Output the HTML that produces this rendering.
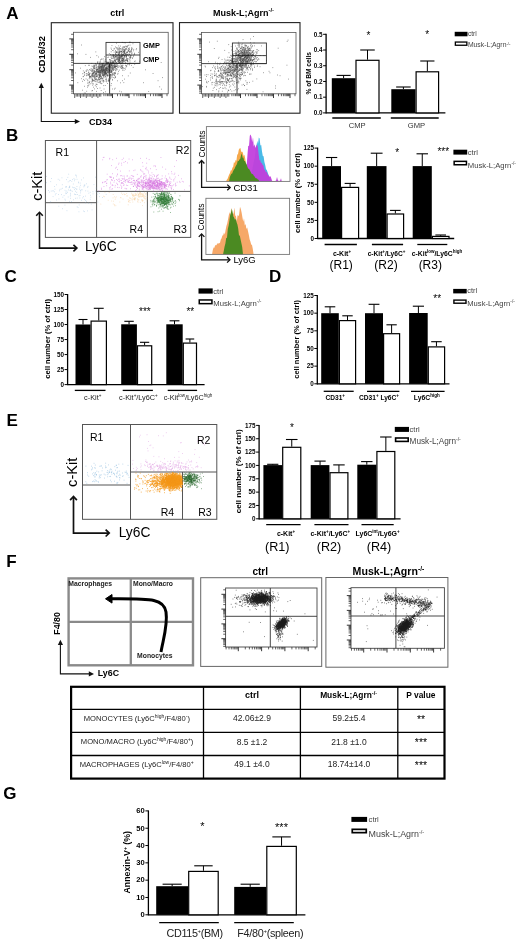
<!DOCTYPE html>
<html><head><meta charset="utf-8"><style>
html,body{margin:0;padding:0;background:#fff;}
svg{display:block;font-family:"Liberation Sans", sans-serif;filter:blur(0.4px);}
</style></head><body>
<svg width="520" height="941" viewBox="0 0 520 941">
<text x="6.2" y="19.1" font-size="17" font-weight="bold">A</text>
<text x="5.9" y="140.6" font-size="17" font-weight="bold">B</text>
<text x="4.4" y="281.9" font-size="17" font-weight="bold">C</text>
<text x="268.9" y="281.6" font-size="17" font-weight="bold">D</text>
<text x="6.6" y="425.6" font-size="17" font-weight="bold">E</text>
<text x="6.3" y="567.3" font-size="17" font-weight="bold">F</text>
<text x="3.2" y="799.3" font-size="17" font-weight="bold">G</text>
<text x="117.2" y="16.2" font-size="9" font-weight="bold" text-anchor="middle">ctrl</text>
<text x="243.5" y="16.2" font-size="9" font-weight="bold" text-anchor="middle">Musk-L;Agrn<tspan font-size="6" baseline-shift="3.6">-/-</tspan></text>
<rect x="51.3" y="22.7" width="121.7" height="90.5" fill="none" stroke="#222" stroke-width="1.1"/>
<rect x="73.5" y="32.3" width="94.69999999999999" height="61.5" fill="none" stroke="#555" stroke-width="0.8"/>
<line x1="71.1" y1="93.2" x2="73.5" y2="93.2" stroke="#222" stroke-width="0.7"/>
<line x1="71.1" y1="91.2" x2="73.5" y2="91.2" stroke="#222" stroke-width="0.7"/>
<line x1="71.1" y1="89.7" x2="73.5" y2="89.7" stroke="#222" stroke-width="0.7"/>
<line x1="71.1" y1="88.5" x2="73.5" y2="88.5" stroke="#222" stroke-width="0.7"/>
<line x1="71.1" y1="87.5" x2="73.5" y2="87.5" stroke="#222" stroke-width="0.7"/>
<line x1="71.1" y1="86.6" x2="73.5" y2="86.6" stroke="#222" stroke-width="0.7"/>
<line x1="71.1" y1="85.8" x2="73.5" y2="85.8" stroke="#222" stroke-width="0.7"/>
<line x1="69.3" y1="85.1" x2="73.5" y2="85.1" stroke="#222" stroke-width="0.9"/>
<line x1="71.1" y1="80.5" x2="73.5" y2="80.5" stroke="#222" stroke-width="0.7"/>
<line x1="71.1" y1="77.8" x2="73.5" y2="77.8" stroke="#222" stroke-width="0.7"/>
<line x1="71.1" y1="75.8" x2="73.5" y2="75.8" stroke="#222" stroke-width="0.7"/>
<line x1="71.1" y1="74.3" x2="73.5" y2="74.3" stroke="#222" stroke-width="0.7"/>
<line x1="71.1" y1="73.1" x2="73.5" y2="73.1" stroke="#222" stroke-width="0.7"/>
<line x1="71.1" y1="72.1" x2="73.5" y2="72.1" stroke="#222" stroke-width="0.7"/>
<line x1="71.1" y1="71.2" x2="73.5" y2="71.2" stroke="#222" stroke-width="0.7"/>
<line x1="71.1" y1="70.4" x2="73.5" y2="70.4" stroke="#222" stroke-width="0.7"/>
<line x1="69.3" y1="69.7" x2="73.5" y2="69.7" stroke="#222" stroke-width="0.9"/>
<line x1="71.1" y1="65.1" x2="73.5" y2="65.1" stroke="#222" stroke-width="0.7"/>
<line x1="71.1" y1="62.4" x2="73.5" y2="62.4" stroke="#222" stroke-width="0.7"/>
<line x1="71.1" y1="60.4" x2="73.5" y2="60.4" stroke="#222" stroke-width="0.7"/>
<line x1="71.1" y1="58.9" x2="73.5" y2="58.9" stroke="#222" stroke-width="0.7"/>
<line x1="71.1" y1="57.7" x2="73.5" y2="57.7" stroke="#222" stroke-width="0.7"/>
<line x1="71.1" y1="56.7" x2="73.5" y2="56.7" stroke="#222" stroke-width="0.7"/>
<line x1="71.1" y1="55.8" x2="73.5" y2="55.8" stroke="#222" stroke-width="0.7"/>
<line x1="71.1" y1="55.0" x2="73.5" y2="55.0" stroke="#222" stroke-width="0.7"/>
<line x1="69.3" y1="54.3" x2="73.5" y2="54.3" stroke="#222" stroke-width="0.9"/>
<line x1="71.1" y1="49.7" x2="73.5" y2="49.7" stroke="#222" stroke-width="0.7"/>
<line x1="71.1" y1="47.0" x2="73.5" y2="47.0" stroke="#222" stroke-width="0.7"/>
<line x1="71.1" y1="45.0" x2="73.5" y2="45.0" stroke="#222" stroke-width="0.7"/>
<line x1="71.1" y1="43.5" x2="73.5" y2="43.5" stroke="#222" stroke-width="0.7"/>
<line x1="71.1" y1="42.3" x2="73.5" y2="42.3" stroke="#222" stroke-width="0.7"/>
<line x1="71.1" y1="41.3" x2="73.5" y2="41.3" stroke="#222" stroke-width="0.7"/>
<line x1="71.1" y1="40.4" x2="73.5" y2="40.4" stroke="#222" stroke-width="0.7"/>
<line x1="71.1" y1="39.6" x2="73.5" y2="39.6" stroke="#222" stroke-width="0.7"/>
<line x1="69.3" y1="38.9" x2="73.5" y2="38.9" stroke="#222" stroke-width="0.9"/>
<line x1="71.1" y1="34.3" x2="73.5" y2="34.3" stroke="#222" stroke-width="0.7"/>
<line x1="74.7" y1="93.8" x2="74.7" y2="98.0" stroke="#222" stroke-width="0.7"/>
<line x1="76.2" y1="93.8" x2="76.2" y2="96.6" stroke="#222" stroke-width="0.7"/>
<line x1="77.6" y1="93.8" x2="77.6" y2="96.6" stroke="#222" stroke-width="0.7"/>
<line x1="79.1" y1="93.8" x2="79.1" y2="96.6" stroke="#222" stroke-width="0.7"/>
<line x1="80.5" y1="93.8" x2="80.5" y2="98.0" stroke="#222" stroke-width="0.7"/>
<line x1="82.0" y1="93.8" x2="82.0" y2="96.6" stroke="#222" stroke-width="0.7"/>
<line x1="83.4" y1="93.8" x2="83.4" y2="96.6" stroke="#222" stroke-width="0.7"/>
<line x1="84.9" y1="93.8" x2="84.9" y2="96.6" stroke="#222" stroke-width="0.7"/>
<line x1="86.3" y1="93.8" x2="86.3" y2="98.0" stroke="#222" stroke-width="0.7"/>
<line x1="87.8" y1="93.8" x2="87.8" y2="96.6" stroke="#222" stroke-width="0.7"/>
<line x1="89.2" y1="93.8" x2="89.2" y2="96.6" stroke="#222" stroke-width="0.7"/>
<line x1="90.7" y1="93.8" x2="90.7" y2="96.6" stroke="#222" stroke-width="0.7"/>
<line x1="92.1" y1="93.8" x2="92.1" y2="98.0" stroke="#222" stroke-width="0.7"/>
<line x1="93.6" y1="93.8" x2="93.6" y2="96.6" stroke="#222" stroke-width="0.7"/>
<line x1="95.0" y1="93.8" x2="95.0" y2="96.6" stroke="#222" stroke-width="0.7"/>
<line x1="96.5" y1="93.8" x2="96.5" y2="96.6" stroke="#222" stroke-width="0.7"/>
<line x1="97.9" y1="93.8" x2="97.9" y2="98.0" stroke="#222" stroke-width="0.7"/>
<line x1="99.4" y1="93.8" x2="99.4" y2="96.6" stroke="#222" stroke-width="0.7"/>
<line x1="100.8" y1="93.8" x2="100.8" y2="96.6" stroke="#222" stroke-width="0.7"/>
<line x1="103.9" y1="93.8" x2="103.9" y2="96.2" stroke="#222" stroke-width="0.7"/>
<line x1="105.9" y1="93.8" x2="105.9" y2="96.2" stroke="#222" stroke-width="0.7"/>
<line x1="107.5" y1="93.8" x2="107.5" y2="96.2" stroke="#222" stroke-width="0.7"/>
<line x1="108.8" y1="93.8" x2="108.8" y2="96.2" stroke="#222" stroke-width="0.7"/>
<line x1="109.9" y1="93.8" x2="109.9" y2="96.2" stroke="#222" stroke-width="0.7"/>
<line x1="110.9" y1="93.8" x2="110.9" y2="96.2" stroke="#222" stroke-width="0.7"/>
<line x1="111.7" y1="93.8" x2="111.7" y2="96.2" stroke="#222" stroke-width="0.7"/>
<line x1="112.5" y1="93.8" x2="112.5" y2="98.0" stroke="#222" stroke-width="0.9"/>
<line x1="117.5" y1="93.8" x2="117.5" y2="96.2" stroke="#222" stroke-width="0.7"/>
<line x1="120.4" y1="93.8" x2="120.4" y2="96.2" stroke="#222" stroke-width="0.7"/>
<line x1="122.4" y1="93.8" x2="122.4" y2="96.2" stroke="#222" stroke-width="0.7"/>
<line x1="124.0" y1="93.8" x2="124.0" y2="96.2" stroke="#222" stroke-width="0.7"/>
<line x1="125.3" y1="93.8" x2="125.3" y2="96.2" stroke="#222" stroke-width="0.7"/>
<line x1="126.4" y1="93.8" x2="126.4" y2="96.2" stroke="#222" stroke-width="0.7"/>
<line x1="127.4" y1="93.8" x2="127.4" y2="96.2" stroke="#222" stroke-width="0.7"/>
<line x1="128.2" y1="93.8" x2="128.2" y2="96.2" stroke="#222" stroke-width="0.7"/>
<line x1="129.0" y1="93.8" x2="129.0" y2="98.0" stroke="#222" stroke-width="0.9"/>
<line x1="134.0" y1="93.8" x2="134.0" y2="96.2" stroke="#222" stroke-width="0.7"/>
<line x1="136.9" y1="93.8" x2="136.9" y2="96.2" stroke="#222" stroke-width="0.7"/>
<line x1="138.9" y1="93.8" x2="138.9" y2="96.2" stroke="#222" stroke-width="0.7"/>
<line x1="140.5" y1="93.8" x2="140.5" y2="96.2" stroke="#222" stroke-width="0.7"/>
<line x1="141.8" y1="93.8" x2="141.8" y2="96.2" stroke="#222" stroke-width="0.7"/>
<line x1="142.9" y1="93.8" x2="142.9" y2="96.2" stroke="#222" stroke-width="0.7"/>
<line x1="143.9" y1="93.8" x2="143.9" y2="96.2" stroke="#222" stroke-width="0.7"/>
<line x1="144.7" y1="93.8" x2="144.7" y2="96.2" stroke="#222" stroke-width="0.7"/>
<line x1="145.5" y1="93.8" x2="145.5" y2="98.0" stroke="#222" stroke-width="0.9"/>
<line x1="150.5" y1="93.8" x2="150.5" y2="96.2" stroke="#222" stroke-width="0.7"/>
<line x1="153.4" y1="93.8" x2="153.4" y2="96.2" stroke="#222" stroke-width="0.7"/>
<line x1="155.4" y1="93.8" x2="155.4" y2="96.2" stroke="#222" stroke-width="0.7"/>
<line x1="157.0" y1="93.8" x2="157.0" y2="96.2" stroke="#222" stroke-width="0.7"/>
<line x1="158.3" y1="93.8" x2="158.3" y2="96.2" stroke="#222" stroke-width="0.7"/>
<line x1="159.4" y1="93.8" x2="159.4" y2="96.2" stroke="#222" stroke-width="0.7"/>
<line x1="160.4" y1="93.8" x2="160.4" y2="96.2" stroke="#222" stroke-width="0.7"/>
<line x1="161.2" y1="93.8" x2="161.2" y2="96.2" stroke="#222" stroke-width="0.7"/>
<line x1="162.0" y1="93.8" x2="162.0" y2="98.0" stroke="#222" stroke-width="0.9"/>
<line x1="167.0" y1="93.8" x2="167.0" y2="96.2" stroke="#222" stroke-width="0.7"/>
<rect x="179.5" y="22.6" width="120.5" height="90.6" fill="none" stroke="#222" stroke-width="1.1"/>
<rect x="201.5" y="32.5" width="94.5" height="61.3" fill="none" stroke="#555" stroke-width="0.8"/>
<line x1="199.1" y1="93.2" x2="201.5" y2="93.2" stroke="#222" stroke-width="0.7"/>
<line x1="199.1" y1="91.2" x2="201.5" y2="91.2" stroke="#222" stroke-width="0.7"/>
<line x1="199.1" y1="89.7" x2="201.5" y2="89.7" stroke="#222" stroke-width="0.7"/>
<line x1="199.1" y1="88.5" x2="201.5" y2="88.5" stroke="#222" stroke-width="0.7"/>
<line x1="199.1" y1="87.5" x2="201.5" y2="87.5" stroke="#222" stroke-width="0.7"/>
<line x1="199.1" y1="86.6" x2="201.5" y2="86.6" stroke="#222" stroke-width="0.7"/>
<line x1="199.1" y1="85.8" x2="201.5" y2="85.8" stroke="#222" stroke-width="0.7"/>
<line x1="197.3" y1="85.1" x2="201.5" y2="85.1" stroke="#222" stroke-width="0.9"/>
<line x1="199.1" y1="80.5" x2="201.5" y2="80.5" stroke="#222" stroke-width="0.7"/>
<line x1="199.1" y1="77.8" x2="201.5" y2="77.8" stroke="#222" stroke-width="0.7"/>
<line x1="199.1" y1="75.8" x2="201.5" y2="75.8" stroke="#222" stroke-width="0.7"/>
<line x1="199.1" y1="74.3" x2="201.5" y2="74.3" stroke="#222" stroke-width="0.7"/>
<line x1="199.1" y1="73.1" x2="201.5" y2="73.1" stroke="#222" stroke-width="0.7"/>
<line x1="199.1" y1="72.1" x2="201.5" y2="72.1" stroke="#222" stroke-width="0.7"/>
<line x1="199.1" y1="71.2" x2="201.5" y2="71.2" stroke="#222" stroke-width="0.7"/>
<line x1="199.1" y1="70.4" x2="201.5" y2="70.4" stroke="#222" stroke-width="0.7"/>
<line x1="197.3" y1="69.7" x2="201.5" y2="69.7" stroke="#222" stroke-width="0.9"/>
<line x1="199.1" y1="65.1" x2="201.5" y2="65.1" stroke="#222" stroke-width="0.7"/>
<line x1="199.1" y1="62.4" x2="201.5" y2="62.4" stroke="#222" stroke-width="0.7"/>
<line x1="199.1" y1="60.4" x2="201.5" y2="60.4" stroke="#222" stroke-width="0.7"/>
<line x1="199.1" y1="58.9" x2="201.5" y2="58.9" stroke="#222" stroke-width="0.7"/>
<line x1="199.1" y1="57.7" x2="201.5" y2="57.7" stroke="#222" stroke-width="0.7"/>
<line x1="199.1" y1="56.7" x2="201.5" y2="56.7" stroke="#222" stroke-width="0.7"/>
<line x1="199.1" y1="55.8" x2="201.5" y2="55.8" stroke="#222" stroke-width="0.7"/>
<line x1="199.1" y1="55.0" x2="201.5" y2="55.0" stroke="#222" stroke-width="0.7"/>
<line x1="197.3" y1="54.3" x2="201.5" y2="54.3" stroke="#222" stroke-width="0.9"/>
<line x1="199.1" y1="49.7" x2="201.5" y2="49.7" stroke="#222" stroke-width="0.7"/>
<line x1="199.1" y1="47.0" x2="201.5" y2="47.0" stroke="#222" stroke-width="0.7"/>
<line x1="199.1" y1="45.0" x2="201.5" y2="45.0" stroke="#222" stroke-width="0.7"/>
<line x1="199.1" y1="43.5" x2="201.5" y2="43.5" stroke="#222" stroke-width="0.7"/>
<line x1="199.1" y1="42.3" x2="201.5" y2="42.3" stroke="#222" stroke-width="0.7"/>
<line x1="199.1" y1="41.3" x2="201.5" y2="41.3" stroke="#222" stroke-width="0.7"/>
<line x1="199.1" y1="40.4" x2="201.5" y2="40.4" stroke="#222" stroke-width="0.7"/>
<line x1="199.1" y1="39.6" x2="201.5" y2="39.6" stroke="#222" stroke-width="0.7"/>
<line x1="197.3" y1="38.9" x2="201.5" y2="38.9" stroke="#222" stroke-width="0.9"/>
<line x1="199.1" y1="34.3" x2="201.5" y2="34.3" stroke="#222" stroke-width="0.7"/>
<line x1="202.7" y1="93.8" x2="202.7" y2="98.0" stroke="#222" stroke-width="0.7"/>
<line x1="204.1" y1="93.8" x2="204.1" y2="96.6" stroke="#222" stroke-width="0.7"/>
<line x1="205.6" y1="93.8" x2="205.6" y2="96.6" stroke="#222" stroke-width="0.7"/>
<line x1="207.0" y1="93.8" x2="207.0" y2="96.6" stroke="#222" stroke-width="0.7"/>
<line x1="208.5" y1="93.8" x2="208.5" y2="98.0" stroke="#222" stroke-width="0.7"/>
<line x1="209.9" y1="93.8" x2="209.9" y2="96.6" stroke="#222" stroke-width="0.7"/>
<line x1="211.4" y1="93.8" x2="211.4" y2="96.6" stroke="#222" stroke-width="0.7"/>
<line x1="212.8" y1="93.8" x2="212.8" y2="96.6" stroke="#222" stroke-width="0.7"/>
<line x1="214.3" y1="93.8" x2="214.3" y2="98.0" stroke="#222" stroke-width="0.7"/>
<line x1="215.7" y1="93.8" x2="215.7" y2="96.6" stroke="#222" stroke-width="0.7"/>
<line x1="217.2" y1="93.8" x2="217.2" y2="96.6" stroke="#222" stroke-width="0.7"/>
<line x1="218.6" y1="93.8" x2="218.6" y2="96.6" stroke="#222" stroke-width="0.7"/>
<line x1="220.1" y1="93.8" x2="220.1" y2="98.0" stroke="#222" stroke-width="0.7"/>
<line x1="221.5" y1="93.8" x2="221.5" y2="96.6" stroke="#222" stroke-width="0.7"/>
<line x1="223.0" y1="93.8" x2="223.0" y2="96.6" stroke="#222" stroke-width="0.7"/>
<line x1="224.4" y1="93.8" x2="224.4" y2="96.6" stroke="#222" stroke-width="0.7"/>
<line x1="225.9" y1="93.8" x2="225.9" y2="98.0" stroke="#222" stroke-width="0.7"/>
<line x1="227.3" y1="93.8" x2="227.3" y2="96.6" stroke="#222" stroke-width="0.7"/>
<line x1="228.8" y1="93.8" x2="228.8" y2="96.6" stroke="#222" stroke-width="0.7"/>
<line x1="231.9" y1="93.8" x2="231.9" y2="96.2" stroke="#222" stroke-width="0.7"/>
<line x1="233.9" y1="93.8" x2="233.9" y2="96.2" stroke="#222" stroke-width="0.7"/>
<line x1="235.5" y1="93.8" x2="235.5" y2="96.2" stroke="#222" stroke-width="0.7"/>
<line x1="236.8" y1="93.8" x2="236.8" y2="96.2" stroke="#222" stroke-width="0.7"/>
<line x1="237.9" y1="93.8" x2="237.9" y2="96.2" stroke="#222" stroke-width="0.7"/>
<line x1="238.9" y1="93.8" x2="238.9" y2="96.2" stroke="#222" stroke-width="0.7"/>
<line x1="239.7" y1="93.8" x2="239.7" y2="96.2" stroke="#222" stroke-width="0.7"/>
<line x1="240.5" y1="93.8" x2="240.5" y2="98.0" stroke="#222" stroke-width="0.9"/>
<line x1="245.5" y1="93.8" x2="245.5" y2="96.2" stroke="#222" stroke-width="0.7"/>
<line x1="248.4" y1="93.8" x2="248.4" y2="96.2" stroke="#222" stroke-width="0.7"/>
<line x1="250.4" y1="93.8" x2="250.4" y2="96.2" stroke="#222" stroke-width="0.7"/>
<line x1="252.0" y1="93.8" x2="252.0" y2="96.2" stroke="#222" stroke-width="0.7"/>
<line x1="253.3" y1="93.8" x2="253.3" y2="96.2" stroke="#222" stroke-width="0.7"/>
<line x1="254.4" y1="93.8" x2="254.4" y2="96.2" stroke="#222" stroke-width="0.7"/>
<line x1="255.4" y1="93.8" x2="255.4" y2="96.2" stroke="#222" stroke-width="0.7"/>
<line x1="256.2" y1="93.8" x2="256.2" y2="96.2" stroke="#222" stroke-width="0.7"/>
<line x1="257.0" y1="93.8" x2="257.0" y2="98.0" stroke="#222" stroke-width="0.9"/>
<line x1="262.0" y1="93.8" x2="262.0" y2="96.2" stroke="#222" stroke-width="0.7"/>
<line x1="264.9" y1="93.8" x2="264.9" y2="96.2" stroke="#222" stroke-width="0.7"/>
<line x1="266.9" y1="93.8" x2="266.9" y2="96.2" stroke="#222" stroke-width="0.7"/>
<line x1="268.5" y1="93.8" x2="268.5" y2="96.2" stroke="#222" stroke-width="0.7"/>
<line x1="269.8" y1="93.8" x2="269.8" y2="96.2" stroke="#222" stroke-width="0.7"/>
<line x1="270.9" y1="93.8" x2="270.9" y2="96.2" stroke="#222" stroke-width="0.7"/>
<line x1="271.9" y1="93.8" x2="271.9" y2="96.2" stroke="#222" stroke-width="0.7"/>
<line x1="272.7" y1="93.8" x2="272.7" y2="96.2" stroke="#222" stroke-width="0.7"/>
<line x1="273.5" y1="93.8" x2="273.5" y2="98.0" stroke="#222" stroke-width="0.9"/>
<line x1="278.5" y1="93.8" x2="278.5" y2="96.2" stroke="#222" stroke-width="0.7"/>
<line x1="281.4" y1="93.8" x2="281.4" y2="96.2" stroke="#222" stroke-width="0.7"/>
<line x1="283.4" y1="93.8" x2="283.4" y2="96.2" stroke="#222" stroke-width="0.7"/>
<line x1="285.0" y1="93.8" x2="285.0" y2="96.2" stroke="#222" stroke-width="0.7"/>
<line x1="286.3" y1="93.8" x2="286.3" y2="96.2" stroke="#222" stroke-width="0.7"/>
<line x1="287.4" y1="93.8" x2="287.4" y2="96.2" stroke="#222" stroke-width="0.7"/>
<line x1="288.4" y1="93.8" x2="288.4" y2="96.2" stroke="#222" stroke-width="0.7"/>
<line x1="289.2" y1="93.8" x2="289.2" y2="96.2" stroke="#222" stroke-width="0.7"/>
<line x1="290.0" y1="93.8" x2="290.0" y2="98.0" stroke="#222" stroke-width="0.9"/>
<line x1="295.0" y1="93.8" x2="295.0" y2="96.2" stroke="#222" stroke-width="0.7"/>
<path d="M73.4 63.4H140 M109.6 63.4V93.8" stroke="#333" stroke-width="0.9" fill="none"/>
<rect x="106" y="42.4" width="34" height="21" fill="none" stroke="#333" stroke-width="0.9"/>
<line x1="106" y1="55" x2="140" y2="55" stroke="#333" stroke-width="0.9"/>
<text x="143" y="48.2" font-size="7.4" font-weight="bold">GMP</text>
<text x="143" y="62.2" font-size="7.4" font-weight="bold">CMP</text>
<path d="M201.4 63.6H266.4 M237 63.6V93.8" stroke="#333" stroke-width="0.9" fill="none"/>
<rect x="232.4" y="43" width="34" height="20.6" fill="none" stroke="#333" stroke-width="0.9"/>
<line x1="232.4" y1="55.6" x2="266.4" y2="55.6" stroke="#333" stroke-width="0.9"/>
<path d="M104.6 71.1h0.7M100.0 68.0h0.7M98.4 68.4h0.7M107.3 74.6h0.7M98.9 70.0h0.7M108.6 69.1h0.7M102.9 66.1h0.7M105.2 72.7h0.7M92.6 74.4h0.7M86.5 73.9h0.7M89.2 77.4h0.7M94.7 76.7h0.7M104.8 68.6h0.7M83.3 79.4h0.7M103.9 70.6h0.7M91.1 75.1h0.7M94.7 71.5h0.7M110.6 62.3h0.7M105.6 73.4h0.7M99.2 72.2h0.7M105.0 69.7h0.7M94.6 75.8h0.7M111.3 58.3h0.7M110.9 66.6h0.7M103.2 80.2h0.7M107.4 62.2h0.7M105.8 71.8h0.7M104.0 73.3h0.7M104.9 72.7h0.7M113.8 61.1h0.7M104.6 67.4h0.7M102.5 65.1h0.7M99.1 71.9h0.7M113.4 70.1h0.7M92.0 73.1h0.7M104.9 59.8h0.7M100.2 71.7h0.7M115.2 66.9h0.7M100.7 70.1h0.7M105.2 76.7h0.7M100.0 70.8h0.7M106.5 68.0h0.7M100.1 66.8h0.7M103.0 68.4h0.7M114.5 67.1h0.7M105.2 72.5h0.7M103.6 75.4h0.7M105.2 72.1h0.7M94.7 77.1h0.7M86.6 70.2h0.7M99.7 68.1h0.7M110.0 77.4h0.7M96.2 71.5h0.7M106.6 70.9h0.7M102.2 70.0h0.7M110.6 68.7h0.7M95.8 74.4h0.7M102.1 66.0h0.7M104.2 65.7h0.7M112.0 66.3h0.7M103.5 67.4h0.7M98.9 63.3h0.7M95.9 76.4h0.7M89.2 82.7h0.7M92.0 80.6h0.7M99.0 76.6h0.7M101.8 63.8h0.7M116.8 69.6h0.7M102.9 69.3h0.7M100.7 67.2h0.7M111.4 63.1h0.7M101.9 67.3h0.7M96.4 68.2h0.7M113.5 63.8h0.7M111.6 65.7h0.7M97.9 71.9h0.7M99.7 72.5h0.7M100.4 70.6h0.7M91.6 73.3h0.7M115.5 60.1h0.7M96.5 76.0h0.7M111.9 58.4h0.7M101.0 68.6h0.7M91.8 80.6h0.7M104.0 70.4h0.7M99.1 75.0h0.7M99.5 71.9h0.7M92.8 70.6h0.7M113.3 62.1h0.7M106.2 68.6h0.7M99.5 70.1h0.7M108.3 66.1h0.7M102.9 70.8h0.7M114.6 67.2h0.7M105.8 66.2h0.7M95.2 79.7h0.7M111.2 65.1h0.7M109.9 70.4h0.7M112.4 69.6h0.7M103.6 77.6h0.7M96.1 78.7h0.7M109.7 71.0h0.7M121.8 66.9h0.7M91.5 69.0h0.7M108.2 62.6h0.7M105.7 73.1h0.7M86.8 69.7h0.7M106.1 69.0h0.7M102.2 71.2h0.7M94.1 68.4h0.7M100.7 67.2h0.7M92.3 79.2h0.7M104.4 71.8h0.7M94.9 72.1h0.7M94.4 71.3h0.7M103.9 66.3h0.7M107.5 69.6h0.7M116.9 55.8h0.7M110.7 65.7h0.7M100.8 64.8h0.7M102.0 74.8h0.7M103.5 70.7h0.7M104.2 75.5h0.7M99.2 62.1h0.7M94.5 66.0h0.7M77.5 82.7h0.7M114.5 64.2h0.7M92.9 71.9h0.7M113.1 65.5h0.7M104.3 69.6h0.7M106.0 72.8h0.7M108.8 68.3h0.7M96.9 76.6h0.7M101.0 77.1h0.7M93.8 75.2h0.7M101.2 65.2h0.7M120.5 67.6h0.7M102.0 74.9h0.7M101.5 58.8h0.7M105.8 68.7h0.7M102.4 65.7h0.7M101.5 70.6h0.7M114.0 65.9h0.7M107.2 75.6h0.7M98.9 71.1h0.7M93.1 83.9h0.7M113.4 69.0h0.7M109.4 67.4h0.7M105.2 68.1h0.7M102.5 71.1h0.7M117.0 65.2h0.7M102.3 68.2h0.7M102.4 78.7h0.7M108.1 68.0h0.7M99.0 67.5h0.7M105.3 73.5h0.7M100.5 70.9h0.7M102.5 71.4h0.7M91.1 76.3h0.7M99.2 77.1h0.7M99.2 75.6h0.7M115.2 62.0h0.7M99.7 73.4h0.7M101.9 66.4h0.7M111.8 75.3h0.7M101.6 70.4h0.7M96.5 75.9h0.7M92.0 71.6h0.7M112.1 60.9h0.7M115.6 70.7h0.7M107.2 70.8h0.7M118.8 60.5h0.7M96.5 67.7h0.7M107.4 75.2h0.7M109.5 62.3h0.7M96.3 72.0h0.7M105.8 67.9h0.7M106.3 70.1h0.7M101.6 71.2h0.7M105.4 68.8h0.7M111.9 74.5h0.7M108.7 67.5h0.7M91.7 79.0h0.7M85.9 73.6h0.7M112.1 68.7h0.7M99.2 64.5h0.7M99.7 69.2h0.7M113.7 75.3h0.7M104.1 66.2h0.7M94.8 75.1h0.7M100.2 66.6h0.7M102.5 65.3h0.7M114.9 68.9h0.7M111.5 63.4h0.7M107.7 67.2h0.7M100.3 70.5h0.7M90.8 70.6h0.7M109.8 65.7h0.7M107.8 72.7h0.7M88.8 74.9h0.7M106.2 70.6h0.7M103.2 75.4h0.7M103.1 64.6h0.7M98.4 77.1h0.7M103.6 61.0h0.7M115.8 66.1h0.7M113.7 62.6h0.7M99.3 67.2h0.7M123.4 57.9h0.7M115.0 60.5h0.7M101.8 63.2h0.7M103.1 75.3h0.7M96.5 79.5h0.7M104.4 64.7h0.7M99.1 70.6h0.7M102.5 68.3h0.7M96.9 72.6h0.7M93.3 69.9h0.7M105.5 73.4h0.7M92.1 76.9h0.7M96.9 69.4h0.7M109.6 64.3h0.7M114.0 60.4h0.7M106.5 67.4h0.7M99.4 75.5h0.7M104.1 72.9h0.7M101.4 66.3h0.7M103.3 70.6h0.7M109.6 62.4h0.7M100.1 63.9h0.7M106.8 63.1h0.7M89.8 77.9h0.7M109.4 59.5h0.7M94.0 72.2h0.7M96.0 76.5h0.7M96.2 71.0h0.7M107.0 64.6h0.7M105.3 64.5h0.7M90.7 68.8h0.7M117.8 60.5h0.7M105.8 68.8h0.7M105.4 69.5h0.7M116.7 57.6h0.7M89.7 73.3h0.7M95.2 78.7h0.7M108.4 62.8h0.7M92.4 75.0h0.7M108.9 53.5h0.7M105.8 63.7h0.7M109.8 61.4h0.7M98.6 65.8h0.7M99.3 79.4h0.7M109.6 64.8h0.7M93.2 67.0h0.7M100.9 71.7h0.7M103.1 70.0h0.7M95.1 74.8h0.7M106.4 74.9h0.7M118.3 61.1h0.7M97.9 73.2h0.7M97.7 70.0h0.7M101.4 66.5h0.7M108.5 66.9h0.7M105.6 68.2h0.7M96.3 69.8h0.7M101.0 69.1h0.7M105.8 68.9h0.7M93.5 76.4h0.7M92.2 73.8h0.7M97.3 63.8h0.7M105.0 70.1h0.7M101.9 69.2h0.7M99.0 68.1h0.7M100.7 69.2h0.7M102.2 65.2h0.7M106.1 69.5h0.7M102.0 69.0h0.7M104.8 61.5h0.7M108.1 68.8h0.7M107.0 70.1h0.7M98.4 72.0h0.7M109.9 68.7h0.7M102.4 63.6h0.7M110.6 71.8h0.7M112.4 66.3h0.7M93.8 80.4h0.7M97.5 61.5h0.7M103.8 62.9h0.7M92.6 73.5h0.7M113.1 62.9h0.7M109.8 75.1h0.7M116.2 62.5h0.7M99.5 66.5h0.7M99.5 74.7h0.7M107.3 68.6h0.7M110.1 62.7h0.7M105.1 72.9h0.7M110.8 71.3h0.7M106.4 67.1h0.7M104.7 64.7h0.7M92.4 79.5h0.7M104.2 71.4h0.7M90.0 76.3h0.7M97.5 69.6h0.7M85.7 78.9h0.7M111.8 67.3h0.7M99.3 72.7h0.7M104.1 56.6h0.7M104.2 72.5h0.7M112.9 73.1h0.7M113.5 66.0h0.7M108.0 71.5h0.7M99.7 72.3h0.7M115.2 73.0h0.7M102.7 70.5h0.7M108.4 74.0h0.7M106.8 75.5h0.7M96.1 73.7h0.7M104.1 73.8h0.7M109.0 59.8h0.7M97.6 75.3h0.7M95.7 67.4h0.7M113.1 67.1h0.7M106.8 66.1h0.7M111.5 64.5h0.7M110.6 61.8h0.7M97.8 74.6h0.7M99.9 75.6h0.7M104.1 65.5h0.7M103.8 68.4h0.7M109.8 63.6h0.7M103.1 76.4h0.7M125.6 67.2h0.7M105.0 70.5h0.7M115.7 62.6h0.7M96.6 74.8h0.7M105.8 65.0h0.7M88.2 72.2h0.7M107.6 64.2h0.7M103.3 71.4h0.7M108.1 66.0h0.7M106.0 64.5h0.7M99.0 67.9h0.7M112.8 64.8h0.7M97.5 72.0h0.7M103.7 73.5h0.7M89.4 73.4h0.7M106.4 80.9h0.7M111.2 65.3h0.7M113.9 74.3h0.7M101.4 69.7h0.7M114.5 66.3h0.7M108.2 65.1h0.7M122.6 67.6h0.7M109.8 69.9h0.7M89.5 81.4h0.7M103.4 72.5h0.7M108.6 65.7h0.7M91.6 78.9h0.7M97.5 72.1h0.7M98.6 71.5h0.7M88.6 84.8h0.7M108.3 72.9h0.7M119.5 61.2h0.7M88.1 74.9h0.7M93.5 73.6h0.7M100.4 62.4h0.7M103.5 63.0h0.7M106.1 68.3h0.7M101.4 71.1h0.7M98.5 70.2h0.7M90.8 77.5h0.7M122.5 68.9h0.7M115.8 66.6h0.7M101.8 78.3h0.7M103.4 70.0h0.7M101.9 71.6h0.7M100.4 71.7h0.7M94.8 73.5h0.7M121.6 59.5h0.7M103.3 73.0h0.7M107.2 62.8h0.7M104.3 74.3h0.7M106.4 69.2h0.7M114.7 60.5h0.7M103.6 67.7h0.7M111.5 56.2h0.7M97.7 71.1h0.7M110.4 69.2h0.7M111.6 58.0h0.7M109.2 65.6h0.7M99.9 75.0h0.7M92.5 66.6h0.7M98.0 66.2h0.7M99.7 74.3h0.7M109.8 74.4h0.7M99.2 65.3h0.7M96.2 70.1h0.7M95.4 77.1h0.7M94.8 65.7h0.7M109.2 66.5h0.7M107.0 68.8h0.7M109.0 67.3h0.7M114.5 66.0h0.7M107.9 69.7h0.7M92.3 76.0h0.7M102.4 71.9h0.7M96.8 82.1h0.7M102.3 65.1h0.7M90.1 76.7h0.7M101.8 67.8h0.7M103.4 67.3h0.7M106.8 64.9h0.7M105.8 73.7h0.7M121.9 54.8h0.7M98.6 69.0h0.7M107.7 62.3h0.7M100.2 72.1h0.7M94.4 70.9h0.7M95.9 64.5h0.7M91.9 75.0h0.7M104.8 68.7h0.7M89.2 76.3h0.7M111.4 68.4h0.7M101.5 67.1h0.7M107.7 65.1h0.7M93.2 72.3h0.7M115.8 64.3h0.7M112.0 63.0h0.7M110.0 63.6h0.7M108.0 79.8h0.7M108.9 64.7h0.7M104.0 71.6h0.7M112.4 62.8h0.7M89.8 76.8h0.7M104.3 70.3h0.7M114.9 65.2h0.7M108.0 62.3h0.7M115.2 73.7h0.7M110.6 67.4h0.7M109.0 75.8h0.7M96.5 73.8h0.7M109.1 70.6h0.7M101.2 73.1h0.7M102.1 71.7h0.7M100.6 66.4h0.7M105.7 73.3h0.7M96.0 73.5h0.7M106.9 63.1h0.7M103.2 65.3h0.7M117.7 73.3h0.7M119.3 60.1h0.7M110.0 67.1h0.7M108.0 75.2h0.7M95.9 79.8h0.7M106.6 75.3h0.7M104.0 66.7h0.7M107.7 71.4h0.7M105.3 71.6h0.7M95.5 64.6h0.7M112.5 68.5h0.7M105.3 69.6h0.7M111.1 63.7h0.7M98.1 72.5h0.7M110.4 59.6h0.7M111.9 62.3h0.7M98.1 79.5h0.7M100.5 65.7h0.7M103.2 75.0h0.7M112.4 63.1h0.7M108.7 70.8h0.7M99.7 74.2h0.7M102.6 68.2h0.7M100.3 72.5h0.7M103.0 67.8h0.7M103.0 76.0h0.7M107.5 72.3h0.7M114.6 66.7h0.7M120.0 56.8h0.7M109.6 65.2h0.7M122.0 67.8h0.7M86.7 75.3h0.7M110.8 69.9h0.7M109.6 66.4h0.7M108.9 70.3h0.7M105.6 74.1h0.7M87.7 82.5h0.7M98.0 78.1h0.7M100.4 67.8h0.7M105.0 65.0h0.7M93.6 68.4h0.7M104.8 71.9h0.7M111.7 64.9h0.7M112.2 65.3h0.7M104.5 72.5h0.7M111.5 64.0h0.7M101.8 70.5h0.7M102.8 66.4h0.7M111.2 63.9h0.7M105.9 64.9h0.7M107.6 69.8h0.7M105.0 79.2h0.7M110.6 74.8h0.7M110.1 63.3h0.7M101.9 73.3h0.7M104.6 69.9h0.7M98.0 64.7h0.7M97.6 62.9h0.7M105.4 65.7h0.7M98.0 72.4h0.7M103.1 63.6h0.7M88.1 74.0h0.7M86.1 75.7h0.7M114.2 59.0h0.7M106.2 62.1h0.7M105.7 67.5h0.7M104.7 72.3h0.7M118.1 62.8h0.7M102.9 65.9h0.7M108.0 66.5h0.7M110.4 66.1h0.7M113.4 55.0h0.7M103.5 74.5h0.7M99.6 68.7h0.7M99.0 66.2h0.7M110.1 78.3h0.7M110.6 60.8h0.7M96.3 72.5h0.7M110.1 62.5h0.7M100.5 76.3h0.7M110.0 64.7h0.7M92.0 69.4h0.7M93.9 65.0h0.7M108.5 64.3h0.7M111.7 74.6h0.7M110.7 60.5h0.7M113.2 70.3h0.7M96.2 69.9h0.7M99.8 64.7h0.7M110.4 54.6h0.7M94.8 74.0h0.7M102.6 71.6h0.7M105.7 68.0h0.7M108.4 57.1h0.7M102.5 67.4h0.7M105.5 70.2h0.7M95.5 71.8h0.7M110.9 67.7h0.7M103.0 80.5h0.7M118.9 54.3h0.7M111.6 77.8h0.7M110.6 67.3h0.7M101.2 69.0h0.7M101.2 69.0h0.7M109.0 65.2h0.7M98.0 67.6h0.7M101.7 67.0h0.7M104.8 74.6h0.7M107.9 70.2h0.7M106.9 68.6h0.7M102.4 69.5h0.7M107.6 62.6h0.7M114.5 64.1h0.7M97.1 71.6h0.7M99.1 73.6h0.7M100.8 77.4h0.7M93.1 65.3h0.7M94.1 66.0h0.7M105.9 74.0h0.7M106.2 62.2h0.7M101.8 79.9h0.7M106.5 68.6h0.7M117.4 74.2h0.7M114.4 64.7h0.7M108.1 70.6h0.7M97.0 68.9h0.7M102.4 66.3h0.7M103.7 70.6h0.7M120.5 56.4h0.7M102.7 70.0h0.7M109.6 71.8h0.7M98.5 69.2h0.7M89.3 74.0h0.7M108.3 67.8h0.7M95.3 73.2h0.7M105.3 71.7h0.7M98.8 71.8h0.7M87.4 74.0h0.7M112.0 54.8h0.7M101.8 72.3h0.7M99.4 68.7h0.7M103.5 70.3h0.7M99.4 63.5h0.7M101.1 67.6h0.7M100.2 73.3h0.7M110.9 70.4h0.7M102.1 75.6h0.7M115.5 68.9h0.7M114.5 63.2h0.7M104.4 73.8h0.7M93.8 76.9h0.7M99.1 71.0h0.7M88.6 74.6h0.7M105.7 73.3h0.7M111.5 65.3h0.7M100.8 67.8h0.7M106.6 67.3h0.7M112.4 73.6h0.7M100.6 64.7h0.7M94.2 68.6h0.7M97.4 80.1h0.7M102.6 63.5h0.7M111.7 71.6h0.7M99.8 69.2h0.7M102.0 72.6h0.7M111.5 71.4h0.7M115.9 68.9h0.7M116.0 66.3h0.7M91.8 76.4h0.7M105.6 67.2h0.7M110.3 64.6h0.7M99.8 79.4h0.7M109.7 67.8h0.7M113.5 69.7h0.7M101.5 59.5h0.7M97.8 71.4h0.7M96.7 75.2h0.7M112.3 62.9h0.7M99.4 82.5h0.7M97.9 67.5h0.7M106.7 70.5h0.7M100.2 76.0h0.7M98.3 68.8h0.7M107.0 72.0h0.7M99.8 74.1h0.7M109.2 80.7h0.7M101.4 78.2h0.7M103.3 69.8h0.7M111.5 70.0h0.7M114.6 65.5h0.7M98.2 70.7h0.7M109.2 69.8h0.7M115.8 65.2h0.7M115.4 70.7h0.7M102.2 63.9h0.7M91.8 70.1h0.7M114.6 59.8h0.7M114.8 66.6h0.7M119.5 65.9h0.7M102.8 69.7h0.7M105.0 70.3h0.7M99.8 72.3h0.7M113.0 56.6h0.7M104.1 65.5h0.7M107.2 72.2h0.7M105.2 73.1h0.7M93.9 81.2h0.7M100.6 75.0h0.7M100.0 59.8h0.7M98.6 74.2h0.7M116.7 64.1h0.7M103.0 63.7h0.7M118.9 70.1h0.7M103.8 69.1h0.7M93.2 80.5h0.7M126.6 60.4h0.7M115.0 66.3h0.7M99.1 79.3h0.7M93.9 74.8h0.7M108.0 72.0h0.7M108.1 69.5h0.7M95.4 68.7h0.7M103.0 67.1h0.7M91.1 71.3h0.7M96.3 65.5h0.7M90.1 70.1h0.7M106.3 70.7h0.7M116.5 55.5h0.7M100.6 76.4h0.7M101.6 69.8h0.7M128.2 48.7h0.7M113.1 55.2h0.7M124.4 55.9h0.7M113.2 57.2h0.7M126.0 56.2h0.7M121.2 60.6h0.7M118.9 47.4h0.7M122.0 58.6h0.7M113.0 50.2h0.7M123.1 59.8h0.7M121.9 42.4h0.7M129.5 42.6h0.7M129.8 57.2h0.7M126.6 53.1h0.7M119.0 62.4h0.7M111.2 49.3h0.7M136.1 48.6h0.7M126.8 46.2h0.7M133.1 56.7h0.7M128.5 50.4h0.7M116.4 59.6h0.7M107.5 57.5h0.7M119.3 52.0h0.7M121.0 56.2h0.7M134.1 53.9h0.7M125.5 60.6h0.7M117.7 57.5h0.7M122.0 48.2h0.7M116.7 52.1h0.7M127.5 61.6h0.7M119.5 59.5h0.7M114.7 54.9h0.7M121.3 65.7h0.7M133.4 49.4h0.7M121.2 61.1h0.7M123.1 60.1h0.7M124.1 56.0h0.7M122.8 51.7h0.7M115.0 51.1h0.7M115.7 52.3h0.7M118.4 53.0h0.7M123.8 57.3h0.7M113.5 58.0h0.7M120.3 62.1h0.7M131.8 53.1h0.7M125.0 62.6h0.7M120.2 66.9h0.7M110.7 48.1h0.7M138.0 52.4h0.7M118.2 60.3h0.7M121.4 57.1h0.7M113.6 58.7h0.7M124.7 55.2h0.7M127.3 52.1h0.7M129.7 45.1h0.7M117.2 48.0h0.7M120.8 65.3h0.7M119.7 61.3h0.7M118.5 52.4h0.7M118.9 55.3h0.7M122.3 60.5h0.7M123.0 51.6h0.7M119.0 60.2h0.7M124.8 60.1h0.7M135.8 49.7h0.7M121.3 55.5h0.7M115.6 55.7h0.7M116.6 58.1h0.7M122.5 60.2h0.7M119.7 56.7h0.7M121.9 66.4h0.7M129.7 60.8h0.7M130.0 58.7h0.7M123.2 59.5h0.7M129.6 41.9h0.7M132.2 58.1h0.7M126.1 57.3h0.7M125.3 49.0h0.7M121.0 51.3h0.7M117.1 56.1h0.7M121.8 57.1h0.7M119.5 49.0h0.7M134.2 53.2h0.7M124.0 52.0h0.7M123.3 58.4h0.7M118.5 48.2h0.7M134.4 64.3h0.7M117.2 66.4h0.7M123.2 54.2h0.7M124.2 46.6h0.7M127.3 60.9h0.7M119.8 55.1h0.7M121.1 53.9h0.7M125.8 47.0h0.7M121.8 48.1h0.7M124.6 53.2h0.7M110.8 65.4h0.7M116.0 58.2h0.7M125.1 46.2h0.7M122.0 65.3h0.7M127.4 61.4h0.7M120.6 51.5h0.7M125.6 60.9h0.7M126.1 52.6h0.7M121.9 55.4h0.7M125.6 65.4h0.7M118.4 51.7h0.7M122.2 60.5h0.7M124.3 53.1h0.7M119.2 58.5h0.7M110.6 57.2h0.7M123.9 51.3h0.7M127.5 59.2h0.7M124.9 53.7h0.7M133.3 50.8h0.7M122.8 60.1h0.7M121.1 51.3h0.7M121.8 55.1h0.7M112.9 62.5h0.7M119.4 55.4h0.7M113.7 60.6h0.7M122.2 56.5h0.7M119.1 62.5h0.7M116.0 59.6h0.7M125.5 48.6h0.7M123.2 61.9h0.7M119.4 56.3h0.7M126.3 59.2h0.7M109.8 60.9h0.7M114.2 55.6h0.7M115.6 55.9h0.7M120.5 51.6h0.7M123.8 57.1h0.7M119.3 59.1h0.7M130.1 51.3h0.7M119.0 58.1h0.7M118.9 60.3h0.7M123.1 49.8h0.7M124.6 60.9h0.7M120.5 58.5h0.7M115.0 56.6h0.7M126.5 65.9h0.7M118.6 55.5h0.7M119.1 57.4h0.7M125.3 54.4h0.7M131.3 49.5h0.7M129.0 51.9h0.7M120.1 48.6h0.7M121.3 56.2h0.7M114.3 48.9h0.7M124.5 51.5h0.7M119.4 56.6h0.7M122.3 58.3h0.7M113.8 57.1h0.7M123.7 55.5h0.7M118.6 55.2h0.7M118.3 58.7h0.7M123.7 47.9h0.7M131.0 53.7h0.7M122.5 60.5h0.7M110.5 54.8h0.7M115.3 59.1h0.7M119.0 55.3h0.7M115.8 47.8h0.7M119.7 49.0h0.7M117.9 56.8h0.7M112.9 55.0h0.7M117.7 59.5h0.7M126.2 56.0h0.7M115.4 56.6h0.7M119.5 60.9h0.7M117.2 67.8h0.7M117.5 54.8h0.7M126.6 58.6h0.7M126.7 58.7h0.7M126.4 60.0h0.7M126.9 51.2h0.7M128.6 51.5h0.7M119.5 52.3h0.7M123.2 59.9h0.7M118.5 63.0h0.7M124.3 55.8h0.7M112.4 63.4h0.7M122.4 50.9h0.7M115.0 46.9h0.7M122.8 51.2h0.7M120.0 46.1h0.7M124.2 52.7h0.7M122.5 49.7h0.7M126.3 66.4h0.7M116.3 56.3h0.7M117.7 53.2h0.7M132.3 58.1h0.7M113.7 52.1h0.7M130.4 55.9h0.7M129.0 57.3h0.7M117.8 58.4h0.7M111.8 55.7h0.7M124.1 50.1h0.7M131.8 48.2h0.7M121.8 61.2h0.7M131.1 51.4h0.7M118.0 61.7h0.7M126.3 49.3h0.7M121.9 62.5h0.7M119.2 51.5h0.7M118.1 54.6h0.7M123.6 55.4h0.7M129.0 54.5h0.7M116.7 63.0h0.7M127.2 54.5h0.7M124.6 50.3h0.7M120.9 62.8h0.7M110.8 51.8h0.7M124.1 49.7h0.7M116.4 51.9h0.7M112.8 56.4h0.7M121.6 58.6h0.7M114.6 66.9h0.7M113.7 56.3h0.7M124.6 53.3h0.7M121.2 68.2h0.7M119.1 60.0h0.7M127.2 60.5h0.7M123.2 61.3h0.7M122.3 62.7h0.7M117.7 57.4h0.7M131.0 50.5h0.7M129.4 63.9h0.7M121.0 51.7h0.7M121.4 49.1h0.7M130.5 56.4h0.7M117.6 55.7h0.7M122.8 55.4h0.7M119.6 61.5h0.7M112.1 61.6h0.7M119.5 56.4h0.7M119.5 50.4h0.7M123.9 53.3h0.7M115.0 53.3h0.7M118.1 61.5h0.7M118.1 59.6h0.7M129.7 56.0h0.7M127.7 49.4h0.7M120.6 63.6h0.7M126.8 59.0h0.7M125.7 60.4h0.7M127.8 55.6h0.7M125.3 55.7h0.7M123.7 56.0h0.7M124.6 50.6h0.7M129.0 49.5h0.7M125.9 52.2h0.7M127.2 64.3h0.7M116.8 52.4h0.7M118.0 57.4h0.7M131.7 49.1h0.7M122.8 49.0h0.7M125.6 57.2h0.7M127.4 47.1h0.7M125.5 55.0h0.7M117.6 59.5h0.7M113.7 48.4h0.7M126.2 55.9h0.7M116.0 52.6h0.7M129.1 51.7h0.7M130.6 57.6h0.7M122.3 60.8h0.7M120.8 56.6h0.7M121.6 56.3h0.7M127.1 52.5h0.7M120.5 55.5h0.7M120.7 51.5h0.7M119.7 57.6h0.7M119.3 57.6h0.7M125.6 65.5h0.7M129.0 53.0h0.7M128.5 64.2h0.7M123.1 54.5h0.7M124.2 56.1h0.7M127.9 50.9h0.7M128.1 45.3h0.7M121.8 49.9h0.7M128.6 48.4h0.7M124.6 59.6h0.7M123.9 47.5h0.7M116.2 52.1h0.7M122.3 55.1h0.7M118.4 54.7h0.7M118.1 54.6h0.7M128.9 59.7h0.7M113.5 62.4h0.7M121.8 59.3h0.7M117.5 58.8h0.7M119.8 62.2h0.7M121.9 55.1h0.7M122.8 53.8h0.7M117.3 63.7h0.7M122.7 54.4h0.7M129.9 57.0h0.7M115.0 57.0h0.7M132.9 55.7h0.7M115.2 54.3h0.7M117.8 56.4h0.7M115.4 61.7h0.7M112.9 56.1h0.7M123.8 50.2h0.7M123.6 58.6h0.7M124.4 51.9h0.7M119.6 52.8h0.7M131.4 52.2h0.7M117.4 59.9h0.7M126.5 55.2h0.7M133.9 54.6h0.7M119.5 57.6h0.7M117.4 61.4h0.7M131.0 65.4h0.7M116.0 48.0h0.7M119.5 58.8h0.7M114.0 57.3h0.7M121.5 58.5h0.7M118.6 53.3h0.7M123.7 51.2h0.7M115.6 52.7h0.7M120.7 61.2h0.7M115.0 61.5h0.7M123.9 52.1h0.7M119.6 51.0h0.7M130.9 55.4h0.7M117.6 48.7h0.7M120.6 63.3h0.7M130.1 51.0h0.7M125.4 49.4h0.7M121.2 56.7h0.7M119.1 48.9h0.7M130.0 57.5h0.7M113.0 55.1h0.7M121.5 52.4h0.7M114.5 67.4h0.7M121.2 53.7h0.7M131.3 49.0h0.7M119.1 59.0h0.7M115.3 56.9h0.7M121.9 52.6h0.7M125.2 63.7h0.7M128.1 55.9h0.7M125.7 55.9h0.7M128.1 50.8h0.7M126.9 45.9h0.7M116.7 51.8h0.7M122.2 59.1h0.7M126.1 48.4h0.7M120.9 54.7h0.7M115.2 54.2h0.7M116.9 49.4h0.7M122.5 55.7h0.7M116.1 54.6h0.7M121.9 67.8h0.7M121.2 66.5h0.7M123.4 52.5h0.7M120.3 63.9h0.7M126.4 46.5h0.7M124.0 60.9h0.7M129.6 62.2h0.7M121.3 60.0h0.7M123.2 68.1h0.7M112.1 50.5h0.7M121.0 55.9h0.7M129.0 48.0h0.7M123.8 58.2h0.7M128.5 50.2h0.7M128.0 54.2h0.7M121.0 57.3h0.7M119.3 52.5h0.7M122.8 46.6h0.7M129.9 55.4h0.7M119.2 53.5h0.7M122.5 58.5h0.7M126.0 54.4h0.7M124.5 50.4h0.7M118.1 49.4h0.7M125.7 53.9h0.7M123.8 61.7h0.7M116.2 43.2h0.7M117.7 50.5h0.7M134.2 61.4h0.7M120.0 58.1h0.7M122.0 58.2h0.7M128.7 58.5h0.7M122.7 65.3h0.7M118.9 60.3h0.7M129.1 54.5h0.7M115.9 56.7h0.7M119.9 57.4h0.7M122.8 47.2h0.7M125.8 56.6h0.7M125.8 55.7h0.7M129.9 52.4h0.7M127.3 55.0h0.7M123.7 42.7h0.7M114.0 67.4h0.7M96.3 70.2h0.7M82.2 81.3h0.7M96.6 81.3h0.7M91.6 90.9h0.7M104.0 72.2h0.7M92.6 73.3h0.7M89.1 76.8h0.7M101.5 73.8h0.7M87.1 79.9h0.7M93.6 80.2h0.7M122.4 70.3h0.7M94.1 66.1h0.7M82.9 70.9h0.7M107.0 66.8h0.7M100.8 70.8h0.7M107.1 83.5h0.7M94.2 76.0h0.7M96.5 84.3h0.7M88.4 72.6h0.7M84.0 72.5h0.7M114.3 89.1h0.7M94.9 85.7h0.7M101.2 66.8h0.7M98.6 74.8h0.7M100.8 90.5h0.7M84.1 86.3h0.7M103.6 69.8h0.7M106.1 79.9h0.7M104.8 76.9h0.7M102.9 58.9h0.7M123.5 82.6h0.7M114.8 76.9h0.7M87.6 80.8h0.7M92.2 75.0h0.7M109.3 65.4h0.7M95.1 63.5h0.7M100.7 76.3h0.7M92.8 73.7h0.7M117.2 58.6h0.7M89.1 74.8h0.7M120.2 82.8h0.7M103.2 68.9h0.7M100.9 83.7h0.7M97.2 88.5h0.7M116.3 68.9h0.7M110.7 76.8h0.7M114.4 61.1h0.7M112.7 67.1h0.7M94.6 79.2h0.7M96.9 69.7h0.7M83.3 76.4h0.7M122.3 80.7h0.7M112.0 79.5h0.7M96.6 76.9h0.7M101.6 66.8h0.7M92.4 80.2h0.7M95.7 69.7h0.7M105.1 71.5h0.7M112.2 70.2h0.7M99.4 77.2h0.7M98.3 71.6h0.7M100.2 81.6h0.7M112.3 80.2h0.7M84.0 80.4h0.7M98.4 78.0h0.7M96.0 73.8h0.7M110.3 72.5h0.7M94.3 88.9h0.7M110.2 66.7h0.7M108.1 66.5h0.7M112.6 68.4h0.7M92.9 76.4h0.7M94.9 79.8h0.7M103.9 74.4h0.7M85.6 54.4h0.7M97.3 62.5h0.7M107.8 81.0h0.7M103.6 71.3h0.7M99.8 75.0h0.7M94.8 73.8h0.7M96.3 86.8h0.7M104.7 81.1h0.7M99.7 76.6h0.7M101.7 78.7h0.7M111.0 72.7h0.7M93.0 73.2h0.7M117.7 65.5h0.7M103.4 85.6h0.7M114.4 73.3h0.7M105.0 91.8h0.7M107.5 76.6h0.7M96.1 66.8h0.7M89.9 83.8h0.7M105.2 71.7h0.7M86.1 71.3h0.7M94.4 67.3h0.7M114.4 78.1h0.7M132.8 67.4h0.7M93.5 72.2h0.7M103.1 82.0h0.7M109.8 75.9h0.7M106.1 78.2h0.7M113.3 61.5h0.7M93.3 68.3h0.7M122.0 75.7h0.7M106.0 63.9h0.7M103.0 72.7h0.7M102.2 73.4h0.7M106.0 70.1h0.7M111.2 72.6h0.7M98.7 75.7h0.7M100.0 82.2h0.7M100.2 78.1h0.7M93.7 67.4h0.7M107.9 64.1h0.7M110.0 74.5h0.7M82.7 76.7h0.7M94.4 72.2h0.7M92.4 85.2h0.7M100.8 78.6h0.7M98.6 78.9h0.7M94.4 78.3h0.7M107.9 72.6h0.7M94.2 70.2h0.7M104.7 76.4h0.7M97.1 71.3h0.7M114.8 88.2h0.7M100.0 78.5h0.7M98.2 57.0h0.7M101.1 69.9h0.7M115.1 67.0h0.7M93.6 77.2h0.7M102.0 70.7h0.7M97.5 66.7h0.7M102.0 81.0h0.7M123.7 70.3h0.7M108.2 81.2h0.7M117.1 80.8h0.7M112.4 69.2h0.7M105.1 74.9h0.7M105.6 74.9h0.7M88.0 65.3h0.7M89.3 65.3h0.7M102.7 74.7h0.7M87.3 87.2h0.7M110.9 71.6h0.7M124.2 79.1h0.7M93.0 87.2h0.7M107.6 75.6h0.7M109.2 66.1h0.7M93.6 72.5h0.7M94.2 77.9h0.7M84.4 75.1h0.7M107.5 71.9h0.7M100.2 61.2h0.7M92.5 75.1h0.7M100.6 71.1h0.7M111.1 70.3h0.7M102.2 75.0h0.7M107.7 68.7h0.7M114.6 72.7h0.7M103.7 74.5h0.7M110.2 79.0h0.7M112.5 73.0h0.7M111.1 71.7h0.7M114.4 69.0h0.7M85.3 93.1h0.7M99.6 67.1h0.7M97.4 70.3h0.7M124.4 68.4h0.7M88.0 85.8h0.7M103.7 89.0h0.7M84.9 65.6h0.7M101.6 72.5h0.7M91.5 63.4h0.7M111.2 83.6h0.7M86.4 91.3h0.7M103.3 92.5h0.7M105.8 71.8h0.7M114.6 73.2h0.7M98.2 82.3h0.7M91.6 66.0h0.7M121.2 63.3h0.7M96.9 80.0h0.7M82.4 73.7h0.7M95.5 74.0h0.7M106.0 81.8h0.7M98.7 80.3h0.7M104.8 65.3h0.7M101.5 68.0h0.7M114.0 72.9h0.7M98.2 66.4h0.7M100.9 69.6h0.7M108.7 71.0h0.7M96.6 84.6h0.7M107.4 67.9h0.7M112.7 67.7h0.7M99.3 77.2h0.7M93.2 75.7h0.7M104.9 85.5h0.7M116.2 66.4h0.7M117.9 67.2h0.7M108.4 78.8h0.7M112.1 89.0h0.7M100.9 66.3h0.7M113.8 66.3h0.7M90.1 57.4h0.7M114.4 75.5h0.7M112.9 77.5h0.7M118.7 66.8h0.7M109.1 65.9h0.7M101.6 83.3h0.7M102.0 64.7h0.7M105.1 72.2h0.7M95.1 81.6h0.7M93.3 66.9h0.7M96.2 91.4h0.7M87.6 83.5h0.7M110.0 76.2h0.7M88.8 78.7h0.7M105.8 79.4h0.7M92.1 70.6h0.7M115.3 77.4h0.7M103.9 69.4h0.7M106.4 73.8h0.7M106.7 63.2h0.7M102.7 73.5h0.7M91.6 81.5h0.7M101.1 72.2h0.7M101.8 64.2h0.7M102.7 78.0h0.7M108.0 80.5h0.7M85.6 71.0h0.7M105.7 76.8h0.7M125.0 69.1h0.7M95.7 84.2h0.7M89.2 69.5h0.7M129.0 64.9h0.7M110.8 75.3h0.7M120.9 68.4h0.7M111.1 62.8h0.7M92.3 90.5h0.7M118.2 71.4h0.7M104.7 75.0h0.7M99.7 88.0h0.7M110.1 75.1h0.7M108.8 79.9h0.7M109.2 77.4h0.7M91.9 83.7h0.7M122.3 61.5h0.7M103.4 81.3h0.7M113.4 74.5h0.7M87.4 85.7h0.7M87.8 75.3h0.7M106.6 70.6h0.7M119.4 91.2h0.7M111.9 76.0h0.7M91.2 75.1h0.7M89.8 76.6h0.7M89.2 75.9h0.7M97.0 69.6h0.7M83.8 73.0h0.7M106.7 73.3h0.7M115.3 76.9h0.7M100.6 80.8h0.7M113.3 68.1h0.7M91.5 82.8h0.7M81.1 78.7h0.7M109.7 72.0h0.7M99.9 83.3h0.7M92.5 81.6h0.7M94.5 71.9h0.7M103.7 66.5h0.7M119.2 62.4h0.7M118.6 58.8h0.7M104.5 64.6h0.7M89.1 82.2h0.7M150.9 58.0h0.7M159.4 86.8h0.7M127.1 60.4h0.7M84.2 75.0h0.7M143.1 82.7h0.7M134.9 61.0h0.7M101.2 63.6h0.7M152.7 73.5h0.7M118.4 45.9h0.7M80.1 68.2h0.7M81.1 45.0h0.7M95.5 51.9h0.7M129.9 73.0h0.7M148.4 91.5h0.7M83.9 93.0h0.7M77.0 53.8h0.7M131.0 47.8h0.7M111.9 67.5h0.7M114.7 63.4h0.7M148.9 60.1h0.7M157.7 80.7h0.7M162.1 77.6h0.7M145.1 69.8h0.7M75.3 72.9h0.7M88.5 70.8h0.7M127.9 75.9h0.7M161.0 89.2h0.7M82.3 90.2h0.7M121.3 91.9h0.7M110.7 85.6h0.7M111.6 45.6h0.7M99.2 63.9h0.7M99.4 81.4h0.7M96.5 55.6h0.7M84.3 72.2h0.7M124.9 42.9h0.7M115.1 50.8h0.7M139.2 61.2h0.7M132.6 43.7h0.7M160.8 62.5h0.7" stroke="#1a1a1a" stroke-width="0.7" opacity="0.8"/>
<path d="M252.1 59.7h0.7M240.8 57.2h0.7M249.0 50.4h0.7M242.8 62.1h0.7M250.7 46.6h0.7M228.6 52.7h0.7M239.5 57.1h0.7M247.9 54.0h0.7M241.7 58.2h0.7M239.9 57.5h0.7M247.2 72.3h0.7M247.5 49.8h0.7M238.9 55.4h0.7M235.0 55.0h0.7M243.0 62.4h0.7M241.2 52.3h0.7M235.7 51.9h0.7M244.2 54.9h0.7M249.6 50.3h0.7M251.0 55.5h0.7M240.9 44.7h0.7M239.9 62.6h0.7M252.6 54.5h0.7M248.1 52.3h0.7M241.7 53.0h0.7M250.7 56.1h0.7M243.1 54.6h0.7M248.5 56.8h0.7M244.2 67.2h0.7M246.3 55.6h0.7M254.7 59.0h0.7M245.6 59.2h0.7M238.2 54.4h0.7M235.8 67.1h0.7M236.6 63.4h0.7M238.7 52.0h0.7M244.5 57.9h0.7M251.8 64.8h0.7M248.7 60.3h0.7M243.4 61.1h0.7M244.8 53.1h0.7M244.4 55.8h0.7M246.8 57.9h0.7M240.8 52.8h0.7M245.4 45.0h0.7M245.0 65.9h0.7M229.6 57.2h0.7M245.2 45.4h0.7M253.1 36.5h0.7M255.6 62.1h0.7M249.3 53.0h0.7M245.0 50.3h0.7M246.9 48.2h0.7M245.6 62.1h0.7M238.5 56.0h0.7M243.1 48.1h0.7M251.7 55.7h0.7M237.1 58.6h0.7M239.6 53.8h0.7M243.9 51.9h0.7M248.5 50.2h0.7M250.0 53.9h0.7M248.3 51.3h0.7M240.0 50.5h0.7M249.9 60.2h0.7M258.6 59.3h0.7M245.9 54.3h0.7M247.0 55.1h0.7M254.5 58.6h0.7M239.3 53.7h0.7M252.7 55.2h0.7M246.2 63.1h0.7M242.4 55.2h0.7M238.6 45.8h0.7M247.0 47.6h0.7M240.5 52.9h0.7M248.6 54.2h0.7M241.6 46.5h0.7M241.5 47.8h0.7M247.3 57.5h0.7M249.1 67.6h0.7M249.0 58.4h0.7M245.3 54.6h0.7M252.3 60.4h0.7M240.4 64.4h0.7M249.6 60.5h0.7M244.9 48.1h0.7M242.7 68.5h0.7M243.4 47.5h0.7M246.1 53.3h0.7M230.8 46.6h0.7M237.3 60.5h0.7M244.2 54.7h0.7M247.7 58.9h0.7M233.5 58.3h0.7M238.2 50.6h0.7M241.9 56.3h0.7M240.6 48.3h0.7M246.6 68.3h0.7M236.1 48.5h0.7M247.6 58.8h0.7M245.1 48.8h0.7M248.5 49.7h0.7M237.9 54.7h0.7M245.9 60.2h0.7M248.2 54.7h0.7M250.0 54.7h0.7M246.7 46.4h0.7M238.5 63.3h0.7M237.2 56.9h0.7M243.5 53.4h0.7M245.5 64.7h0.7M233.7 65.7h0.7M256.9 51.8h0.7M246.4 60.1h0.7M252.0 45.9h0.7M245.1 54.8h0.7M248.2 55.8h0.7M247.5 52.4h0.7M243.9 52.1h0.7M241.3 56.5h0.7M241.9 49.7h0.7M252.8 52.3h0.7M240.1 64.8h0.7M242.2 60.3h0.7M245.4 57.4h0.7M244.7 52.4h0.7M249.4 67.4h0.7M233.6 60.6h0.7M245.1 49.2h0.7M242.3 70.8h0.7M247.3 68.4h0.7M247.9 55.4h0.7M248.8 58.7h0.7M252.0 56.2h0.7M246.1 56.7h0.7M253.7 58.1h0.7M238.5 54.3h0.7M245.4 51.9h0.7M241.1 51.3h0.7M244.5 58.9h0.7M250.2 54.2h0.7M255.6 51.7h0.7M263.6 55.6h0.7M246.5 52.3h0.7M230.1 60.4h0.7M249.9 66.5h0.7M241.8 69.3h0.7M245.2 60.6h0.7M232.2 61.6h0.7M244.6 60.5h0.7M243.1 49.4h0.7M251.3 58.1h0.7M250.2 60.6h0.7M250.6 53.8h0.7M235.1 50.7h0.7M253.4 57.5h0.7M244.6 53.4h0.7M245.2 56.1h0.7M241.8 52.7h0.7M256.7 53.2h0.7M239.2 49.8h0.7M242.7 61.4h0.7M248.5 53.3h0.7M244.6 54.2h0.7M241.9 65.4h0.7M252.0 69.3h0.7M240.8 56.6h0.7M249.1 53.0h0.7M235.9 53.3h0.7M246.2 57.7h0.7M246.6 61.8h0.7M250.8 56.0h0.7M244.6 54.5h0.7M249.7 60.1h0.7M246.2 58.4h0.7M240.4 48.7h0.7M241.4 62.2h0.7M250.6 64.1h0.7M247.1 60.8h0.7M253.9 59.1h0.7M241.5 56.1h0.7M243.6 50.2h0.7M249.6 60.9h0.7M246.6 68.0h0.7M243.1 55.4h0.7M242.3 52.5h0.7M247.2 55.3h0.7M254.8 56.3h0.7M247.3 53.7h0.7M237.5 58.2h0.7M242.6 63.0h0.7M248.3 65.4h0.7M250.5 59.3h0.7M246.6 56.7h0.7M250.3 60.0h0.7M242.3 60.1h0.7M258.4 50.6h0.7M242.3 52.6h0.7M240.0 65.4h0.7M245.9 57.6h0.7M259.7 66.7h0.7M242.6 63.6h0.7M249.0 57.1h0.7M247.4 55.0h0.7M254.5 56.5h0.7M249.4 62.4h0.7M250.6 56.9h0.7M250.3 65.3h0.7M247.5 54.5h0.7M239.9 55.7h0.7M239.8 58.6h0.7M242.1 44.0h0.7M246.4 59.6h0.7M243.9 50.3h0.7M250.1 49.7h0.7M236.5 52.2h0.7M247.0 61.6h0.7M251.5 55.0h0.7M237.5 54.5h0.7M240.0 56.7h0.7M236.1 60.0h0.7M248.0 54.0h0.7M245.5 49.8h0.7M236.2 55.1h0.7M253.1 59.6h0.7M245.1 63.6h0.7M246.4 65.1h0.7M246.6 52.5h0.7M247.5 50.1h0.7M237.2 49.6h0.7M246.2 55.2h0.7M243.8 53.8h0.7M251.6 50.9h0.7M243.8 64.4h0.7M253.0 55.2h0.7M234.8 55.9h0.7M248.2 54.9h0.7M250.2 45.4h0.7M247.2 51.2h0.7M251.7 53.1h0.7M249.0 50.4h0.7M235.4 52.4h0.7M239.8 51.4h0.7M254.0 61.3h0.7M244.3 49.7h0.7M243.0 52.4h0.7M253.2 55.0h0.7M246.7 52.8h0.7M233.0 55.4h0.7M240.0 60.2h0.7M243.9 51.3h0.7M246.2 65.6h0.7M238.2 52.6h0.7M242.4 52.5h0.7M243.9 59.8h0.7M250.3 42.7h0.7M245.0 56.3h0.7M244.2 55.1h0.7M245.3 62.3h0.7M242.3 56.2h0.7M245.2 56.6h0.7M246.2 62.0h0.7M245.3 57.0h0.7M242.7 50.4h0.7M238.6 51.6h0.7M244.5 51.6h0.7M240.0 59.3h0.7M244.1 45.1h0.7M253.8 53.0h0.7M246.6 62.2h0.7M244.1 52.5h0.7M254.1 45.8h0.7M246.2 61.0h0.7M239.3 57.4h0.7M251.9 68.8h0.7M240.3 57.4h0.7M248.6 55.2h0.7M239.6 60.6h0.7M246.5 58.3h0.7M252.9 59.6h0.7M247.7 57.0h0.7M239.0 57.3h0.7M245.3 53.3h0.7M243.8 51.2h0.7M257.3 65.2h0.7M243.8 59.0h0.7M246.4 63.6h0.7M247.4 55.6h0.7M244.1 57.1h0.7M241.2 61.7h0.7M242.4 60.4h0.7M247.9 61.9h0.7M247.0 61.8h0.7M241.5 61.2h0.7M244.2 57.5h0.7M247.3 61.1h0.7M235.2 61.6h0.7M239.8 65.6h0.7M232.7 54.1h0.7M239.7 68.4h0.7M238.6 59.1h0.7M238.5 46.9h0.7M244.6 60.4h0.7M246.0 61.7h0.7M243.1 56.7h0.7M243.7 58.7h0.7M255.6 54.5h0.7M244.7 52.1h0.7M244.1 65.7h0.7M237.4 52.9h0.7M243.6 53.8h0.7M250.3 39.0h0.7M248.3 59.3h0.7M237.9 54.5h0.7M250.6 64.4h0.7M237.0 48.8h0.7M253.2 62.8h0.7M238.7 44.1h0.7M252.1 52.1h0.7M250.7 53.6h0.7M242.1 54.2h0.7M255.6 61.3h0.7M232.0 54.7h0.7M253.4 50.6h0.7M238.0 58.6h0.7M244.2 55.7h0.7M241.9 55.2h0.7M243.3 58.7h0.7M240.2 55.9h0.7M246.9 63.6h0.7M246.7 54.7h0.7M248.6 57.3h0.7M251.7 56.8h0.7M257.0 60.2h0.7M243.9 53.7h0.7M250.6 57.3h0.7M241.5 47.9h0.7M236.2 61.4h0.7M250.6 59.1h0.7M240.5 64.3h0.7M243.0 59.2h0.7M245.5 50.7h0.7M237.7 45.4h0.7M236.6 47.6h0.7M247.4 55.5h0.7M250.5 56.3h0.7M242.4 59.1h0.7M244.2 60.2h0.7M244.6 49.8h0.7M245.1 56.3h0.7M245.2 61.6h0.7M253.1 50.7h0.7M238.6 44.0h0.7M243.4 53.8h0.7M234.4 61.7h0.7M246.5 50.7h0.7M241.1 51.3h0.7M245.8 46.0h0.7M247.4 67.6h0.7M246.2 58.5h0.7M241.8 49.7h0.7M245.7 58.4h0.7M240.4 59.8h0.7M253.6 59.7h0.7M234.8 53.5h0.7M238.9 65.1h0.7M249.6 58.8h0.7M238.1 51.1h0.7M245.6 56.4h0.7M240.9 58.4h0.7M248.8 56.1h0.7M235.3 46.0h0.7M244.0 57.4h0.7M242.8 54.1h0.7M242.9 61.3h0.7M245.0 56.8h0.7M238.7 54.3h0.7M243.8 50.0h0.7M237.8 56.5h0.7M251.6 54.8h0.7M252.3 52.5h0.7M240.5 48.7h0.7M245.0 65.2h0.7M248.2 59.5h0.7M248.6 54.6h0.7M244.2 57.1h0.7M249.4 57.3h0.7M247.9 55.9h0.7M240.5 56.0h0.7M242.2 63.4h0.7M233.7 58.7h0.7M256.6 49.6h0.7M239.1 58.0h0.7M251.3 52.7h0.7M248.4 55.4h0.7M249.5 74.5h0.7M244.3 52.8h0.7M243.2 59.1h0.7M248.7 59.6h0.7M242.8 47.7h0.7M247.1 53.3h0.7M240.5 48.2h0.7M240.5 53.0h0.7M241.8 47.9h0.7M245.5 56.6h0.7M237.9 54.6h0.7M242.4 62.7h0.7M231.2 58.8h0.7M235.5 56.7h0.7M248.1 50.9h0.7M244.0 51.0h0.7M256.9 57.5h0.7M248.1 46.4h0.7M241.5 64.2h0.7M243.5 54.9h0.7M244.1 48.3h0.7M249.0 54.6h0.7M246.1 51.3h0.7M246.2 51.1h0.7M252.3 60.6h0.7M250.8 57.2h0.7M242.7 39.6h0.7M248.8 52.9h0.7M244.9 54.2h0.7M236.7 55.6h0.7M251.3 62.8h0.7M239.9 52.1h0.7M250.7 48.3h0.7M255.8 52.4h0.7M242.5 63.2h0.7M250.8 44.7h0.7M252.5 51.5h0.7M251.9 51.1h0.7M237.9 61.8h0.7M254.1 66.1h0.7M255.3 56.7h0.7M242.7 53.5h0.7M241.8 51.9h0.7M238.4 42.2h0.7M245.9 55.5h0.7M259.8 55.5h0.7M243.7 60.1h0.7M237.4 54.9h0.7M238.3 67.6h0.7M245.7 48.3h0.7M246.6 61.5h0.7M248.3 57.2h0.7M239.3 54.0h0.7M247.4 61.0h0.7M238.4 51.2h0.7M249.0 48.6h0.7M251.1 55.3h0.7M253.1 64.2h0.7M250.2 59.1h0.7M238.8 53.8h0.7M251.5 63.4h0.7M256.9 66.4h0.7M247.0 56.6h0.7M250.2 54.2h0.7M242.5 50.2h0.7M247.9 48.1h0.7M244.7 47.0h0.7M248.6 48.1h0.7M246.1 45.5h0.7M245.1 63.5h0.7M241.0 57.9h0.7M237.8 43.9h0.7M247.5 57.9h0.7M240.5 61.3h0.7M238.8 51.8h0.7M243.6 52.1h0.7M253.7 42.9h0.7M250.8 60.2h0.7M231.2 50.0h0.7M246.9 52.2h0.7M249.3 61.7h0.7M240.9 50.7h0.7M231.3 62.3h0.7M240.8 59.5h0.7M243.4 47.8h0.7M256.1 58.9h0.7M247.0 47.7h0.7M241.8 53.7h0.7M240.5 50.4h0.7M247.7 56.5h0.7M245.9 52.5h0.7M252.1 54.6h0.7M229.5 57.5h0.7M246.7 61.5h0.7M242.9 55.2h0.7M242.9 61.0h0.7M241.4 53.4h0.7M242.3 60.5h0.7M238.8 47.6h0.7M246.8 50.9h0.7M247.6 57.4h0.7M253.4 59.6h0.7M241.7 56.1h0.7M241.8 67.9h0.7M250.1 63.0h0.7M239.1 45.0h0.7M253.1 53.6h0.7M245.8 56.1h0.7M249.4 57.8h0.7M239.0 65.1h0.7M241.3 54.4h0.7M255.8 57.9h0.7M239.4 46.2h0.7M246.9 58.7h0.7M242.0 49.1h0.7M238.3 50.4h0.7M247.8 60.2h0.7M248.8 49.9h0.7M247.4 58.7h0.7M242.1 56.1h0.7M256.4 53.2h0.7M248.7 51.9h0.7M241.7 46.3h0.7M247.3 62.8h0.7M258.3 58.8h0.7M248.7 55.0h0.7M241.6 56.2h0.7M246.6 50.4h0.7M247.8 48.7h0.7M233.7 53.6h0.7M233.6 51.4h0.7M250.4 52.7h0.7M248.5 62.1h0.7M250.5 50.8h0.7M252.7 55.7h0.7M245.9 58.5h0.7M236.0 54.2h0.7M245.7 59.6h0.7M242.8 56.0h0.7M252.9 62.1h0.7M251.6 61.7h0.7M242.3 55.0h0.7M246.0 53.7h0.7M245.8 66.3h0.7M242.0 50.9h0.7M251.3 65.4h0.7M247.9 62.8h0.7M241.7 54.1h0.7M241.1 56.5h0.7M252.1 46.0h0.7M251.4 47.2h0.7M245.5 61.2h0.7M248.8 56.4h0.7M237.2 61.1h0.7M245.0 72.4h0.7M244.3 57.5h0.7M238.1 55.5h0.7M240.3 64.0h0.7M244.8 59.7h0.7M240.4 54.5h0.7M249.7 48.1h0.7M236.5 61.7h0.7M238.2 55.7h0.7M248.0 49.7h0.7M240.3 58.4h0.7M251.2 64.3h0.7M231.9 67.5h0.7M230.5 71.2h0.7M239.9 53.5h0.7M238.6 55.3h0.7M224.0 62.4h0.7M251.7 55.4h0.7M235.7 61.7h0.7M237.2 51.0h0.7M243.2 75.8h0.7M233.2 68.0h0.7M238.4 58.9h0.7M239.2 70.2h0.7M238.6 66.7h0.7M234.4 69.2h0.7M241.0 72.3h0.7M240.6 61.2h0.7M220.2 81.9h0.7M238.7 58.0h0.7M217.7 71.2h0.7M239.5 56.4h0.7M233.3 69.4h0.7M245.0 59.6h0.7M233.5 64.0h0.7M251.4 62.4h0.7M230.9 60.2h0.7M232.0 72.7h0.7M233.5 73.7h0.7M239.6 65.5h0.7M242.4 64.9h0.7M228.7 68.9h0.7M249.4 48.5h0.7M235.9 73.3h0.7M232.3 63.2h0.7M227.9 75.2h0.7M247.9 67.0h0.7M239.7 70.4h0.7M228.9 72.1h0.7M231.6 70.3h0.7M244.9 66.9h0.7M232.7 76.8h0.7M229.3 63.8h0.7M230.1 60.3h0.7M236.9 67.3h0.7M236.2 69.4h0.7M233.7 67.6h0.7M225.5 73.6h0.7M228.3 68.4h0.7M235.9 67.3h0.7M218.9 67.5h0.7M235.3 69.7h0.7M241.5 68.2h0.7M247.2 61.5h0.7M232.6 61.5h0.7M227.6 68.8h0.7M238.7 65.6h0.7M235.5 65.3h0.7M241.3 63.7h0.7M239.2 65.9h0.7M228.7 64.2h0.7M240.9 65.3h0.7M233.1 65.3h0.7M250.4 50.8h0.7M235.2 68.3h0.7M227.9 72.5h0.7M252.2 60.9h0.7M242.5 65.4h0.7M239.8 69.7h0.7M233.5 64.9h0.7M239.6 69.6h0.7M240.6 67.3h0.7M224.8 81.8h0.7M257.5 59.9h0.7M231.0 63.8h0.7M234.9 60.1h0.7M239.7 59.9h0.7M247.4 67.2h0.7M221.9 77.8h0.7M226.4 63.3h0.7M230.8 68.2h0.7M238.8 53.8h0.7M250.1 69.7h0.7M242.1 65.4h0.7M232.2 60.8h0.7M241.2 65.0h0.7M249.5 73.8h0.7M242.7 64.2h0.7M243.3 51.9h0.7M226.4 70.2h0.7M233.4 72.5h0.7M239.1 75.5h0.7M249.6 61.6h0.7M235.1 70.8h0.7M238.6 57.0h0.7M240.8 67.4h0.7M242.6 72.0h0.7M242.3 56.0h0.7M234.3 61.6h0.7M237.5 59.1h0.7M244.0 63.0h0.7M242.7 60.3h0.7M230.8 81.5h0.7M239.1 73.1h0.7M241.3 66.8h0.7M250.6 58.1h0.7M241.6 52.1h0.7M241.7 60.4h0.7M235.0 66.7h0.7M243.8 71.7h0.7M222.5 75.8h0.7M234.4 75.0h0.7M234.3 70.2h0.7M235.2 71.1h0.7M242.2 59.0h0.7M231.9 59.3h0.7M241.0 68.3h0.7M235.4 73.9h0.7M214.9 68.4h0.7M224.2 71.0h0.7M235.9 65.5h0.7M237.8 69.6h0.7M228.5 62.7h0.7M233.5 81.9h0.7M218.1 77.3h0.7M248.3 60.7h0.7M229.9 70.3h0.7M246.2 67.0h0.7M231.8 74.1h0.7M241.3 69.7h0.7M245.2 57.3h0.7M226.6 75.3h0.7M251.3 59.9h0.7M245.3 75.6h0.7M231.2 75.4h0.7M232.0 69.2h0.7M241.4 72.4h0.7M227.4 68.4h0.7M225.8 76.4h0.7M234.0 70.3h0.7M227.0 69.9h0.7M243.1 59.9h0.7M242.3 65.2h0.7M228.5 60.8h0.7M243.8 61.7h0.7M236.9 51.9h0.7M217.0 64.9h0.7M232.8 75.2h0.7M240.1 62.9h0.7M239.4 68.8h0.7M235.0 69.3h0.7M230.1 55.4h0.7M237.4 74.1h0.7M232.6 67.4h0.7M230.0 66.9h0.7M243.4 59.0h0.7M218.7 57.3h0.7M225.6 60.1h0.7M225.1 79.0h0.7M235.2 53.7h0.7M243.7 63.7h0.7M232.5 73.4h0.7M220.2 69.0h0.7M221.9 68.4h0.7M238.3 55.5h0.7M224.5 67.7h0.7M236.4 63.5h0.7M240.1 58.3h0.7M224.9 70.4h0.7M233.3 61.6h0.7M243.7 72.7h0.7M231.8 69.2h0.7M243.8 56.1h0.7M226.2 65.4h0.7M240.4 66.3h0.7M234.9 67.0h0.7M247.9 63.3h0.7M225.4 73.2h0.7M238.8 68.7h0.7M232.1 64.3h0.7M226.7 60.4h0.7M233.6 63.5h0.7M235.9 59.0h0.7M229.4 63.9h0.7M230.0 74.7h0.7M233.6 70.4h0.7M227.7 72.2h0.7M221.7 72.6h0.7M233.7 71.2h0.7M236.4 64.3h0.7M242.3 62.6h0.7M241.9 66.7h0.7M234.1 65.0h0.7M236.6 62.5h0.7M241.9 69.0h0.7M240.6 59.9h0.7M225.9 72.4h0.7M238.1 71.7h0.7M232.0 67.1h0.7M239.4 60.1h0.7M239.7 74.6h0.7M248.5 61.2h0.7M234.4 60.3h0.7M239.8 63.4h0.7M235.5 62.6h0.7M234.8 65.3h0.7M242.3 70.8h0.7M232.9 56.7h0.7M223.4 63.9h0.7M231.4 72.6h0.7M236.6 61.3h0.7M235.1 61.3h0.7M220.6 67.0h0.7M233.6 76.8h0.7M229.5 78.5h0.7M244.7 58.4h0.7M233.2 63.5h0.7M237.4 69.1h0.7M238.7 70.5h0.7M245.3 61.5h0.7M237.7 64.1h0.7M234.5 59.2h0.7M239.1 64.9h0.7M235.9 80.2h0.7M225.6 67.1h0.7M231.4 55.9h0.7M224.8 63.3h0.7M227.9 70.4h0.7M241.3 69.4h0.7M245.1 67.2h0.7M238.3 60.9h0.7M242.1 58.1h0.7M235.7 76.1h0.7M241.9 63.0h0.7M243.7 66.1h0.7M225.1 72.6h0.7M227.1 72.7h0.7M234.8 75.6h0.7M236.7 59.7h0.7M231.5 60.7h0.7M237.4 68.3h0.7M231.3 56.0h0.7M234.5 70.1h0.7M241.3 69.7h0.7M227.6 75.0h0.7M231.2 70.3h0.7M240.6 67.0h0.7M231.7 69.8h0.7M222.3 65.7h0.7M239.3 62.9h0.7M220.8 70.6h0.7M240.4 72.9h0.7M245.6 64.2h0.7M221.9 74.8h0.7M240.1 65.3h0.7M237.7 62.8h0.7M253.0 63.6h0.7M231.6 62.1h0.7M248.8 53.0h0.7M250.2 68.5h0.7M229.3 72.2h0.7M234.4 70.2h0.7M243.9 73.1h0.7M239.7 63.0h0.7M242.8 59.0h0.7M239.8 78.0h0.7M227.8 68.1h0.7M232.4 61.1h0.7M223.2 81.7h0.7M227.9 67.7h0.7M229.5 63.5h0.7M228.0 72.3h0.7M255.4 57.0h0.7M236.1 55.4h0.7M231.5 60.8h0.7M240.4 61.0h0.7M235.4 65.4h0.7M226.3 62.2h0.7M235.3 56.8h0.7M225.7 70.8h0.7M231.0 70.9h0.7M243.6 61.9h0.7M236.9 65.1h0.7M235.9 53.3h0.7M235.1 59.9h0.7M226.3 72.4h0.7M234.4 70.7h0.7M236.2 49.9h0.7M241.0 75.2h0.7M246.3 68.1h0.7M231.6 59.0h0.7M229.3 75.1h0.7M240.1 57.8h0.7M234.2 68.6h0.7M221.4 73.5h0.7M254.2 67.5h0.7M240.4 74.8h0.7M229.0 65.1h0.7M221.9 81.9h0.7M240.0 78.5h0.7M238.4 65.2h0.7M226.8 82.1h0.7M232.2 67.2h0.7M222.0 81.6h0.7M240.8 58.2h0.7M237.3 67.3h0.7M242.8 61.5h0.7M247.3 56.1h0.7M229.5 67.1h0.7M214.2 75.5h0.7M243.7 62.0h0.7M230.5 71.8h0.7M219.6 75.2h0.7M241.5 66.5h0.7M232.6 74.1h0.7M247.9 54.5h0.7M236.0 55.2h0.7M222.9 78.9h0.7M236.4 66.7h0.7M230.2 67.7h0.7M246.8 69.6h0.7M228.6 59.7h0.7M246.8 62.2h0.7M241.1 63.3h0.7M252.8 54.4h0.7M233.4 55.0h0.7M229.0 65.9h0.7M236.3 67.8h0.7M235.4 77.7h0.7M226.2 69.5h0.7M233.3 59.2h0.7M241.7 65.9h0.7M239.3 76.1h0.7M237.0 66.9h0.7M223.1 63.4h0.7M229.8 67.8h0.7M234.5 71.9h0.7M214.3 73.2h0.7M226.2 81.5h0.7M229.7 66.6h0.7M230.2 75.8h0.7M233.1 69.2h0.7M224.2 81.8h0.7M240.1 66.5h0.7M244.0 58.8h0.7M236.5 70.1h0.7M237.9 62.7h0.7M234.2 63.5h0.7M243.7 66.6h0.7M241.5 74.5h0.7M223.4 72.9h0.7M246.8 55.3h0.7M228.1 80.6h0.7M235.7 57.8h0.7M238.0 57.4h0.7M225.1 72.3h0.7M228.5 63.6h0.7M229.6 63.4h0.7M235.9 65.6h0.7M239.6 60.1h0.7M221.5 67.0h0.7M238.5 74.2h0.7M239.7 58.7h0.7M238.8 55.9h0.7M241.8 59.1h0.7M243.2 64.9h0.7M234.5 68.9h0.7M227.4 71.2h0.7M256.5 78.9h0.7M241.0 62.8h0.7M231.4 76.1h0.7M220.7 71.0h0.7M234.3 58.7h0.7M250.4 63.0h0.7M229.6 66.5h0.7M221.3 66.5h0.7M240.8 66.6h0.7M239.0 65.4h0.7M232.5 70.6h0.7M224.7 73.7h0.7M250.6 64.4h0.7M231.0 66.9h0.7M251.4 67.0h0.7M223.1 71.9h0.7M241.1 70.3h0.7M231.4 73.3h0.7M240.8 78.3h0.7M238.3 63.2h0.7M236.4 72.5h0.7M237.1 57.6h0.7M232.9 58.8h0.7M225.8 64.1h0.7M223.5 69.8h0.7M229.9 73.5h0.7M240.7 60.8h0.7M229.8 75.5h0.7M214.4 67.8h0.7M243.0 65.2h0.7M242.1 60.0h0.7M224.6 70.3h0.7M237.3 59.6h0.7M225.9 63.4h0.7M229.6 75.9h0.7M235.2 58.4h0.7M225.8 69.1h0.7M235.9 57.9h0.7M227.5 57.2h0.7M227.6 74.5h0.7M238.5 56.1h0.7M232.3 73.6h0.7M230.9 65.6h0.7M240.0 64.2h0.7M246.3 63.9h0.7M230.9 68.5h0.7M230.8 60.2h0.7M231.4 75.5h0.7M226.9 78.8h0.7M237.2 63.9h0.7M241.0 65.4h0.7M243.2 58.0h0.7M233.1 66.1h0.7M252.5 60.6h0.7M227.7 69.3h0.7M230.4 69.7h0.7M244.4 75.3h0.7M225.3 80.1h0.7M236.6 60.6h0.7M232.9 64.6h0.7M239.1 70.3h0.7M228.5 79.8h0.7M237.6 74.8h0.7M242.5 69.5h0.7M243.2 68.0h0.7M233.4 62.0h0.7M242.8 65.8h0.7M244.8 46.1h0.7M237.5 71.8h0.7M225.6 71.5h0.7M255.8 61.5h0.7M233.7 77.0h0.7M246.9 63.4h0.7M239.2 65.1h0.7M227.6 68.2h0.7M241.5 62.9h0.7M248.3 54.9h0.7M216.9 76.9h0.7M238.9 66.3h0.7M233.6 62.0h0.7M244.6 55.3h0.7M240.0 61.0h0.7M231.3 78.6h0.7M214.5 75.1h0.7M237.8 62.2h0.7M241.0 61.7h0.7M239.2 78.1h0.7M233.6 66.4h0.7M225.4 68.2h0.7M242.3 65.2h0.7M233.6 62.9h0.7M235.5 54.8h0.7M232.5 66.6h0.7M230.0 71.1h0.7M228.3 65.8h0.7M251.4 60.0h0.7M244.8 60.1h0.7M245.4 64.6h0.7M252.3 70.4h0.7M235.0 68.3h0.7M224.4 50.4h0.7M225.7 73.3h0.7M238.8 60.1h0.7M248.3 65.9h0.7M237.4 74.6h0.7M250.3 59.1h0.7M233.3 77.7h0.7M233.6 65.1h0.7M235.1 63.0h0.7M246.3 64.0h0.7M246.8 62.3h0.7M229.6 69.4h0.7M241.2 59.6h0.7M256.8 49.8h0.7M235.3 74.2h0.7M241.4 62.0h0.7M235.6 69.1h0.7M244.6 65.1h0.7M235.1 69.5h0.7M244.6 65.1h0.7M210.4 77.9h0.7M229.6 69.0h0.7M240.2 69.2h0.7M240.2 62.2h0.7M241.7 73.8h0.7M232.4 70.5h0.7M248.6 59.5h0.7M222.1 78.2h0.7M232.8 67.5h0.7M245.2 62.7h0.7M236.9 71.4h0.7M239.5 64.2h0.7M239.0 65.6h0.7M232.0 65.7h0.7M233.2 61.6h0.7M230.8 78.4h0.7M234.2 67.1h0.7M235.1 66.8h0.7M236.4 66.2h0.7M233.0 74.4h0.7M234.2 74.2h0.7M218.5 71.1h0.7M242.8 60.2h0.7M232.2 71.2h0.7M228.5 71.7h0.7M218.2 75.4h0.7M232.9 71.8h0.7M239.8 57.6h0.7M246.0 55.0h0.7M213.3 65.9h0.7M247.1 57.7h0.7M228.9 66.0h0.7M216.2 89.6h0.7M227.8 90.1h0.7M218.0 58.4h0.7M233.2 70.8h0.7M225.7 88.8h0.7M224.6 85.7h0.7M223.4 70.2h0.7M229.1 69.9h0.7M240.0 79.9h0.7M226.9 80.5h0.7M230.4 72.3h0.7M234.0 71.7h0.7M229.6 66.9h0.7M226.9 78.9h0.7M215.8 75.0h0.7M220.9 83.2h0.7M218.3 81.5h0.7M242.0 74.4h0.7M208.2 81.6h0.7M235.5 70.9h0.7M238.1 77.7h0.7M229.0 72.8h0.7M219.1 75.5h0.7M226.9 79.9h0.7M229.0 72.5h0.7M226.6 78.9h0.7M206.3 74.7h0.7M216.2 76.8h0.7M221.7 74.9h0.7M217.3 83.7h0.7M224.7 62.6h0.7M223.0 67.3h0.7M242.3 67.7h0.7M221.2 77.8h0.7M223.0 76.2h0.7M242.1 73.4h0.7M236.4 82.4h0.7M218.4 91.9h0.7M234.5 81.5h0.7M217.7 84.9h0.7M228.5 70.8h0.7M250.7 74.0h0.7M223.1 78.3h0.7M237.2 82.2h0.7M233.9 83.8h0.7M238.3 62.4h0.7M218.1 70.2h0.7M229.3 87.0h0.7M230.0 66.2h0.7M224.3 84.9h0.7M219.4 76.9h0.7M224.7 61.2h0.7M234.2 76.5h0.7M229.3 66.9h0.7M215.9 73.7h0.7M228.1 75.9h0.7M230.3 89.6h0.7M237.6 66.8h0.7M221.9 91.2h0.7M224.7 87.7h0.7M241.1 67.4h0.7M222.6 77.5h0.7M214.1 71.0h0.7M222.8 83.8h0.7M220.1 75.8h0.7M217.5 66.9h0.7M236.2 53.8h0.7M219.5 82.3h0.7M211.7 84.7h0.7M236.8 65.9h0.7M225.2 66.9h0.7M230.8 75.3h0.7M230.4 86.0h0.7M233.0 85.2h0.7M229.5 65.0h0.7M229.0 79.1h0.7M212.6 90.5h0.7M226.7 78.7h0.7M215.9 79.2h0.7M227.8 72.7h0.7M221.7 59.5h0.7M237.4 63.6h0.7M217.5 82.7h0.7M216.1 80.9h0.7M235.1 89.7h0.7M215.8 84.1h0.7M216.3 83.3h0.7M229.1 61.8h0.7M210.7 70.3h0.7M207.7 74.7h0.7M212.0 67.6h0.7M227.4 80.0h0.7M210.1 75.5h0.7M224.8 74.3h0.7M219.4 84.3h0.7M235.6 78.9h0.7M227.1 92.0h0.7M242.8 68.0h0.7M226.3 85.6h0.7M217.5 81.4h0.7M224.2 70.5h0.7M219.4 64.6h0.7M215.2 62.2h0.7M252.5 81.2h0.7M238.8 74.9h0.7M238.4 83.0h0.7M237.8 80.2h0.7M216.3 81.9h0.7M217.0 68.4h0.7M213.8 82.6h0.7M233.4 62.5h0.7M246.7 82.4h0.7M220.1 73.5h0.7M226.3 83.8h0.7M218.7 68.6h0.7M224.4 59.1h0.7M228.9 84.6h0.7M229.9 81.2h0.7M231.8 80.2h0.7M224.8 69.2h0.7M222.5 76.1h0.7M241.7 85.0h0.7M227.9 69.0h0.7M216.9 76.6h0.7M240.4 74.6h0.7M222.8 70.2h0.7M235.0 75.7h0.7M224.7 76.9h0.7M242.6 70.0h0.7M245.5 80.8h0.7M227.4 82.7h0.7M222.0 70.0h0.7M220.3 69.8h0.7M230.5 74.7h0.7M232.7 80.8h0.7M206.2 82.4h0.7M215.9 79.3h0.7M236.0 58.9h0.7M226.9 74.9h0.7M206.2 86.4h0.7M224.3 72.0h0.7M217.1 63.2h0.7M214.3 75.8h0.7M220.8 76.5h0.7M215.0 83.2h0.7M217.0 66.9h0.7M215.5 75.3h0.7M235.0 77.3h0.7M221.4 77.1h0.7M231.5 91.1h0.7M219.4 81.4h0.7M230.7 66.6h0.7M227.3 76.7h0.7M221.2 81.7h0.7M238.3 81.8h0.7M223.4 78.0h0.7M247.7 60.8h0.7M229.2 82.2h0.7M228.0 80.6h0.7M228.4 81.3h0.7M238.2 70.6h0.7M227.0 75.0h0.7M220.7 77.0h0.7M214.5 85.0h0.7M246.6 84.3h0.7M236.6 64.9h0.7M239.7 66.1h0.7M228.3 90.4h0.7M215.4 85.6h0.7M227.7 74.0h0.7M216.6 81.8h0.7M222.2 85.4h0.7M235.2 61.9h0.7M219.0 75.0h0.7M210.1 70.7h0.7M225.5 74.1h0.7M206.3 76.5h0.7M228.0 65.2h0.7M218.5 90.9h0.7M235.6 59.7h0.7M211.4 82.8h0.7M211.8 77.4h0.7M221.4 81.6h0.7M214.1 87.3h0.7M219.8 63.2h0.7M231.7 80.1h0.7M221.7 74.1h0.7M232.2 84.1h0.7M227.7 79.7h0.7M223.7 73.2h0.7M215.8 80.6h0.7M221.3 75.0h0.7M235.9 77.1h0.7M231.0 61.3h0.7M229.7 69.9h0.7M214.6 71.7h0.7M239.6 78.9h0.7M215.0 69.3h0.7M224.2 72.4h0.7M239.6 60.0h0.7M205.0 79.2h0.7M225.4 77.0h0.7M237.3 89.9h0.7M220.2 72.8h0.7M206.8 82.9h0.7M233.5 71.6h0.7M237.6 72.9h0.7M241.8 74.3h0.7M212.4 74.1h0.7M205.1 66.9h0.7M229.6 82.0h0.7M245.7 70.0h0.7M220.2 68.1h0.7M236.3 76.2h0.7M220.1 83.0h0.7M227.1 60.0h0.7M233.2 74.9h0.7M220.0 73.9h0.7M246.8 82.9h0.7M242.0 61.9h0.7M219.9 84.9h0.7M210.7 73.9h0.7M237.2 76.5h0.7M226.5 72.2h0.7M222.0 81.9h0.7M220.0 87.5h0.7M218.0 70.7h0.7M238.5 71.2h0.7M230.0 71.2h0.7M202.2 86.6h0.7M212.9 88.2h0.7M204.7 66.0h0.7M229.1 78.4h0.7M223.6 66.3h0.7M231.4 62.2h0.7M218.4 71.2h0.7M222.8 83.7h0.7M219.4 82.2h0.7M228.8 60.8h0.7M211.8 76.4h0.7M219.3 80.1h0.7M206.0 87.1h0.7M232.6 72.6h0.7M210.3 80.0h0.7M220.5 81.9h0.7M225.6 81.9h0.7M223.4 88.4h0.7M227.1 62.9h0.7M230.3 64.5h0.7M224.1 68.7h0.7M220.7 78.6h0.7M223.1 73.4h0.7M247.9 69.9h0.7M216.6 85.9h0.7M236.3 83.1h0.7M242.0 63.7h0.7M238.6 81.8h0.7M225.5 77.9h0.7M240.3 57.1h0.7M219.9 79.8h0.7M234.5 87.0h0.7M206.4 81.3h0.7M231.4 63.4h0.7M228.5 90.7h0.7M240.1 76.4h0.7M228.5 72.5h0.7M220.7 69.1h0.7M226.9 72.9h0.7M221.5 76.2h0.7M233.7 75.6h0.7M212.0 78.4h0.7M229.1 71.0h0.7M238.8 78.7h0.7M215.1 81.3h0.7M249.3 82.4h0.7M226.3 83.1h0.7M214.8 66.7h0.7M231.4 76.3h0.7M230.4 74.3h0.7M227.4 71.1h0.7M231.8 81.1h0.7M226.1 82.5h0.7M204.6 75.0h0.7M244.0 85.5h0.7M227.4 74.5h0.7M212.3 82.4h0.7M230.2 62.3h0.7M232.0 78.2h0.7M227.3 66.0h0.7M227.7 62.9h0.7M233.7 90.7h0.7M269.6 72.8h0.7M209.2 42.1h0.7M288.0 79.1h0.7M286.6 65.2h0.7M275.2 85.9h0.7M243.7 47.9h0.7M242.1 54.9h0.7M238.0 88.7h0.7M243.0 84.4h0.7M222.3 88.2h0.7M272.5 67.6h0.7M279.7 75.7h0.7M246.6 89.4h0.7M277.2 75.0h0.7M228.4 44.6h0.7M277.8 48.2h0.7M287.7 40.1h0.7M261.3 45.9h0.7M286.8 41.4h0.7M266.2 60.4h0.7M263.3 72.7h0.7M244.2 85.6h0.7M208.2 61.7h0.7M213.9 48.5h0.7M275.0 88.2h0.7M218.8 88.6h0.7M262.7 91.8h0.7M216.9 41.2h0.7M268.7 71.3h0.7" stroke="#1a1a1a" stroke-width="0.7" opacity="0.8"/>
<text x="45.2" y="54.5" font-size="9.3" font-weight="bold" text-anchor="middle" transform="rotate(-90 45.2 54.5)">CD16/32</text>
<path d="M41.3 86.60000000000001 V121.5 H76.1" stroke="#111" stroke-width="1.1" fill="none"/>
<path d="M38.699999999999996 87.9 L41.3 82.7 L43.9 87.9Z" fill="#111"/>
<path d="M74.8 118.9 L80 121.5 L74.8 124.1Z" fill="#111"/>
<text x="89" y="125.3" font-size="9" font-weight="bold">CD34</text>
<line x1="323.1" y1="112.9" x2="326.1" y2="112.9" stroke="#000" stroke-width="1"/>
<text x="322.5" y="115.2" font-size="6.3" font-weight="bold" text-anchor="end">0.0</text>
<line x1="323.1" y1="97.18" x2="326.1" y2="97.18" stroke="#000" stroke-width="1"/>
<text x="322.5" y="99.48" font-size="6.3" font-weight="bold" text-anchor="end">0.1</text>
<line x1="323.1" y1="81.46000000000001" x2="326.1" y2="81.46000000000001" stroke="#000" stroke-width="1"/>
<text x="322.5" y="83.76" font-size="6.3" font-weight="bold" text-anchor="end">0.2</text>
<line x1="323.1" y1="65.74000000000001" x2="326.1" y2="65.74000000000001" stroke="#000" stroke-width="1"/>
<text x="322.5" y="68.04" font-size="6.3" font-weight="bold" text-anchor="end">0.3</text>
<line x1="323.1" y1="50.019999999999996" x2="326.1" y2="50.019999999999996" stroke="#000" stroke-width="1"/>
<text x="322.5" y="52.31999999999999" font-size="6.3" font-weight="bold" text-anchor="end">0.4</text>
<line x1="323.1" y1="34.3" x2="326.1" y2="34.3" stroke="#000" stroke-width="1"/>
<text x="322.5" y="36.599999999999994" font-size="6.3" font-weight="bold" text-anchor="end">0.5</text>
<line x1="326.1" y1="33.8" x2="326.1" y2="113.5" stroke="#000" stroke-width="1.3"/>
<line x1="326.1" y1="112.9" x2="445.4" y2="112.9" stroke="#000" stroke-width="1.3"/>
<rect x="331.8" y="78.2" width="23.599999999999966" height="34.7" fill="#000"/>
<line x1="343.6" y1="75.4" x2="343.6" y2="78.2" stroke="#000" stroke-width="1"/>
<line x1="336.52000000000004" y1="75.4" x2="350.68" y2="75.4" stroke="#000" stroke-width="1.1"/>
<rect x="356.0" y="60.300000000000004" width="23.000000000000046" height="52.6" fill="#fff" stroke="#000" stroke-width="1.2"/>
<line x1="367.5" y1="50" x2="367.5" y2="59.7" stroke="#000" stroke-width="1"/>
<line x1="360.24" y1="50" x2="374.76" y2="50" stroke="#000" stroke-width="1.1"/>
<rect x="391.3" y="89.2" width="24.19999999999999" height="23.700000000000003" fill="#000"/>
<line x1="403.4" y1="87" x2="403.4" y2="89.2" stroke="#000" stroke-width="1"/>
<line x1="396.14" y1="87" x2="410.65999999999997" y2="87" stroke="#000" stroke-width="1.1"/>
<rect x="416.1" y="71.8" width="22.49999999999999" height="41.1" fill="#fff" stroke="#000" stroke-width="1.2"/>
<line x1="427.35" y1="61" x2="427.35" y2="71.2" stroke="#000" stroke-width="1"/>
<line x1="420.24" y1="61" x2="434.46000000000004" y2="61" stroke="#000" stroke-width="1.1"/>
<text x="311.2" y="73.3" font-size="6.6" font-weight="bold" text-anchor="middle" transform="rotate(-90 311.2 73.3)">% of BM cells</text>
<text x="368.4" y="38.9" font-size="10" text-anchor="middle">*</text>
<text x="427.1" y="38.4" font-size="10" text-anchor="middle">*</text>
<line x1="332.3" y1="118" x2="380.8" y2="118" stroke="#000" stroke-width="1.3"/>
<line x1="390.8" y1="118" x2="438.7" y2="118" stroke="#000" stroke-width="1.3"/>
<text x="357.1" y="127.6" font-size="7.6" text-anchor="middle" fill="#333">CMP</text>
<text x="416.5" y="127.6" font-size="7.6" text-anchor="middle" fill="#333">GMP</text>
<rect x="454.7" y="31.8" width="12.8" height="4.5" fill="#000"/>
<text x="467.9" y="36.199999999999996" font-size="6.7" fill="#444">ctrl</text>
<rect x="455.34999999999997" y="42.05" width="11.5" height="3.2" fill="#fff" stroke="#000" stroke-width="1.3"/>
<text x="467.9" y="46.699999999999996" font-size="6.8" fill="#444">Musk-L;Agrn<tspan font-size="4.216" baseline-shift="2.5">-/-</tspan></text>
<rect x="45.4" y="140.5" width="145.3" height="96.9" fill="none" stroke="#555" stroke-width="1"/>
<line x1="96.6" y1="140.5" x2="96.6" y2="237.4" stroke="#555" stroke-width="1"/>
<line x1="45.4" y1="202.7" x2="96.6" y2="202.7" stroke="#555" stroke-width="1"/>
<line x1="96.6" y1="191.4" x2="190.7" y2="191.4" stroke="#555" stroke-width="1"/>
<line x1="147.4" y1="191.4" x2="147.4" y2="237.4" stroke="#555" stroke-width="1"/>
<text x="55.6" y="156.2" font-size="10.5">R1</text>
<text x="175.8" y="154.3" font-size="10.5">R2</text>
<text x="129.6" y="232.8" font-size="10.5">R4</text>
<text x="173.5" y="232.8" font-size="10.5">R3</text>
<path d="M73.9 187.7h0.7M83.5 186.8h0.7M69.9 196.0h0.7M90.2 195.3h0.7M88.5 193.2h0.7M85.0 196.1h0.7M80.2 190.4h0.7M76.8 206.8h0.7M75.2 188.3h0.7M70.3 189.8h0.7M78.2 182.1h0.7M49.3 192.1h0.7M54.1 191.8h0.7M76.8 198.1h0.7M96.7 192.6h0.7M67.8 181.8h0.7M64.7 190.3h0.7M48.1 190.5h0.7M74.8 194.5h0.7M70.6 190.7h0.7M65.4 186.8h0.7M51.9 190.9h0.7M95.1 191.1h0.7M79.8 183.1h0.7M93.6 184.6h0.7M85.4 190.8h0.7M62.5 197.2h0.7M75.2 191.3h0.7M80.9 189.8h0.7M70.1 193.3h0.7M69.7 190.5h0.7M66.3 179.6h0.7M66.2 186.5h0.7M75.2 198.3h0.7M53.0 190.9h0.7M46.2 182.7h0.7M68.4 174.2h0.7M50.8 191.1h0.7M76.0 189.2h0.7M64.6 205.1h0.7M72.9 184.0h0.7M96.8 194.3h0.7M70.2 198.3h0.7M77.0 194.5h0.7M78.1 182.8h0.7M87.6 191.1h0.7M61.9 184.7h0.7M87.4 187.4h0.7M75.6 194.6h0.7M76.7 179.3h0.7M83.3 196.6h0.7M86.3 201.3h0.7M79.7 195.4h0.7M95.7 188.0h0.7M97.6 202.1h0.7M85.2 202.9h0.7M86.1 183.8h0.7M89.8 192.3h0.7M80.4 191.1h0.7M92.7 193.9h0.7M66.0 193.4h0.7M84.5 184.9h0.7M69.4 187.3h0.7M67.1 192.4h0.7M88.2 203.2h0.7M90.5 197.2h0.7M89.9 199.3h0.7M70.1 194.9h0.7M79.2 189.1h0.7M69.1 186.5h0.7M71.5 181.4h0.7M81.8 189.8h0.7M76.4 192.4h0.7M84.4 185.9h0.7M73.6 178.7h0.7M46.1 176.4h0.7M95.0 177.2h0.7M81.1 200.3h0.7M69.0 201.4h0.7M99.0 196.6h0.7M105.8 194.4h0.7M65.5 193.7h0.7M69.3 180.9h0.7M58.5 206.2h0.7M68.0 189.9h0.7M66.5 191.0h0.7M72.0 187.2h0.7M59.4 180.2h0.7M65.5 192.1h0.7M102.2 197.5h0.7M98.9 193.5h0.7M74.1 180.8h0.7M75.2 175.1h0.7M71.3 201.5h0.7M79.5 198.0h0.7M70.3 180.5h0.7M69.0 187.4h0.7M90.9 204.0h0.7M65.7 187.6h0.7M73.4 187.7h0.7M59.1 190.8h0.7M80.0 192.9h0.7M59.6 189.4h0.7M52.7 196.6h0.7M62.1 188.3h0.7M69.5 186.1h0.7M61.6 177.8h0.7M97.9 192.0h0.7M78.8 204.9h0.7M74.1 194.1h0.7M54.1 186.5h0.7M50.4 201.7h0.7M50.4 181.6h0.7M51.3 178.5h0.7M55.7 193.5h0.7M84.2 199.4h0.7M76.2 176.9h0.7M82.4 197.9h0.7M74.2 189.6h0.7M64.6 199.1h0.7M85.0 200.4h0.7M56.0 184.8h0.7M64.9 200.2h0.7M67.5 177.4h0.7M80.0 185.3h0.7M83.8 185.3h0.7M74.6 179.4h0.7M76.6 186.5h0.7M61.2 194.6h0.7M75.9 175.3h0.7M87.6 186.4h0.7M68.6 187.8h0.7M83.3 177.9h0.7M71.9 191.3h0.7M72.1 179.6h0.7M76.6 189.1h0.7M54.6 189.2h0.7M58.1 194.5h0.7M56.2 200.0h0.7M73.1 199.8h0.7M79.5 187.1h0.7M81.3 179.9h0.7M57.8 179.3h0.7M63.7 195.6h0.7M54.9 194.8h0.7M78.7 195.8h0.7M67.8 197.0h0.7M60.8 189.0h0.7M58.6 198.9h0.7M92.6 191.7h0.7M77.7 207.6h0.7M87.3 210.9h0.7M78.6 211.8h0.7M84.1 211.6h0.7M91.7 209.9h0.7M66.6 210.7h0.7M83.3 211.0h0.7M62.0 208.7h0.7" stroke="#8fb8dc" stroke-width="0.7" opacity="0.75"/>
<path d="M165.1 185.7h0.7M156.5 185.4h0.7M164.5 187.4h0.7M157.5 180.8h0.7M151.8 185.4h0.7M171.6 186.2h0.7M154.6 188.5h0.7M154.5 185.1h0.7M156.9 181.0h0.7M164.1 186.3h0.7M152.9 182.0h0.7M157.4 189.1h0.7M149.7 182.2h0.7M159.3 180.7h0.7M135.5 183.9h0.7M149.3 184.4h0.7M150.5 186.1h0.7M153.5 183.5h0.7M151.4 186.9h0.7M164.1 187.7h0.7M161.8 175.9h0.7M146.5 184.3h0.7M157.4 180.6h0.7M168.3 186.0h0.7M149.9 185.6h0.7M152.4 183.0h0.7M160.1 183.9h0.7M142.8 183.4h0.7M154.5 182.1h0.7M166.9 182.1h0.7M171.4 187.7h0.7M147.1 185.5h0.7M166.2 184.6h0.7M144.8 185.5h0.7M173.5 181.0h0.7M160.6 185.2h0.7M154.5 184.1h0.7M152.7 188.1h0.7M161.0 182.4h0.7M169.6 181.6h0.7M161.6 185.7h0.7M166.4 186.2h0.7M165.1 185.1h0.7M164.4 186.2h0.7M175.0 183.3h0.7M166.4 186.5h0.7M157.2 183.6h0.7M159.7 181.1h0.7M143.3 187.2h0.7M141.7 189.2h0.7M153.2 185.9h0.7M156.3 186.4h0.7M153.2 184.2h0.7M154.5 188.1h0.7M165.9 188.8h0.7M159.0 184.6h0.7M140.6 187.0h0.7M163.2 184.1h0.7M162.9 188.8h0.7M156.5 188.2h0.7M158.5 180.4h0.7M151.4 184.1h0.7M160.5 182.8h0.7M151.7 182.5h0.7M155.3 185.4h0.7M164.5 187.4h0.7M157.2 185.9h0.7M156.7 185.5h0.7M169.6 178.3h0.7M154.1 186.1h0.7M165.9 182.2h0.7M158.8 187.6h0.7M151.7 179.9h0.7M152.5 181.9h0.7M161.6 182.8h0.7M171.7 185.6h0.7M148.4 183.8h0.7M145.9 186.3h0.7M169.1 184.6h0.7M164.0 182.6h0.7M143.0 188.7h0.7M166.3 180.0h0.7M142.8 182.5h0.7M164.4 184.0h0.7M154.2 187.2h0.7M156.8 185.8h0.7M152.8 188.4h0.7M148.7 189.9h0.7M152.6 183.0h0.7M161.5 186.5h0.7M137.9 185.8h0.7M143.5 182.9h0.7M162.8 182.8h0.7M158.9 184.1h0.7M173.1 184.9h0.7M145.1 182.1h0.7M147.5 185.6h0.7M155.6 187.9h0.7M157.1 185.6h0.7M158.5 184.8h0.7M158.2 187.4h0.7M162.7 183.7h0.7M139.7 182.9h0.7M158.1 178.2h0.7M151.3 186.4h0.7M150.5 182.0h0.7M171.3 189.1h0.7M153.2 188.9h0.7M167.2 182.0h0.7M179.7 182.5h0.7M153.2 182.1h0.7M156.2 181.5h0.7M155.5 188.2h0.7M157.4 184.4h0.7M169.4 182.6h0.7M164.2 184.3h0.7M157.4 185.2h0.7M156.6 185.0h0.7M148.4 183.6h0.7M159.4 184.8h0.7M145.0 183.2h0.7M149.2 185.0h0.7M157.0 185.4h0.7M149.5 185.2h0.7M143.1 177.0h0.7M154.9 180.5h0.7M146.8 181.7h0.7M161.0 181.7h0.7M157.8 183.7h0.7M144.2 180.7h0.7M159.4 186.2h0.7M162.2 190.2h0.7M157.7 185.9h0.7M154.1 185.4h0.7M152.0 182.6h0.7M173.1 179.8h0.7M157.4 186.3h0.7M156.5 182.4h0.7M153.4 183.7h0.7M145.4 184.9h0.7M151.4 183.5h0.7M161.2 182.1h0.7M159.0 183.3h0.7M158.9 185.2h0.7M157.2 182.3h0.7M148.0 182.6h0.7M156.5 187.1h0.7M164.7 183.6h0.7M155.7 180.5h0.7M135.0 182.6h0.7M149.0 180.6h0.7M138.9 186.5h0.7M147.7 180.3h0.7M175.7 185.4h0.7M152.0 186.9h0.7M148.0 189.4h0.7M141.0 181.3h0.7M153.6 182.8h0.7M167.5 180.5h0.7M148.2 185.6h0.7M159.8 187.7h0.7M150.5 185.4h0.7M162.4 184.0h0.7M152.1 183.6h0.7M148.9 181.8h0.7M149.7 180.6h0.7M158.1 180.5h0.7M173.2 189.6h0.7M164.6 184.3h0.7M149.4 188.3h0.7M156.2 186.4h0.7M148.2 187.9h0.7M147.4 185.2h0.7M139.1 183.0h0.7M159.1 183.6h0.7M150.6 187.1h0.7M153.9 188.3h0.7M132.9 186.4h0.7M159.1 180.6h0.7M142.9 187.3h0.7M145.0 183.1h0.7M159.9 183.9h0.7M158.8 182.4h0.7M157.2 187.9h0.7M157.4 178.7h0.7M160.4 185.0h0.7M146.4 188.7h0.7M138.9 190.1h0.7M148.8 189.2h0.7M154.1 181.1h0.7M155.4 185.8h0.7M159.4 187.8h0.7M146.5 186.2h0.7M161.1 184.1h0.7M146.1 182.2h0.7M161.2 187.1h0.7M147.1 181.1h0.7M165.6 180.5h0.7M155.9 182.6h0.7M138.8 185.2h0.7M152.8 188.9h0.7M174.9 184.3h0.7M163.7 187.8h0.7M149.8 182.4h0.7M168.9 183.8h0.7M154.3 184.0h0.7M153.3 183.2h0.7M161.2 188.3h0.7M151.2 181.0h0.7M154.9 180.7h0.7M148.8 188.3h0.7M175.3 185.9h0.7M145.0 187.0h0.7M134.4 182.9h0.7M168.1 186.9h0.7M142.1 180.2h0.7M162.2 184.7h0.7M149.2 186.0h0.7M149.4 179.5h0.7M161.7 183.0h0.7M145.5 181.1h0.7M156.7 182.6h0.7M160.1 184.1h0.7M164.2 183.8h0.7M148.6 179.4h0.7M144.7 186.9h0.7M181.9 181.4h0.7M145.2 185.8h0.7M158.8 183.0h0.7M155.2 180.4h0.7M151.8 187.4h0.7M169.1 184.4h0.7M152.2 186.1h0.7M164.4 186.2h0.7M147.8 185.8h0.7M163.2 182.9h0.7M142.5 186.3h0.7M157.8 187.5h0.7M155.3 183.1h0.7M150.6 182.0h0.7M146.0 183.3h0.7M150.2 188.0h0.7M143.5 184.7h0.7M149.3 189.0h0.7M156.9 183.8h0.7M161.8 185.0h0.7M150.3 189.1h0.7M160.9 189.7h0.7M164.9 187.0h0.7M155.8 181.8h0.7M160.9 185.1h0.7M160.6 184.8h0.7M148.4 182.1h0.7M160.9 188.5h0.7M152.0 186.1h0.7M167.0 182.6h0.7M151.6 181.8h0.7M165.2 185.6h0.7M150.5 180.3h0.7M153.0 187.7h0.7M152.0 183.7h0.7M160.4 181.5h0.7M155.1 186.6h0.7M147.7 182.6h0.7M156.9 184.6h0.7M152.5 185.5h0.7M156.6 182.3h0.7M148.7 186.1h0.7M164.7 188.7h0.7M147.1 187.9h0.7M161.4 184.8h0.7M159.0 187.2h0.7M170.6 182.0h0.7M160.1 184.5h0.7M152.8 188.1h0.7M162.0 182.1h0.7M152.2 185.5h0.7M142.1 187.3h0.7M154.0 185.4h0.7M157.7 189.9h0.7M155.0 183.9h0.7M170.2 183.5h0.7M150.0 181.1h0.7M164.4 185.7h0.7M158.9 185.4h0.7M153.5 182.7h0.7M147.8 186.1h0.7M155.8 189.4h0.7M148.0 183.6h0.7M145.7 188.7h0.7M143.8 187.1h0.7M167.5 184.5h0.7M161.2 179.0h0.7M151.3 180.3h0.7M156.3 184.9h0.7M147.9 187.5h0.7M157.9 183.5h0.7M150.2 180.9h0.7M153.1 190.8h0.7M148.4 186.1h0.7M149.9 187.2h0.7M158.7 184.3h0.7M138.9 183.5h0.7M165.4 184.3h0.7M160.4 183.6h0.7M138.2 186.1h0.7M157.6 183.3h0.7M151.5 185.7h0.7M149.5 185.9h0.7M153.0 178.4h0.7M153.5 183.3h0.7M147.3 186.0h0.7M150.4 186.4h0.7M164.5 185.3h0.7M141.0 182.9h0.7M162.9 184.2h0.7M147.6 184.7h0.7M159.3 185.7h0.7M160.5 182.7h0.7M152.4 184.2h0.7M154.6 179.1h0.7M152.7 181.2h0.7M167.2 189.2h0.7M169.8 187.2h0.7M150.5 187.6h0.7M153.0 186.6h0.7M146.8 183.3h0.7M159.0 189.9h0.7M179.4 181.4h0.7M154.6 182.3h0.7M153.6 183.5h0.7M154.3 187.6h0.7M163.2 185.7h0.7M154.9 185.3h0.7M156.0 186.5h0.7M154.9 186.3h0.7M143.2 187.2h0.7M170.4 185.5h0.7M142.3 188.7h0.7M151.9 176.7h0.7M152.9 186.6h0.7M158.3 188.4h0.7M160.4 185.3h0.7M137.3 181.9h0.7M156.5 186.8h0.7M145.7 183.3h0.7M159.1 179.7h0.7M137.6 184.3h0.7M157.1 183.6h0.7M134.5 185.0h0.7M143.1 186.8h0.7M154.0 185.7h0.7M160.6 183.5h0.7M162.3 188.4h0.7M158.4 188.7h0.7M149.3 187.5h0.7M157.3 182.2h0.7M154.2 183.5h0.7M150.0 185.2h0.7M164.4 184.1h0.7M156.0 180.9h0.7M155.8 188.2h0.7M162.1 186.3h0.7M150.2 182.3h0.7M154.1 181.3h0.7M143.9 187.6h0.7M146.7 189.9h0.7M142.2 186.2h0.7M144.5 185.5h0.7M145.6 185.1h0.7M153.5 183.7h0.7M159.5 189.2h0.7M149.6 187.4h0.7M155.7 184.9h0.7M174.4 178.9h0.7M148.8 179.9h0.7M152.1 184.3h0.7M188.9 185.9h0.7M170.9 188.6h0.7M151.0 186.3h0.7M169.8 185.4h0.7M156.8 186.4h0.7M141.5 182.7h0.7M157.9 186.5h0.7M146.7 184.1h0.7M153.8 184.5h0.7M161.1 185.3h0.7M156.4 181.0h0.7M145.5 185.9h0.7M140.7 185.7h0.7M149.0 182.7h0.7M160.6 183.1h0.7M147.2 183.1h0.7M135.9 184.9h0.7M152.7 187.6h0.7M151.5 178.1h0.7M166.7 181.9h0.7M154.3 181.1h0.7M145.0 183.6h0.7M162.5 187.3h0.7M149.5 186.3h0.7M151.5 185.2h0.7M156.2 186.7h0.7M149.3 184.6h0.7M156.7 185.2h0.7M147.6 189.7h0.7M150.6 187.0h0.7M156.6 188.3h0.7M135.2 190.6h0.7M152.8 181.5h0.7M159.3 181.5h0.7M150.6 188.6h0.7M142.2 184.4h0.7M152.1 188.6h0.7M148.7 182.7h0.7M163.7 186.6h0.7M139.3 186.7h0.7M160.5 183.2h0.7M156.7 185.7h0.7M150.4 183.3h0.7M148.7 184.2h0.7M142.8 184.8h0.7M141.4 185.1h0.7M154.0 182.0h0.7M162.3 190.3h0.7M166.5 181.1h0.7M166.1 185.5h0.7M154.2 183.3h0.7M154.6 188.8h0.7M159.6 183.8h0.7M148.7 183.7h0.7M159.9 190.1h0.7M145.2 184.9h0.7M151.3 182.8h0.7M158.2 186.4h0.7M142.0 182.0h0.7M165.4 185.8h0.7M159.3 183.5h0.7M151.3 186.2h0.7M150.3 181.8h0.7M154.7 187.4h0.7M145.5 187.8h0.7M161.0 182.5h0.7M154.8 184.8h0.7M160.3 186.8h0.7M143.1 181.2h0.7M163.9 185.2h0.7M158.4 185.8h0.7M168.3 181.6h0.7M164.4 182.6h0.7M161.2 188.6h0.7M142.4 186.0h0.7M152.2 184.1h0.7M155.1 182.0h0.7M146.1 186.7h0.7M162.2 183.3h0.7M164.5 185.9h0.7M145.5 183.3h0.7M156.9 182.2h0.7M168.9 185.3h0.7M158.2 182.1h0.7M146.6 182.7h0.7M157.1 184.2h0.7M152.1 185.8h0.7M156.7 189.0h0.7M152.9 182.1h0.7M154.6 188.9h0.7M149.8 185.0h0.7M151.5 186.0h0.7M157.0 182.7h0.7M152.7 187.5h0.7M164.4 187.4h0.7M162.3 184.0h0.7M133.0 186.4h0.7M118.6 181.5h0.7M106.5 180.0h0.7M126.9 175.9h0.7M149.7 178.2h0.7M132.9 180.6h0.7M126.4 188.8h0.7M130.7 182.8h0.7M116.3 179.5h0.7M133.7 180.3h0.7M129.1 182.5h0.7M167.0 181.2h0.7M137.0 179.9h0.7M184.3 189.8h0.7M149.3 185.3h0.7M126.9 181.1h0.7M143.1 182.4h0.7M124.3 178.0h0.7M148.5 183.4h0.7M102.2 182.3h0.7M161.9 178.7h0.7M143.7 174.7h0.7M154.1 176.4h0.7M117.3 180.3h0.7M181.3 178.8h0.7M117.2 184.1h0.7M143.5 190.0h0.7M117.1 174.0h0.7M133.9 183.7h0.7M145.8 187.2h0.7M113.1 177.8h0.7M137.1 186.0h0.7M147.9 179.8h0.7M121.4 186.2h0.7M136.3 189.8h0.7M118.1 179.2h0.7M127.5 179.6h0.7M124.0 179.2h0.7M138.5 179.6h0.7M151.1 181.4h0.7M139.4 189.1h0.7M145.0 182.6h0.7M139.1 182.2h0.7M149.6 177.9h0.7M159.7 189.6h0.7M159.8 179.4h0.7M111.4 179.7h0.7M142.2 185.9h0.7M136.3 180.4h0.7M166.3 178.6h0.7M158.3 186.3h0.7M116.0 183.2h0.7M129.6 177.2h0.7M106.8 174.2h0.7M146.8 180.0h0.7M144.3 176.6h0.7M133.8 180.5h0.7M112.2 173.7h0.7M147.2 182.6h0.7M123.0 181.4h0.7M123.8 184.9h0.7M176.8 182.2h0.7M165.4 169.2h0.7M165.0 181.8h0.7M106.4 185.7h0.7M158.0 187.8h0.7M160.6 181.7h0.7M126.3 179.6h0.7M138.9 183.8h0.7M131.0 182.1h0.7M154.9 183.4h0.7M119.2 179.1h0.7M116.4 176.1h0.7M149.1 177.0h0.7M121.0 180.5h0.7M153.6 180.1h0.7M133.2 186.4h0.7M147.8 184.1h0.7M156.2 176.9h0.7M143.3 178.7h0.7M157.6 185.9h0.7M121.0 188.4h0.7M118.8 187.6h0.7M143.1 177.6h0.7M119.7 180.4h0.7M139.0 178.4h0.7M149.4 175.0h0.7M139.3 181.9h0.7M106.3 183.4h0.7M117.1 169.6h0.7M128.6 180.7h0.7M155.5 179.5h0.7M165.6 188.9h0.7M158.8 188.4h0.7M145.7 179.1h0.7M151.0 186.6h0.7M143.7 180.6h0.7M111.7 185.2h0.7M145.7 175.4h0.7M141.2 185.4h0.7M137.5 185.7h0.7M152.8 174.6h0.7M134.1 184.2h0.7M155.7 188.8h0.7M105.4 181.5h0.7M152.2 187.9h0.7M169.4 177.2h0.7M132.8 176.6h0.7M154.0 175.3h0.7M160.5 186.5h0.7M148.1 171.1h0.7M127.4 185.5h0.7M114.3 180.7h0.7M137.6 186.2h0.7M144.5 183.2h0.7M131.6 181.9h0.7M137.1 185.4h0.7M136.3 187.0h0.7M109.2 187.8h0.7M136.4 187.4h0.7M140.9 186.1h0.7M166.0 179.1h0.7M140.9 181.0h0.7M143.1 173.8h0.7M136.4 180.6h0.7M125.4 180.9h0.7M112.0 188.7h0.7M123.9 176.1h0.7M144.4 173.6h0.7M143.4 178.4h0.7M133.5 183.1h0.7M150.6 175.4h0.7M156.8 175.2h0.7M140.9 175.7h0.7M124.6 188.3h0.7M129.5 178.6h0.7M129.4 180.3h0.7M165.0 176.0h0.7M117.4 184.7h0.7M111.0 180.0h0.7M159.4 181.8h0.7M130.8 178.3h0.7M123.0 178.9h0.7M141.7 187.9h0.7M156.4 179.0h0.7M126.2 185.2h0.7M106.9 179.6h0.7M133.4 176.3h0.7M121.5 183.5h0.7M109.7 177.2h0.7M127.6 182.1h0.7M114.7 187.1h0.7M133.6 180.4h0.7M132.6 178.4h0.7M121.5 187.4h0.7M142.6 181.2h0.7M156.6 178.2h0.7M150.1 181.8h0.7M123.1 185.4h0.7M112.3 184.9h0.7M123.1 183.7h0.7M163.3 184.5h0.7M128.1 181.5h0.7M132.2 175.9h0.7M119.1 181.8h0.7M148.2 172.9h0.7M137.4 184.1h0.7M140.5 176.7h0.7M156.9 175.6h0.7M150.0 189.5h0.7M102.4 182.8h0.7M144.0 182.7h0.7M124.9 180.0h0.7M113.7 182.2h0.7M147.9 178.3h0.7M122.0 179.2h0.7M138.2 181.8h0.7M136.5 181.9h0.7M115.2 168.1h0.7M149.2 188.5h0.7M113.3 178.3h0.7M143.6 186.2h0.7M149.7 187.8h0.7M137.3 183.6h0.7M145.5 179.4h0.7M159.5 184.6h0.7M155.5 179.6h0.7M156.4 176.3h0.7M145.2 168.7h0.7M120.4 185.1h0.7M130.3 182.4h0.7M109.6 189.1h0.7M148.7 181.4h0.7M145.5 183.1h0.7M163.2 182.6h0.7M112.3 180.3h0.7M160.8 184.3h0.7M130.8 184.5h0.7M140.3 184.5h0.7M110.3 177.1h0.7M149.9 180.4h0.7M132.7 182.7h0.7M128.4 178.4h0.7M136.9 174.4h0.7M101.2 188.2h0.7M136.4 187.0h0.7M140.4 182.2h0.7M150.0 185.0h0.7M117.0 187.4h0.7M121.1 182.5h0.7M183.2 181.9h0.7M167.5 179.8h0.7M149.0 181.8h0.7M145.6 177.3h0.7M122.1 183.1h0.7M110.7 177.4h0.7M149.5 178.5h0.7M122.6 176.1h0.7M140.8 179.7h0.7M140.9 180.6h0.7M170.8 179.4h0.7M103.8 182.1h0.7M138.3 182.3h0.7M110.0 187.0h0.7M137.7 181.3h0.7M110.4 183.8h0.7M137.1 188.1h0.7M130.9 175.5h0.7M140.5 177.1h0.7M145.5 176.2h0.7M136.0 180.4h0.7M137.6 179.0h0.7M124.0 181.2h0.7M128.1 182.3h0.7M133.5 170.6h0.7M137.2 188.3h0.7M143.5 184.4h0.7M146.2 179.2h0.7M114.9 185.4h0.7M156.7 184.3h0.7M145.6 183.4h0.7M137.8 182.8h0.7M138.5 183.1h0.7M121.8 178.5h0.7M148.1 179.9h0.7M98.5 190.7h0.7M150.8 184.8h0.7M126.7 176.1h0.7M134.6 181.6h0.7M124.9 182.3h0.7M150.2 184.4h0.7M120.3 171.1h0.7M138.4 178.4h0.7M141.6 171.2h0.7M118.7 163.1h0.7M109.5 176.6h0.7M131.1 179.2h0.7M143.8 186.4h0.7M137.3 184.8h0.7M101.3 189.3h0.7M111.5 189.2h0.7M153.1 180.1h0.7M142.6 166.3h0.7M157.9 174.8h0.7M132.3 159.8h0.7M120.0 175.7h0.7M162.3 167.1h0.7M117.0 174.7h0.7M104.7 181.8h0.7M128.7 159.0h0.7M135.2 185.9h0.7M116.3 158.3h0.7M174.5 173.2h0.7M118.1 164.2h0.7M109.5 158.3h0.7M151.6 172.8h0.7M111.2 165.6h0.7M121.8 159.6h0.7M132.3 184.2h0.7M121.4 165.1h0.7M151.0 188.0h0.7M110.9 177.1h0.7M150.2 168.7h0.7M109.0 159.0h0.7M145.2 185.2h0.7M176.3 160.6h0.7M161.4 182.6h0.7M173.8 174.4h0.7M142.6 172.0h0.7M112.4 159.7h0.7M128.9 170.9h0.7M160.6 157.5h0.7M110.3 182.2h0.7M151.8 180.3h0.7M125.2 161.5h0.7M171.6 173.8h0.7M127.3 162.9h0.7M125.2 180.5h0.7M121.2 163.2h0.7M142.1 162.7h0.7M174.3 166.4h0.7M142.1 189.1h0.7M157.8 184.0h0.7M140.6 170.3h0.7M106.5 183.2h0.7M145.8 168.9h0.7M146.4 163.2h0.7M146.5 186.6h0.7M123.3 158.2h0.7M120.8 183.2h0.7M125.7 188.7h0.7M102.4 159.8h0.7M112.6 185.4h0.7M122.4 182.7h0.7M140.0 158.4h0.7M171.1 171.7h0.7M154.7 165.6h0.7M140.2 169.7h0.7M155.9 169.6h0.7M134.7 170.0h0.7M103.7 157.3h0.7M153.5 166.0h0.7M155.0 166.6h0.7M151.1 178.4h0.7M166.5 180.0h0.7M161.0 181.8h0.7M164.7 178.0h0.7M103.6 186.5h0.7M178.0 175.4h0.7M145.9 167.3h0.7M146.2 158.3h0.7M147.8 181.0h0.7M121.1 175.6h0.7M123.6 162.4h0.7M168.4 173.9h0.7M146.8 188.2h0.7M174.9 177.0h0.7M116.3 167.2h0.7M145.7 183.6h0.7M146.8 170.0h0.7M102.9 157.5h0.7M148.8 159.6h0.7M130.0 188.7h0.7" stroke="#c84ad6" stroke-width="0.7" opacity="0.75"/>
<path d="M136.3 194.6h0.7M142.7 200.5h0.7M140.9 194.4h0.7M140.5 196.7h0.7M139.2 193.9h0.7M124.8 194.5h0.7M144.9 196.6h0.7M126.6 196.0h0.7M128.6 201.6h0.7M140.1 192.6h0.7M143.5 193.8h0.7M142.1 196.1h0.7M132.4 197.9h0.7M131.5 199.8h0.7M139.3 193.1h0.7M128.8 200.5h0.7M137.8 195.8h0.7M137.5 200.0h0.7M132.9 195.0h0.7M133.9 196.1h0.7M141.2 196.7h0.7M135.6 193.8h0.7M143.7 195.7h0.7M143.4 196.1h0.7M134.7 199.8h0.7M139.7 193.5h0.7M137.2 198.9h0.7M132.1 199.9h0.7M142.8 195.2h0.7M146.6 200.9h0.7M142.4 196.5h0.7M133.8 195.4h0.7M137.8 194.8h0.7M130.6 198.5h0.7M139.5 196.3h0.7M138.7 196.8h0.7M136.6 195.7h0.7M143.3 196.0h0.7M146.5 193.9h0.7M138.3 194.0h0.7M146.7 198.1h0.7M141.9 201.2h0.7M138.8 195.0h0.7M135.3 195.2h0.7M129.7 200.2h0.7M132.6 194.1h0.7M144.2 198.7h0.7M137.2 193.0h0.7M146.9 196.2h0.7M134.8 193.4h0.7M142.2 200.3h0.7M131.8 194.4h0.7M129.0 197.9h0.7M139.9 202.4h0.7M138.3 194.8h0.7M135.0 198.4h0.7M129.8 198.1h0.7M140.4 194.6h0.7M133.9 199.0h0.7M142.0 201.0h0.7M135.5 195.3h0.7M132.1 195.6h0.7M138.5 194.8h0.7M131.3 193.2h0.7M142.7 194.5h0.7M134.1 197.9h0.7M142.2 193.8h0.7M135.4 197.9h0.7M141.1 193.6h0.7M140.4 195.9h0.7M145.4 193.5h0.7M144.0 197.2h0.7M133.2 199.0h0.7M144.2 192.2h0.7M133.7 195.1h0.7M143.4 197.7h0.7M138.5 199.9h0.7M141.3 200.0h0.7M124.2 194.7h0.7M132.8 196.3h0.7M139.6 192.5h0.7M132.4 195.2h0.7M144.6 196.1h0.7M138.9 196.9h0.7M133.1 195.9h0.7M145.0 199.1h0.7M141.7 195.2h0.7M134.2 199.8h0.7M142.0 194.8h0.7M126.4 193.5h0.7M127.8 199.6h0.7M140.1 193.8h0.7M123.7 193.9h0.7M127.8 204.8h0.7M128.4 201.2h0.7M144.0 202.7h0.7M135.3 194.9h0.7M114.4 204.5h0.7M134.4 199.5h0.7M120.7 197.8h0.7M144.9 194.7h0.7M122.0 194.4h0.7M100.5 204.1h0.7M142.2 205.6h0.7M112.7 197.9h0.7M137.8 202.1h0.7M128.1 201.8h0.7M134.2 198.9h0.7M134.0 198.7h0.7M141.7 199.7h0.7M138.3 196.9h0.7M129.7 202.4h0.7M115.0 197.9h0.7M122.7 199.1h0.7M112.8 194.5h0.7M115.5 205.7h0.7M121.2 193.1h0.7M119.5 202.0h0.7M113.3 201.2h0.7M114.0 196.8h0.7M114.3 205.7h0.7M108.8 192.5h0.7M126.8 195.8h0.7M104.3 196.7h0.7M111.4 201.0h0.7M107.8 200.3h0.7M132.5 202.0h0.7M112.9 204.0h0.7M104.6 192.3h0.7M137.8 199.8h0.7M120.1 197.6h0.7M137.0 201.7h0.7M114.8 199.4h0.7M115.9 196.9h0.7M103.2 196.3h0.7M144.9 198.2h0.7" stroke="#f2b060" stroke-width="0.7" opacity="0.6"/>
<path d="M172.3 199.3h0.7M166.3 204.1h0.7M168.3 196.0h0.7M167.8 202.7h0.7M165.7 203.3h0.7M161.0 199.2h0.7M161.1 202.4h0.7M160.6 201.0h0.7M158.6 199.0h0.7M161.9 199.1h0.7M164.1 198.8h0.7M168.5 197.1h0.7M162.4 196.4h0.7M168.0 196.1h0.7M165.8 204.0h0.7M170.9 204.0h0.7M166.3 195.0h0.7M169.3 204.0h0.7M167.3 202.6h0.7M163.9 197.6h0.7M168.4 204.3h0.7M158.9 203.0h0.7M164.6 202.9h0.7M164.8 203.7h0.7M168.1 202.9h0.7M157.4 202.7h0.7M163.8 195.3h0.7M166.7 194.4h0.7M167.6 206.0h0.7M161.3 203.0h0.7M165.6 202.0h0.7M157.5 201.9h0.7M164.2 202.4h0.7M163.6 203.7h0.7M164.8 202.1h0.7M169.7 200.3h0.7M168.0 200.5h0.7M165.9 197.6h0.7M167.1 204.2h0.7M163.3 202.6h0.7M165.5 195.5h0.7M165.2 204.6h0.7M161.5 192.9h0.7M164.5 197.2h0.7M172.1 199.5h0.7M163.6 197.3h0.7M164.8 197.5h0.7M159.7 199.4h0.7M160.1 204.6h0.7M158.5 199.4h0.7M160.6 194.5h0.7M170.1 194.4h0.7M164.1 208.1h0.7M154.3 194.5h0.7M169.5 200.3h0.7M161.2 199.5h0.7M159.4 200.1h0.7M170.3 198.2h0.7M164.3 204.1h0.7M172.4 197.4h0.7M165.0 197.5h0.7M160.8 198.1h0.7M160.9 193.2h0.7M154.9 196.9h0.7M164.2 204.2h0.7M161.3 199.0h0.7M166.6 202.4h0.7M163.2 199.4h0.7M171.9 198.4h0.7M161.5 193.6h0.7M165.6 198.7h0.7M172.1 198.4h0.7M167.2 203.1h0.7M170.9 194.8h0.7M170.6 199.7h0.7M163.2 198.5h0.7M161.9 198.4h0.7M153.4 201.5h0.7M163.9 196.1h0.7M163.4 208.2h0.7M165.3 198.2h0.7M171.2 196.7h0.7M163.0 197.6h0.7M162.6 202.3h0.7M166.2 196.9h0.7M163.1 199.9h0.7M161.9 199.5h0.7M160.5 196.9h0.7M163.8 195.8h0.7M165.5 198.9h0.7M159.6 197.4h0.7M161.5 199.0h0.7M164.1 198.8h0.7M159.8 204.9h0.7M167.6 200.0h0.7M167.8 200.8h0.7M162.5 199.9h0.7M175.3 203.3h0.7M168.2 198.2h0.7M166.3 208.0h0.7M165.5 203.6h0.7M169.1 202.0h0.7M170.5 200.5h0.7M165.8 197.3h0.7M175.2 200.7h0.7M164.1 204.7h0.7M161.5 199.6h0.7M160.2 199.7h0.7M161.9 201.6h0.7M163.1 197.4h0.7M162.3 199.2h0.7M161.4 203.1h0.7M166.6 200.1h0.7M158.4 201.5h0.7M158.1 200.3h0.7M163.8 197.4h0.7M160.0 197.0h0.7M172.6 198.6h0.7M162.7 203.1h0.7M165.4 203.5h0.7M158.3 195.6h0.7M178.1 199.4h0.7M162.4 200.2h0.7M167.9 195.2h0.7M164.9 199.5h0.7M166.5 200.2h0.7M161.3 196.4h0.7M153.0 203.2h0.7M157.2 198.1h0.7M170.8 198.1h0.7M166.3 198.8h0.7M166.6 199.7h0.7M161.4 204.5h0.7M162.5 194.7h0.7M162.2 201.6h0.7M158.8 202.5h0.7M166.9 207.4h0.7M160.8 202.0h0.7M156.4 198.1h0.7M164.1 201.1h0.7M163.4 199.3h0.7M161.0 198.0h0.7M164.9 201.6h0.7M166.4 203.2h0.7M168.8 193.0h0.7M161.4 199.0h0.7M160.8 203.4h0.7M166.8 199.2h0.7M164.1 204.2h0.7M162.1 198.5h0.7M167.5 201.3h0.7M169.7 200.9h0.7M166.8 197.6h0.7M159.6 199.6h0.7M152.2 201.1h0.7M167.8 199.9h0.7M162.7 203.6h0.7M163.4 203.2h0.7M173.1 202.2h0.7M167.7 201.4h0.7M164.7 200.6h0.7M163.9 203.5h0.7M156.7 198.6h0.7M166.4 196.5h0.7M163.2 197.1h0.7M165.5 202.7h0.7M169.9 201.4h0.7M160.5 200.5h0.7M166.1 204.7h0.7M154.4 200.9h0.7M155.8 202.2h0.7M165.5 201.4h0.7M167.4 201.0h0.7M160.8 200.9h0.7M168.8 199.2h0.7M163.7 195.2h0.7M168.6 197.8h0.7M160.4 198.0h0.7M159.9 198.7h0.7M169.1 202.5h0.7M169.7 205.0h0.7M159.8 201.3h0.7M170.1 207.9h0.7M157.5 194.4h0.7M165.6 198.4h0.7M159.3 201.0h0.7M163.5 200.0h0.7M166.3 203.0h0.7M164.4 198.7h0.7M160.7 193.6h0.7M161.7 203.2h0.7M166.4 207.0h0.7M162.9 193.1h0.7M167.2 203.3h0.7M158.6 193.7h0.7M164.3 202.2h0.7M158.8 198.3h0.7M160.3 195.3h0.7M157.9 200.1h0.7M162.0 197.1h0.7M152.4 205.9h0.7M159.5 199.1h0.7M158.7 200.9h0.7M157.1 199.9h0.7M162.8 202.9h0.7M158.9 197.2h0.7M162.6 207.2h0.7M157.2 200.6h0.7M160.7 200.7h0.7M166.4 200.1h0.7M164.7 200.6h0.7M161.0 198.8h0.7M156.4 198.3h0.7M160.2 198.6h0.7M166.7 200.9h0.7M165.6 203.5h0.7M153.3 201.1h0.7M163.4 199.2h0.7M157.9 201.5h0.7M168.5 203.3h0.7M163.2 201.8h0.7M167.5 206.1h0.7M168.8 200.0h0.7M163.9 200.1h0.7M164.5 197.7h0.7M166.8 197.0h0.7M160.1 200.8h0.7M161.1 198.6h0.7M154.6 202.4h0.7M163.5 199.1h0.7M165.5 200.3h0.7M160.5 206.8h0.7M161.6 203.0h0.7M171.4 197.3h0.7M163.9 196.5h0.7M168.0 198.3h0.7M158.8 204.3h0.7M167.5 196.3h0.7M168.6 200.2h0.7M175.2 205.7h0.7M161.1 198.5h0.7M159.7 200.0h0.7M163.7 202.2h0.7M163.9 194.2h0.7M160.0 204.6h0.7M168.5 198.9h0.7M162.9 198.9h0.7M163.6 193.4h0.7M167.3 197.1h0.7M164.5 204.4h0.7M153.9 205.0h0.7M165.5 196.8h0.7M156.7 203.7h0.7M164.6 201.7h0.7M162.3 196.6h0.7M167.2 196.0h0.7M167.4 193.4h0.7M159.5 194.2h0.7M169.1 193.1h0.7M158.6 201.9h0.7M164.5 207.5h0.7M171.4 201.7h0.7M166.5 192.9h0.7M159.7 198.3h0.7M162.7 194.5h0.7M159.5 196.4h0.7M168.1 201.0h0.7M162.1 198.5h0.7M164.8 197.0h0.7M162.4 193.2h0.7M166.4 203.0h0.7M165.1 201.2h0.7M165.1 206.9h0.7M164.4 194.7h0.7M159.0 202.1h0.7M168.1 202.3h0.7M167.1 200.2h0.7M157.1 196.9h0.7M155.7 198.1h0.7M157.6 199.8h0.7M162.8 192.4h0.7M166.6 202.3h0.7M157.5 200.0h0.7M166.6 198.4h0.7M167.2 200.2h0.7M168.1 200.2h0.7M162.8 201.3h0.7M166.9 200.4h0.7M161.5 196.6h0.7M161.8 197.4h0.7M164.3 200.1h0.7M163.1 199.4h0.7M164.2 205.2h0.7M168.7 197.3h0.7M165.3 198.2h0.7M163.0 198.6h0.7M160.7 194.5h0.7M152.8 200.2h0.7M168.6 196.1h0.7M165.6 198.0h0.7M164.6 196.5h0.7M162.4 199.0h0.7M153.1 200.2h0.7M166.2 199.3h0.7M164.3 200.7h0.7M161.6 195.5h0.7M161.5 197.9h0.7M173.1 206.2h0.7M161.3 197.9h0.7M164.8 201.5h0.7M160.4 195.7h0.7M171.8 203.3h0.7M156.6 192.9h0.7M159.8 200.2h0.7M165.8 198.1h0.7M156.3 200.2h0.7M166.0 199.4h0.7M161.2 201.5h0.7M163.1 195.3h0.7M163.8 194.6h0.7M167.6 201.1h0.7M159.0 200.2h0.7M162.8 205.5h0.7M156.6 198.8h0.7M157.1 199.1h0.7M152.8 193.4h0.7M161.0 199.9h0.7M165.0 201.0h0.7M168.4 202.0h0.7M166.6 195.8h0.7M162.7 211.2h0.7M173.3 202.5h0.7M166.6 203.1h0.7M161.6 206.7h0.7M161.7 199.1h0.7M165.0 193.0h0.7M160.5 199.0h0.7M161.8 200.0h0.7M160.0 199.0h0.7M158.1 197.9h0.7M157.2 201.8h0.7M157.6 202.0h0.7M161.5 198.3h0.7M168.6 199.8h0.7M155.0 201.3h0.7M150.5 200.4h0.7M161.6 194.1h0.7M163.7 198.2h0.7M172.3 197.7h0.7M172.0 204.6h0.7M160.6 196.3h0.7M169.2 198.9h0.7M164.1 198.4h0.7M158.0 198.0h0.7M159.1 193.6h0.7M162.1 206.1h0.7M170.6 199.2h0.7M164.0 201.3h0.7M169.4 200.6h0.7M161.2 197.9h0.7M168.4 209.2h0.7M167.0 199.1h0.7M164.0 204.1h0.7M163.7 194.4h0.7M154.6 199.2h0.7M158.2 200.5h0.7M157.7 198.1h0.7M156.8 198.0h0.7M161.4 201.6h0.7M169.4 198.7h0.7M159.5 206.8h0.7M165.0 201.7h0.7M166.1 204.9h0.7M167.9 202.0h0.7M166.8 196.1h0.7M160.6 199.0h0.7M163.8 199.5h0.7M164.8 199.5h0.7M161.5 193.2h0.7M167.1 201.6h0.7M159.4 201.3h0.7M165.2 199.7h0.7M155.1 194.8h0.7M160.7 205.5h0.7M159.5 198.1h0.7M158.4 197.5h0.7M150.6 201.9h0.7M163.5 197.1h0.7M167.7 203.1h0.7M154.0 198.8h0.7M168.4 196.9h0.7M162.0 203.0h0.7M162.2 194.9h0.7M160.3 194.4h0.7M165.9 192.9h0.7M167.9 193.2h0.7M163.6 193.8h0.7M162.0 203.3h0.7M168.4 204.4h0.7M163.0 199.8h0.7M164.4 201.7h0.7M161.6 203.6h0.7M164.8 203.7h0.7M165.5 202.0h0.7M160.1 197.8h0.7M157.6 198.3h0.7M162.6 202.6h0.7M157.7 211.7h0.7M162.8 204.2h0.7M162.2 205.0h0.7M152.5 202.3h0.7M159.3 197.6h0.7M164.4 192.3h0.7M164.3 196.9h0.7M160.0 202.1h0.7M179.2 200.7h0.7M165.9 199.2h0.7M160.1 200.4h0.7M170.2 200.1h0.7M167.4 198.5h0.7M174.7 193.1h0.7M166.0 201.4h0.7M164.6 195.1h0.7M158.2 198.5h0.7M163.8 194.8h0.7M158.6 201.5h0.7M168.0 197.2h0.7M160.2 196.6h0.7M174.5 201.2h0.7M163.0 203.2h0.7M173.7 203.8h0.7M156.9 199.0h0.7M161.5 198.1h0.7M157.9 197.9h0.7M158.4 200.6h0.7M163.5 194.0h0.7M155.6 197.5h0.7M166.3 201.2h0.7M161.1 196.5h0.7M161.8 194.7h0.7M161.4 196.8h0.7M175.6 202.0h0.7M162.4 199.2h0.7M162.8 200.1h0.7M161.5 199.3h0.7M168.0 202.5h0.7M164.7 204.4h0.7M164.3 195.6h0.7M155.4 196.7h0.7M163.0 200.9h0.7M168.2 197.2h0.7M159.7 202.3h0.7M168.6 197.5h0.7M164.8 204.6h0.7M164.8 199.1h0.7M153.9 204.4h0.7M166.2 199.8h0.7M161.2 194.6h0.7M162.9 198.9h0.7M168.3 194.7h0.7M169.8 199.5h0.7M168.7 195.7h0.7M164.9 204.0h0.7M163.8 193.7h0.7M161.8 201.4h0.7M157.0 193.8h0.7M164.4 195.7h0.7M166.4 194.9h0.7M155.0 196.4h0.7M170.7 196.5h0.7M161.7 202.0h0.7M156.1 206.3h0.7M162.8 203.0h0.7M160.4 204.4h0.7M170.7 199.5h0.7M160.2 203.1h0.7M171.0 196.7h0.7M165.5 199.6h0.7M159.8 204.9h0.7M157.0 195.5h0.7M165.8 200.7h0.7M160.2 200.1h0.7M164.8 199.0h0.7M166.4 202.9h0.7M170.7 207.2h0.7M166.9 199.8h0.7M162.5 197.9h0.7M178.9 199.7h0.7M165.1 207.6h0.7M153.6 196.7h0.7M159.4 195.9h0.7M154.2 198.2h0.7M169.6 204.5h0.7M162.0 201.0h0.7M151.8 204.3h0.7M164.4 195.4h0.7M163.0 199.9h0.7M158.7 195.9h0.7M157.8 196.1h0.7M164.6 202.7h0.7M163.7 199.9h0.7M159.4 211.1h0.7M150.6 206.8h0.7M163.9 201.2h0.7M158.8 199.8h0.7M154.7 193.9h0.7M161.1 192.6h0.7M166.9 206.4h0.7M163.5 201.9h0.7M162.5 203.0h0.7M166.3 205.2h0.7M172.6 201.0h0.7M167.0 192.7h0.7M161.0 194.8h0.7M170.2 212.5h0.7M165.1 194.4h0.7M161.2 201.0h0.7M163.0 206.3h0.7M170.0 198.4h0.7M158.5 208.0h0.7M160.3 194.0h0.7M153.9 201.2h0.7M167.3 208.4h0.7M160.8 198.5h0.7M171.6 198.6h0.7M170.6 202.1h0.7M163.3 199.7h0.7M163.6 198.6h0.7M157.8 200.2h0.7M158.0 202.4h0.7M162.4 199.6h0.7M160.7 199.7h0.7M172.3 200.8h0.7M158.3 199.4h0.7M165.8 199.9h0.7M161.0 199.6h0.7M162.8 202.8h0.7M164.5 192.7h0.7M166.7 206.4h0.7M169.7 201.6h0.7M168.7 200.7h0.7M161.1 193.2h0.7M157.2 197.9h0.7M167.4 209.2h0.7M159.0 202.7h0.7M163.5 197.0h0.7M151.5 197.1h0.7M153.2 199.3h0.7M161.0 200.0h0.7M160.8 203.3h0.7M156.3 205.3h0.7M151.8 201.2h0.7M164.2 196.9h0.7M152.3 204.1h0.7M157.8 204.8h0.7M166.4 200.8h0.7M161.8 205.8h0.7M164.1 196.2h0.7M162.8 203.6h0.7M163.0 201.8h0.7M161.0 200.3h0.7M156.2 193.7h0.7M168.6 197.7h0.7M163.2 193.4h0.7M162.8 196.7h0.7M179.6 195.8h0.7M156.1 205.6h0.7M163.4 205.2h0.7M154.5 204.3h0.7M158.7 195.9h0.7M159.7 198.6h0.7M153.5 212.0h0.7M159.1 197.1h0.7M166.9 200.5h0.7M169.8 199.5h0.7M163.9 201.3h0.7M162.8 199.8h0.7M161.2 209.2h0.7M157.8 198.1h0.7M159.8 203.7h0.7M164.2 205.5h0.7M153.8 202.1h0.7M160.8 199.4h0.7" stroke="#13681a" stroke-width="0.7" opacity="0.88"/>
<text x="42.4" y="186.2" font-size="14.6" text-anchor="middle" transform="rotate(-90 42.4 186.2)">c-Kit</text>
<path d="M39.5 212.8 V248.1 H76.4" stroke="#111" stroke-width="1.6" fill="none" stroke-linejoin="miter"/>
<path d="M36.2 215.76500000000001 L39.5 212.3 L42.8 215.76500000000001" stroke="#111" stroke-width="1.6" fill="none" stroke-linejoin="miter" stroke-linecap="butt"/>
<path d="M73.435 244.79999999999998 L76.9 248.1 L73.435 251.4" stroke="#111" stroke-width="1.6" fill="none" stroke-linejoin="miter" stroke-linecap="butt"/>
<text x="85" y="251.4" font-size="13.8">Ly6C</text>
<path d="M226.0 181.4L226.0 181.4L226.8 179.8L227.6 178.7L228.4 176.6L229.2 174.4L230.0 172.9L230.8 170.3L231.6 170.5L232.4 167.7L233.2 166.8L234.0 161.7L234.8 163.3L235.6 160.1L236.4 160.8L237.2 154.8L238.0 154.0L238.8 149.7L239.6 148.5L240.4 148.1L241.2 152.1L242.0 151.6L242.8 152.5L243.6 156.0L244.4 154.8L245.2 158.6L246.0 163.5L246.8 166.2L247.6 168.6L248.4 171.0L249.2 173.6L250.0 175.4L250.8 177.7L251.6 181.4L251.6 181.4Z" fill="#f5a340" opacity="0.95"/>
<path d="M250.0 181.4L250.0 181.4L250.8 176.3L251.6 172.9L252.4 168.9L253.2 165.0L254.0 160.3L254.8 157.9L255.6 148.4L256.4 146.6L257.2 140.8L258.0 144.1L258.8 137.4L259.6 138.5L260.4 145.5L261.2 144.9L262.0 151.6L262.8 155.9L263.6 156.3L264.4 162.1L265.2 164.9L266.0 169.3L266.8 170.1L267.6 172.3L268.4 174.5L269.2 176.4L270.0 178.4L270.8 179.3L271.6 181.4L271.6 181.4Z" fill="#3fb6e6" opacity="0.95"/>
<path d="M245.0 181.4L245.0 181.4L245.8 173.6L246.6 166.5L247.4 155.7L248.2 145.7L249.0 145.9L249.8 135.8L250.6 134.4L251.4 136.8L252.2 142.2L253.0 137.3L253.8 146.5L254.6 144.2L255.4 147.9L256.2 145.8L257.0 144.5L257.8 147.0L258.6 153.9L259.4 160.2L260.2 159.9L261.0 162.9L261.8 162.7L262.6 165.0L263.4 165.2L264.2 169.7L265.0 169.6L265.8 172.3L266.6 171.6L267.4 173.9L268.2 175.0L269.0 176.2L269.8 176.8L270.6 176.3L271.4 178.8L272.2 181.0L273.0 181.0L273.8 181.0L274.6 181.0L275.4 181.0L276.2 180.3L277.0 176.9L277.8 180.1L278.6 181.0L279.4 181.0L280.2 180.5L281.0 178.2L281.8 181.4L281.8 181.4Z" fill="#c23fdc" opacity="0.95"/>
<path d="M229.0 181.4L229.0 181.4L229.8 177.3L230.6 175.3L231.4 173.7L232.2 173.6L233.0 171.3L233.8 169.8L234.6 168.8L235.4 166.7L236.2 165.2L237.0 164.0L237.8 160.5L238.6 161.3L239.4 159.6L240.2 159.0L241.0 155.4L241.8 153.2L242.6 157.8L243.4 157.5L244.2 160.9L245.0 160.9L245.8 163.0L246.6 164.3L247.4 166.8L248.2 168.8L249.0 168.7L249.8 170.2L250.6 171.8L251.4 173.5L252.2 174.0L253.0 174.3L253.8 175.8L254.6 176.5L255.4 177.9L256.2 178.2L257.0 178.5L257.8 179.4L258.6 179.8L259.4 181.4L259.4 181.4Z" fill="#4b8a22" opacity="1"/>
<rect x="206.4" y="126.6" width="83.6" height="54.80000000000001" fill="none" stroke="#777" stroke-width="0.9"/>
<path d="M212.0 254.4L212.0 254.4L212.8 250.1L213.6 247.6L214.4 247.7L215.2 245.1L216.0 245.6L216.8 244.4L217.6 243.3L218.4 243.6L219.2 243.3L220.0 242.7L220.8 239.4L221.6 238.3L222.4 235.4L223.2 235.3L224.0 232.5L224.8 234.6L225.6 229.9L226.4 226.0L227.2 223.6L228.0 219.5L228.8 215.3L229.6 212.1L230.4 215.9L231.2 207.5L232.0 213.6L232.8 213.6L233.6 213.7L234.4 207.4L235.2 215.5L236.0 215.9L236.8 221.4L237.6 214.9L238.4 216.2L239.2 214.3L240.0 206.7L240.8 209.1L241.6 212.6L242.4 217.3L243.2 221.8L244.0 218.3L244.8 225.5L245.6 224.0L246.4 228.9L247.2 227.5L248.0 231.3L248.8 234.8L249.6 239.2L250.4 241.6L251.2 244.4L252.0 245.0L252.8 248.9L253.6 254.4L253.6 254.4Z" fill="#f5a360" opacity="0.95"/>
<path d="M223.0 254.4L223.0 254.4L223.8 250.7L224.6 246.5L225.4 243.6L226.2 238.0L227.0 237.8L227.8 229.0L228.6 225.8L229.4 220.7L230.2 215.0L231.0 212.4L231.8 208.7L232.6 212.2L233.4 216.4L234.2 217.7L235.0 220.0L235.8 218.8L236.6 222.3L237.4 224.5L238.2 228.5L239.0 235.4L239.8 235.4L240.6 239.6L241.4 243.3L242.2 247.0L243.0 254.4L243.0 254.4Z" fill="#4b8a22" opacity="1"/>
<rect x="205.9" y="198.3" width="83.70000000000002" height="56.099999999999994" fill="none" stroke="#777" stroke-width="0.9"/>
<text x="204.6" y="144" font-size="8.5" text-anchor="middle" transform="rotate(-90 204.6 144)">Counts</text>
<text x="204.2" y="217" font-size="8.5" text-anchor="middle" transform="rotate(-90 204.2 217)">Counts</text>
<path d="M201.6 161.0 V187.4 H229.7" stroke="#111" stroke-width="1.3" fill="none" stroke-linejoin="miter"/>
<path d="M198.79999999999998 163.44 L201.6 160.5 L204.4 163.44" stroke="#111" stroke-width="1.3" fill="none" stroke-linejoin="miter" stroke-linecap="butt"/>
<path d="M227.26 184.6 L230.2 187.4 L227.26 190.20000000000002" stroke="#111" stroke-width="1.3" fill="none" stroke-linejoin="miter" stroke-linecap="butt"/>
<path d="M201.6 234.4 V259.8 H229.5" stroke="#111" stroke-width="1.3" fill="none" stroke-linejoin="miter"/>
<path d="M198.79999999999998 236.84 L201.6 233.9 L204.4 236.84" stroke="#111" stroke-width="1.3" fill="none" stroke-linejoin="miter" stroke-linecap="butt"/>
<path d="M227.06 257.0 L230 259.8 L227.06 262.6" stroke="#111" stroke-width="1.3" fill="none" stroke-linejoin="miter" stroke-linecap="butt"/>
<text x="233.4" y="190.6" font-size="9.5">CD31</text>
<text x="233.4" y="263.2" font-size="9.5">Ly6G</text>
<line x1="314.6" y1="238.5" x2="317.6" y2="238.5" stroke="#000" stroke-width="1"/>
<text x="314.0" y="240.8" font-size="6.3" font-weight="bold" text-anchor="end">0</text>
<line x1="314.6" y1="220.42" x2="317.6" y2="220.42" stroke="#000" stroke-width="1"/>
<text x="314.0" y="222.72" font-size="6.3" font-weight="bold" text-anchor="end">25</text>
<line x1="314.6" y1="202.34" x2="317.6" y2="202.34" stroke="#000" stroke-width="1"/>
<text x="314.0" y="204.64000000000001" font-size="6.3" font-weight="bold" text-anchor="end">50</text>
<line x1="314.6" y1="184.26" x2="317.6" y2="184.26" stroke="#000" stroke-width="1"/>
<text x="314.0" y="186.56" font-size="6.3" font-weight="bold" text-anchor="end">75</text>
<line x1="314.6" y1="166.18" x2="317.6" y2="166.18" stroke="#000" stroke-width="1"/>
<text x="314.0" y="168.48000000000002" font-size="6.3" font-weight="bold" text-anchor="end">100</text>
<line x1="314.6" y1="148.1" x2="317.6" y2="148.1" stroke="#000" stroke-width="1"/>
<text x="314.0" y="150.4" font-size="6.3" font-weight="bold" text-anchor="end">125</text>
<line x1="317.6" y1="147.6" x2="317.6" y2="239.1" stroke="#000" stroke-width="1.3"/>
<line x1="317.6" y1="238.5" x2="454.2" y2="238.5" stroke="#000" stroke-width="1.3"/>
<rect x="322.2" y="166.1" width="18.80000000000001" height="72.4" fill="#000"/>
<line x1="331.6" y1="157.5" x2="331.6" y2="166.1" stroke="#000" stroke-width="1"/>
<line x1="325.96000000000004" y1="157.5" x2="337.24" y2="157.5" stroke="#000" stroke-width="1.1"/>
<rect x="341.6" y="187.4" width="16.99999999999999" height="51.09999999999999" fill="#fff" stroke="#000" stroke-width="1.2"/>
<line x1="350.1" y1="183.4" x2="350.1" y2="186.8" stroke="#000" stroke-width="1"/>
<line x1="344.64000000000004" y1="183.4" x2="355.56" y2="183.4" stroke="#000" stroke-width="1.1"/>
<rect x="366.8" y="166.1" width="19.69999999999999" height="72.4" fill="#000"/>
<line x1="376.65" y1="153.2" x2="376.65" y2="166.1" stroke="#000" stroke-width="1"/>
<line x1="370.74" y1="153.2" x2="382.55999999999995" y2="153.2" stroke="#000" stroke-width="1.1"/>
<rect x="387.1" y="214.0" width="16.49999999999999" height="24.499999999999993" fill="#fff" stroke="#000" stroke-width="1.2"/>
<line x1="395.35" y1="210.4" x2="395.35" y2="213.4" stroke="#000" stroke-width="1"/>
<line x1="390.04" y1="210.4" x2="400.66" y2="210.4" stroke="#000" stroke-width="1.1"/>
<rect x="412.7" y="166.1" width="19.100000000000023" height="72.4" fill="#000"/>
<line x1="422.25" y1="153.8" x2="422.25" y2="166.1" stroke="#000" stroke-width="1"/>
<line x1="416.52" y1="153.8" x2="427.98" y2="153.8" stroke="#000" stroke-width="1.1"/>
<rect x="432.40000000000003" y="236.4" width="16.600000000000012" height="2.0999999999999885" fill="#fff" stroke="#000" stroke-width="1.2"/>
<line x1="440.70000000000005" y1="235" x2="440.70000000000005" y2="235.8" stroke="#000" stroke-width="1"/>
<line x1="435.36" y1="235" x2="446.0400000000001" y2="235" stroke="#000" stroke-width="1.1"/>
<text x="299.6" y="193.1" font-size="7.6" font-weight="bold" text-anchor="middle" transform="rotate(-90 299.6 193.1)">cell number (% of ctrl)</text>
<text x="397.3" y="155.7" font-size="10" text-anchor="middle">*</text>
<text x="443.3" y="155.2" font-size="10" text-anchor="middle">***</text>
<line x1="324.6" y1="244.5" x2="356.9" y2="244.5" stroke="#000" stroke-width="1.3"/>
<line x1="371.9" y1="244.5" x2="403.1" y2="244.5" stroke="#000" stroke-width="1.3"/>
<line x1="417.3" y1="244.5" x2="447.3" y2="244.5" stroke="#000" stroke-width="1.3"/>
<text x="342" y="255.6" font-size="7" font-weight="bold" text-anchor="middle">c-Kit<tspan font-size="4.5" baseline-shift="2.7">+</tspan></text>
<text x="386.5" y="255.6" font-size="6.6" font-weight="bold" text-anchor="middle">c-Kit<tspan font-size="4.5" baseline-shift="2.7">+</tspan>/Ly6C<tspan font-size="4.5" baseline-shift="2.7">+</tspan></text>
<text x="437" y="255.6" font-size="6.8" font-weight="bold" text-anchor="middle">c-Kit<tspan font-size="4.5" baseline-shift="2.7">low</tspan>/Ly6C<tspan font-size="4.5" baseline-shift="2.7">high</tspan></text>
<text x="341.2" y="268.6" font-size="12" text-anchor="middle">(R1)</text>
<text x="386" y="268.6" font-size="12" text-anchor="middle">(R2)</text>
<text x="430.3" y="268.6" font-size="12" text-anchor="middle">(R3)</text>
<rect x="453.4" y="149.7" width="13.8" height="4.9" fill="#000"/>
<text x="467.8" y="154.7" font-size="7.6" fill="#444">ctrl</text>
<rect x="454.15" y="161.35" width="12.3" height="3.4000000000000004" fill="#fff" stroke="#000" stroke-width="1.5"/>
<text x="467.8" y="167.7" font-size="7.7" fill="#444">Musk-L;Agrn<tspan font-size="4.774" baseline-shift="2.9">-/-</tspan></text>
<line x1="64.6" y1="384.6" x2="67.6" y2="384.6" stroke="#000" stroke-width="1"/>
<text x="63.99999999999999" y="386.90000000000003" font-size="6.3" font-weight="bold" text-anchor="end">0</text>
<line x1="64.6" y1="369.58333333333337" x2="67.6" y2="369.58333333333337" stroke="#000" stroke-width="1"/>
<text x="63.99999999999999" y="371.8833333333334" font-size="6.3" font-weight="bold" text-anchor="end">25</text>
<line x1="64.6" y1="354.56666666666666" x2="67.6" y2="354.56666666666666" stroke="#000" stroke-width="1"/>
<text x="63.99999999999999" y="356.8666666666667" font-size="6.3" font-weight="bold" text-anchor="end">50</text>
<line x1="64.6" y1="339.55" x2="67.6" y2="339.55" stroke="#000" stroke-width="1"/>
<text x="63.99999999999999" y="341.85" font-size="6.3" font-weight="bold" text-anchor="end">75</text>
<line x1="64.6" y1="324.53333333333336" x2="67.6" y2="324.53333333333336" stroke="#000" stroke-width="1"/>
<text x="63.99999999999999" y="326.83333333333337" font-size="6.3" font-weight="bold" text-anchor="end">100</text>
<line x1="64.6" y1="309.51666666666665" x2="67.6" y2="309.51666666666665" stroke="#000" stroke-width="1"/>
<text x="63.99999999999999" y="311.81666666666666" font-size="6.3" font-weight="bold" text-anchor="end">125</text>
<line x1="64.6" y1="294.5" x2="67.6" y2="294.5" stroke="#000" stroke-width="1"/>
<text x="63.99999999999999" y="296.8" font-size="6.3" font-weight="bold" text-anchor="end">150</text>
<line x1="67.6" y1="294.0" x2="67.6" y2="385.20000000000005" stroke="#000" stroke-width="1.3"/>
<line x1="67.6" y1="384.6" x2="204.6" y2="384.6" stroke="#000" stroke-width="1.3"/>
<rect x="75.5" y="324.5" width="15.0" height="60.10000000000002" fill="#000"/>
<line x1="83.0" y1="319.5" x2="83.0" y2="324.5" stroke="#000" stroke-width="1"/>
<line x1="78.5" y1="319.5" x2="87.5" y2="319.5" stroke="#000" stroke-width="1.1"/>
<rect x="91.1" y="321.1" width="15.3" height="63.50000000000002" fill="#fff" stroke="#000" stroke-width="1.2"/>
<line x1="98.75" y1="308.3" x2="98.75" y2="320.5" stroke="#000" stroke-width="1"/>
<line x1="93.8" y1="308.3" x2="103.7" y2="308.3" stroke="#000" stroke-width="1.1"/>
<rect x="121.2" y="324.3" width="15.700000000000003" height="60.30000000000001" fill="#000"/>
<line x1="129.05" y1="321.3" x2="129.05" y2="324.3" stroke="#000" stroke-width="1"/>
<line x1="124.34" y1="321.3" x2="133.76000000000002" y2="321.3" stroke="#000" stroke-width="1.1"/>
<rect x="137.5" y="345.8" width="14.200000000000006" height="38.80000000000003" fill="#fff" stroke="#000" stroke-width="1.2"/>
<line x1="144.60000000000002" y1="342.3" x2="144.60000000000002" y2="345.2" stroke="#000" stroke-width="1"/>
<line x1="139.98000000000002" y1="342.3" x2="149.22000000000003" y2="342.3" stroke="#000" stroke-width="1.1"/>
<rect x="166.3" y="324.3" width="16.399999999999977" height="60.30000000000001" fill="#000"/>
<line x1="174.5" y1="320.8" x2="174.5" y2="324.3" stroke="#000" stroke-width="1"/>
<line x1="169.58" y1="320.8" x2="179.42" y2="320.8" stroke="#000" stroke-width="1.1"/>
<rect x="183.29999999999998" y="343.1" width="13.200000000000006" height="41.50000000000002" fill="#fff" stroke="#000" stroke-width="1.2"/>
<line x1="189.89999999999998" y1="339" x2="189.89999999999998" y2="342.5" stroke="#000" stroke-width="1"/>
<line x1="185.57999999999998" y1="339" x2="194.21999999999997" y2="339" stroke="#000" stroke-width="1.1"/>
<text x="49.6" y="338.8" font-size="7.6" font-weight="bold" text-anchor="middle" transform="rotate(-90 49.6 338.8)">cell number (% of ctrl)</text>
<text x="144.9" y="314.7" font-size="10" text-anchor="middle">***</text>
<text x="190.3" y="314.7" font-size="10" text-anchor="middle">**</text>
<line x1="74.8" y1="390.4" x2="105.5" y2="390.4" stroke="#000" stroke-width="1.3"/>
<line x1="122.7" y1="390.4" x2="152.9" y2="390.4" stroke="#000" stroke-width="1.3"/>
<line x1="167.7" y1="390.4" x2="197.1" y2="390.4" stroke="#000" stroke-width="1.3"/>
<text x="92.7" y="399.6" font-size="7.3" text-anchor="middle" fill="#222">c-Kit<tspan font-size="4.5" baseline-shift="2.7">+</tspan></text>
<text x="138.4" y="399.6" font-size="7.3" text-anchor="middle" fill="#222">c-Kit<tspan font-size="4.5" baseline-shift="2.7">+</tspan>/Ly6C<tspan font-size="4.5" baseline-shift="2.7">+</tspan></text>
<text x="188" y="399.6" font-size="7.3" text-anchor="middle" fill="#222">c-Kit<tspan font-size="4.5" baseline-shift="2.7">low</tspan>/Ly6C<tspan font-size="4.5" baseline-shift="2.7">high</tspan></text>
<rect x="198.5" y="288.4" width="14.2" height="5.2" fill="#000"/>
<text x="213.29999999999998" y="293.49999999999994" font-size="7.6" fill="#444">ctrl</text>
<rect x="199.25" y="299.95" width="12.7" height="3.7" fill="#fff" stroke="#000" stroke-width="1.5"/>
<text x="213.29999999999998" y="306.29999999999995" font-size="7.7" fill="#444">Musk-L;Agrn<tspan font-size="4.774" baseline-shift="2.9">-/-</tspan></text>
<line x1="314.3" y1="383.8" x2="317.3" y2="383.8" stroke="#000" stroke-width="1"/>
<text x="313.7" y="386.1" font-size="6.3" font-weight="bold" text-anchor="end">0</text>
<line x1="314.3" y1="366.14" x2="317.3" y2="366.14" stroke="#000" stroke-width="1"/>
<text x="313.7" y="368.44" font-size="6.3" font-weight="bold" text-anchor="end">25</text>
<line x1="314.3" y1="348.48" x2="317.3" y2="348.48" stroke="#000" stroke-width="1"/>
<text x="313.7" y="350.78000000000003" font-size="6.3" font-weight="bold" text-anchor="end">50</text>
<line x1="314.3" y1="330.82" x2="317.3" y2="330.82" stroke="#000" stroke-width="1"/>
<text x="313.7" y="333.12" font-size="6.3" font-weight="bold" text-anchor="end">75</text>
<line x1="314.3" y1="313.15999999999997" x2="317.3" y2="313.15999999999997" stroke="#000" stroke-width="1"/>
<text x="313.7" y="315.46" font-size="6.3" font-weight="bold" text-anchor="end">100</text>
<line x1="314.3" y1="295.5" x2="317.3" y2="295.5" stroke="#000" stroke-width="1"/>
<text x="313.7" y="297.8" font-size="6.3" font-weight="bold" text-anchor="end">125</text>
<line x1="317.3" y1="295.0" x2="317.3" y2="384.40000000000003" stroke="#000" stroke-width="1.3"/>
<line x1="317.3" y1="383.8" x2="449.5" y2="383.8" stroke="#000" stroke-width="1.3"/>
<rect x="321.2" y="313.2" width="17.600000000000023" height="70.60000000000002" fill="#000"/>
<line x1="330.0" y1="306.8" x2="330.0" y2="313.2" stroke="#000" stroke-width="1"/>
<line x1="324.71999999999997" y1="306.8" x2="335.28000000000003" y2="306.8" stroke="#000" stroke-width="1.1"/>
<rect x="339.40000000000003" y="320.6" width="16.199999999999978" height="63.20000000000001" fill="#fff" stroke="#000" stroke-width="1.2"/>
<line x1="347.5" y1="315.8" x2="347.5" y2="320" stroke="#000" stroke-width="1"/>
<line x1="342.28000000000003" y1="315.8" x2="352.71999999999997" y2="315.8" stroke="#000" stroke-width="1.1"/>
<rect x="365" y="313.2" width="18" height="70.60000000000002" fill="#000"/>
<line x1="374.0" y1="304.3" x2="374.0" y2="313.2" stroke="#000" stroke-width="1"/>
<line x1="368.6" y1="304.3" x2="379.4" y2="304.3" stroke="#000" stroke-width="1.1"/>
<rect x="383.6" y="333.70000000000005" width="15.99999999999999" height="50.09999999999999" fill="#fff" stroke="#000" stroke-width="1.2"/>
<line x1="391.6" y1="324.8" x2="391.6" y2="333.1" stroke="#000" stroke-width="1"/>
<line x1="386.44000000000005" y1="324.8" x2="396.76" y2="324.8" stroke="#000" stroke-width="1.1"/>
<rect x="409.1" y="313" width="18.599999999999966" height="70.80000000000001" fill="#000"/>
<line x1="418.4" y1="306.2" x2="418.4" y2="313" stroke="#000" stroke-width="1"/>
<line x1="412.82" y1="306.2" x2="423.97999999999996" y2="306.2" stroke="#000" stroke-width="1.1"/>
<rect x="428.3" y="346.90000000000003" width="16.3" height="36.9" fill="#fff" stroke="#000" stroke-width="1.2"/>
<line x1="436.45" y1="341.7" x2="436.45" y2="346.3" stroke="#000" stroke-width="1"/>
<line x1="431.2" y1="341.7" x2="441.7" y2="341.7" stroke="#000" stroke-width="1.1"/>
<text x="299.4" y="339.4" font-size="7.5" font-weight="bold" text-anchor="middle" transform="rotate(-90 299.4 339.4)">cell number (% of ctrl)</text>
<text x="437.2" y="301.5" font-size="10" text-anchor="middle">**</text>
<line x1="323.7" y1="391.3" x2="353.7" y2="391.3" stroke="#000" stroke-width="1.3"/>
<line x1="367" y1="391.3" x2="399.4" y2="391.3" stroke="#000" stroke-width="1.3"/>
<line x1="411" y1="391.3" x2="444.6" y2="391.3" stroke="#000" stroke-width="1.3"/>
<text x="335.2" y="400.4" font-size="6.6" font-weight="bold" text-anchor="middle">CD31<tspan font-size="4.5" baseline-shift="2.7">+</tspan></text>
<text x="379" y="400.4" font-size="6.6" font-weight="bold" text-anchor="middle">CD31<tspan font-size="4.5" baseline-shift="2.7">+</tspan> Ly6C<tspan font-size="4.5" baseline-shift="2.7">+</tspan></text>
<text x="426.8" y="400.4" font-size="6.8" font-weight="bold" text-anchor="middle">Ly6C<tspan font-size="4.5" baseline-shift="2.7">high</tspan></text>
<rect x="453.2" y="288.9" width="13.5" height="4.5" fill="#000"/>
<text x="467.3" y="293.09999999999997" font-size="7.4" fill="#444">ctrl</text>
<rect x="453.9" y="300.09999999999997" width="12.1" height="3.1" fill="#fff" stroke="#000" stroke-width="1.4"/>
<text x="467.3" y="306.0" font-size="7.6" fill="#444">Musk-L;Agrn<tspan font-size="4.712" baseline-shift="2.8">-/-</tspan></text>
<rect x="82.5" y="424.5" width="134.3" height="94.8" fill="none" stroke="#555" stroke-width="1"/>
<line x1="130.5" y1="424.5" x2="130.5" y2="519.3" stroke="#555" stroke-width="1"/>
<line x1="82.5" y1="485" x2="130.5" y2="485" stroke="#555" stroke-width="1"/>
<line x1="130.5" y1="472" x2="216.8" y2="472" stroke="#555" stroke-width="1"/>
<line x1="182.5" y1="472" x2="182.5" y2="519.3" stroke="#555" stroke-width="1"/>
<text x="90" y="441.3" font-size="10.5">R1</text>
<text x="197" y="443.8" font-size="10.5">R2</text>
<text x="160.7" y="516.3" font-size="10.5">R4</text>
<text x="198.2" y="516.3" font-size="10.5">R3</text>
<path d="M107.6 472.6h0.7M116.7 473.8h0.7M93.5 472.7h0.7M107.4 470.6h0.7M122.8 475.8h0.7M117.6 471.2h0.7M104.2 478.1h0.7M93.1 475.6h0.7M109.5 472.2h0.7M109.5 470.0h0.7M110.9 469.4h0.7M94.7 479.7h0.7M100.9 465.9h0.7M119.0 471.1h0.7M118.5 475.6h0.7M127.1 473.7h0.7M115.0 470.2h0.7M110.3 480.2h0.7M114.0 474.8h0.7M87.1 472.7h0.7M94.6 477.2h0.7M100.5 475.6h0.7M97.7 481.6h0.7M95.8 474.7h0.7M137.0 475.0h0.7M99.1 476.6h0.7M119.3 477.6h0.7M87.2 475.0h0.7M85.5 481.7h0.7M109.3 472.4h0.7M115.8 476.1h0.7M95.7 480.6h0.7M105.9 467.3h0.7M123.7 480.2h0.7M122.2 476.4h0.7M98.8 477.9h0.7M128.7 477.4h0.7M125.9 471.1h0.7M119.6 477.9h0.7M92.3 467.8h0.7M100.7 474.5h0.7M113.5 473.3h0.7M107.9 473.8h0.7M109.5 476.5h0.7M114.0 474.0h0.7M111.4 472.4h0.7M117.3 472.2h0.7M126.5 474.1h0.7M111.6 471.2h0.7M104.8 474.9h0.7M108.8 471.7h0.7M95.9 474.4h0.7M110.3 476.4h0.7M122.2 473.0h0.7M95.2 468.1h0.7M106.7 472.4h0.7M116.4 476.5h0.7M99.5 466.3h0.7M105.3 466.0h0.7M86.5 483.3h0.7M114.3 481.2h0.7M92.2 481.6h0.7M96.1 475.0h0.7M94.7 473.6h0.7M115.9 465.3h0.7M102.2 468.0h0.7M127.7 465.4h0.7M119.4 474.2h0.7M124.7 472.1h0.7M114.5 466.6h0.7M94.9 465.1h0.7M98.9 475.1h0.7M100.6 466.0h0.7M93.7 463.3h0.7M105.1 467.7h0.7M119.0 479.9h0.7M107.4 476.8h0.7M92.1 473.9h0.7M116.5 467.7h0.7M126.5 472.8h0.7M105.4 463.2h0.7M91.1 469.8h0.7M116.4 473.1h0.7M108.2 464.9h0.7M119.8 475.2h0.7M111.0 472.3h0.7M122.5 464.1h0.7M85.6 466.1h0.7M113.0 473.3h0.7M110.9 481.8h0.7M118.5 464.2h0.7M94.4 474.8h0.7M110.2 469.0h0.7M96.5 471.2h0.7M117.5 482.4h0.7M88.4 476.2h0.7M91.8 469.0h0.7M125.6 472.5h0.7M116.7 483.6h0.7M95.8 481.2h0.7M98.4 471.9h0.7M103.7 474.1h0.7M95.0 472.6h0.7M91.0 466.2h0.7M126.7 483.3h0.7M94.1 467.8h0.7M117.2 467.6h0.7M115.9 465.3h0.7M116.6 482.8h0.7M98.0 482.2h0.7M94.6 476.4h0.7M111.5 474.1h0.7M127.8 475.2h0.7M101.7 470.8h0.7M94.4 481.7h0.7M106.9 474.7h0.7M93.2 481.0h0.7M99.9 477.6h0.7M116.6 477.3h0.7" stroke="#5f9fd0" stroke-width="0.7" opacity="0.75"/>
<path d="M164.9 467.5h0.7M170.6 469.8h0.7M154.8 466.8h0.7M157.6 470.1h0.7M196.4 466.5h0.7M177.4 470.4h0.7M164.9 464.3h0.7M184.9 468.1h0.7M166.2 470.5h0.7M172.9 462.1h0.7M174.6 466.6h0.7M197.6 466.7h0.7M166.3 467.9h0.7M173.0 463.1h0.7M171.2 465.9h0.7M152.6 464.2h0.7M156.7 465.0h0.7M159.0 466.9h0.7M185.7 463.4h0.7M146.3 462.0h0.7M186.0 470.2h0.7M146.4 462.5h0.7M171.4 469.6h0.7M184.6 467.2h0.7M179.6 467.6h0.7M169.4 463.9h0.7M162.4 462.7h0.7M169.7 469.6h0.7M150.4 469.7h0.7M200.8 467.7h0.7M152.0 464.5h0.7M164.4 463.4h0.7M150.7 466.1h0.7M166.7 468.3h0.7M185.4 469.1h0.7M159.7 471.3h0.7M185.5 464.4h0.7M184.5 466.3h0.7M172.5 467.3h0.7M157.8 466.2h0.7M159.5 465.6h0.7M176.4 464.3h0.7M180.3 467.0h0.7M180.9 469.1h0.7M188.1 468.4h0.7M180.1 466.3h0.7M178.0 464.4h0.7M165.7 468.7h0.7M168.6 467.9h0.7M153.6 470.3h0.7M160.8 467.8h0.7M169.1 469.2h0.7M163.7 464.1h0.7M140.9 465.9h0.7M151.5 468.1h0.7M191.1 460.9h0.7M150.0 467.6h0.7M188.0 467.5h0.7M174.3 468.1h0.7M178.1 471.0h0.7M178.6 463.5h0.7M162.3 467.3h0.7M157.2 466.1h0.7M161.5 464.9h0.7M179.9 465.7h0.7M153.0 464.9h0.7M173.3 470.6h0.7M176.9 461.1h0.7M175.1 464.5h0.7M149.0 463.9h0.7M196.4 462.6h0.7M160.1 469.8h0.7M179.4 462.3h0.7M167.7 465.4h0.7M166.5 468.7h0.7M160.7 465.9h0.7M191.4 461.9h0.7M163.8 468.0h0.7M150.6 465.1h0.7M149.5 467.1h0.7M160.0 468.8h0.7M184.8 466.9h0.7M163.6 467.4h0.7M170.2 463.5h0.7M185.6 467.3h0.7M181.3 463.2h0.7M178.7 462.9h0.7M169.9 466.6h0.7M172.6 466.1h0.7M176.8 465.5h0.7M172.8 464.9h0.7M170.8 469.3h0.7M161.9 468.5h0.7M155.9 465.8h0.7M165.7 470.0h0.7M157.7 469.9h0.7M147.1 466.3h0.7M183.1 468.6h0.7M154.0 463.5h0.7M182.6 463.4h0.7M178.1 465.4h0.7M192.8 468.9h0.7M148.4 467.6h0.7M170.1 466.5h0.7M189.5 462.2h0.7M174.1 467.1h0.7M157.9 471.3h0.7M150.0 466.8h0.7M170.5 461.0h0.7M147.5 464.2h0.7M181.2 469.2h0.7M178.2 467.3h0.7M135.9 467.3h0.7M161.4 469.8h0.7M180.0 468.9h0.7M153.5 466.9h0.7M150.4 469.1h0.7M151.1 466.1h0.7M156.7 465.5h0.7M176.1 465.2h0.7M172.5 464.1h0.7M190.4 465.0h0.7M132.1 464.1h0.7M166.0 469.8h0.7M161.8 467.7h0.7M158.0 468.2h0.7M150.7 468.9h0.7M196.8 467.1h0.7M185.1 469.7h0.7M162.7 468.3h0.7M176.8 462.3h0.7M178.1 466.2h0.7M188.7 470.1h0.7M159.3 465.1h0.7M172.0 468.4h0.7M162.8 466.4h0.7M178.4 467.8h0.7M186.8 467.3h0.7M155.5 462.0h0.7M181.5 465.8h0.7M163.7 465.9h0.7M144.9 465.6h0.7M175.9 466.1h0.7M171.5 468.6h0.7M157.4 466.1h0.7M170.1 461.4h0.7M168.0 469.3h0.7M160.3 466.0h0.7M150.0 463.8h0.7M136.0 469.7h0.7M151.3 467.7h0.7M174.1 464.9h0.7M169.7 466.4h0.7M161.3 466.8h0.7M169.7 463.9h0.7M148.9 464.4h0.7M170.8 470.4h0.7M191.6 467.5h0.7M183.5 467.0h0.7M186.0 467.0h0.7M175.0 465.9h0.7M150.3 466.7h0.7M159.7 469.2h0.7M197.0 465.8h0.7M178.4 462.1h0.7M165.1 466.5h0.7M133.0 468.5h0.7M175.7 467.3h0.7M152.4 464.7h0.7M159.0 467.9h0.7M153.5 470.6h0.7M174.7 460.8h0.7M195.0 467.1h0.7M160.2 466.9h0.7M140.4 467.1h0.7M189.8 470.0h0.7M163.4 464.0h0.7M183.3 466.5h0.7M172.0 468.3h0.7M152.0 468.8h0.7M135.7 470.6h0.7M144.2 464.9h0.7M158.3 468.6h0.7M180.3 467.6h0.7M177.1 467.9h0.7M167.5 461.4h0.7M132.6 460.4h0.7M167.9 466.0h0.7M166.4 467.2h0.7M164.9 463.9h0.7M145.1 461.5h0.7M187.6 469.1h0.7M147.4 465.9h0.7M175.5 470.9h0.7M159.1 467.1h0.7M186.7 461.9h0.7M157.0 466.5h0.7M182.1 467.1h0.7M153.5 468.9h0.7M147.3 448.4h0.7M181.4 462.6h0.7M185.1 466.6h0.7M178.5 451.6h0.7M152.7 447.8h0.7M147.7 450.9h0.7M139.2 436.9h0.7M146.7 434.7h0.7M160.2 467.9h0.7M158.6 456.8h0.7M139.9 435.2h0.7M194.1 454.4h0.7M148.1 441.5h0.7M140.6 463.9h0.7M149.6 445.6h0.7M165.9 432.7h0.7M178.7 457.3h0.7M140.7 469.8h0.7M145.6 460.0h0.7M136.9 468.5h0.7M162.9 435.9h0.7M205.0 443.1h0.7M189.7 461.5h0.7M194.7 449.6h0.7M199.0 438.8h0.7M150.5 445.0h0.7M180.3 442.8h0.7M164.2 458.7h0.7M160.4 461.4h0.7M188.1 460.0h0.7M174.3 457.4h0.7M178.6 460.4h0.7M153.9 467.1h0.7M200.8 442.0h0.7M180.9 442.6h0.7M179.1 469.3h0.7M188.2 465.5h0.7M198.9 457.3h0.7M147.3 462.2h0.7M153.5 456.4h0.7M203.1 443.7h0.7M182.2 453.5h0.7M197.2 441.3h0.7M158.2 435.7h0.7M204.1 444.9h0.7" stroke="#cf6fd2" stroke-width="0.7" opacity="0.65"/>
<path d="M167.1 481.5h0.8M169.5 479.0h0.8M169.5 480.7h0.8M170.2 475.0h0.8M176.1 479.2h0.8M179.9 482.9h0.8M176.6 481.7h0.8M180.4 479.9h0.8M167.4 482.3h0.8M157.6 479.7h0.8M174.3 479.6h0.8M180.2 483.5h0.8M173.7 479.6h0.8M179.3 478.6h0.8M170.7 483.7h0.8M176.4 488.2h0.8M171.8 474.4h0.8M176.8 485.4h0.8M172.1 486.5h0.8M170.3 476.6h0.8M176.1 483.5h0.8M176.5 476.7h0.8M168.7 476.0h0.8M163.9 476.3h0.8M164.1 480.4h0.8M175.4 483.2h0.8M172.9 478.7h0.8M173.0 483.0h0.8M171.3 481.2h0.8M171.3 479.2h0.8M173.2 477.1h0.8M179.0 475.5h0.8M175.6 476.2h0.8M181.6 484.0h0.8M168.4 479.4h0.8M166.6 480.8h0.8M175.3 490.0h0.8M165.3 485.3h0.8M169.7 482.0h0.8M178.0 482.9h0.8M175.4 480.3h0.8M173.0 481.5h0.8M179.8 475.9h0.8M170.2 476.6h0.8M167.5 478.2h0.8M179.2 488.5h0.8M180.7 476.9h0.8M173.4 477.0h0.8M175.5 485.4h0.8M176.3 484.0h0.8M172.2 474.1h0.8M161.8 480.7h0.8M176.2 485.4h0.8M171.0 481.3h0.8M174.4 484.7h0.8M172.6 477.2h0.8M179.1 482.4h0.8M175.2 476.6h0.8M173.0 475.0h0.8M161.7 480.2h0.8M170.5 483.0h0.8M181.1 480.9h0.8M177.3 476.6h0.8M173.7 479.9h0.8M171.8 483.1h0.8M162.3 481.4h0.8M168.4 481.4h0.8M175.2 479.7h0.8M170.9 477.0h0.8M176.1 478.7h0.8M175.5 476.0h0.8M180.7 477.4h0.8M179.5 479.4h0.8M176.1 480.5h0.8M176.8 481.0h0.8M180.2 483.3h0.8M176.8 486.8h0.8M169.1 485.5h0.8M173.4 475.8h0.8M175.7 480.3h0.8M173.3 481.8h0.8M162.2 482.8h0.8M167.4 485.9h0.8M164.1 481.6h0.8M174.0 483.5h0.8M171.3 476.8h0.8M172.2 477.8h0.8M169.3 480.8h0.8M166.0 479.4h0.8M172.2 479.3h0.8M171.6 485.3h0.8M175.4 476.3h0.8M170.6 483.6h0.8M169.3 481.3h0.8M172.8 482.8h0.8M172.0 480.5h0.8M168.2 482.3h0.8M167.8 487.0h0.8M172.9 480.2h0.8M177.4 480.7h0.8M173.5 480.8h0.8M168.9 477.8h0.8M169.1 484.9h0.8M169.5 479.6h0.8M170.5 483.4h0.8M176.1 481.4h0.8M171.3 482.8h0.8M165.8 483.9h0.8M174.2 477.5h0.8M182.0 484.0h0.8M179.5 475.9h0.8M171.5 479.2h0.8M176.5 485.7h0.8M162.3 481.1h0.8M172.3 484.5h0.8M172.8 476.6h0.8M171.9 477.4h0.8M168.6 481.1h0.8M170.3 482.0h0.8M164.5 489.1h0.8M180.1 483.5h0.8M165.7 473.5h0.8M168.1 480.2h0.8M170.0 485.2h0.8M179.9 481.1h0.8M179.8 482.1h0.8M169.3 476.9h0.8M172.3 484.5h0.8M165.4 475.4h0.8M177.1 487.5h0.8M164.8 477.3h0.8M172.3 481.8h0.8M178.9 485.6h0.8M173.6 479.8h0.8M172.8 482.1h0.8M180.4 481.5h0.8M176.0 487.1h0.8M180.2 482.2h0.8M168.0 478.5h0.8M172.1 482.1h0.8M171.6 475.9h0.8M168.8 482.8h0.8M177.7 476.1h0.8M171.0 475.2h0.8M169.8 493.3h0.8M173.4 479.8h0.8M169.7 476.8h0.8M162.5 480.9h0.8M171.4 486.1h0.8M163.8 482.5h0.8M180.5 474.2h0.8M176.7 475.4h0.8M175.9 486.1h0.8M173.0 482.0h0.8M169.1 482.0h0.8M179.4 480.4h0.8M172.2 482.4h0.8M177.6 475.3h0.8M173.3 478.6h0.8M175.8 484.6h0.8M174.8 485.5h0.8M167.4 479.6h0.8M167.4 481.2h0.8M173.5 480.3h0.8M166.2 480.7h0.8M170.5 483.1h0.8M171.5 485.0h0.8M174.3 474.5h0.8M172.0 476.0h0.8M178.5 486.0h0.8M172.9 482.5h0.8M164.9 473.2h0.8M169.9 480.1h0.8M164.5 481.3h0.8M174.8 483.2h0.8M181.7 483.8h0.8M170.9 481.4h0.8M176.4 477.4h0.8M180.5 484.1h0.8M171.7 478.8h0.8M178.3 487.3h0.8M178.5 481.7h0.8M177.0 477.8h0.8M177.0 475.7h0.8M175.4 483.0h0.8M164.2 487.7h0.8M166.6 484.7h0.8M170.1 482.1h0.8M169.3 489.7h0.8M178.9 487.3h0.8M177.5 483.5h0.8M173.9 480.2h0.8M176.5 481.6h0.8M172.2 476.3h0.8M171.4 483.2h0.8M170.5 482.3h0.8M172.3 477.5h0.8M168.0 478.5h0.8M171.5 480.2h0.8M179.4 477.3h0.8M161.6 483.5h0.8M170.6 480.7h0.8M176.5 484.4h0.8M173.8 484.4h0.8M169.7 478.6h0.8M170.5 486.6h0.8M181.9 479.0h0.8M179.7 480.5h0.8M179.2 480.0h0.8M178.6 480.7h0.8M171.6 481.0h0.8M174.1 479.1h0.8M165.5 487.0h0.8M171.0 474.8h0.8M169.7 485.9h0.8M164.0 480.0h0.8M162.8 485.0h0.8M175.3 482.3h0.8M180.8 486.9h0.8M179.0 479.1h0.8M165.7 477.5h0.8M163.3 487.4h0.8M172.1 481.6h0.8M174.3 488.2h0.8M170.0 485.3h0.8M174.9 480.6h0.8M162.4 484.4h0.8M169.0 479.5h0.8M174.5 481.5h0.8M179.6 478.8h0.8M174.2 482.1h0.8M173.4 483.5h0.8M171.8 485.4h0.8M169.2 476.1h0.8M173.0 485.3h0.8M170.3 478.9h0.8M171.3 481.7h0.8M172.2 482.2h0.8M163.5 486.4h0.8M176.5 478.1h0.8M181.0 482.7h0.8M181.6 477.0h0.8M161.6 483.8h0.8M171.5 477.6h0.8M172.0 474.3h0.8M176.5 480.4h0.8M171.7 486.1h0.8M173.4 478.8h0.8M167.8 480.9h0.8M179.3 479.1h0.8M167.4 484.4h0.8M173.6 481.1h0.8M174.4 474.9h0.8M171.5 483.2h0.8M179.6 476.7h0.8M178.0 483.9h0.8M172.5 489.8h0.8M173.2 478.1h0.8M175.6 474.6h0.8M182.1 484.6h0.8M171.0 483.3h0.8M176.3 487.9h0.8M169.7 476.6h0.8M161.7 480.1h0.8M164.3 480.5h0.8M175.6 479.6h0.8M167.9 485.3h0.8M172.1 482.0h0.8M178.6 476.6h0.8M168.0 489.9h0.8M172.3 477.5h0.8M171.8 479.1h0.8M166.3 479.7h0.8M173.1 481.1h0.8M176.3 475.1h0.8M164.8 483.9h0.8M170.7 485.4h0.8M174.9 476.2h0.8M176.3 477.6h0.8M174.7 485.4h0.8M177.2 482.2h0.8M171.0 482.2h0.8M175.9 478.5h0.8M177.9 485.0h0.8M173.6 480.3h0.8M171.2 481.6h0.8M179.9 486.4h0.8M170.6 477.9h0.8M168.7 484.6h0.8M174.5 482.2h0.8M176.0 482.5h0.8M172.5 477.5h0.8M169.7 481.6h0.8M175.4 479.9h0.8M170.9 485.9h0.8M170.6 481.9h0.8M171.4 478.1h0.8M164.7 479.3h0.8M168.6 484.1h0.8M166.8 479.7h0.8M176.9 480.7h0.8M176.0 484.1h0.8M163.9 479.7h0.8M167.8 485.8h0.8M172.6 482.9h0.8M173.6 482.6h0.8M171.7 485.5h0.8M177.8 484.6h0.8M173.5 480.0h0.8M171.2 479.9h0.8M164.0 482.4h0.8M177.8 481.1h0.8M170.4 481.3h0.8M174.5 482.3h0.8M175.3 483.5h0.8M173.7 480.3h0.8M167.5 479.1h0.8M177.2 486.2h0.8M169.5 482.8h0.8M176.1 484.6h0.8M174.6 482.7h0.8M178.2 477.1h0.8M173.5 475.0h0.8M162.2 478.3h0.8M164.6 482.9h0.8M178.7 480.1h0.8M172.4 480.3h0.8M171.8 481.6h0.8M175.2 479.5h0.8M168.8 479.3h0.8M177.7 479.7h0.8M181.3 480.3h0.8M180.8 477.0h0.8M169.3 482.8h0.8M175.9 480.6h0.8M174.8 479.2h0.8M175.5 475.5h0.8M175.2 479.5h0.8M175.4 484.2h0.8M169.0 481.9h0.8M178.0 481.7h0.8M171.4 477.5h0.8M169.5 476.8h0.8M178.6 481.5h0.8M166.5 481.1h0.8M179.9 485.1h0.8M165.0 478.7h0.8M174.3 479.8h0.8M168.5 479.4h0.8M171.8 479.2h0.8M174.3 480.3h0.8M169.0 481.2h0.8M164.0 486.0h0.8M163.6 480.8h0.8M175.0 482.5h0.8M174.6 485.4h0.8M167.0 480.9h0.8M174.0 479.4h0.8M169.9 485.5h0.8M169.2 479.5h0.8M171.6 480.4h0.8M174.0 480.4h0.8M175.2 481.6h0.8M175.8 485.7h0.8M168.5 486.7h0.8M170.7 483.3h0.8M174.0 480.1h0.8M162.4 486.6h0.8M169.0 478.4h0.8M179.0 481.3h0.8M177.0 481.9h0.8M177.3 476.6h0.8M174.1 481.6h0.8M170.5 481.9h0.8M165.1 484.1h0.8M180.2 476.7h0.8M173.9 486.3h0.8M175.4 477.6h0.8M167.7 484.0h0.8M173.3 478.4h0.8M171.6 482.1h0.8M172.9 478.8h0.8M172.1 484.8h0.8M173.2 480.4h0.8M178.3 477.6h0.8M177.2 484.5h0.8M176.7 480.5h0.8M173.1 475.3h0.8M172.4 482.0h0.8M177.8 481.5h0.8M171.0 478.2h0.8M172.9 481.5h0.8M179.7 481.1h0.8M170.4 480.7h0.8M170.5 480.3h0.8M161.1 475.7h0.8M166.6 482.6h0.8M172.7 481.6h0.8M179.4 477.6h0.8M179.3 482.4h0.8M169.2 486.1h0.8M165.3 477.3h0.8M172.0 482.4h0.8M172.1 473.9h0.8M171.5 480.8h0.8M173.8 477.4h0.8M175.0 477.1h0.8M174.2 482.3h0.8M170.9 481.9h0.8M171.3 479.1h0.8M181.4 483.0h0.8M171.4 478.5h0.8M174.1 483.0h0.8M177.7 486.0h0.8M175.6 477.3h0.8M177.6 485.5h0.8M165.0 479.8h0.8M170.3 485.0h0.8M166.7 480.0h0.8M181.3 483.2h0.8M171.0 487.4h0.8M165.9 482.6h0.8M171.8 482.8h0.8M171.6 478.2h0.8M174.2 476.6h0.8M176.0 480.0h0.8M178.1 479.5h0.8M169.4 482.4h0.8M179.8 474.1h0.8M173.7 483.1h0.8M165.4 478.1h0.8M176.6 478.3h0.8M169.6 486.8h0.8M168.0 478.1h0.8M160.5 477.4h0.8M166.4 486.8h0.8M179.7 476.8h0.8M172.1 483.7h0.8M175.1 478.5h0.8M163.5 478.0h0.8M173.0 479.8h0.8M169.0 484.3h0.8M167.3 484.0h0.8M170.4 481.4h0.8M167.0 481.0h0.8M168.8 475.2h0.8M172.9 480.9h0.8M177.5 482.0h0.8M167.5 479.0h0.8M159.6 477.3h0.8M180.1 486.1h0.8M177.2 482.0h0.8M176.2 482.7h0.8M163.6 478.1h0.8M179.5 485.0h0.8M174.3 480.0h0.8M170.9 479.2h0.8M168.0 474.6h0.8M173.8 479.5h0.8M171.9 486.8h0.8M176.2 478.7h0.8M176.2 476.0h0.8M178.7 481.9h0.8M172.0 482.9h0.8M180.9 479.5h0.8M167.7 488.1h0.8M173.1 486.0h0.8M169.4 482.3h0.8M169.5 483.1h0.8M171.5 478.8h0.8M181.5 482.2h0.8M162.0 480.2h0.8M168.0 476.9h0.8M169.8 479.4h0.8M173.2 478.3h0.8M162.9 479.2h0.8M177.8 476.4h0.8M176.4 482.6h0.8M170.6 482.1h0.8M168.9 479.7h0.8M167.4 482.6h0.8M180.5 478.7h0.8M179.5 473.8h0.8M168.2 477.6h0.8M177.3 474.1h0.8M173.6 482.9h0.8M174.0 483.7h0.8M180.2 482.4h0.8M163.8 480.3h0.8M178.0 478.2h0.8M176.1 479.4h0.8M173.5 483.6h0.8M169.1 490.7h0.8M173.8 482.2h0.8M168.9 481.2h0.8M171.5 476.1h0.8M164.6 482.0h0.8M161.2 480.0h0.8M172.6 483.1h0.8M166.2 483.0h0.8M171.3 479.3h0.8M172.2 484.3h0.8M176.1 484.0h0.8M169.2 480.0h0.8M166.6 479.1h0.8M170.8 479.4h0.8M176.9 482.4h0.8M177.2 481.4h0.8M178.9 481.4h0.8M178.3 482.7h0.8M177.0 480.8h0.8M166.2 476.1h0.8M175.4 480.4h0.8M170.5 490.8h0.8M166.8 480.8h0.8M172.7 477.2h0.8M166.0 478.6h0.8M171.1 479.3h0.8M177.5 477.0h0.8M175.2 486.0h0.8M177.9 477.1h0.8M156.8 483.9h0.8M175.7 479.0h0.8M180.0 479.6h0.8M173.6 477.5h0.8M174.8 479.5h0.8M170.2 484.7h0.8M174.2 475.9h0.8M176.8 483.8h0.8M168.4 479.7h0.8M173.3 480.2h0.8M173.7 483.2h0.8M170.3 488.1h0.8M169.1 479.2h0.8M173.2 480.4h0.8M167.1 484.9h0.8M174.0 478.1h0.8M175.2 485.7h0.8M176.8 488.5h0.8M179.4 482.5h0.8M172.8 482.9h0.8M179.7 483.9h0.8M178.8 481.8h0.8M177.2 485.1h0.8M172.1 476.6h0.8M170.6 481.8h0.8M171.6 475.2h0.8M172.0 476.2h0.8M174.1 480.6h0.8M179.2 480.6h0.8M175.1 480.0h0.8M170.9 476.2h0.8M178.4 481.6h0.8M169.8 481.7h0.8M170.7 478.5h0.8M174.4 485.1h0.8M171.5 476.2h0.8M169.6 487.1h0.8M168.5 485.0h0.8M171.7 483.5h0.8M172.4 475.6h0.8M170.7 488.2h0.8M172.3 482.9h0.8M171.2 480.6h0.8M174.8 482.6h0.8M172.0 478.8h0.8M165.8 475.5h0.8M176.7 474.7h0.8M180.7 483.9h0.8M171.4 477.1h0.8M173.2 481.1h0.8M179.2 478.5h0.8M170.9 480.8h0.8M171.5 478.9h0.8M163.6 475.4h0.8M169.3 480.2h0.8M178.5 488.9h0.8M170.1 488.9h0.8M167.2 479.6h0.8M171.6 486.0h0.8M169.8 483.7h0.8M170.8 476.9h0.8M174.3 481.6h0.8M166.7 478.1h0.8M168.7 484.3h0.8M175.6 481.8h0.8M175.7 479.4h0.8M175.7 479.0h0.8M165.7 478.6h0.8M174.2 481.3h0.8M178.8 475.3h0.8M171.8 482.4h0.8M167.7 481.9h0.8M170.8 477.2h0.8M179.2 476.3h0.8M178.5 479.6h0.8M167.9 478.0h0.8M169.0 478.1h0.8M174.5 474.7h0.8M179.9 483.9h0.8M180.7 477.7h0.8M160.3 478.9h0.8M172.1 482.1h0.8M170.2 480.7h0.8M173.9 475.8h0.8M174.5 484.7h0.8M168.7 481.0h0.8M182.0 480.1h0.8M178.8 482.0h0.8M174.3 483.5h0.8M171.8 480.3h0.8M178.3 481.9h0.8M175.8 477.0h0.8M173.2 485.2h0.8M178.0 482.2h0.8M170.2 479.0h0.8M175.5 485.9h0.8M173.3 485.5h0.8M171.4 485.1h0.8M167.6 481.7h0.8M167.2 483.3h0.8M176.2 477.8h0.8M169.0 479.5h0.8M164.9 477.9h0.8M168.3 483.7h0.8M180.7 479.5h0.8M171.5 481.8h0.8M170.2 480.1h0.8M177.7 481.8h0.8M172.6 479.1h0.8M181.2 479.0h0.8M173.7 477.5h0.8M169.8 481.4h0.8M170.9 482.9h0.8M173.5 476.4h0.8M160.4 484.4h0.8M169.9 486.1h0.8M173.2 478.5h0.8M176.1 480.1h0.8M173.1 477.9h0.8M176.6 484.8h0.8M170.2 487.1h0.8M170.0 481.9h0.8M164.1 474.5h0.8M179.4 475.3h0.8M174.3 482.5h0.8M173.5 482.1h0.8M168.0 480.5h0.8M166.8 479.9h0.8M175.1 478.4h0.8M171.5 479.6h0.8M173.2 484.2h0.8M174.4 482.4h0.8M165.2 479.8h0.8M177.6 478.1h0.8M170.7 477.7h0.8M180.4 479.5h0.8M169.1 483.1h0.8M179.1 482.7h0.8M178.4 481.8h0.8M172.3 479.5h0.8M170.3 479.0h0.8M175.1 480.6h0.8M173.5 483.1h0.8M172.7 476.4h0.8M168.7 477.2h0.8M162.6 481.4h0.8M166.5 476.7h0.8M167.1 484.0h0.8M171.3 484.4h0.8M172.5 479.5h0.8M176.1 483.0h0.8M173.7 477.5h0.8M170.5 477.0h0.8M171.6 481.3h0.8M181.2 485.8h0.8M176.7 484.3h0.8M174.3 490.4h0.8M181.4 490.0h0.8M175.1 482.4h0.8M178.8 481.7h0.8M174.7 477.7h0.8M178.2 481.5h0.8M177.5 480.3h0.8M163.3 482.7h0.8M179.4 476.7h0.8M167.7 480.0h0.8M171.6 475.2h0.8M169.6 474.8h0.8M175.0 487.7h0.8M177.6 484.9h0.8M167.8 481.8h0.8M164.8 487.7h0.8M176.1 473.8h0.8M162.8 482.6h0.8M173.8 479.9h0.8M176.4 487.8h0.8M175.0 474.9h0.8M172.1 476.5h0.8M168.6 482.1h0.8M172.1 477.4h0.8M172.8 478.2h0.8M175.9 480.2h0.8M175.1 480.1h0.8M177.1 480.5h0.8M172.9 479.1h0.8M173.7 474.9h0.8M173.5 479.4h0.8M170.3 482.3h0.8M170.1 479.5h0.8M165.4 477.8h0.8M166.5 487.1h0.8M165.6 477.3h0.8M174.0 485.8h0.8M163.6 475.7h0.8M173.6 482.1h0.8M165.1 474.8h0.8M167.6 483.5h0.8M172.7 483.5h0.8M172.3 480.8h0.8M176.3 480.5h0.8M174.2 477.8h0.8M169.6 482.5h0.8M171.6 478.4h0.8M176.5 482.8h0.8M172.9 478.4h0.8M177.8 489.4h0.8M168.4 475.7h0.8M168.6 477.8h0.8M165.9 476.9h0.8M177.5 483.8h0.8M181.0 483.5h0.8M170.2 484.6h0.8M169.5 479.7h0.8M166.4 485.1h0.8M178.4 479.3h0.8M171.2 481.0h0.8M174.0 483.8h0.8M173.2 482.3h0.8M164.6 479.9h0.8M163.0 487.0h0.8M180.5 483.3h0.8M179.0 487.7h0.8M178.0 475.5h0.8M171.7 472.9h0.8M168.4 476.7h0.8M172.8 482.2h0.8M167.7 479.9h0.8M174.4 480.4h0.8M171.8 472.7h0.8M170.4 483.6h0.8M174.2 475.8h0.8M171.3 481.8h0.8M167.5 483.2h0.8M168.4 479.8h0.8M172.2 488.4h0.8M171.0 478.9h0.8M176.7 479.3h0.8M173.9 473.2h0.8M174.4 480.8h0.8M165.7 485.5h0.8M171.5 480.2h0.8M165.6 475.3h0.8M169.7 475.7h0.8M175.5 483.8h0.8M169.3 475.4h0.8M170.6 477.3h0.8M173.7 481.5h0.8M170.4 481.1h0.8M178.5 486.7h0.8M169.9 483.3h0.8M171.5 477.3h0.8M179.8 482.2h0.8M173.6 482.1h0.8M171.9 477.3h0.8M174.2 484.1h0.8M179.8 480.2h0.8M176.0 479.8h0.8M176.3 480.0h0.8M175.6 482.4h0.8M170.9 484.0h0.8M172.3 479.5h0.8M172.8 478.3h0.8M179.4 483.0h0.8M178.2 476.3h0.8M174.3 478.2h0.8M173.2 485.2h0.8M174.2 480.3h0.8M178.9 484.3h0.8M174.6 479.4h0.8M168.0 481.3h0.8M166.4 473.3h0.8M167.8 480.0h0.8M166.3 474.1h0.8M170.8 480.0h0.8M173.6 475.9h0.8M168.6 473.2h0.8M173.7 475.5h0.8M157.7 484.8h0.8M175.6 482.1h0.8M174.7 477.3h0.8M178.7 477.3h0.8M162.6 483.8h0.8M178.6 480.1h0.8M179.6 479.3h0.8M174.9 477.0h0.8M167.8 484.7h0.8M170.7 479.5h0.8M165.8 481.6h0.8M177.1 479.3h0.8M171.8 476.7h0.8M180.5 478.8h0.8M171.9 486.6h0.8M171.5 475.6h0.8M167.7 479.7h0.8M171.6 483.7h0.8M180.0 478.3h0.8M180.7 483.8h0.8M175.3 472.8h0.8M173.9 485.7h0.8M171.3 488.8h0.8M173.2 477.4h0.8M176.1 481.9h0.8M177.4 480.1h0.8M180.0 479.0h0.8M173.6 476.6h0.8M168.4 481.6h0.8M169.2 479.4h0.8M171.7 481.8h0.8M177.1 483.5h0.8M178.5 481.6h0.8M169.8 475.5h0.8M170.9 478.2h0.8M162.8 486.6h0.8M162.7 482.1h0.8M176.0 480.1h0.8M168.6 487.0h0.8M168.4 476.0h0.8M167.3 478.7h0.8M173.1 482.1h0.8M164.4 482.1h0.8M172.1 483.3h0.8M179.6 478.6h0.8M167.5 477.4h0.8M179.0 484.0h0.8M160.8 473.5h0.8M166.0 475.8h0.8M175.2 481.7h0.8M173.6 485.0h0.8M167.9 476.1h0.8M173.1 484.2h0.8M163.8 484.0h0.8M177.7 479.2h0.8M173.8 480.0h0.8M173.3 483.7h0.8M168.4 484.5h0.8M177.7 484.1h0.8M161.9 474.5h0.8M176.7 478.9h0.8M169.0 478.3h0.8M165.4 479.9h0.8M168.8 478.7h0.8M175.6 476.8h0.8M179.2 473.2h0.8M176.1 484.1h0.8M172.9 483.5h0.8M172.3 474.8h0.8M174.8 484.9h0.8M169.8 475.1h0.8M169.5 482.0h0.8M174.6 484.7h0.8M176.0 482.7h0.8M161.7 488.6h0.8M173.2 483.9h0.8M170.9 480.4h0.8M173.2 486.4h0.8M181.4 483.1h0.8M175.8 479.4h0.8M180.2 481.1h0.8M178.4 486.9h0.8M161.3 488.5h0.8M174.7 479.8h0.8M162.2 479.9h0.8M160.0 481.3h0.8M172.0 487.3h0.8M171.1 484.7h0.8M179.5 488.1h0.8M171.5 483.6h0.8M164.4 477.1h0.8M171.4 480.9h0.8M166.1 479.5h0.8M176.9 479.4h0.8M172.1 477.9h0.8M180.7 487.2h0.8M174.1 480.6h0.8M169.2 476.3h0.8M169.6 488.6h0.8M169.6 491.0h0.8M173.0 480.2h0.8M180.4 480.1h0.8M175.1 477.4h0.8M166.0 478.4h0.8M174.2 478.7h0.8M161.9 482.6h0.8M172.0 480.0h0.8M169.5 473.1h0.8M181.9 479.3h0.8M176.0 485.8h0.8M179.4 481.7h0.8M173.0 482.1h0.8M178.1 483.0h0.8M170.5 482.6h0.8M175.1 483.4h0.8M174.1 485.8h0.8M174.1 484.1h0.8M173.2 479.0h0.8M167.7 480.4h0.8M176.0 485.4h0.8M172.5 479.2h0.8M170.1 485.5h0.8M173.6 479.2h0.8M177.2 476.4h0.8M173.7 480.8h0.8M172.2 477.0h0.8M178.5 486.9h0.8M165.5 481.4h0.8M176.6 488.9h0.8M170.6 477.7h0.8M173.0 488.0h0.8M173.4 481.9h0.8M160.8 484.2h0.8M177.4 476.2h0.8M175.9 481.1h0.8M174.2 478.2h0.8M170.4 477.9h0.8M173.3 480.2h0.8M164.1 482.4h0.8M181.1 482.0h0.8M179.1 480.9h0.8M177.0 477.7h0.8M177.4 476.2h0.8M180.3 475.7h0.8M161.1 482.8h0.8M172.0 481.4h0.8M175.4 480.9h0.8M168.0 481.7h0.8M175.0 482.7h0.8M173.4 483.0h0.8M170.5 476.8h0.8M169.8 484.7h0.8M171.5 483.1h0.8M168.9 482.6h0.8M169.2 478.1h0.8M173.6 481.2h0.8M181.3 475.3h0.8M175.9 486.6h0.8M180.7 479.7h0.8M169.2 479.3h0.8M174.7 481.7h0.8M175.0 483.1h0.8M167.0 477.1h0.8M166.1 476.3h0.8M172.4 482.1h0.8M173.1 485.9h0.8M168.9 482.2h0.8M178.5 483.7h0.8M175.3 479.8h0.8M166.0 480.5h0.8M169.6 483.4h0.8M172.2 483.0h0.8M163.9 484.4h0.8M168.2 475.6h0.8M165.2 478.8h0.8M179.3 483.5h0.8M166.4 481.3h0.8M172.4 475.5h0.8M167.4 473.9h0.8M168.5 477.7h0.8M168.5 478.1h0.8M179.5 479.8h0.8M174.4 483.6h0.8M178.1 483.4h0.8M169.9 477.2h0.8M168.6 479.4h0.8M173.0 480.7h0.8M179.2 480.6h0.8M170.3 484.0h0.8M156.8 485.8h0.8M175.3 482.4h0.8M163.5 489.8h0.8M171.6 480.5h0.8M179.3 480.3h0.8M168.2 483.3h0.8M167.3 483.6h0.8M173.8 484.9h0.8M166.2 485.3h0.8M174.7 487.9h0.8M169.3 487.5h0.8M177.0 483.7h0.8M168.9 482.9h0.8M176.8 478.1h0.8M166.5 478.3h0.8M181.2 481.5h0.8M178.3 482.0h0.8M173.7 481.8h0.8M170.7 485.2h0.8M174.0 481.8h0.8M165.2 482.1h0.8M169.2 479.3h0.8M178.8 477.2h0.8M171.9 483.2h0.8M179.5 479.2h0.8M174.8 482.0h0.8M166.7 473.6h0.8M162.2 483.1h0.8M173.6 476.3h0.8M169.4 479.6h0.8M171.0 480.9h0.8M173.8 478.3h0.8M169.5 477.9h0.8M171.7 479.1h0.8M175.0 481.7h0.8M168.0 487.7h0.8M166.4 482.2h0.8M180.4 485.9h0.8M174.9 474.6h0.8M181.0 481.3h0.8M169.9 485.4h0.8M168.9 484.7h0.8M169.9 482.9h0.8M166.9 479.6h0.8M167.8 478.5h0.8M174.0 480.4h0.8M174.1 485.5h0.8M172.4 474.5h0.8M171.4 481.3h0.8M178.7 484.6h0.8M178.3 480.2h0.8M176.6 476.0h0.8M180.3 482.5h0.8M175.8 479.7h0.8M173.3 478.7h0.8M176.2 476.4h0.8M178.5 482.9h0.8M172.5 481.7h0.8M173.2 480.6h0.8M166.8 477.2h0.8M169.8 480.0h0.8M166.3 477.0h0.8M171.4 483.6h0.8M171.9 483.4h0.8M178.5 483.7h0.8M170.6 479.6h0.8M162.5 478.6h0.8M175.6 477.2h0.8M180.6 486.0h0.8M170.9 484.2h0.8M165.0 477.4h0.8M170.9 481.0h0.8M172.0 478.0h0.8M174.6 483.4h0.8M174.0 480.2h0.8M169.9 475.3h0.8M181.4 477.8h0.8M163.7 478.2h0.8M164.0 487.9h0.8M175.1 485.9h0.8M181.2 483.0h0.8M176.2 478.5h0.8M172.5 478.9h0.8M173.2 478.6h0.8M180.1 483.7h0.8M172.4 475.2h0.8M176.8 484.1h0.8M172.6 476.6h0.8M175.4 484.6h0.8M162.2 483.0h0.8M162.8 481.3h0.8M175.7 479.9h0.8M173.0 489.2h0.8M180.5 479.9h0.8M170.9 481.1h0.8M179.2 479.7h0.8M165.9 485.6h0.8M172.6 478.3h0.8M169.1 478.7h0.8M169.6 475.7h0.8M179.7 482.3h0.8M178.5 479.8h0.8M174.9 481.6h0.8M179.6 483.8h0.8M175.0 478.8h0.8M166.3 478.2h0.8M169.5 479.1h0.8M166.1 486.7h0.8M174.5 474.0h0.8M166.9 476.4h0.8M174.3 484.7h0.8M167.5 483.1h0.8M171.5 485.0h0.8M180.6 482.1h0.8M177.0 481.0h0.8M170.9 477.0h0.8M174.8 480.8h0.8M170.9 480.7h0.8M172.0 477.4h0.8M170.1 484.9h0.8M171.7 485.8h0.8M166.6 476.3h0.8M173.7 483.7h0.8M169.3 483.2h0.8M178.2 484.7h0.8M172.4 480.8h0.8M163.8 481.1h0.8M174.6 485.9h0.8M165.9 478.1h0.8M167.4 484.1h0.8M158.9 477.3h0.8M165.6 480.8h0.8M177.7 482.9h0.8M171.8 478.3h0.8M177.6 481.0h0.8M177.5 482.4h0.8M170.4 486.0h0.8M170.2 482.5h0.8M169.5 480.2h0.8M171.6 478.7h0.8M174.3 485.5h0.8M172.0 486.0h0.8M175.3 487.2h0.8M166.0 486.1h0.8M169.7 485.0h0.8M170.4 484.1h0.8M171.4 474.6h0.8M167.6 480.2h0.8M173.1 473.3h0.8M166.4 478.5h0.8M171.8 481.8h0.8M168.4 475.8h0.8M174.7 479.9h0.8M177.9 479.2h0.8M176.6 477.9h0.8M174.5 481.3h0.8M175.5 477.8h0.8M172.3 478.1h0.8M172.1 483.1h0.8M177.0 481.4h0.8M179.3 482.6h0.8M178.8 482.2h0.8M163.6 482.0h0.8M173.4 473.5h0.8M168.2 479.4h0.8M168.9 481.5h0.8M163.1 483.6h0.8M177.3 482.2h0.8M171.2 481.0h0.8M170.4 484.9h0.8M175.8 487.8h0.8M171.0 486.0h0.8M169.8 480.4h0.8M167.3 482.8h0.8M172.7 483.1h0.8M181.3 480.8h0.8M175.1 484.1h0.8M172.7 479.2h0.8M175.0 482.7h0.8M177.3 483.9h0.8M169.3 482.5h0.8M179.8 479.4h0.8M175.0 478.9h0.8M174.0 486.9h0.8M174.0 477.7h0.8M174.9 481.8h0.8M179.2 476.3h0.8M168.0 480.8h0.8M164.5 484.9h0.8M161.9 478.2h0.8M164.9 478.8h0.8M177.5 483.1h0.8M178.1 483.1h0.8M161.8 482.1h0.8M162.9 479.3h0.8M170.9 479.2h0.8M175.8 478.3h0.8M179.6 483.6h0.8M178.0 480.9h0.8M175.6 481.0h0.8M171.8 482.1h0.8M168.9 484.0h0.8M177.4 481.4h0.8M177.1 477.5h0.8M163.1 479.1h0.8M171.7 489.5h0.8M171.8 484.5h0.8M177.7 488.2h0.8M173.7 483.3h0.8M172.0 478.1h0.8M167.5 478.4h0.8M180.9 482.0h0.8M172.2 481.1h0.8M169.9 480.9h0.8M172.8 483.3h0.8M178.1 475.5h0.8M174.3 485.7h0.8M167.4 480.2h0.8M174.0 484.8h0.8M176.3 480.3h0.8M175.8 484.6h0.8M175.2 487.4h0.8M175.4 477.5h0.8M168.7 480.6h0.8M171.9 483.2h0.8M175.0 486.9h0.8M177.5 486.1h0.8M168.9 479.6h0.8M176.8 481.4h0.8M176.5 481.9h0.8M169.7 486.8h0.8M179.4 475.8h0.8M169.7 481.1h0.8M176.8 480.8h0.8M165.6 483.9h0.8M171.9 485.1h0.8M174.8 484.5h0.8M177.7 484.1h0.8M170.3 484.6h0.8M174.2 476.8h0.8M170.9 479.9h0.8M175.7 483.4h0.8M167.0 483.5h0.8M172.8 477.5h0.8M177.7 478.5h0.8M166.6 483.6h0.8M178.1 478.8h0.8M178.9 484.5h0.8M170.3 487.9h0.8M172.8 481.8h0.8M160.0 483.2h0.8M169.7 482.6h0.8M163.8 485.0h0.8M181.1 487.5h0.8M156.9 483.1h0.8M169.1 480.8h0.8M181.0 478.3h0.8M174.3 480.9h0.8M175.2 479.8h0.8M178.1 484.4h0.8M165.7 484.9h0.8M169.1 480.2h0.8M179.4 481.5h0.8M176.4 483.8h0.8M176.5 479.3h0.8M168.0 483.5h0.8M177.4 482.4h0.8M172.2 484.1h0.8M173.1 476.5h0.8M174.8 482.9h0.8M177.5 478.1h0.8M169.2 482.3h0.8M170.8 480.9h0.8M178.4 482.5h0.8M172.9 485.6h0.8M170.5 479.7h0.8M174.7 482.5h0.8M165.7 482.1h0.8M171.7 481.2h0.8M174.4 480.6h0.8M179.3 482.9h0.8M172.4 481.5h0.8M179.2 484.0h0.8M180.4 480.8h0.8M174.3 488.1h0.8M173.3 487.0h0.8M178.1 479.9h0.8M165.9 483.5h0.8M169.7 478.9h0.8M164.1 485.3h0.8M174.1 481.4h0.8M175.7 482.2h0.8M174.1 483.1h0.8M172.1 472.6h0.8M177.6 482.8h0.8M173.7 486.7h0.8M181.7 482.8h0.8M164.6 480.0h0.8M177.0 477.3h0.8M176.6 488.5h0.8M181.2 481.3h0.8M175.3 478.2h0.8M174.3 480.2h0.8M168.1 476.8h0.8M168.0 479.9h0.8M181.7 486.8h0.8M170.2 482.0h0.8M178.4 480.2h0.8M167.2 478.1h0.8M173.6 478.7h0.8M166.5 480.6h0.8M178.7 483.7h0.8M172.3 487.8h0.8M169.3 481.1h0.8M166.1 484.0h0.8M172.9 475.7h0.8M169.0 487.4h0.8M177.5 481.7h0.8M178.3 475.9h0.8M169.0 476.9h0.8M169.0 480.0h0.8M176.4 484.7h0.8M178.9 490.4h0.8M170.8 481.3h0.8M176.3 478.5h0.8M172.0 482.7h0.8M168.7 482.9h0.8M180.2 477.6h0.8M161.0 481.6h0.8M167.8 481.9h0.8M171.1 482.3h0.8M179.7 484.1h0.8M171.5 477.4h0.8M159.9 474.0h0.8M169.1 481.6h0.8M169.8 479.3h0.8M164.7 475.7h0.8M164.0 483.3h0.8M162.6 483.5h0.8M168.4 483.0h0.8M174.6 483.7h0.8M179.7 478.5h0.8M167.9 479.6h0.8M169.0 483.3h0.8M172.5 481.1h0.8M175.4 479.5h0.8M179.1 474.8h0.8M174.4 482.7h0.8M168.9 478.7h0.8M178.0 480.0h0.8M162.5 476.5h0.8M178.5 478.0h0.8M180.2 485.6h0.8M171.9 482.8h0.8M168.5 479.6h0.8M169.2 483.0h0.8M166.0 480.6h0.8M173.3 482.7h0.8M161.4 474.9h0.8M168.2 480.2h0.8M173.7 481.6h0.8M176.2 479.3h0.8M177.2 483.3h0.8M176.6 480.6h0.8M176.4 486.1h0.8M168.6 473.7h0.8M177.4 483.4h0.8M171.7 479.5h0.8M166.3 479.3h0.8M175.7 478.9h0.8M170.8 482.0h0.8M170.6 481.4h0.8M172.7 477.4h0.8M173.3 477.0h0.8M178.0 477.8h0.8M171.6 474.8h0.8M170.5 476.7h0.8M181.1 480.5h0.8M175.7 475.0h0.8M166.1 480.4h0.8M165.5 484.8h0.8M170.7 481.4h0.8M174.5 480.4h0.8M177.1 478.7h0.8M174.9 485.0h0.8M174.0 481.3h0.8M171.1 481.1h0.8M176.5 480.1h0.8M163.7 481.5h0.8M172.1 482.5h0.8M173.1 486.2h0.8M166.3 477.7h0.8M176.4 477.5h0.8M174.6 480.9h0.8M162.2 483.1h0.8M180.3 481.6h0.8M165.3 483.5h0.8M167.2 480.5h0.8M175.1 478.3h0.8M163.7 480.4h0.8M172.6 478.0h0.8M168.6 483.4h0.8M172.3 479.3h0.8M169.6 481.5h0.8M173.3 480.3h0.8M165.3 479.7h0.8M169.4 481.1h0.8M179.0 484.1h0.8M176.3 481.3h0.8M171.1 482.0h0.8M170.3 479.8h0.8M168.3 480.7h0.8M172.4 487.0h0.8M175.8 479.6h0.8M177.0 479.3h0.8M178.2 483.5h0.8M172.4 480.5h0.8M174.4 483.2h0.8M167.6 478.5h0.8M174.4 484.1h0.8M166.8 475.8h0.8M178.9 483.7h0.8M178.6 477.7h0.8M171.7 481.6h0.8M175.2 480.5h0.8M172.5 484.2h0.8M170.5 479.1h0.8M170.5 479.2h0.8M173.5 480.2h0.8M170.5 485.5h0.8M174.4 479.8h0.8M179.5 479.1h0.8M172.8 480.6h0.8M169.8 479.6h0.8M173.3 476.2h0.8M170.8 481.7h0.8M174.3 481.9h0.8M172.1 480.5h0.8M172.8 482.3h0.8M171.2 485.8h0.8M167.0 482.9h0.8M175.5 477.2h0.8M176.1 482.7h0.8M169.4 488.4h0.8M176.5 479.8h0.8M170.3 478.5h0.8M174.2 481.1h0.8M165.4 477.5h0.8M169.1 479.6h0.8M170.9 478.7h0.8M176.2 483.9h0.8M173.2 473.8h0.8M172.0 482.7h0.8M172.4 481.8h0.8M173.3 476.0h0.8M159.6 482.9h0.8M170.1 482.2h0.8M171.2 480.3h0.8M179.9 477.0h0.8M172.7 477.3h0.8M173.2 482.4h0.8M176.2 481.4h0.8M165.6 481.7h0.8M177.5 484.1h0.8M167.5 479.2h0.8M173.2 484.2h0.8M166.8 483.8h0.8M176.2 478.1h0.8M176.0 478.4h0.8M172.8 479.9h0.8M174.0 477.1h0.8M175.5 473.9h0.8M170.7 479.0h0.8M181.0 482.6h0.8M170.2 478.0h0.8M173.0 478.8h0.8M173.1 472.9h0.8M178.2 478.3h0.8M181.2 479.1h0.8M178.4 481.5h0.8M179.0 480.9h0.8M157.3 478.5h0.8M164.7 483.9h0.8M175.6 480.9h0.8M175.2 481.5h0.8M169.8 487.2h0.8M174.0 480.2h0.8M165.1 478.9h0.8M172.9 480.3h0.8M170.3 480.7h0.8M166.9 480.9h0.8M164.7 478.1h0.8M168.9 483.7h0.8M175.3 481.1h0.8M166.8 479.6h0.8M177.0 484.9h0.8M165.1 479.5h0.8M173.4 482.0h0.8M172.8 483.0h0.8M165.2 485.9h0.8M166.8 481.1h0.8M175.5 484.7h0.8M177.5 483.7h0.8M179.5 480.4h0.8M176.7 485.9h0.8M168.9 476.4h0.8M167.6 485.5h0.8M179.3 479.7h0.8M174.1 482.4h0.8M178.4 474.8h0.8M169.9 480.1h0.8M174.5 481.2h0.8M171.2 481.9h0.8M159.4 490.9h0.8M177.2 483.8h0.8M169.4 482.3h0.8M173.3 476.9h0.8M173.7 480.0h0.8M177.4 476.8h0.8M171.9 481.8h0.8M170.4 484.4h0.8M166.9 476.9h0.8M171.1 483.6h0.8M171.3 479.0h0.8M177.1 481.7h0.8M170.1 481.3h0.8M171.6 482.9h0.8M173.7 478.3h0.8M170.4 479.6h0.8M174.9 482.2h0.8M168.5 480.3h0.8M174.5 484.5h0.8M174.2 487.3h0.8M173.0 483.3h0.8M171.2 477.7h0.8M173.5 482.5h0.8M174.6 481.4h0.8M171.2 478.3h0.8M171.3 482.5h0.8M176.1 484.5h0.8M179.6 482.2h0.8M176.4 479.5h0.8M172.4 482.7h0.8M167.1 478.4h0.8M173.9 476.6h0.8M173.2 476.1h0.8M173.9 481.0h0.8M169.9 477.9h0.8M170.2 473.6h0.8M170.8 481.3h0.8M179.2 479.3h0.8M172.0 485.5h0.8M182.1 479.3h0.8M178.4 484.8h0.8M175.6 477.7h0.8M167.9 482.8h0.8M181.2 487.1h0.8M166.3 479.0h0.8M180.9 484.1h0.8M175.8 480.9h0.8M176.2 478.9h0.8M163.4 481.4h0.8M180.5 479.3h0.8M172.6 477.6h0.8M172.5 477.6h0.8M167.6 476.1h0.8M170.0 487.0h0.8M172.6 481.6h0.8M167.6 482.6h0.8M166.4 482.0h0.8M179.0 477.4h0.8M170.1 486.5h0.8M167.3 478.7h0.8M174.2 479.9h0.8M168.4 486.2h0.8M169.8 482.0h0.8M170.7 480.2h0.8M165.6 484.0h0.8M170.6 485.1h0.8M166.7 479.4h0.8M175.4 481.3h0.8M169.4 480.5h0.8M166.0 481.1h0.8M158.9 481.5h0.8M180.1 483.9h0.8M177.4 479.6h0.8M175.5 479.6h0.8M172.4 480.6h0.8M155.1 484.0h0.8M175.3 483.7h0.8M167.9 483.2h0.8M175.4 473.6h0.8M163.6 481.1h0.8M169.4 480.9h0.8M169.5 485.8h0.8M162.8 476.5h0.8M167.7 476.5h0.8M169.8 480.8h0.8M165.8 482.1h0.8M179.8 484.5h0.8M172.7 486.8h0.8M176.6 487.1h0.8M171.9 474.1h0.8M166.7 481.5h0.8M175.8 480.3h0.8M178.2 477.2h0.8M169.2 484.2h0.8M173.2 481.3h0.8M180.4 484.6h0.8M168.7 481.6h0.8M163.9 480.9h0.8M175.0 475.3h0.8M181.2 487.5h0.8M175.6 484.0h0.8M180.9 480.4h0.8M178.5 482.2h0.8M164.9 478.0h0.8M170.0 484.5h0.8M173.5 484.2h0.8M170.5 476.8h0.8M175.0 480.4h0.8M179.3 477.4h0.8M171.9 476.3h0.8M175.6 481.8h0.8M170.9 478.9h0.8M165.0 478.3h0.8M179.5 479.9h0.8M179.7 478.2h0.8M172.6 479.5h0.8M171.6 483.5h0.8M162.1 483.4h0.8M176.7 481.0h0.8M173.4 480.3h0.8M176.7 481.2h0.8M168.5 481.5h0.8M178.1 482.2h0.8M173.2 481.7h0.8M170.4 479.5h0.8M163.0 480.4h0.8M178.2 479.7h0.8M168.2 483.9h0.8M173.9 481.5h0.8M175.5 483.3h0.8M172.8 478.3h0.8M182.2 481.2h0.8M168.9 481.6h0.8M179.3 476.4h0.8M179.9 480.6h0.8M172.5 485.1h0.8M179.7 479.9h0.8M174.2 479.3h0.8M177.8 476.4h0.8M172.1 474.1h0.8M176.1 473.8h0.8M167.5 481.9h0.8M171.2 479.6h0.8M167.9 479.5h0.8M163.8 482.1h0.8M177.2 483.5h0.8M172.8 485.0h0.8M175.5 484.1h0.8M175.1 481.1h0.8M176.4 480.6h0.8M177.4 477.9h0.8M173.0 478.1h0.8M174.9 480.9h0.8M177.6 481.5h0.8M175.5 485.1h0.8M175.7 480.6h0.8M179.5 480.7h0.8M175.2 480.0h0.8M176.7 477.3h0.8M176.9 486.9h0.8M166.1 483.9h0.8M172.5 482.5h0.8M166.8 481.1h0.8M173.9 485.7h0.8M171.1 488.2h0.8M172.5 480.8h0.8M173.6 482.5h0.8M176.8 479.2h0.8M172.5 487.1h0.8M181.4 482.5h0.8M174.5 480.3h0.8M178.4 479.4h0.8M173.7 479.6h0.8M169.8 481.2h0.8M173.1 479.2h0.8M172.7 481.3h0.8M170.6 478.9h0.8M172.4 483.3h0.8M178.9 481.7h0.8M171.7 481.0h0.8M168.1 480.9h0.8M170.3 479.9h0.8M164.3 481.1h0.8M166.0 479.2h0.8M181.0 484.3h0.8M168.5 477.7h0.8M168.3 475.0h0.8M168.0 480.2h0.8M167.6 483.5h0.8M172.8 479.3h0.8M173.5 487.0h0.8M180.0 478.8h0.8M174.8 479.6h0.8M165.6 487.2h0.8M181.0 476.9h0.8M175.7 475.7h0.8M178.7 480.9h0.8M171.6 485.1h0.8M173.2 480.2h0.8M177.9 480.1h0.8M170.7 482.1h0.8M170.3 484.5h0.8M170.0 478.2h0.8M179.4 481.5h0.8M178.3 479.8h0.8M160.8 481.1h0.8M173.1 480.4h0.8M166.8 476.1h0.8M159.0 482.9h0.8M162.2 474.9h0.8M167.5 478.4h0.8M179.9 481.3h0.8M167.2 480.2h0.8M162.2 483.8h0.8M146.3 485.9h0.8M153.0 481.1h0.8M139.5 483.8h0.8M169.6 483.2h0.8M166.0 480.6h0.8M164.5 486.7h0.8M159.5 484.0h0.8M169.5 481.2h0.8M165.2 482.9h0.8M158.9 491.5h0.8M159.4 488.7h0.8M172.5 474.2h0.8M165.4 486.1h0.8M170.3 478.6h0.8M165.4 477.4h0.8M154.1 481.1h0.8M164.8 488.3h0.8M166.3 486.2h0.8M152.7 477.6h0.8M158.9 488.9h0.8M151.5 475.9h0.8M162.5 486.7h0.8M148.9 481.1h0.8M151.3 487.7h0.8M169.2 483.1h0.8M162.7 481.1h0.8M164.3 479.5h0.8M155.4 477.7h0.8M163.2 479.0h0.8M170.8 473.9h0.8M168.1 484.1h0.8M173.8 481.1h0.8M150.0 478.5h0.8M173.0 480.9h0.8M159.5 479.8h0.8M162.5 481.2h0.8M149.5 479.7h0.8M171.9 487.7h0.8M162.0 480.0h0.8M175.0 481.4h0.8M152.8 481.6h0.8M169.2 488.1h0.8M158.8 484.1h0.8M160.2 486.5h0.8M165.4 483.1h0.8M154.5 480.8h0.8M170.6 482.0h0.8M161.3 480.6h0.8M163.3 483.0h0.8M151.6 482.5h0.8M164.1 482.1h0.8M150.1 481.5h0.8M151.8 483.4h0.8M174.6 485.4h0.8M160.1 479.9h0.8M158.1 483.4h0.8M157.2 479.9h0.8M141.1 478.7h0.8M156.2 479.9h0.8M173.7 476.8h0.8M151.4 484.4h0.8M154.5 481.4h0.8M164.6 482.1h0.8M156.3 485.6h0.8M176.2 478.1h0.8M160.7 485.7h0.8M161.2 478.1h0.8M159.3 485.3h0.8M154.3 483.0h0.8M166.4 479.5h0.8M168.0 484.6h0.8M171.8 485.6h0.8M150.0 485.5h0.8M168.1 485.8h0.8M155.6 485.5h0.8M166.3 477.5h0.8M174.2 479.0h0.8M154.2 483.6h0.8M157.8 483.4h0.8M160.9 483.1h0.8M170.2 481.9h0.8M170.7 485.3h0.8M155.8 485.4h0.8M168.5 482.6h0.8M172.8 488.5h0.8M169.7 476.3h0.8M167.0 481.5h0.8M160.7 483.4h0.8M160.2 488.4h0.8M165.5 482.1h0.8M169.9 485.2h0.8M173.4 484.5h0.8M162.8 482.6h0.8M144.3 476.4h0.8M172.2 480.8h0.8M178.9 489.0h0.8M152.2 483.3h0.8M166.6 481.2h0.8M161.0 481.0h0.8M163.0 485.0h0.8M156.1 484.0h0.8M157.0 484.1h0.8M165.9 479.1h0.8M164.4 479.2h0.8M155.8 486.6h0.8M147.3 484.2h0.8M169.3 479.8h0.8M172.7 485.6h0.8M151.8 484.1h0.8M167.2 479.2h0.8M168.2 485.0h0.8M156.9 474.3h0.8M166.7 479.2h0.8M148.1 480.6h0.8M142.4 480.8h0.8M167.2 478.5h0.8M159.6 478.5h0.8M168.7 482.0h0.8M156.3 477.0h0.8M159.4 486.5h0.8M152.5 483.7h0.8M166.1 474.3h0.8M172.8 481.9h0.8M161.0 481.5h0.8M154.3 476.7h0.8M170.1 481.1h0.8M159.6 481.4h0.8M169.1 485.7h0.8M163.2 481.3h0.8M164.1 490.2h0.8M144.9 477.6h0.8M167.3 482.6h0.8M174.0 487.2h0.8M180.6 479.0h0.8M168.6 481.2h0.8M171.7 482.8h0.8M171.0 479.2h0.8M164.6 480.1h0.8M160.9 480.3h0.8M154.1 486.5h0.8M165.8 486.4h0.8M154.4 474.4h0.8M157.5 481.5h0.8M170.2 486.2h0.8M174.0 488.1h0.8M169.6 482.5h0.8M156.5 484.8h0.8M158.8 478.9h0.8M168.4 483.0h0.8M170.8 479.3h0.8M173.6 483.5h0.8M161.7 479.1h0.8M153.7 476.7h0.8M175.6 476.5h0.8M168.8 481.1h0.8M158.1 480.2h0.8M162.4 485.7h0.8M168.2 482.1h0.8M151.1 475.1h0.8M179.7 478.1h0.8M149.4 486.5h0.8M150.0 485.0h0.8M171.5 483.1h0.8M171.7 476.6h0.8M152.4 481.3h0.8M163.2 481.8h0.8M167.3 479.2h0.8M144.4 483.7h0.8M161.2 485.3h0.8M181.6 482.4h0.8M168.3 478.6h0.8M171.2 483.4h0.8M165.4 485.7h0.8M153.2 484.3h0.8M167.2 488.3h0.8M147.2 481.7h0.8M159.3 489.1h0.8M156.9 479.8h0.8M159.7 478.8h0.8M156.0 482.8h0.8M163.5 484.0h0.8M163.4 477.3h0.8M169.7 483.0h0.8M158.0 481.0h0.8M166.0 482.4h0.8M162.0 485.1h0.8M172.6 480.8h0.8M163.0 477.7h0.8M161.7 483.9h0.8M170.8 482.7h0.8M162.4 479.3h0.8M165.1 477.8h0.8M164.3 482.2h0.8M155.2 483.4h0.8M161.3 484.4h0.8M158.9 484.0h0.8M177.0 482.8h0.8M170.1 479.6h0.8M160.0 474.7h0.8M161.8 477.6h0.8M164.2 474.0h0.8M155.6 482.4h0.8M166.6 475.6h0.8M159.5 492.1h0.8M170.1 482.7h0.8M138.9 478.5h0.8M167.7 483.0h0.8M167.1 485.8h0.8M164.0 485.4h0.8M147.3 491.9h0.8M160.5 479.5h0.8M176.4 484.4h0.8M171.7 479.6h0.8M165.6 484.8h0.8M153.1 481.2h0.8M161.0 480.9h0.8M156.9 477.1h0.8M166.9 483.0h0.8M173.3 481.8h0.8M157.2 476.4h0.8M163.9 480.8h0.8M180.8 491.0h0.8M177.0 478.5h0.8M150.8 481.1h0.8M155.2 487.6h0.8M164.1 480.5h0.8M163.0 487.0h0.8M154.8 483.9h0.8M151.4 481.2h0.8M157.3 483.3h0.8M164.4 486.7h0.8M169.1 479.7h0.8M151.4 478.8h0.8M159.3 481.1h0.8M156.4 486.3h0.8M171.3 481.0h0.8M158.7 481.1h0.8M162.7 481.9h0.8M148.8 480.3h0.8M146.5 482.2h0.8M169.0 477.9h0.8M164.5 479.6h0.8M156.9 489.7h0.8M170.9 483.9h0.8M159.2 483.6h0.8M161.4 483.8h0.8M155.1 481.7h0.8M159.6 476.5h0.8M177.9 485.2h0.8M156.1 476.3h0.8M156.6 478.7h0.8M157.7 476.1h0.8M155.7 482.3h0.8M166.7 474.3h0.8M163.0 478.1h0.8M153.8 480.8h0.8M157.0 484.8h0.8M169.2 480.8h0.8M157.3 489.0h0.8M179.5 483.5h0.8M161.7 486.0h0.8M175.8 479.9h0.8M179.0 481.4h0.8M172.7 480.0h0.8M163.6 480.2h0.8M163.3 486.0h0.8M155.1 480.8h0.8M167.8 480.2h0.8M181.1 476.2h0.8M171.7 488.4h0.8M167.8 476.4h0.8M160.1 482.3h0.8M168.1 485.9h0.8M173.0 487.8h0.8M154.6 485.9h0.8M147.5 482.6h0.8M153.5 475.0h0.8M171.2 481.9h0.8M171.8 475.7h0.8M152.2 481.6h0.8M157.1 482.3h0.8M157.5 480.7h0.8M152.8 487.1h0.8M160.2 477.3h0.8M169.1 483.9h0.8M164.9 482.9h0.8M159.5 481.5h0.8M143.3 475.8h0.8M152.0 483.1h0.8M173.9 481.4h0.8M160.6 486.5h0.8M159.8 484.6h0.8M166.9 476.7h0.8M165.8 482.8h0.8M152.7 477.9h0.8M151.6 487.5h0.8M181.9 484.8h0.8M177.0 476.6h0.8M175.6 489.8h0.8M177.5 478.3h0.8M172.7 481.6h0.8M172.6 479.5h0.8M163.1 479.7h0.8M167.3 481.6h0.8M173.0 485.3h0.8M166.7 481.9h0.8M160.3 482.0h0.8M169.7 482.5h0.8M165.6 481.9h0.8M162.3 479.4h0.8M146.2 484.3h0.8M168.0 478.1h0.8M180.2 477.4h0.8M172.0 483.0h0.8M165.9 486.5h0.8M171.3 482.1h0.8M153.5 477.1h0.8M164.7 488.3h0.8M170.9 481.9h0.8M166.0 484.7h0.8M178.5 479.0h0.8M169.5 483.1h0.8M156.2 478.0h0.8M174.4 483.3h0.8M161.2 482.4h0.8M171.9 482.4h0.8M177.5 481.0h0.8M156.0 481.6h0.8M154.6 480.6h0.8M174.0 488.8h0.8M168.7 482.8h0.8M154.9 478.0h0.8M166.4 482.7h0.8M157.8 480.2h0.8M177.0 486.0h0.8M163.5 482.9h0.8M174.5 483.5h0.8M165.2 475.7h0.8M147.9 474.4h0.8M142.8 482.0h0.8M166.0 478.5h0.8M167.0 483.8h0.8M162.3 476.1h0.8M176.0 487.5h0.8M157.9 489.8h0.8M163.5 478.9h0.8M159.4 474.6h0.8M159.9 475.6h0.8M173.2 483.3h0.8M150.6 484.3h0.8M147.6 482.6h0.8M167.3 482.3h0.8M152.9 481.6h0.8M161.4 482.3h0.8M176.4 488.8h0.8M177.3 479.5h0.8M156.3 482.1h0.8M166.9 473.8h0.8M157.5 489.2h0.8M151.9 479.1h0.8M156.7 484.0h0.8M162.4 480.7h0.8M149.4 484.5h0.8M163.0 479.3h0.8M163.2 485.2h0.8M149.7 475.8h0.8M153.8 478.5h0.8M135.6 479.6h0.8M173.0 480.7h0.8M162.0 487.6h0.8M177.2 480.0h0.8M155.6 483.5h0.8M152.0 480.5h0.8M147.9 482.3h0.8M163.0 488.5h0.8M166.2 479.4h0.8M162.2 476.8h0.8M163.3 481.1h0.8M166.8 485.7h0.8M145.0 483.3h0.8M169.7 477.2h0.8M180.1 479.1h0.8M171.7 483.1h0.8M172.1 477.8h0.8M155.7 474.1h0.8M167.9 479.2h0.8M169.8 484.4h0.8M150.9 484.8h0.8M165.3 482.8h0.8M167.2 481.9h0.8M163.1 486.2h0.8M154.0 477.2h0.8M156.1 486.2h0.8M160.1 489.7h0.8M135.2 479.1h0.8M159.0 483.1h0.8M175.1 481.3h0.8M153.8 485.4h0.8M168.2 483.2h0.8M155.5 480.1h0.8M165.6 482.1h0.8M160.8 477.3h0.8M165.6 479.3h0.8M163.8 479.6h0.8M164.8 485.0h0.8M165.1 484.6h0.8M150.5 483.9h0.8M165.6 479.5h0.8M163.7 480.3h0.8M142.5 484.0h0.8M157.2 483.1h0.8M160.8 483.9h0.8M163.7 480.8h0.8M167.4 485.3h0.8M142.5 482.1h0.8M157.6 477.5h0.8M174.7 485.8h0.8M153.6 477.5h0.8M170.3 479.5h0.8M160.0 474.1h0.8M161.7 486.5h0.8M158.8 481.5h0.8M178.7 485.5h0.8M175.8 484.5h0.8M173.8 475.3h0.8M155.5 475.3h0.8M161.8 479.0h0.8M163.5 476.3h0.8M162.4 483.5h0.8M162.2 484.4h0.8M155.4 483.3h0.8M171.0 484.2h0.8M166.4 481.6h0.8M154.0 484.2h0.8M159.4 478.2h0.8M169.8 475.5h0.8M157.9 485.1h0.8M171.5 480.5h0.8M163.5 484.1h0.8M162.3 478.9h0.8M166.8 482.6h0.8M163.9 486.4h0.8M165.7 480.1h0.8M164.4 489.7h0.8M156.5 480.9h0.8M155.7 483.4h0.8M151.6 483.8h0.8M169.8 478.9h0.8M155.3 476.0h0.8M163.3 477.5h0.8M157.3 480.3h0.8M156.7 485.3h0.8M177.3 473.5h0.8M155.6 483.0h0.8M153.5 479.8h0.8M164.8 487.5h0.8M173.5 480.8h0.8M164.1 480.5h0.8M161.4 477.3h0.8M147.0 480.5h0.8M171.7 485.0h0.8M146.2 481.2h0.8M157.3 483.1h0.8M153.1 485.6h0.8M161.1 484.3h0.8M170.8 474.2h0.8M161.0 488.0h0.8M163.1 486.1h0.8M166.7 480.0h0.8M165.5 486.2h0.8M174.6 487.8h0.8M153.0 485.3h0.8M150.6 481.5h0.8M161.1 484.5h0.8M165.8 487.0h0.8M157.5 485.4h0.8M166.5 482.0h0.8M152.2 484.3h0.8M165.8 485.1h0.8M162.6 481.0h0.8M166.5 483.8h0.8M169.1 489.6h0.8M157.4 490.0h0.8M136.4 485.8h0.8M155.6 490.0h0.8M155.0 486.2h0.8M154.1 477.5h0.8M170.2 485.5h0.8M156.7 491.6h0.8M160.1 488.2h0.8M153.9 478.1h0.8M176.2 481.3h0.8M179.5 485.4h0.8M147.0 488.6h0.8M138.0 486.6h0.8M134.4 487.6h0.8M140.6 478.6h0.8M168.2 488.2h0.8M142.2 488.6h0.8M170.5 483.2h0.8M135.6 484.4h0.8M171.5 481.5h0.8M152.9 485.8h0.8M140.8 492.1h0.8M162.1 473.7h0.8M170.0 489.1h0.8M135.8 488.3h0.8M153.2 482.1h0.8M137.7 477.4h0.8M179.7 486.2h0.8M154.0 489.0h0.8M156.0 476.2h0.8M162.3 484.8h0.8M173.1 488.6h0.8M179.0 478.6h0.8M152.7 490.3h0.8M153.7 484.5h0.8M174.0 474.6h0.8M169.1 490.5h0.8M166.4 473.7h0.8M172.4 490.3h0.8M178.6 484.6h0.8M135.6 473.1h0.8M160.9 476.2h0.8M145.9 475.7h0.8M178.0 486.6h0.8M134.1 489.1h0.8M152.6 480.6h0.8M156.0 486.5h0.8M136.9 484.8h0.8M149.3 491.0h0.8M151.7 478.1h0.8M138.0 475.7h0.8M170.7 481.6h0.8M150.3 490.5h0.8M155.7 478.4h0.8M172.4 490.2h0.8M177.7 474.9h0.8M145.7 491.0h0.8M169.9 482.4h0.8M147.6 490.4h0.8M179.6 482.8h0.8M178.2 484.1h0.8M157.3 487.6h0.8M137.5 476.5h0.8M174.8 473.5h0.8M166.5 481.2h0.8M171.8 475.8h0.8M158.2 477.8h0.8M180.1 476.5h0.8M150.5 475.5h0.8M170.7 490.8h0.8M137.8 486.1h0.8M178.1 480.4h0.8M149.5 491.7h0.8M139.8 473.2h0.8M153.7 492.2h0.8M139.4 489.8h0.8M161.2 482.9h0.8M164.1 492.7h0.8M144.7 480.3h0.8M137.4 475.9h0.8M174.5 475.1h0.8M166.3 488.3h0.8M163.4 479.3h0.8M180.1 478.6h0.8M138.3 489.9h0.8M158.8 491.3h0.8M135.5 481.1h0.8M175.5 480.2h0.8M174.3 483.8h0.8" stroke="#f28e00" stroke-width="0.8" opacity="0.92"/>
<path d="M187.9 478.7h0.7M193.3 478.1h0.7M189.2 481.9h0.7M190.8 481.7h0.7M190.1 474.1h0.7M184.5 472.9h0.7M194.6 479.9h0.7M187.4 475.2h0.7M191.1 478.1h0.7M190.9 475.7h0.7M184.5 483.8h0.7M185.2 478.4h0.7M192.6 478.7h0.7M188.9 479.4h0.7M197.9 477.5h0.7M193.5 482.2h0.7M190.8 480.0h0.7M192.7 483.8h0.7M191.7 482.7h0.7M188.2 477.1h0.7M189.9 479.8h0.7M191.9 485.1h0.7M193.2 478.7h0.7M198.4 479.6h0.7M191.1 480.2h0.7M188.0 474.8h0.7M190.1 477.5h0.7M185.7 478.9h0.7M188.6 476.5h0.7M197.3 481.5h0.7M194.3 478.4h0.7M194.2 476.2h0.7M187.5 480.3h0.7M183.2 478.7h0.7M190.8 484.2h0.7M186.4 479.9h0.7M186.6 476.7h0.7M194.6 480.3h0.7M190.2 486.8h0.7M191.9 474.4h0.7M188.6 478.3h0.7M196.7 475.5h0.7M191.4 481.8h0.7M185.9 478.8h0.7M197.2 479.9h0.7M189.7 479.0h0.7M199.1 480.4h0.7M194.2 477.1h0.7M187.6 475.0h0.7M188.7 476.2h0.7M193.9 480.7h0.7M189.0 476.7h0.7M190.9 480.7h0.7M190.2 475.0h0.7M188.6 476.9h0.7M187.0 481.7h0.7M190.4 475.7h0.7M191.5 479.5h0.7M185.6 480.8h0.7M192.5 478.1h0.7M193.7 474.6h0.7M192.9 477.9h0.7M185.4 476.5h0.7M194.7 476.7h0.7M188.0 476.3h0.7M186.0 481.8h0.7M199.4 483.0h0.7M191.8 481.1h0.7M188.0 476.9h0.7M184.3 483.4h0.7M188.0 476.1h0.7M186.7 479.2h0.7M187.1 478.6h0.7M190.3 483.0h0.7M184.0 479.5h0.7M186.4 477.1h0.7M196.7 480.6h0.7M187.8 480.2h0.7M189.4 482.3h0.7M187.4 480.2h0.7M188.6 478.6h0.7M188.9 476.4h0.7M190.0 481.8h0.7M186.8 477.2h0.7M191.2 476.0h0.7M193.4 480.9h0.7M184.7 481.3h0.7M193.7 474.5h0.7M186.5 478.3h0.7M187.9 480.9h0.7M193.9 480.5h0.7M194.4 481.7h0.7M189.2 477.1h0.7M186.3 481.3h0.7M193.5 481.9h0.7M188.1 477.2h0.7M190.7 482.7h0.7M191.1 479.3h0.7M185.9 480.0h0.7M191.9 475.4h0.7M197.3 475.5h0.7M193.7 477.9h0.7M190.3 475.9h0.7M187.1 480.9h0.7M188.7 477.4h0.7M193.5 480.9h0.7M190.3 479.3h0.7M197.2 478.0h0.7M191.3 480.0h0.7M190.1 481.5h0.7M190.5 476.8h0.7M186.7 481.3h0.7M188.2 473.2h0.7M192.6 479.3h0.7M191.3 482.0h0.7M195.4 480.4h0.7M190.9 478.0h0.7M195.4 482.8h0.7M191.7 483.1h0.7M189.2 478.4h0.7M185.8 477.5h0.7M190.5 482.1h0.7M186.3 481.2h0.7M199.9 474.0h0.7M188.4 478.6h0.7M194.0 485.2h0.7M195.0 478.4h0.7M185.8 478.4h0.7M189.4 479.4h0.7M185.6 483.7h0.7M186.4 480.8h0.7M190.5 474.9h0.7M189.8 478.6h0.7M188.7 481.2h0.7M187.5 487.1h0.7M194.6 475.5h0.7M190.7 478.8h0.7M185.2 473.7h0.7M196.7 476.7h0.7M192.6 480.9h0.7M185.7 477.0h0.7M184.9 478.7h0.7M195.4 481.9h0.7M191.4 482.3h0.7M189.3 474.1h0.7M187.8 476.3h0.7M189.9 479.6h0.7M197.2 475.0h0.7M196.1 482.8h0.7M194.0 484.0h0.7M183.3 481.0h0.7M185.0 486.5h0.7M185.2 474.4h0.7M194.5 480.6h0.7M189.6 479.0h0.7M192.3 484.4h0.7M186.3 476.6h0.7M186.9 478.3h0.7M189.6 474.2h0.7M190.9 474.2h0.7M188.1 477.7h0.7M188.4 483.5h0.7M196.9 482.2h0.7M196.6 477.5h0.7M195.8 478.3h0.7M190.5 479.4h0.7M183.5 476.4h0.7M188.8 479.7h0.7M188.9 475.6h0.7M184.3 478.5h0.7M184.2 474.5h0.7M189.0 479.1h0.7M190.8 481.3h0.7M187.7 477.2h0.7M184.6 480.9h0.7M186.9 478.0h0.7M201.9 473.2h0.7M190.0 475.7h0.7M188.4 483.2h0.7M191.7 478.9h0.7M191.3 476.0h0.7M187.7 481.0h0.7M189.9 484.0h0.7M190.0 479.2h0.7M190.4 472.6h0.7M192.1 474.7h0.7M187.8 486.5h0.7M183.9 478.9h0.7M190.8 478.9h0.7M189.5 476.6h0.7M184.9 483.5h0.7M192.0 475.9h0.7M185.5 477.7h0.7M201.4 480.2h0.7M184.9 479.3h0.7M186.7 483.6h0.7M190.8 482.8h0.7M190.2 485.4h0.7M191.4 479.5h0.7M184.9 477.1h0.7M191.3 476.8h0.7M200.7 478.5h0.7M186.1 481.9h0.7M187.1 479.9h0.7M189.1 476.1h0.7M195.7 478.8h0.7M194.4 477.3h0.7M183.1 474.3h0.7M187.2 477.9h0.7M189.7 480.2h0.7M183.9 479.3h0.7M184.0 476.2h0.7M201.0 482.8h0.7M187.9 484.6h0.7M195.9 481.5h0.7M196.1 477.7h0.7M188.9 475.6h0.7M192.1 474.2h0.7M187.2 480.1h0.7M187.2 479.7h0.7M197.7 475.2h0.7M195.8 476.2h0.7M185.3 479.3h0.7M194.1 476.1h0.7M186.2 477.0h0.7M186.3 479.1h0.7M186.3 477.6h0.7M191.1 477.1h0.7M194.7 476.2h0.7M186.0 485.4h0.7M196.3 478.7h0.7M193.2 479.7h0.7M187.2 480.8h0.7M190.9 482.9h0.7M190.3 476.2h0.7M187.6 477.1h0.7M183.5 476.5h0.7M193.0 473.3h0.7M186.9 479.8h0.7M189.3 478.7h0.7M184.5 480.4h0.7M185.4 481.6h0.7M190.5 477.2h0.7M196.2 477.2h0.7M194.1 478.9h0.7M189.5 481.9h0.7M191.5 478.5h0.7M189.0 479.2h0.7M189.9 477.4h0.7M189.0 477.7h0.7M195.0 480.0h0.7M194.6 484.4h0.7M189.0 475.6h0.7M193.2 476.5h0.7M188.4 483.4h0.7M192.0 482.2h0.7M183.4 478.6h0.7M194.5 474.1h0.7M190.4 479.9h0.7M186.3 478.0h0.7M191.6 477.0h0.7M189.7 475.7h0.7M195.7 474.7h0.7M191.1 480.4h0.7M189.1 477.6h0.7M188.3 482.0h0.7M191.5 478.2h0.7M184.6 479.1h0.7M191.9 478.4h0.7M200.7 477.9h0.7M193.4 480.5h0.7M188.5 478.3h0.7M190.3 477.1h0.7M194.7 480.6h0.7M189.0 472.9h0.7M195.7 476.9h0.7M184.9 482.9h0.7M183.9 478.0h0.7M201.3 488.7h0.7M189.3 481.2h0.7M193.5 478.1h0.7M188.7 480.1h0.7M192.7 475.8h0.7M197.1 478.8h0.7M190.6 477.1h0.7M192.7 482.0h0.7M187.0 480.5h0.7M187.6 474.3h0.7M188.1 480.6h0.7M192.0 482.2h0.7M186.5 477.5h0.7M189.9 480.6h0.7M189.0 475.3h0.7M194.4 476.3h0.7M196.2 478.3h0.7M191.6 482.8h0.7M187.4 475.9h0.7M191.6 481.5h0.7M192.3 478.9h0.7M194.7 475.1h0.7M191.3 480.3h0.7M189.0 484.4h0.7M191.5 483.1h0.7M193.6 477.9h0.7M198.3 482.3h0.7M189.7 478.1h0.7M184.9 478.0h0.7M188.5 479.3h0.7M187.7 480.5h0.7M189.2 473.2h0.7M187.3 475.5h0.7M183.8 477.7h0.7M193.7 474.7h0.7M203.1 476.5h0.7M190.8 477.2h0.7M193.5 483.5h0.7M188.9 482.6h0.7M184.7 479.3h0.7M183.9 479.2h0.7M186.8 479.4h0.7M184.5 479.4h0.7M190.1 476.6h0.7M186.0 474.5h0.7M187.8 479.9h0.7M189.0 479.1h0.7M195.3 477.5h0.7M190.9 481.4h0.7M191.9 479.9h0.7M190.0 485.2h0.7M189.3 477.3h0.7M192.3 484.2h0.7M196.0 478.7h0.7M193.4 480.3h0.7M190.0 480.8h0.7M192.4 479.1h0.7M197.4 477.3h0.7M195.9 485.8h0.7M199.2 479.5h0.7M188.8 473.1h0.7M189.4 486.9h0.7M193.4 480.7h0.7M191.2 473.4h0.7M194.0 474.1h0.7M194.7 479.3h0.7M186.5 473.1h0.7M188.1 478.3h0.7M189.0 476.6h0.7M188.7 481.6h0.7M185.5 477.9h0.7M191.7 478.5h0.7M193.5 483.9h0.7M188.0 479.3h0.7M192.6 474.8h0.7M195.7 476.8h0.7M185.0 476.9h0.7M188.4 475.1h0.7M183.4 476.8h0.7M193.9 480.0h0.7M195.6 476.5h0.7M188.0 477.4h0.7M186.7 480.0h0.7M184.2 476.1h0.7M187.6 478.0h0.7M191.2 484.9h0.7M188.3 487.0h0.7M185.6 477.0h0.7M196.6 485.3h0.7M184.1 484.4h0.7M187.1 476.4h0.7M194.6 485.4h0.7M189.9 479.3h0.7M194.0 475.2h0.7M184.3 481.4h0.7M198.9 476.8h0.7M189.7 481.1h0.7M197.1 487.3h0.7M190.1 476.0h0.7M197.1 481.3h0.7M183.5 480.7h0.7M187.7 475.5h0.7M199.9 482.1h0.7M184.2 476.7h0.7M197.5 486.6h0.7M189.4 485.8h0.7M191.2 480.9h0.7M187.8 476.7h0.7M188.9 475.1h0.7M199.7 476.4h0.7M190.9 480.9h0.7M185.4 481.8h0.7M195.9 475.0h0.7M186.6 484.2h0.7M192.1 480.3h0.7M196.3 487.6h0.7M190.7 478.9h0.7M184.6 479.9h0.7M195.4 484.9h0.7M198.7 479.2h0.7M194.5 484.7h0.7M198.9 481.1h0.7" stroke="#0f5514" stroke-width="0.7" opacity="0.88"/>
<text x="76.7" y="472.3" font-size="14.6" text-anchor="middle" transform="rotate(-90 76.7 472.3)">c-Kit</text>
<path d="M73.5 497.1 V533.1 H108.7" stroke="#111" stroke-width="1.7" fill="none" stroke-linejoin="miter"/>
<path d="M70.1 500.17 L73.5 496.6 L76.9 500.17" stroke="#111" stroke-width="1.7" fill="none" stroke-linejoin="miter" stroke-linecap="butt"/>
<path d="M105.63000000000001 529.7 L109.2 533.1 L105.63000000000001 536.5" stroke="#111" stroke-width="1.7" fill="none" stroke-linejoin="miter" stroke-linecap="butt"/>
<text x="118.7" y="536.6" font-size="13.8">Ly6C</text>
<line x1="256.1" y1="518.8" x2="259.1" y2="518.8" stroke="#000" stroke-width="1"/>
<text x="255.50000000000003" y="521.0999999999999" font-size="6.3" font-weight="bold" text-anchor="end">0</text>
<line x1="256.1" y1="505.4571428571428" x2="259.1" y2="505.4571428571428" stroke="#000" stroke-width="1"/>
<text x="255.50000000000003" y="507.7571428571428" font-size="6.3" font-weight="bold" text-anchor="end">25</text>
<line x1="256.1" y1="492.1142857142857" x2="259.1" y2="492.1142857142857" stroke="#000" stroke-width="1"/>
<text x="255.50000000000003" y="494.4142857142857" font-size="6.3" font-weight="bold" text-anchor="end">50</text>
<line x1="256.1" y1="478.77142857142854" x2="259.1" y2="478.77142857142854" stroke="#000" stroke-width="1"/>
<text x="255.50000000000003" y="481.07142857142856" font-size="6.3" font-weight="bold" text-anchor="end">75</text>
<line x1="256.1" y1="465.4285714285714" x2="259.1" y2="465.4285714285714" stroke="#000" stroke-width="1"/>
<text x="255.50000000000003" y="467.7285714285714" font-size="6.3" font-weight="bold" text-anchor="end">100</text>
<line x1="256.1" y1="452.0857142857143" x2="259.1" y2="452.0857142857143" stroke="#000" stroke-width="1"/>
<text x="255.50000000000003" y="454.3857142857143" font-size="6.3" font-weight="bold" text-anchor="end">125</text>
<line x1="256.1" y1="438.74285714285713" x2="259.1" y2="438.74285714285713" stroke="#000" stroke-width="1"/>
<text x="255.50000000000003" y="441.04285714285714" font-size="6.3" font-weight="bold" text-anchor="end">150</text>
<line x1="256.1" y1="425.4" x2="259.1" y2="425.4" stroke="#000" stroke-width="1"/>
<text x="255.50000000000003" y="427.7" font-size="6.3" font-weight="bold" text-anchor="end">175</text>
<line x1="259.1" y1="424.9" x2="259.1" y2="519.4" stroke="#000" stroke-width="1.3"/>
<line x1="259.1" y1="518.8" x2="400.6" y2="518.8" stroke="#000" stroke-width="1.3"/>
<rect x="263.4" y="465.1" width="18.700000000000045" height="53.69999999999993" fill="#000"/>
<line x1="272.75" y1="464.3" x2="272.75" y2="465.1" stroke="#000" stroke-width="1"/>
<line x1="267.14" y1="464.3" x2="278.36" y2="464.3" stroke="#000" stroke-width="1.1"/>
<rect x="282.70000000000005" y="447.3" width="18.099999999999955" height="71.49999999999997" fill="#fff" stroke="#000" stroke-width="1.2"/>
<line x1="291.75" y1="439.5" x2="291.75" y2="446.7" stroke="#000" stroke-width="1"/>
<line x1="285.96000000000004" y1="439.5" x2="297.53999999999996" y2="439.5" stroke="#000" stroke-width="1.1"/>
<rect x="310.7" y="465.1" width="18.69999999999999" height="53.69999999999993" fill="#000"/>
<line x1="320.04999999999995" y1="461.1" x2="320.04999999999995" y2="465.1" stroke="#000" stroke-width="1"/>
<line x1="314.43999999999994" y1="461.1" x2="325.65999999999997" y2="461.1" stroke="#000" stroke-width="1.1"/>
<rect x="330.0" y="472.70000000000005" width="17.900000000000023" height="46.09999999999993" fill="#fff" stroke="#000" stroke-width="1.2"/>
<line x1="338.95" y1="464.9" x2="338.95" y2="472.1" stroke="#000" stroke-width="1"/>
<line x1="333.21999999999997" y1="464.9" x2="344.68" y2="464.9" stroke="#000" stroke-width="1.1"/>
<rect x="357.3" y="464.7" width="19.0" height="54.099999999999966" fill="#000"/>
<line x1="366.8" y1="461.6" x2="366.8" y2="464.7" stroke="#000" stroke-width="1"/>
<line x1="361.1" y1="461.6" x2="372.5" y2="461.6" stroke="#000" stroke-width="1.1"/>
<rect x="376.90000000000003" y="451.5" width="17.899999999999967" height="67.29999999999998" fill="#fff" stroke="#000" stroke-width="1.2"/>
<line x1="385.85" y1="437" x2="385.85" y2="450.9" stroke="#000" stroke-width="1"/>
<line x1="380.12" y1="437" x2="391.58000000000004" y2="437" stroke="#000" stroke-width="1.1"/>
<text x="241" y="471.3" font-size="8" font-weight="bold" text-anchor="middle" transform="rotate(-90 241 471.3)">cell number (% of ctrl)</text>
<text x="291.9" y="430.9" font-size="10" text-anchor="middle">*</text>
<line x1="266.2" y1="524.6" x2="300.6" y2="524.6" stroke="#000" stroke-width="1.3"/>
<line x1="314.4" y1="524.6" x2="348.5" y2="524.6" stroke="#000" stroke-width="1.3"/>
<line x1="361.5" y1="524.6" x2="393.7" y2="524.6" stroke="#000" stroke-width="1.3"/>
<text x="286" y="535.6" font-size="7" font-weight="bold" text-anchor="middle">c-Kit<tspan font-size="4.5" baseline-shift="2.7">+</tspan></text>
<text x="330.3" y="535.6" font-size="7" font-weight="bold" text-anchor="middle">c-Kit<tspan font-size="4.5" baseline-shift="2.7">+</tspan>/Ly6C<tspan font-size="4.5" baseline-shift="2.7">+</tspan></text>
<text x="377.6" y="535.6" font-size="7" font-weight="bold" text-anchor="middle">Ly6C<tspan font-size="4.5" baseline-shift="2.7">int</tspan>/Ly6G<tspan font-size="4.5" baseline-shift="2.7">+</tspan></text>
<text x="277.3" y="550.8" font-size="12.6" text-anchor="middle">(R1)</text>
<text x="329" y="550.8" font-size="12.6" text-anchor="middle">(R2)</text>
<text x="379" y="550.8" font-size="12.6" text-anchor="middle">(R4)</text>
<rect x="394.8" y="426.9" width="14.2" height="5" fill="#000"/>
<text x="409.6" y="431.79999999999995" font-size="7.5" fill="#444">ctrl</text>
<rect x="395.6" y="438.0" width="12.6" height="3.4" fill="#fff" stroke="#000" stroke-width="1.6"/>
<text x="409.6" y="444.0" font-size="8.2" fill="#444">Musk-L;Agrn<tspan font-size="5.084" baseline-shift="3.1">-/-</tspan></text>
<rect x="68.6" y="578.4" width="124.4" height="86.9" fill="none" stroke="#8a8a8a" stroke-width="2.4"/>
<line x1="130.8" y1="578.4" x2="130.8" y2="665.3" stroke="#8a8a8a" stroke-width="2.3"/>
<line x1="68.6" y1="621.9" x2="193" y2="621.9" stroke="#8a8a8a" stroke-width="2.3"/>
<text x="68.3" y="585.5" font-size="6.8" font-weight="bold" fill="#222">Macrophages</text>
<text x="133" y="585.5" font-size="6.8" font-weight="bold" fill="#222">Mono/Macro</text>
<text x="137.1" y="658.3" font-size="6.8" font-weight="bold" fill="#222">Monocytes</text>
<path d="M161 652 C163 640 168 625 166 612 C164 598 150 598.8 112 598.8" stroke="#000" stroke-width="3" fill="none"/>
<path d="M112 594.5 L105.5 598.8 L112 603.1 Z" stroke="#000" stroke-width="1" fill="#000"/>
<text x="60.2" y="623.4" font-size="8.8" font-weight="bold" text-anchor="middle" transform="rotate(-90 60.2 623.4)">F4/80</text>
<path d="M60.4 643.6 V673.9 H90.1" stroke="#111" stroke-width="1.1" fill="none"/>
<path d="M57.8 644.9000000000001 L60.4 639.7 L63.0 644.9000000000001Z" fill="#111"/>
<path d="M88.8 671.3 L94 673.9 L88.8 676.5Z" fill="#111"/>
<text x="97.8" y="675.6" font-size="8.8" font-weight="bold">Ly6C</text>
<text x="260.2" y="574.6" font-size="10" font-weight="bold" text-anchor="middle">ctrl</text>
<text x="388.4" y="575.4" font-size="10.6" font-weight="bold" text-anchor="middle">Musk-L;Agrn<tspan font-size="6.6" baseline-shift="4.0">-/-</tspan></text>
<rect x="200.7" y="577.7" width="121.0" height="88.69999999999993" fill="none" stroke="#666" stroke-width="1"/>
<rect x="225.6" y="588" width="91.4" height="59" fill="none" stroke="#444" stroke-width="0.9"/>
<line x1="270.3" y1="588" x2="270.3" y2="647" stroke="#333" stroke-width="0.9"/>
<line x1="225.6" y1="616.3" x2="317" y2="616.3" stroke="#333" stroke-width="0.9"/>
<line x1="223.2" y1="646.4" x2="225.6" y2="646.4" stroke="#222" stroke-width="0.7"/>
<line x1="223.2" y1="644.6" x2="225.6" y2="644.6" stroke="#222" stroke-width="0.7"/>
<line x1="223.2" y1="643.2" x2="225.6" y2="643.2" stroke="#222" stroke-width="0.7"/>
<line x1="223.2" y1="642.0" x2="225.6" y2="642.0" stroke="#222" stroke-width="0.7"/>
<line x1="223.2" y1="641.0" x2="225.6" y2="641.0" stroke="#222" stroke-width="0.7"/>
<line x1="223.2" y1="640.1" x2="225.6" y2="640.1" stroke="#222" stroke-width="0.7"/>
<line x1="223.2" y1="639.4" x2="225.6" y2="639.4" stroke="#222" stroke-width="0.7"/>
<line x1="221.4" y1="638.7" x2="225.6" y2="638.7" stroke="#222" stroke-width="0.9"/>
<line x1="223.2" y1="634.2" x2="225.6" y2="634.2" stroke="#222" stroke-width="0.7"/>
<line x1="223.2" y1="631.6" x2="225.6" y2="631.6" stroke="#222" stroke-width="0.7"/>
<line x1="223.2" y1="629.8" x2="225.6" y2="629.8" stroke="#222" stroke-width="0.7"/>
<line x1="223.2" y1="628.4" x2="225.6" y2="628.4" stroke="#222" stroke-width="0.7"/>
<line x1="223.2" y1="627.2" x2="225.6" y2="627.2" stroke="#222" stroke-width="0.7"/>
<line x1="223.2" y1="626.2" x2="225.6" y2="626.2" stroke="#222" stroke-width="0.7"/>
<line x1="223.2" y1="625.3" x2="225.6" y2="625.3" stroke="#222" stroke-width="0.7"/>
<line x1="223.2" y1="624.6" x2="225.6" y2="624.6" stroke="#222" stroke-width="0.7"/>
<line x1="221.4" y1="623.9" x2="225.6" y2="623.9" stroke="#222" stroke-width="0.9"/>
<line x1="223.2" y1="619.4" x2="225.6" y2="619.4" stroke="#222" stroke-width="0.7"/>
<line x1="223.2" y1="616.8" x2="225.6" y2="616.8" stroke="#222" stroke-width="0.7"/>
<line x1="223.2" y1="615.0" x2="225.6" y2="615.0" stroke="#222" stroke-width="0.7"/>
<line x1="223.2" y1="613.6" x2="225.6" y2="613.6" stroke="#222" stroke-width="0.7"/>
<line x1="223.2" y1="612.4" x2="225.6" y2="612.4" stroke="#222" stroke-width="0.7"/>
<line x1="223.2" y1="611.4" x2="225.6" y2="611.4" stroke="#222" stroke-width="0.7"/>
<line x1="223.2" y1="610.5" x2="225.6" y2="610.5" stroke="#222" stroke-width="0.7"/>
<line x1="223.2" y1="609.8" x2="225.6" y2="609.8" stroke="#222" stroke-width="0.7"/>
<line x1="221.4" y1="609.1" x2="225.6" y2="609.1" stroke="#222" stroke-width="0.9"/>
<line x1="223.2" y1="604.6" x2="225.6" y2="604.6" stroke="#222" stroke-width="0.7"/>
<line x1="223.2" y1="602.0" x2="225.6" y2="602.0" stroke="#222" stroke-width="0.7"/>
<line x1="223.2" y1="600.2" x2="225.6" y2="600.2" stroke="#222" stroke-width="0.7"/>
<line x1="223.2" y1="598.8" x2="225.6" y2="598.8" stroke="#222" stroke-width="0.7"/>
<line x1="223.2" y1="597.6" x2="225.6" y2="597.6" stroke="#222" stroke-width="0.7"/>
<line x1="223.2" y1="596.6" x2="225.6" y2="596.6" stroke="#222" stroke-width="0.7"/>
<line x1="223.2" y1="595.7" x2="225.6" y2="595.7" stroke="#222" stroke-width="0.7"/>
<line x1="223.2" y1="595.0" x2="225.6" y2="595.0" stroke="#222" stroke-width="0.7"/>
<line x1="221.4" y1="594.3" x2="225.6" y2="594.3" stroke="#222" stroke-width="0.9"/>
<line x1="223.2" y1="589.8" x2="225.6" y2="589.8" stroke="#222" stroke-width="0.7"/>
<line x1="226.1" y1="647" x2="226.1" y2="649.4" stroke="#222" stroke-width="0.7"/>
<line x1="229.0" y1="647" x2="229.0" y2="649.4" stroke="#222" stroke-width="0.7"/>
<line x1="231.3" y1="647" x2="231.3" y2="649.4" stroke="#222" stroke-width="0.7"/>
<line x1="233.1" y1="647" x2="233.1" y2="649.4" stroke="#222" stroke-width="0.7"/>
<line x1="234.7" y1="647" x2="234.7" y2="649.4" stroke="#222" stroke-width="0.7"/>
<line x1="236.0" y1="647" x2="236.0" y2="649.4" stroke="#222" stroke-width="0.7"/>
<line x1="237.2" y1="647" x2="237.2" y2="649.4" stroke="#222" stroke-width="0.7"/>
<line x1="238.3" y1="647" x2="238.3" y2="651.2" stroke="#222" stroke-width="0.9"/>
<line x1="245.3" y1="647" x2="245.3" y2="649.4" stroke="#222" stroke-width="0.7"/>
<line x1="249.4" y1="647" x2="249.4" y2="649.4" stroke="#222" stroke-width="0.7"/>
<line x1="252.3" y1="647" x2="252.3" y2="649.4" stroke="#222" stroke-width="0.7"/>
<line x1="254.6" y1="647" x2="254.6" y2="649.4" stroke="#222" stroke-width="0.7"/>
<line x1="256.4" y1="647" x2="256.4" y2="649.4" stroke="#222" stroke-width="0.7"/>
<line x1="258.0" y1="647" x2="258.0" y2="649.4" stroke="#222" stroke-width="0.7"/>
<line x1="259.3" y1="647" x2="259.3" y2="649.4" stroke="#222" stroke-width="0.7"/>
<line x1="260.5" y1="647" x2="260.5" y2="649.4" stroke="#222" stroke-width="0.7"/>
<line x1="261.6" y1="647" x2="261.6" y2="651.2" stroke="#222" stroke-width="0.9"/>
<line x1="268.6" y1="647" x2="268.6" y2="649.4" stroke="#222" stroke-width="0.7"/>
<line x1="272.7" y1="647" x2="272.7" y2="649.4" stroke="#222" stroke-width="0.7"/>
<line x1="275.6" y1="647" x2="275.6" y2="649.4" stroke="#222" stroke-width="0.7"/>
<line x1="277.9" y1="647" x2="277.9" y2="649.4" stroke="#222" stroke-width="0.7"/>
<line x1="279.7" y1="647" x2="279.7" y2="649.4" stroke="#222" stroke-width="0.7"/>
<line x1="281.3" y1="647" x2="281.3" y2="649.4" stroke="#222" stroke-width="0.7"/>
<line x1="282.6" y1="647" x2="282.6" y2="649.4" stroke="#222" stroke-width="0.7"/>
<line x1="283.8" y1="647" x2="283.8" y2="649.4" stroke="#222" stroke-width="0.7"/>
<line x1="284.9" y1="647" x2="284.9" y2="651.2" stroke="#222" stroke-width="0.9"/>
<line x1="291.9" y1="647" x2="291.9" y2="649.4" stroke="#222" stroke-width="0.7"/>
<line x1="296.0" y1="647" x2="296.0" y2="649.4" stroke="#222" stroke-width="0.7"/>
<line x1="298.9" y1="647" x2="298.9" y2="649.4" stroke="#222" stroke-width="0.7"/>
<line x1="301.2" y1="647" x2="301.2" y2="649.4" stroke="#222" stroke-width="0.7"/>
<line x1="303.0" y1="647" x2="303.0" y2="649.4" stroke="#222" stroke-width="0.7"/>
<line x1="304.6" y1="647" x2="304.6" y2="649.4" stroke="#222" stroke-width="0.7"/>
<line x1="305.9" y1="647" x2="305.9" y2="649.4" stroke="#222" stroke-width="0.7"/>
<line x1="307.1" y1="647" x2="307.1" y2="649.4" stroke="#222" stroke-width="0.7"/>
<line x1="308.2" y1="647" x2="308.2" y2="651.2" stroke="#222" stroke-width="0.9"/>
<line x1="315.2" y1="647" x2="315.2" y2="649.4" stroke="#222" stroke-width="0.7"/>
<rect x="325.9" y="577.5" width="122.0" height="89.70000000000005" fill="none" stroke="#666" stroke-width="1"/>
<rect x="351" y="587.7" width="93.39999999999998" height="60.59999999999991" fill="none" stroke="#444" stroke-width="0.9"/>
<line x1="395.9" y1="587.7" x2="395.9" y2="648.3" stroke="#333" stroke-width="0.9"/>
<line x1="351" y1="616" x2="444.4" y2="616" stroke="#333" stroke-width="0.9"/>
<line x1="348.6" y1="647.7" x2="351" y2="647.7" stroke="#222" stroke-width="0.7"/>
<line x1="348.6" y1="645.9" x2="351" y2="645.9" stroke="#222" stroke-width="0.7"/>
<line x1="348.6" y1="644.5" x2="351" y2="644.5" stroke="#222" stroke-width="0.7"/>
<line x1="348.6" y1="643.3" x2="351" y2="643.3" stroke="#222" stroke-width="0.7"/>
<line x1="348.6" y1="642.3" x2="351" y2="642.3" stroke="#222" stroke-width="0.7"/>
<line x1="348.6" y1="641.4" x2="351" y2="641.4" stroke="#222" stroke-width="0.7"/>
<line x1="348.6" y1="640.7" x2="351" y2="640.7" stroke="#222" stroke-width="0.7"/>
<line x1="346.8" y1="640.0" x2="351" y2="640.0" stroke="#222" stroke-width="0.9"/>
<line x1="348.6" y1="635.5" x2="351" y2="635.5" stroke="#222" stroke-width="0.7"/>
<line x1="348.6" y1="632.9" x2="351" y2="632.9" stroke="#222" stroke-width="0.7"/>
<line x1="348.6" y1="631.1" x2="351" y2="631.1" stroke="#222" stroke-width="0.7"/>
<line x1="348.6" y1="629.7" x2="351" y2="629.7" stroke="#222" stroke-width="0.7"/>
<line x1="348.6" y1="628.5" x2="351" y2="628.5" stroke="#222" stroke-width="0.7"/>
<line x1="348.6" y1="627.5" x2="351" y2="627.5" stroke="#222" stroke-width="0.7"/>
<line x1="348.6" y1="626.6" x2="351" y2="626.6" stroke="#222" stroke-width="0.7"/>
<line x1="348.6" y1="625.9" x2="351" y2="625.9" stroke="#222" stroke-width="0.7"/>
<line x1="346.8" y1="625.2" x2="351" y2="625.2" stroke="#222" stroke-width="0.9"/>
<line x1="348.6" y1="620.7" x2="351" y2="620.7" stroke="#222" stroke-width="0.7"/>
<line x1="348.6" y1="618.1" x2="351" y2="618.1" stroke="#222" stroke-width="0.7"/>
<line x1="348.6" y1="616.3" x2="351" y2="616.3" stroke="#222" stroke-width="0.7"/>
<line x1="348.6" y1="614.9" x2="351" y2="614.9" stroke="#222" stroke-width="0.7"/>
<line x1="348.6" y1="613.7" x2="351" y2="613.7" stroke="#222" stroke-width="0.7"/>
<line x1="348.6" y1="612.7" x2="351" y2="612.7" stroke="#222" stroke-width="0.7"/>
<line x1="348.6" y1="611.8" x2="351" y2="611.8" stroke="#222" stroke-width="0.7"/>
<line x1="348.6" y1="611.1" x2="351" y2="611.1" stroke="#222" stroke-width="0.7"/>
<line x1="346.8" y1="610.4" x2="351" y2="610.4" stroke="#222" stroke-width="0.9"/>
<line x1="348.6" y1="605.9" x2="351" y2="605.9" stroke="#222" stroke-width="0.7"/>
<line x1="348.6" y1="603.3" x2="351" y2="603.3" stroke="#222" stroke-width="0.7"/>
<line x1="348.6" y1="601.5" x2="351" y2="601.5" stroke="#222" stroke-width="0.7"/>
<line x1="348.6" y1="600.1" x2="351" y2="600.1" stroke="#222" stroke-width="0.7"/>
<line x1="348.6" y1="598.9" x2="351" y2="598.9" stroke="#222" stroke-width="0.7"/>
<line x1="348.6" y1="597.9" x2="351" y2="597.9" stroke="#222" stroke-width="0.7"/>
<line x1="348.6" y1="597.0" x2="351" y2="597.0" stroke="#222" stroke-width="0.7"/>
<line x1="348.6" y1="596.3" x2="351" y2="596.3" stroke="#222" stroke-width="0.7"/>
<line x1="346.8" y1="595.6" x2="351" y2="595.6" stroke="#222" stroke-width="0.9"/>
<line x1="348.6" y1="591.1" x2="351" y2="591.1" stroke="#222" stroke-width="0.7"/>
<line x1="348.6" y1="588.5" x2="351" y2="588.5" stroke="#222" stroke-width="0.7"/>
<line x1="351.5" y1="648.3" x2="351.5" y2="650.6999999999999" stroke="#222" stroke-width="0.7"/>
<line x1="354.4" y1="648.3" x2="354.4" y2="650.6999999999999" stroke="#222" stroke-width="0.7"/>
<line x1="356.7" y1="648.3" x2="356.7" y2="650.6999999999999" stroke="#222" stroke-width="0.7"/>
<line x1="358.5" y1="648.3" x2="358.5" y2="650.6999999999999" stroke="#222" stroke-width="0.7"/>
<line x1="360.1" y1="648.3" x2="360.1" y2="650.6999999999999" stroke="#222" stroke-width="0.7"/>
<line x1="361.4" y1="648.3" x2="361.4" y2="650.6999999999999" stroke="#222" stroke-width="0.7"/>
<line x1="362.6" y1="648.3" x2="362.6" y2="650.6999999999999" stroke="#222" stroke-width="0.7"/>
<line x1="363.7" y1="648.3" x2="363.7" y2="652.5" stroke="#222" stroke-width="0.9"/>
<line x1="370.7" y1="648.3" x2="370.7" y2="650.6999999999999" stroke="#222" stroke-width="0.7"/>
<line x1="374.8" y1="648.3" x2="374.8" y2="650.6999999999999" stroke="#222" stroke-width="0.7"/>
<line x1="377.7" y1="648.3" x2="377.7" y2="650.6999999999999" stroke="#222" stroke-width="0.7"/>
<line x1="380.0" y1="648.3" x2="380.0" y2="650.6999999999999" stroke="#222" stroke-width="0.7"/>
<line x1="381.8" y1="648.3" x2="381.8" y2="650.6999999999999" stroke="#222" stroke-width="0.7"/>
<line x1="383.4" y1="648.3" x2="383.4" y2="650.6999999999999" stroke="#222" stroke-width="0.7"/>
<line x1="384.7" y1="648.3" x2="384.7" y2="650.6999999999999" stroke="#222" stroke-width="0.7"/>
<line x1="385.9" y1="648.3" x2="385.9" y2="650.6999999999999" stroke="#222" stroke-width="0.7"/>
<line x1="387.0" y1="648.3" x2="387.0" y2="652.5" stroke="#222" stroke-width="0.9"/>
<line x1="394.0" y1="648.3" x2="394.0" y2="650.6999999999999" stroke="#222" stroke-width="0.7"/>
<line x1="398.1" y1="648.3" x2="398.1" y2="650.6999999999999" stroke="#222" stroke-width="0.7"/>
<line x1="401.0" y1="648.3" x2="401.0" y2="650.6999999999999" stroke="#222" stroke-width="0.7"/>
<line x1="403.3" y1="648.3" x2="403.3" y2="650.6999999999999" stroke="#222" stroke-width="0.7"/>
<line x1="405.1" y1="648.3" x2="405.1" y2="650.6999999999999" stroke="#222" stroke-width="0.7"/>
<line x1="406.7" y1="648.3" x2="406.7" y2="650.6999999999999" stroke="#222" stroke-width="0.7"/>
<line x1="408.0" y1="648.3" x2="408.0" y2="650.6999999999999" stroke="#222" stroke-width="0.7"/>
<line x1="409.2" y1="648.3" x2="409.2" y2="650.6999999999999" stroke="#222" stroke-width="0.7"/>
<line x1="410.3" y1="648.3" x2="410.3" y2="652.5" stroke="#222" stroke-width="0.9"/>
<line x1="417.3" y1="648.3" x2="417.3" y2="650.6999999999999" stroke="#222" stroke-width="0.7"/>
<line x1="421.4" y1="648.3" x2="421.4" y2="650.6999999999999" stroke="#222" stroke-width="0.7"/>
<line x1="424.3" y1="648.3" x2="424.3" y2="650.6999999999999" stroke="#222" stroke-width="0.7"/>
<line x1="426.6" y1="648.3" x2="426.6" y2="650.6999999999999" stroke="#222" stroke-width="0.7"/>
<line x1="428.4" y1="648.3" x2="428.4" y2="650.6999999999999" stroke="#222" stroke-width="0.7"/>
<line x1="430.0" y1="648.3" x2="430.0" y2="650.6999999999999" stroke="#222" stroke-width="0.7"/>
<line x1="431.3" y1="648.3" x2="431.3" y2="650.6999999999999" stroke="#222" stroke-width="0.7"/>
<line x1="432.5" y1="648.3" x2="432.5" y2="650.6999999999999" stroke="#222" stroke-width="0.7"/>
<line x1="433.6" y1="648.3" x2="433.6" y2="652.5" stroke="#222" stroke-width="0.9"/>
<line x1="440.6" y1="648.3" x2="440.6" y2="650.6999999999999" stroke="#222" stroke-width="0.7"/>
<path d="M275.0 598.4h0.7M259.9 596.6h0.7M257.4 600.1h0.7M256.7 596.4h0.7M257.0 597.6h0.7M261.0 597.2h0.7M259.0 596.6h0.7M266.8 598.7h0.7M258.3 599.3h0.7M259.8 594.4h0.7M259.0 602.8h0.7M262.8 601.6h0.7M256.3 594.6h0.7M256.2 602.0h0.7M254.5 596.4h0.7M266.1 597.8h0.7M258.9 599.5h0.7M260.5 597.7h0.7M261.4 596.6h0.7M259.8 600.2h0.7M254.2 597.9h0.7M253.7 600.4h0.7M263.4 601.0h0.7M265.7 601.2h0.7M263.9 596.5h0.7M265.1 596.1h0.7M272.8 599.3h0.7M263.3 595.3h0.7M265.9 601.6h0.7M251.4 597.1h0.7M257.4 596.8h0.7M267.6 604.1h0.7M254.1 601.2h0.7M258.6 602.1h0.7M246.5 597.4h0.7M266.7 596.5h0.7M266.5 597.2h0.7M266.3 600.0h0.7M257.7 596.5h0.7M259.1 601.5h0.7M259.9 596.8h0.7M278.3 594.4h0.7M258.7 599.9h0.7M254.2 598.5h0.7M257.7 594.6h0.7M262.5 595.5h0.7M255.8 601.7h0.7M253.8 600.1h0.7M266.5 601.1h0.7M262.6 597.9h0.7M252.3 598.9h0.7M262.4 597.2h0.7M254.5 600.7h0.7M254.2 599.6h0.7M257.3 594.1h0.7M268.8 600.1h0.7M262.9 594.8h0.7M259.2 599.2h0.7M255.8 602.8h0.7M248.8 600.3h0.7M249.5 594.4h0.7M252.8 599.9h0.7M255.9 596.7h0.7M254.9 594.6h0.7M254.9 595.8h0.7M258.0 597.4h0.7M246.6 596.7h0.7M266.4 597.1h0.7M259.3 596.5h0.7M255.9 598.2h0.7M252.2 597.9h0.7M250.5 599.2h0.7M250.9 600.0h0.7M265.2 594.1h0.7M263.3 597.2h0.7M265.9 596.9h0.7M258.0 597.5h0.7M266.4 593.2h0.7M263.7 598.5h0.7M256.8 597.6h0.7M264.6 600.4h0.7M268.8 596.6h0.7M249.0 596.8h0.7M258.4 597.1h0.7M266.2 604.2h0.7M261.5 593.6h0.7M265.2 596.6h0.7M259.7 600.4h0.7M261.5 598.1h0.7M261.0 600.2h0.7M262.9 603.6h0.7M242.9 596.2h0.7M256.2 600.4h0.7M260.6 600.4h0.7M251.6 597.7h0.7M263.0 598.1h0.7M257.2 598.9h0.7M268.5 592.7h0.7M268.1 598.9h0.7M254.7 599.9h0.7M259.6 601.4h0.7M255.0 600.7h0.7M254.4 599.0h0.7M263.2 598.0h0.7M262.9 596.7h0.7M265.2 596.9h0.7M255.5 597.9h0.7M259.1 596.0h0.7M263.8 597.9h0.7M262.7 594.3h0.7M252.2 597.5h0.7M254.0 597.9h0.7M262.5 601.1h0.7M267.5 600.3h0.7M255.5 599.7h0.7M256.5 599.6h0.7M253.6 601.7h0.7M261.7 597.5h0.7M251.9 599.0h0.7M256.5 598.9h0.7M255.5 596.8h0.7M262.8 602.1h0.7M252.5 597.7h0.7M261.6 597.8h0.7M257.0 603.9h0.7M254.8 599.2h0.7M256.8 598.0h0.7M246.9 600.5h0.7M258.3 595.7h0.7M268.6 597.5h0.7M256.1 596.0h0.7M265.3 598.3h0.7M257.7 594.8h0.7M254.5 599.1h0.7M259.3 593.0h0.7M254.6 598.8h0.7M274.2 596.3h0.7M247.2 600.2h0.7M256.8 594.8h0.7M262.5 597.6h0.7M254.1 594.8h0.7M258.8 598.5h0.7M249.7 600.8h0.7M252.5 601.9h0.7M261.3 597.8h0.7M261.3 596.7h0.7M259.1 602.5h0.7M256.3 600.4h0.7M254.5 598.2h0.7M264.7 595.1h0.7M261.3 592.6h0.7M253.1 597.2h0.7M264.3 600.1h0.7M254.4 597.9h0.7M260.5 594.2h0.7M261.8 601.8h0.7M266.3 596.7h0.7M257.2 595.8h0.7M256.7 597.6h0.7M263.2 598.5h0.7M254.3 600.4h0.7M264.3 596.7h0.7M258.1 598.0h0.7M250.4 598.6h0.7M263.1 603.3h0.7M260.5 597.5h0.7M258.6 599.8h0.7M263.8 596.0h0.7M260.5 599.9h0.7M248.4 601.8h0.7M258.3 600.5h0.7M259.2 597.6h0.7M259.1 599.0h0.7M264.3 597.6h0.7M253.3 596.4h0.7M254.1 600.2h0.7M254.2 602.2h0.7M260.2 598.0h0.7M266.7 597.3h0.7M257.9 600.3h0.7M263.6 595.7h0.7M273.0 599.7h0.7M252.6 597.8h0.7M264.6 598.8h0.7M264.2 604.4h0.7M264.6 603.5h0.7M263.3 596.6h0.7M267.9 596.5h0.7M264.8 600.0h0.7M254.9 596.5h0.7M258.6 599.4h0.7M266.9 598.5h0.7M270.1 600.6h0.7M256.1 596.7h0.7M260.1 597.0h0.7M259.2 600.4h0.7M261.2 600.9h0.7M255.9 596.1h0.7M252.1 593.8h0.7M257.3 598.6h0.7M258.7 598.4h0.7M271.0 595.6h0.7M258.3 597.1h0.7M254.8 601.9h0.7M259.6 601.7h0.7M253.6 603.3h0.7M272.3 596.2h0.7M259.8 598.1h0.7M262.9 595.0h0.7M262.4 600.3h0.7M256.6 592.5h0.7M256.1 597.4h0.7M264.1 596.8h0.7M253.5 600.0h0.7M261.9 600.3h0.7M260.1 601.2h0.7M262.7 593.8h0.7M261.0 600.5h0.7M260.1 602.2h0.7M257.4 600.3h0.7M253.1 598.5h0.7M256.9 595.8h0.7M252.7 599.0h0.7M262.3 596.8h0.7M253.1 596.2h0.7M264.1 595.3h0.7M266.2 594.1h0.7M261.4 600.2h0.7M266.6 597.3h0.7M255.7 594.8h0.7M264.9 598.1h0.7M257.4 597.4h0.7M261.3 598.5h0.7M266.4 592.9h0.7M264.6 597.1h0.7M259.5 597.6h0.7M259.5 600.4h0.7M261.2 594.7h0.7M259.6 598.2h0.7M262.0 598.6h0.7M259.5 601.1h0.7M254.0 604.1h0.7M256.9 595.8h0.7M264.3 601.3h0.7M266.8 602.3h0.7M262.6 598.7h0.7M262.0 598.5h0.7M257.0 602.7h0.7M270.0 598.5h0.7M258.7 597.2h0.7M250.7 596.7h0.7M257.1 598.4h0.7M254.5 593.6h0.7M263.6 603.0h0.7M248.3 598.1h0.7M264.7 595.5h0.7M252.1 598.6h0.7M258.7 596.8h0.7M269.1 602.4h0.7M263.6 598.3h0.7M258.2 600.8h0.7M258.8 602.4h0.7M266.9 597.0h0.7M264.3 602.6h0.7M263.7 596.1h0.7M258.6 597.7h0.7M260.8 598.6h0.7M258.2 600.8h0.7M267.6 597.1h0.7M252.1 599.6h0.7M260.2 599.7h0.7M256.5 599.4h0.7M255.2 601.5h0.7M269.5 596.2h0.7M246.0 597.4h0.7M257.4 599.2h0.7M260.4 599.9h0.7M275.3 597.2h0.7M258.3 599.8h0.7M250.2 600.7h0.7M256.9 594.9h0.7M255.7 600.0h0.7M265.0 601.9h0.7M262.8 596.8h0.7M263.5 598.5h0.7M273.3 593.4h0.7M269.3 600.7h0.7M262.7 598.5h0.7M257.4 596.2h0.7M251.9 604.0h0.7M265.6 600.5h0.7M262.5 593.8h0.7M259.0 599.1h0.7M266.9 596.1h0.7M262.0 598.1h0.7M260.7 596.7h0.7M262.5 599.0h0.7M250.3 601.9h0.7M272.7 596.5h0.7M266.9 596.2h0.7M257.7 603.4h0.7M261.7 602.7h0.7M262.2 601.4h0.7M259.7 602.5h0.7M270.5 600.6h0.7M257.5 597.9h0.7M255.5 600.4h0.7M263.5 597.0h0.7M265.7 597.3h0.7M270.7 601.0h0.7M269.4 597.0h0.7M255.2 594.1h0.7M264.3 595.9h0.7M268.1 599.2h0.7M264.9 595.5h0.7M257.5 599.3h0.7M264.8 595.5h0.7M262.6 596.7h0.7M265.2 598.3h0.7M259.1 600.0h0.7M267.1 598.2h0.7M267.5 596.3h0.7M262.3 596.0h0.7M261.9 596.5h0.7M261.0 600.5h0.7M255.5 594.3h0.7M259.8 600.2h0.7M262.0 596.5h0.7M265.3 598.1h0.7M264.9 596.6h0.7M263.2 601.9h0.7M257.1 598.1h0.7M264.1 600.2h0.7M262.7 598.5h0.7M252.2 598.8h0.7M253.6 599.1h0.7M247.9 602.5h0.7M271.1 600.0h0.7M256.1 598.0h0.7M265.5 600.5h0.7M256.9 601.9h0.7M264.6 600.2h0.7M258.8 598.8h0.7M256.8 599.3h0.7M257.1 601.8h0.7M260.9 599.4h0.7M262.5 599.6h0.7M252.9 602.1h0.7M261.2 597.4h0.7M255.4 597.1h0.7M257.3 598.8h0.7M256.0 599.1h0.7M261.4 597.0h0.7M272.7 598.5h0.7M262.5 599.1h0.7M259.8 600.5h0.7M268.1 598.6h0.7M255.9 600.2h0.7M248.9 599.2h0.7M259.6 599.6h0.7M252.3 597.6h0.7M255.0 597.4h0.7M263.7 598.2h0.7M257.3 601.8h0.7M260.6 593.5h0.7M254.8 599.8h0.7M262.8 599.3h0.7M261.8 596.4h0.7M259.9 595.6h0.7M255.8 596.3h0.7M255.8 597.8h0.7M259.1 596.6h0.7M266.2 597.5h0.7M268.6 601.2h0.7M253.7 600.9h0.7M252.6 602.3h0.7M262.0 596.0h0.7M248.3 597.5h0.7M252.8 601.4h0.7M253.4 598.0h0.7M262.8 598.6h0.7M261.5 597.9h0.7M264.0 596.1h0.7M263.1 595.4h0.7M261.0 595.6h0.7M258.9 600.0h0.7M266.7 593.9h0.7M255.8 596.0h0.7M266.6 596.3h0.7M263.8 597.2h0.7M252.2 598.8h0.7M253.8 600.4h0.7M264.5 601.9h0.7M254.5 602.5h0.7M265.2 593.9h0.7M272.0 602.8h0.7M254.3 599.3h0.7M252.7 598.1h0.7M260.9 600.1h0.7M255.5 598.4h0.7M254.9 599.5h0.7M263.5 598.7h0.7M266.2 600.4h0.7M262.0 601.5h0.7M253.2 598.4h0.7M250.3 598.4h0.7M257.4 600.6h0.7M257.5 596.8h0.7M259.4 598.1h0.7M262.7 596.2h0.7M251.8 594.4h0.7M266.2 595.2h0.7M257.4 595.6h0.7M264.7 597.0h0.7M266.6 596.7h0.7M261.6 600.4h0.7M265.2 595.4h0.7M257.9 598.3h0.7M250.0 600.3h0.7M262.1 599.8h0.7M252.4 599.0h0.7M262.3 601.1h0.7M257.1 600.2h0.7M270.6 597.4h0.7M257.7 597.6h0.7M251.8 597.6h0.7M268.8 596.1h0.7M258.9 601.6h0.7M263.1 599.1h0.7M258.2 598.2h0.7M260.0 600.3h0.7M260.4 600.9h0.7M249.8 600.6h0.7M257.1 598.5h0.7M257.7 600.1h0.7M259.3 600.1h0.7M255.6 599.0h0.7M266.7 601.4h0.7M258.1 598.9h0.7M258.0 598.2h0.7M260.1 601.6h0.7M263.2 602.2h0.7M268.4 595.3h0.7M261.7 597.4h0.7M251.2 595.7h0.7M257.3 602.8h0.7M260.5 598.0h0.7M259.9 596.6h0.7M261.0 598.3h0.7M251.2 597.1h0.7M278.2 600.1h0.7M259.5 600.2h0.7M254.8 598.7h0.7M264.8 594.4h0.7M256.1 597.5h0.7M258.5 597.2h0.7M261.5 601.1h0.7M261.9 601.1h0.7M265.7 597.0h0.7M261.5 597.6h0.7M263.6 597.6h0.7M259.0 602.8h0.7M259.1 594.5h0.7M260.7 599.3h0.7M257.3 598.7h0.7M265.5 597.2h0.7M259.0 596.7h0.7M261.8 598.2h0.7M255.1 598.1h0.7M269.9 594.2h0.7M252.6 599.4h0.7M252.6 603.5h0.7M252.1 595.2h0.7M257.3 601.3h0.7M264.4 600.0h0.7M261.7 601.8h0.7M250.3 599.2h0.7M267.8 595.8h0.7M261.8 601.6h0.7M266.8 598.2h0.7M270.1 599.8h0.7M265.8 595.8h0.7M256.0 596.6h0.7M269.6 592.6h0.7M250.2 600.6h0.7M260.9 591.0h0.7M258.0 597.8h0.7M266.6 593.7h0.7M257.2 601.2h0.7M264.2 596.2h0.7M258.5 594.8h0.7M267.4 597.5h0.7M266.9 600.6h0.7M255.4 598.2h0.7M263.6 599.7h0.7M268.3 601.4h0.7M261.8 600.3h0.7M256.3 597.0h0.7M263.3 599.4h0.7M254.2 598.4h0.7M255.9 597.2h0.7M267.0 596.2h0.7M256.6 600.0h0.7M260.5 599.0h0.7M252.4 598.5h0.7M258.2 596.5h0.7M257.2 597.8h0.7M264.6 603.3h0.7M260.8 602.3h0.7M260.8 594.8h0.7M260.5 601.8h0.7M267.6 596.4h0.7M272.1 596.7h0.7M256.3 597.3h0.7M267.9 599.6h0.7M265.0 593.0h0.7M259.9 598.3h0.7M263.9 597.4h0.7M266.6 596.9h0.7M252.8 594.5h0.7M266.9 600.5h0.7M256.1 601.4h0.7M259.3 598.3h0.7M252.5 597.2h0.7M260.8 599.1h0.7M257.2 601.1h0.7M267.9 596.6h0.7M262.4 594.8h0.7M262.4 596.2h0.7M259.4 599.1h0.7M259.0 601.2h0.7M256.1 597.4h0.7M262.0 598.5h0.7M261.6 598.1h0.7M256.0 600.3h0.7M260.7 600.9h0.7M267.4 597.7h0.7M256.3 597.5h0.7M256.8 593.6h0.7M269.0 599.7h0.7M272.7 597.2h0.7M263.4 599.3h0.7M259.9 601.1h0.7M260.3 598.4h0.7M261.2 593.0h0.7M256.5 596.8h0.7M269.0 600.1h0.7M264.5 600.2h0.7M259.3 602.8h0.7M259.2 595.1h0.7M263.6 601.6h0.7M260.9 599.6h0.7M265.4 602.5h0.7M263.4 602.9h0.7M261.9 603.9h0.7M253.0 601.0h0.7M261.9 599.0h0.7M253.6 601.3h0.7M259.3 596.2h0.7M257.0 598.1h0.7M260.9 596.4h0.7M255.5 599.7h0.7M260.0 603.6h0.7M258.1 600.5h0.7M269.6 598.2h0.7M265.6 599.4h0.7M260.6 602.7h0.7M255.1 597.1h0.7M251.0 598.4h0.7M265.5 598.0h0.7M264.7 596.8h0.7M266.4 598.4h0.7M257.8 602.8h0.7M260.3 600.1h0.7M261.0 600.4h0.7M261.0 595.7h0.7M261.8 599.9h0.7M262.4 598.1h0.7M269.9 596.8h0.7M261.0 599.2h0.7M254.6 595.7h0.7M263.8 600.3h0.7M261.1 594.7h0.7M258.8 599.3h0.7M263.6 601.6h0.7M262.7 601.1h0.7M269.1 592.8h0.7M265.6 597.6h0.7M262.9 599.2h0.7M254.9 596.4h0.7M262.6 598.2h0.7M264.2 597.7h0.7M271.6 598.0h0.7M271.3 596.8h0.7M263.3 601.5h0.7M253.4 596.2h0.7M262.4 601.5h0.7M267.5 600.0h0.7M265.8 595.7h0.7M258.1 602.2h0.7M257.4 598.0h0.7M251.1 598.2h0.7M251.9 599.5h0.7M268.0 599.4h0.7M261.2 597.6h0.7M263.2 595.9h0.7M257.9 604.0h0.7M253.4 597.2h0.7M252.9 601.7h0.7M259.0 595.5h0.7M253.7 601.4h0.7M263.8 600.6h0.7M259.9 600.9h0.7M267.2 600.3h0.7M251.8 593.7h0.7M252.5 599.3h0.7M252.3 595.9h0.7M260.4 596.4h0.7M253.4 601.0h0.7M262.8 600.5h0.7M265.0 602.2h0.7M259.9 598.1h0.7M250.9 597.9h0.7M256.9 601.2h0.7M263.6 602.2h0.7M265.8 601.5h0.7M262.9 598.9h0.7M258.0 598.5h0.7M255.0 599.5h0.7M259.6 593.5h0.7M245.8 596.7h0.7M257.6 597.8h0.7M266.8 596.9h0.7M253.3 599.5h0.7M265.3 602.6h0.7M254.6 597.9h0.7M257.7 602.3h0.7M263.7 598.6h0.7M263.8 597.6h0.7M258.9 598.4h0.7M257.3 597.9h0.7M261.8 599.1h0.7M267.8 600.6h0.7M259.6 593.0h0.7M252.1 597.2h0.7M257.9 595.2h0.7M258.0 598.7h0.7M256.6 598.1h0.7M259.4 596.7h0.7M255.4 598.1h0.7M261.3 595.9h0.7M249.2 596.1h0.7M262.5 594.4h0.7M264.7 597.0h0.7M260.5 596.5h0.7M262.9 598.6h0.7M261.8 593.6h0.7M263.6 594.3h0.7M258.1 599.7h0.7M258.8 599.7h0.7M260.7 598.6h0.7M255.6 600.9h0.7M265.7 597.1h0.7M255.1 598.9h0.7M255.9 598.8h0.7M264.1 600.1h0.7M267.5 599.6h0.7M254.4 596.3h0.7M262.6 603.1h0.7M258.0 596.2h0.7M267.1 598.1h0.7M263.4 601.1h0.7M254.7 597.5h0.7M256.9 599.7h0.7M263.2 597.2h0.7M262.7 594.0h0.7M261.6 599.3h0.7M259.8 594.8h0.7M259.3 595.8h0.7M267.3 597.7h0.7M258.7 598.1h0.7M262.6 598.6h0.7M262.6 596.1h0.7M265.5 597.2h0.7M263.7 599.0h0.7M265.3 598.2h0.7M252.2 595.6h0.7M258.6 601.8h0.7M257.6 598.5h0.7M266.3 597.0h0.7M261.4 599.1h0.7M256.7 599.0h0.7M265.2 601.0h0.7M258.1 605.5h0.7M261.6 597.7h0.7M256.1 596.0h0.7M264.0 591.4h0.7M259.0 595.0h0.7M258.9 598.3h0.7M253.0 596.0h0.7M266.3 597.1h0.7M259.8 597.6h0.7M264.1 601.4h0.7M264.5 599.7h0.7M262.7 595.5h0.7M266.5 597.0h0.7M255.2 597.5h0.7M255.7 599.4h0.7M263.5 601.5h0.7M259.3 596.9h0.7M258.3 595.5h0.7M256.0 603.3h0.7M255.8 597.3h0.7M263.0 599.0h0.7M263.7 596.3h0.7M254.3 601.6h0.7M256.3 598.2h0.7M260.9 593.9h0.7M258.8 596.8h0.7M262.5 597.6h0.7M248.2 600.3h0.7M246.6 597.4h0.7M256.2 596.9h0.7M259.7 600.7h0.7M255.3 596.9h0.7M263.6 599.6h0.7M263.5 599.2h0.7M258.5 597.2h0.7M257.3 600.6h0.7M267.5 603.2h0.7M254.4 597.8h0.7M259.8 598.0h0.7M254.0 603.7h0.7M267.6 598.0h0.7M257.4 598.4h0.7M253.5 597.6h0.7M263.8 602.5h0.7M264.4 601.6h0.7M254.3 590.5h0.7M266.9 598.9h0.7M259.4 602.5h0.7M254.8 596.1h0.7M255.9 602.4h0.7M264.7 594.0h0.7M268.4 598.4h0.7M262.0 596.5h0.7M269.6 599.5h0.7M266.7 596.0h0.7M263.4 598.6h0.7M258.6 596.4h0.7M256.2 595.5h0.7M256.3 598.3h0.7M262.8 594.6h0.7M254.4 596.9h0.7M251.2 597.7h0.7M258.4 597.9h0.7M261.9 600.7h0.7M264.0 599.1h0.7M262.9 596.4h0.7M254.9 600.0h0.7M262.7 603.8h0.7M258.6 596.0h0.7M261.3 597.3h0.7M255.1 601.8h0.7M269.9 599.3h0.7M256.4 599.0h0.7M259.5 595.0h0.7M264.2 599.3h0.7M266.4 597.0h0.7M259.7 598.1h0.7M250.8 604.6h0.7M248.9 595.6h0.7M258.0 594.5h0.7M262.0 597.3h0.7M260.2 599.0h0.7M260.2 598.7h0.7M259.1 599.5h0.7M264.1 597.8h0.7M257.5 597.4h0.7M261.5 597.5h0.7M257.9 594.7h0.7M270.0 595.4h0.7M268.7 600.4h0.7M265.3 599.1h0.7M262.5 599.2h0.7M263.0 600.6h0.7M267.9 596.0h0.7M262.5 602.5h0.7M267.3 595.9h0.7M261.6 599.2h0.7M261.3 592.9h0.7M264.5 594.5h0.7M271.6 600.1h0.7M259.5 600.1h0.7M260.8 597.2h0.7M259.5 599.4h0.7M255.8 600.3h0.7M266.0 601.2h0.7M266.3 601.8h0.7M263.8 601.8h0.7M260.4 599.6h0.7M267.6 603.4h0.7M258.2 594.9h0.7M271.5 601.4h0.7M269.8 600.8h0.7M261.4 596.9h0.7M255.0 602.2h0.7M265.3 599.4h0.7M254.2 597.2h0.7M256.8 597.8h0.7M244.7 599.1h0.7M268.4 597.2h0.7M260.3 599.2h0.7M254.8 599.6h0.7M255.8 597.4h0.7M261.5 598.4h0.7M260.6 596.2h0.7M264.0 595.8h0.7M264.6 597.3h0.7M253.8 598.3h0.7M254.5 597.2h0.7M259.3 600.5h0.7M264.4 599.8h0.7M258.6 594.7h0.7M258.9 597.7h0.7M259.4 597.2h0.7M257.3 600.6h0.7M253.0 598.6h0.7M266.9 596.6h0.7M254.8 598.0h0.7M258.3 599.2h0.7M267.4 598.2h0.7M263.1 597.1h0.7M257.5 599.3h0.7M256.5 601.6h0.7M257.9 598.1h0.7M254.5 597.4h0.7M254.7 597.3h0.7M250.6 598.5h0.7M269.5 593.8h0.7M269.5 598.2h0.7M264.9 596.0h0.7M271.0 595.8h0.7M259.7 602.5h0.7M253.2 592.6h0.7M259.7 596.6h0.7M254.8 596.2h0.7M252.2 602.1h0.7M266.7 595.1h0.7M259.5 597.4h0.7M266.0 596.4h0.7M268.9 598.5h0.7M255.8 598.3h0.7M256.9 604.3h0.7M260.9 597.3h0.7M260.6 602.3h0.7M254.8 594.2h0.7M267.2 600.1h0.7M257.6 598.3h0.7M266.1 591.5h0.7M267.0 598.1h0.7M263.7 598.4h0.7M276.9 596.9h0.7M266.1 591.8h0.7M260.3 600.6h0.7M251.6 593.3h0.7M260.6 601.1h0.7M266.5 596.7h0.7M261.9 594.9h0.7M269.6 597.0h0.7M267.0 597.8h0.7M258.2 602.7h0.7M255.3 601.9h0.7M258.1 596.2h0.7M255.4 601.4h0.7M259.6 597.6h0.7M251.7 601.6h0.7M265.8 599.3h0.7M264.3 590.1h0.7M257.1 598.9h0.7M260.6 597.0h0.7M261.3 596.6h0.7M256.4 595.3h0.7M260.8 596.6h0.7M257.2 602.1h0.7M259.8 598.4h0.7M251.6 597.1h0.7M265.4 599.9h0.7M260.3 598.0h0.7M260.4 599.5h0.7M258.2 592.0h0.7M270.8 601.5h0.7M259.1 602.2h0.7M252.8 601.9h0.7M261.0 600.8h0.7M258.1 598.9h0.7M263.2 601.2h0.7M262.8 599.7h0.7M256.7 603.0h0.7M261.1 597.9h0.7M258.2 595.4h0.7M255.9 594.5h0.7M261.1 598.3h0.7M261.2 595.2h0.7M257.7 596.8h0.7M265.4 594.6h0.7M251.6 601.8h0.7M262.0 594.4h0.7M267.4 602.4h0.7M266.3 593.1h0.7M260.7 596.2h0.7M258.5 594.4h0.7M269.5 596.7h0.7M261.5 600.6h0.7M263.4 599.6h0.7M257.8 599.1h0.7M258.8 592.6h0.7M265.5 596.9h0.7M257.1 597.4h0.7M252.3 595.3h0.7M250.1 599.7h0.7M266.5 598.7h0.7M253.7 601.9h0.7M258.2 594.3h0.7M249.6 599.0h0.7M267.9 597.5h0.7M256.5 597.8h0.7M255.3 597.1h0.7M261.4 596.6h0.7M265.1 595.9h0.7M263.9 599.4h0.7M257.8 597.7h0.7M258.2 602.8h0.7M255.5 601.6h0.7M265.5 597.6h0.7M268.9 592.3h0.7M261.3 598.8h0.7M260.1 600.7h0.7M257.8 598.0h0.7M266.3 598.2h0.7M254.3 600.0h0.7M259.5 597.0h0.7M263.0 596.5h0.7M254.6 597.8h0.7M258.9 598.6h0.7M253.3 603.0h0.7M263.7 598.9h0.7M261.2 592.0h0.7M265.0 595.8h0.7M262.7 595.4h0.7M265.4 597.1h0.7M258.8 602.5h0.7M265.4 594.9h0.7M256.1 599.0h0.7M258.7 600.6h0.7M256.2 593.6h0.7M254.9 598.0h0.7M263.0 600.4h0.7M266.8 599.1h0.7M258.8 600.4h0.7M259.4 597.3h0.7M257.4 600.9h0.7M268.1 601.9h0.7M251.2 601.3h0.7M253.8 597.6h0.7M263.2 595.0h0.7M253.2 596.5h0.7M269.2 601.3h0.7M255.0 598.8h0.7M260.7 599.3h0.7M256.1 602.2h0.7M257.9 600.6h0.7M250.7 599.5h0.7M260.8 602.0h0.7M245.7 599.9h0.7M264.4 597.8h0.7M267.2 604.0h0.7M264.8 600.6h0.7M267.4 599.6h0.7M266.7 600.0h0.7M256.2 595.8h0.7M266.4 600.0h0.7M256.3 598.6h0.7M268.0 594.0h0.7M255.0 600.3h0.7M264.5 595.4h0.7M254.5 598.9h0.7M267.7 598.5h0.7M247.2 601.2h0.7M259.9 597.3h0.7M253.6 601.6h0.7M261.5 599.5h0.7M261.9 599.6h0.7M264.6 602.9h0.7M254.1 598.3h0.7M257.5 602.9h0.7M258.4 594.3h0.7M259.8 596.6h0.7M255.9 597.3h0.7M252.8 593.5h0.7M270.7 598.2h0.7M254.8 600.1h0.7M267.3 593.9h0.7M257.5 599.2h0.7M255.3 599.7h0.7M253.2 596.8h0.7M259.3 599.6h0.7M260.2 596.7h0.7M257.9 593.0h0.7M271.7 597.4h0.7M258.3 599.2h0.7M263.1 599.4h0.7M256.2 594.2h0.7M259.0 596.4h0.7M256.9 598.5h0.7M261.3 601.8h0.7M259.1 594.0h0.7M263.2 600.9h0.7M250.9 600.1h0.7M261.0 597.1h0.7M260.9 599.5h0.7M263.2 601.5h0.7M259.9 598.5h0.7M273.3 595.7h0.7M258.4 597.6h0.7M264.2 601.4h0.7M252.7 601.7h0.7M253.4 605.3h0.7M256.3 601.4h0.7M258.5 600.3h0.7M255.8 598.8h0.7M260.1 598.7h0.7M264.3 597.3h0.7M258.2 595.1h0.7M259.2 597.2h0.7M264.8 600.2h0.7M256.0 599.6h0.7M267.2 597.9h0.7M253.5 604.9h0.7M263.0 600.3h0.7M273.8 596.4h0.7M261.6 593.5h0.7M262.7 599.5h0.7M255.7 596.3h0.7M259.0 597.9h0.7M268.7 597.8h0.7M259.1 598.0h0.7M251.2 597.2h0.7M252.5 598.8h0.7M247.9 595.6h0.7M261.4 593.0h0.7M251.4 601.1h0.7M252.6 598.5h0.7M261.6 595.7h0.7M250.7 602.5h0.7M256.9 599.8h0.7M255.8 599.4h0.7M252.7 594.9h0.7M254.2 596.8h0.7M256.5 597.6h0.7M262.3 597.1h0.7M265.1 596.8h0.7M263.6 601.9h0.7M269.5 593.3h0.7M269.5 593.9h0.7M267.8 598.4h0.7M261.9 596.0h0.7M265.1 600.3h0.7M256.9 596.9h0.7M264.7 601.2h0.7M264.2 597.5h0.7M260.0 600.9h0.7M264.6 601.4h0.7M260.7 596.7h0.7M261.6 599.7h0.7M257.0 599.7h0.7M255.4 599.2h0.7M256.6 604.0h0.7M266.5 599.2h0.7M252.7 595.3h0.7M263.8 598.1h0.7M261.7 594.4h0.7M251.7 598.8h0.7M258.8 595.0h0.7M255.6 600.5h0.7M257.6 600.0h0.7M269.1 599.4h0.7M260.7 596.9h0.7M266.7 594.7h0.7M253.9 598.4h0.7M251.9 601.0h0.7M256.5 599.9h0.7M258.3 597.8h0.7M260.0 593.4h0.7M254.0 597.3h0.7M272.2 600.6h0.7M263.9 595.8h0.7M264.9 601.7h0.7M264.1 605.3h0.7M252.5 595.7h0.7M258.5 595.9h0.7M260.2 599.8h0.7M259.9 598.7h0.7M262.2 600.5h0.7M256.3 596.7h0.7M266.5 597.6h0.7M255.4 599.2h0.7M258.0 598.8h0.7M259.6 600.1h0.7M265.0 596.3h0.7M253.3 602.6h0.7M256.2 594.4h0.7M249.5 598.4h0.7M256.4 593.7h0.7M254.7 595.7h0.7M265.4 599.1h0.7M259.9 595.2h0.7M258.9 600.2h0.7M260.8 601.2h0.7M260.3 600.3h0.7M262.4 597.0h0.7M267.3 599.4h0.7M264.4 595.7h0.7M253.9 598.0h0.7M255.5 600.1h0.7M262.2 601.6h0.7M263.2 595.5h0.7M265.1 596.8h0.7M255.9 598.6h0.7M259.9 601.2h0.7M275.5 599.6h0.7M267.9 597.9h0.7M261.8 597.1h0.7M257.6 601.9h0.7M262.4 599.6h0.7M255.5 602.9h0.7M258.9 596.8h0.7M259.8 600.2h0.7M264.0 602.3h0.7M254.1 597.3h0.7M268.5 604.4h0.7M256.5 598.2h0.7M251.4 596.3h0.7M255.1 598.2h0.7M253.4 600.9h0.7M259.6 597.8h0.7M265.0 597.8h0.7M253.1 598.5h0.7M271.8 598.7h0.7M262.8 598.0h0.7M258.7 599.8h0.7M245.4 595.2h0.7M256.7 597.8h0.7M267.9 604.8h0.7M263.4 599.5h0.7M263.7 602.4h0.7M254.5 597.2h0.7M260.8 599.2h0.7M249.5 599.6h0.7M251.2 600.5h0.7M264.6 592.6h0.7M262.7 599.0h0.7M256.5 600.9h0.7M270.9 599.8h0.7M253.9 594.7h0.7M253.5 595.8h0.7M266.1 599.2h0.7M259.8 600.7h0.7M260.0 598.6h0.7M255.3 596.8h0.7M260.1 595.4h0.7M269.0 598.8h0.7M256.9 601.0h0.7M254.1 601.2h0.7M260.4 603.3h0.7M256.9 597.4h0.7M255.3 595.2h0.7M261.3 595.7h0.7M261.7 596.8h0.7M265.7 591.8h0.7M262.2 598.6h0.7M259.9 596.8h0.7M269.5 597.4h0.7M262.2 597.8h0.7M257.9 598.7h0.7M263.6 595.6h0.7M257.3 594.8h0.7M262.1 596.2h0.7M255.8 600.1h0.7M259.8 599.5h0.7M259.1 599.5h0.7M260.4 595.6h0.7M261.1 597.6h0.7M258.6 599.2h0.7M256.9 595.7h0.7M266.4 603.2h0.7M258.0 601.4h0.7M262.0 596.8h0.7M255.3 597.7h0.7M257.5 597.6h0.7M259.2 595.5h0.7M264.6 595.5h0.7M254.0 600.8h0.7M264.1 602.2h0.7M260.6 596.8h0.7M266.2 598.2h0.7M259.2 596.2h0.7M262.1 592.3h0.7M262.8 593.3h0.7M264.7 594.4h0.7M263.6 604.9h0.7M258.4 595.4h0.7M270.6 597.3h0.7M253.8 601.7h0.7M244.3 594.6h0.7M252.7 596.6h0.7M248.8 600.6h0.7M265.5 598.3h0.7M257.6 594.4h0.7M262.5 596.6h0.7M263.3 601.1h0.7M260.1 593.0h0.7M254.7 602.0h0.7M261.4 602.1h0.7M247.6 598.2h0.7M258.9 594.2h0.7M256.3 601.0h0.7M262.9 597.1h0.7M261.7 601.6h0.7M254.0 599.2h0.7M265.6 596.7h0.7M267.1 598.2h0.7M266.0 600.9h0.7M261.4 597.7h0.7M256.3 598.9h0.7M261.1 602.1h0.7M259.4 599.4h0.7M269.2 599.3h0.7M262.4 602.6h0.7M260.4 599.5h0.7M264.1 598.2h0.7M253.8 594.7h0.7M258.8 601.4h0.7M265.4 602.7h0.7M264.9 596.8h0.7M251.9 597.1h0.7M258.5 596.5h0.7M265.0 596.4h0.7M263.1 600.5h0.7M250.3 597.4h0.7M265.2 603.0h0.7M255.0 596.0h0.7M247.5 600.3h0.7M265.2 601.7h0.7M253.1 600.8h0.7M260.9 593.6h0.7M244.9 600.1h0.7M264.7 603.8h0.7M246.8 600.0h0.7M247.2 598.5h0.7M255.1 598.6h0.7M248.8 595.7h0.7M239.6 599.2h0.7M255.6 602.2h0.7M246.5 597.3h0.7M265.2 601.4h0.7M261.8 597.9h0.7M247.4 595.8h0.7M262.7 595.8h0.7M238.3 597.2h0.7M265.2 600.0h0.7M255.9 600.3h0.7M253.4 599.3h0.7M241.2 605.9h0.7M252.5 604.3h0.7M239.8 601.9h0.7M243.2 595.3h0.7M256.2 603.6h0.7M266.1 604.7h0.7M251.4 602.7h0.7M248.4 598.0h0.7M256.0 599.5h0.7M261.4 593.3h0.7M264.0 597.8h0.7M267.1 604.0h0.7M243.5 599.8h0.7M259.9 597.1h0.7M247.2 598.8h0.7M260.5 603.2h0.7M250.1 602.9h0.7M267.1 603.2h0.7M247.3 596.9h0.7M256.4 602.9h0.7M257.7 598.6h0.7M245.5 604.5h0.7M252.5 606.6h0.7M243.6 598.8h0.7M248.1 606.6h0.7M265.0 598.2h0.7M236.6 604.1h0.7M255.1 595.9h0.7M240.5 601.4h0.7M252.1 600.5h0.7M257.5 598.6h0.7M251.5 602.3h0.7M252.9 599.0h0.7M259.6 592.9h0.7M265.0 601.6h0.7M247.1 599.3h0.7M264.9 602.0h0.7M238.0 596.4h0.7M255.6 606.4h0.7M260.8 599.3h0.7M259.1 600.0h0.7M251.3 601.4h0.7M234.9 603.6h0.7M258.8 598.4h0.7M246.3 595.7h0.7M256.4 600.5h0.7M255.6 606.1h0.7M234.3 597.4h0.7M247.1 603.4h0.7M251.8 596.6h0.7M255.9 601.5h0.7M268.4 600.9h0.7M250.1 598.2h0.7M246.7 601.7h0.7M261.3 599.2h0.7M252.8 604.9h0.7M254.9 601.8h0.7M244.3 597.8h0.7M234.9 595.1h0.7M257.3 604.5h0.7M251.6 595.7h0.7M254.8 604.1h0.7M252.5 603.3h0.7M253.4 595.6h0.7M245.9 599.1h0.7M274.4 602.1h0.7M251.9 601.0h0.7M255.9 598.4h0.7M253.1 599.1h0.7M260.6 605.6h0.7M265.9 598.9h0.7M259.0 597.4h0.7M244.3 600.3h0.7M259.5 599.8h0.7M261.4 603.0h0.7M260.8 599.5h0.7M241.9 606.4h0.7M249.8 602.6h0.7M258.4 598.8h0.7M270.3 602.4h0.7M253.9 598.5h0.7M245.4 595.5h0.7M259.1 598.4h0.7M250.0 601.8h0.7M250.9 602.3h0.7M248.3 598.2h0.7M262.2 597.6h0.7M259.5 601.8h0.7M254.1 594.1h0.7M242.4 596.1h0.7M242.6 603.1h0.7M246.3 595.6h0.7M249.5 599.7h0.7M239.2 602.2h0.7M260.4 597.9h0.7M261.2 594.5h0.7M249.1 599.4h0.7M254.6 604.1h0.7M251.1 596.4h0.7M255.9 600.6h0.7M258.0 598.8h0.7M255.5 598.0h0.7M259.0 597.6h0.7M248.5 604.1h0.7M247.2 600.0h0.7M259.0 598.9h0.7M262.0 597.9h0.7M263.0 594.5h0.7M242.0 600.2h0.7M266.7 605.7h0.7M246.4 599.9h0.7M249.6 592.4h0.7M260.4 598.7h0.7M266.1 601.0h0.7M249.3 597.5h0.7M252.3 601.6h0.7M249.6 609.9h0.7M255.8 596.0h0.7M254.7 604.0h0.7M257.8 598.8h0.7M248.1 597.2h0.7M243.5 598.2h0.7M256.3 598.0h0.7M268.4 601.3h0.7M250.1 599.9h0.7M267.0 594.0h0.7M256.1 609.5h0.7M262.9 596.8h0.7M255.1 599.2h0.7M278.6 597.6h0.7M251.6 598.8h0.7M251.9 601.8h0.7M250.1 601.7h0.7M260.6 602.5h0.7M238.9 605.3h0.7M261.6 602.8h0.7M254.1 600.0h0.7M249.2 601.5h0.7M262.2 598.0h0.7M261.2 598.3h0.7M259.2 599.5h0.7M261.6 606.8h0.7M256.0 598.3h0.7M250.2 602.2h0.7M249.6 603.5h0.7M256.6 603.2h0.7M249.1 596.6h0.7M247.4 601.4h0.7M247.0 602.5h0.7M235.8 597.6h0.7M252.5 593.5h0.7M248.6 594.7h0.7M253.4 599.1h0.7M260.6 597.0h0.7M239.6 598.1h0.7M255.2 600.3h0.7M255.5 604.3h0.7M250.9 599.3h0.7M246.5 597.9h0.7M263.3 601.3h0.7M230.8 604.3h0.7M236.4 598.6h0.7M262.7 600.5h0.7M259.0 603.1h0.7M256.7 595.6h0.7M257.3 597.5h0.7M232.6 599.0h0.7M258.9 600.4h0.7M254.1 606.2h0.7M256.5 603.3h0.7M257.0 605.9h0.7M250.8 604.2h0.7M270.2 598.7h0.7M263.4 595.2h0.7M256.9 602.6h0.7M246.7 593.7h0.7M254.5 598.9h0.7M255.8 601.1h0.7M261.5 605.6h0.7M258.0 594.6h0.7M260.1 601.4h0.7M255.5 605.7h0.7M256.5 598.8h0.7M258.3 594.4h0.7M262.7 600.3h0.7M269.2 602.5h0.7M257.5 600.8h0.7M243.7 599.8h0.7M256.9 603.6h0.7M258.1 602.6h0.7M260.4 598.2h0.7M257.0 599.3h0.7M243.2 594.8h0.7M261.6 605.2h0.7M266.9 597.1h0.7M267.6 605.7h0.7M247.6 601.9h0.7M269.5 600.5h0.7M264.8 597.9h0.7M251.3 603.3h0.7M252.9 600.6h0.7M255.2 596.5h0.7M267.6 599.7h0.7M251.4 598.6h0.7M254.9 596.8h0.7M262.0 598.9h0.7M261.4 597.0h0.7M245.3 596.9h0.7M256.4 595.4h0.7M261.8 599.0h0.7M262.3 598.8h0.7M261.5 596.5h0.7M244.6 602.2h0.7M249.4 603.9h0.7M248.1 601.9h0.7M247.0 593.9h0.7M267.0 599.4h0.7M262.9 600.7h0.7M239.1 601.5h0.7M263.9 604.7h0.7M268.8 601.5h0.7M253.3 600.3h0.7M243.9 602.7h0.7M260.7 601.3h0.7M247.4 602.4h0.7M249.3 604.5h0.7M248.8 598.2h0.7M251.4 596.4h0.7M246.3 599.1h0.7M232.4 607.2h0.7M257.5 601.1h0.7M246.4 600.8h0.7M254.1 600.4h0.7M241.0 599.6h0.7M237.4 599.4h0.7M246.3 597.9h0.7M251.3 603.0h0.7M265.0 600.2h0.7M244.6 605.3h0.7M241.6 598.1h0.7M252.2 597.4h0.7M266.0 601.5h0.7M263.7 599.0h0.7M261.8 599.5h0.7M252.8 601.1h0.7M257.6 602.1h0.7M252.2 594.7h0.7M251.2 590.5h0.7M251.5 597.1h0.7M261.4 590.4h0.7M271.9 598.8h0.7M239.8 601.5h0.7M258.4 601.5h0.7M273.5 597.0h0.7M256.6 600.5h0.7M247.9 601.0h0.7M265.2 597.0h0.7M258.0 603.6h0.7M259.8 594.3h0.7M256.5 598.6h0.7M264.9 599.6h0.7M271.5 595.6h0.7M258.5 596.9h0.7M269.8 605.6h0.7M245.8 602.7h0.7M253.6 594.2h0.7M244.7 600.4h0.7M258.6 598.7h0.7M256.6 601.1h0.7M256.6 595.8h0.7M255.2 601.9h0.7M240.7 605.5h0.7M267.0 600.6h0.7M272.7 597.1h0.7M245.6 597.8h0.7M247.6 606.6h0.7M241.2 596.7h0.7M255.2 593.7h0.7M273.5 596.1h0.7M274.0 607.8h0.7M249.6 598.1h0.7M235.8 590.2h0.7M264.9 611.9h0.7M276.0 611.1h0.7M236.1 598.2h0.7M241.9 604.3h0.7M259.6 592.0h0.7M244.9 602.6h0.7M255.5 591.2h0.7M244.0 595.2h0.7M273.4 610.7h0.7M277.6 592.9h0.7M287.5 601.6h0.7M235.7 603.1h0.7M241.7 594.9h0.7M283.1 611.1h0.7M272.8 601.1h0.7M272.6 591.7h0.7M235.0 606.9h0.7M289.8 600.5h0.7M251.7 593.8h0.7M237.1 597.8h0.7M240.1 602.3h0.7M242.1 600.9h0.7M270.3 599.7h0.7M257.2 590.1h0.7M236.7 597.1h0.7M264.2 636.6h0.7M312.9 640.4h0.7M243.0 631.8h0.7M248.8 622.3h0.7M267.7 598.2h0.7M254.9 608.7h0.7M304.6 613.8h0.7M293.8 621.0h0.7M288.2 619.2h0.7M240.1 597.1h0.7M260.1 622.5h0.7M296.9 634.3h0.7M276.8 600.9h0.7M279.4 624.4h0.7M282.8 626.7h0.7M282.2 623.8h0.7M278.0 627.6h0.7M284.1 625.3h0.7M278.4 624.9h0.7M278.3 625.1h0.7M281.9 621.2h0.7M284.4 620.9h0.7M278.3 625.1h0.7M276.2 625.1h0.7M285.2 622.3h0.7M278.4 625.5h0.7M284.1 619.1h0.7M282.5 624.0h0.7M280.6 624.0h0.7M280.7 624.8h0.7M277.7 627.6h0.7M280.0 621.7h0.7M281.1 621.5h0.7M272.6 627.5h0.7M282.2 624.3h0.7M278.4 622.9h0.7M282.1 625.4h0.7M279.2 622.0h0.7M282.1 622.5h0.7M280.9 624.3h0.7M282.4 622.4h0.7M278.8 626.0h0.7M283.1 625.1h0.7M278.2 626.5h0.7M279.5 626.3h0.7M275.9 621.1h0.7M282.6 620.7h0.7M276.7 624.4h0.7M277.0 624.7h0.7M281.1 624.4h0.7M281.5 624.5h0.7M280.1 626.6h0.7M281.6 624.7h0.7M282.2 621.9h0.7M285.2 622.0h0.7M282.6 627.1h0.7M283.1 617.9h0.7M275.2 628.3h0.7M283.6 624.0h0.7M282.8 622.3h0.7M284.5 622.5h0.7M280.5 625.1h0.7M282.9 620.5h0.7M278.7 624.2h0.7M285.6 621.3h0.7M282.8 621.4h0.7M282.8 625.5h0.7M282.2 626.0h0.7M281.2 623.8h0.7M283.7 623.7h0.7M285.0 619.3h0.7M284.3 618.9h0.7M276.4 622.9h0.7M285.2 623.8h0.7M278.1 626.2h0.7M278.7 622.4h0.7M281.9 624.1h0.7M278.8 623.7h0.7M282.4 624.3h0.7M277.9 627.0h0.7M279.0 618.8h0.7M284.3 625.3h0.7M280.0 628.5h0.7M281.4 625.3h0.7M279.5 622.7h0.7M280.4 631.0h0.7M277.8 626.6h0.7M285.1 620.9h0.7M279.1 620.8h0.7M278.1 623.5h0.7M277.6 628.5h0.7M282.3 620.9h0.7M280.4 625.9h0.7M282.0 620.4h0.7M285.3 622.3h0.7M279.9 622.3h0.7M283.6 623.4h0.7M284.7 618.9h0.7M284.6 619.6h0.7M282.4 622.4h0.7M283.5 625.5h0.7M280.8 626.5h0.7M280.7 624.4h0.7M279.9 625.8h0.7M276.3 628.2h0.7M284.8 622.5h0.7M276.1 626.2h0.7M282.8 627.3h0.7M280.3 624.8h0.7M281.2 624.8h0.7M279.6 626.3h0.7M283.9 624.1h0.7M280.5 627.1h0.7M286.9 620.3h0.7M279.8 619.0h0.7M287.1 623.2h0.7M284.9 621.6h0.7M287.3 625.8h0.7M279.2 625.0h0.7M284.3 621.5h0.7M276.6 629.2h0.7M281.0 621.7h0.7M282.6 623.2h0.7M277.8 628.8h0.7M288.8 621.0h0.7M276.9 624.7h0.7M281.9 624.0h0.7M277.2 626.0h0.7M284.9 620.9h0.7M283.8 621.3h0.7M283.1 620.7h0.7M278.9 623.8h0.7M276.3 627.8h0.7M277.5 626.4h0.7M281.9 623.7h0.7M281.8 622.3h0.7M282.8 625.5h0.7M281.0 624.2h0.7M274.0 628.2h0.7M282.8 620.0h0.7M280.1 627.7h0.7M279.7 628.1h0.7M280.3 623.2h0.7M278.2 630.5h0.7M275.4 626.5h0.7M281.6 620.3h0.7M282.5 622.6h0.7M279.3 623.1h0.7M280.1 625.8h0.7M279.8 627.0h0.7M282.6 624.0h0.7M282.6 624.0h0.7M283.3 624.0h0.7M282.7 623.4h0.7M276.8 623.7h0.7M282.7 625.0h0.7M277.0 623.9h0.7M280.5 625.6h0.7M282.9 621.3h0.7M278.4 626.6h0.7M282.9 622.1h0.7M283.1 620.7h0.7M285.6 623.9h0.7M277.8 625.0h0.7M287.0 626.4h0.7M282.5 622.6h0.7M284.3 620.5h0.7M276.2 626.4h0.7M282.3 618.3h0.7M279.0 628.3h0.7M283.3 625.1h0.7M277.8 625.4h0.7M278.8 623.0h0.7M280.5 624.2h0.7M283.3 621.6h0.7M281.0 625.4h0.7M285.4 622.6h0.7M281.5 622.7h0.7M278.4 623.2h0.7M281.5 623.6h0.7M285.6 620.2h0.7M284.9 623.8h0.7M276.0 627.4h0.7M280.9 624.5h0.7M279.8 627.7h0.7M284.2 622.3h0.7M281.5 620.7h0.7M283.2 620.3h0.7M277.0 628.5h0.7M281.4 621.9h0.7M275.8 626.3h0.7M277.6 620.8h0.7M285.1 622.7h0.7M282.3 625.7h0.7M279.4 622.7h0.7M283.6 623.1h0.7M277.2 624.2h0.7M280.5 627.7h0.7M284.4 628.3h0.7M280.6 626.2h0.7M281.8 622.8h0.7M282.2 620.7h0.7M279.6 622.4h0.7M276.2 629.2h0.7M276.8 624.8h0.7M282.5 622.2h0.7M284.6 625.2h0.7M282.4 624.0h0.7M279.6 627.8h0.7M282.0 620.4h0.7M283.3 622.7h0.7M280.9 624.4h0.7M286.3 617.1h0.7M280.7 624.8h0.7M278.4 621.8h0.7M284.1 623.5h0.7M284.7 618.9h0.7M279.2 627.7h0.7M278.9 626.3h0.7M280.6 625.0h0.7M281.2 625.8h0.7M282.3 629.2h0.7M282.4 621.1h0.7M278.8 625.9h0.7M279.1 623.8h0.7M286.0 621.8h0.7M279.5 627.2h0.7M282.4 624.8h0.7M282.6 628.3h0.7M284.2 626.3h0.7M282.0 626.8h0.7M283.3 626.3h0.7M279.5 622.8h0.7M277.9 625.5h0.7M283.3 622.9h0.7M283.1 625.0h0.7M283.9 618.5h0.7M286.9 624.5h0.7M279.1 624.5h0.7M282.6 623.1h0.7M280.0 625.0h0.7M286.5 621.2h0.7M277.1 623.5h0.7M279.0 626.7h0.7M278.4 624.6h0.7M282.7 621.7h0.7M280.7 625.0h0.7M285.3 620.7h0.7M283.1 622.3h0.7M283.5 618.4h0.7M278.0 625.8h0.7M288.3 621.0h0.7M278.1 625.8h0.7M282.8 622.6h0.7M282.9 621.0h0.7M278.2 628.6h0.7M282.3 618.7h0.7M276.3 627.7h0.7M277.5 628.9h0.7M279.6 627.6h0.7M280.7 624.8h0.7M282.7 621.9h0.7M280.2 627.5h0.7M279.8 629.2h0.7M279.2 624.6h0.7M282.9 623.4h0.7M280.6 620.6h0.7M279.7 626.4h0.7M282.2 622.8h0.7M284.3 620.5h0.7M285.1 623.0h0.7M282.0 622.7h0.7M283.8 622.6h0.7M281.7 621.1h0.7M284.7 624.8h0.7M280.9 624.7h0.7M282.0 625.6h0.7M278.6 630.9h0.7M282.3 622.3h0.7M283.6 624.6h0.7M283.2 623.8h0.7M284.5 621.1h0.7M285.2 624.0h0.7M282.0 621.6h0.7M286.0 624.7h0.7M281.3 625.2h0.7M283.7 623.9h0.7M280.4 624.7h0.7M287.1 620.0h0.7M281.0 626.3h0.7M283.7 625.7h0.7M277.7 627.8h0.7M282.1 619.7h0.7M280.3 626.2h0.7M281.1 623.3h0.7M280.3 621.2h0.7M281.8 628.1h0.7M280.5 625.9h0.7M282.5 625.1h0.7M282.8 623.5h0.7M284.7 621.4h0.7M276.5 627.0h0.7M286.3 621.8h0.7M278.8 622.2h0.7M282.5 628.2h0.7M285.9 622.6h0.7M275.8 625.8h0.7M278.3 623.4h0.7M280.3 622.1h0.7M282.3 622.4h0.7M281.0 626.0h0.7M282.7 622.9h0.7M280.5 624.6h0.7M274.3 625.8h0.7M280.0 625.6h0.7M286.2 620.1h0.7M278.5 625.5h0.7M278.4 626.7h0.7M281.2 623.9h0.7M283.5 624.5h0.7M281.5 620.6h0.7M282.1 620.4h0.7M282.5 623.0h0.7M285.3 619.7h0.7M280.9 623.6h0.7M283.9 622.2h0.7M281.9 625.5h0.7M288.6 620.9h0.7M284.3 619.5h0.7M281.5 624.2h0.7M279.7 630.1h0.7M278.6 627.7h0.7M278.7 626.9h0.7M284.1 622.5h0.7M278.6 625.0h0.7M283.6 621.5h0.7M283.0 624.7h0.7M275.9 630.1h0.7M286.8 623.1h0.7M282.1 621.2h0.7M286.3 624.0h0.7M279.0 624.3h0.7M280.6 623.6h0.7M273.6 625.5h0.7M277.6 626.0h0.7M281.8 622.0h0.7M283.7 625.2h0.7M289.7 617.9h0.7M280.5 627.4h0.7M281.9 624.2h0.7M284.8 622.5h0.7M276.9 625.4h0.7M283.0 624.1h0.7M287.3 619.6h0.7M280.0 624.0h0.7M278.1 623.7h0.7M277.7 626.1h0.7M280.7 622.5h0.7M281.1 623.4h0.7M280.4 623.7h0.7M282.2 623.1h0.7M275.6 630.4h0.7M280.9 622.7h0.7M280.9 622.5h0.7M280.6 622.3h0.7M283.5 622.6h0.7M277.1 626.3h0.7M283.6 622.7h0.7M280.3 622.0h0.7M280.1 625.6h0.7M282.1 623.1h0.7M279.2 625.4h0.7M278.8 623.4h0.7M277.8 625.3h0.7M278.5 627.9h0.7M284.4 623.1h0.7M278.6 624.6h0.7M281.4 622.6h0.7M280.3 624.1h0.7M279.3 629.2h0.7M276.0 625.1h0.7M281.9 620.5h0.7M284.4 621.7h0.7M281.8 622.5h0.7M276.5 625.6h0.7M281.5 623.4h0.7M277.1 625.1h0.7M279.3 625.8h0.7M283.6 624.0h0.7M282.4 626.5h0.7M285.0 624.0h0.7M280.1 626.6h0.7M281.6 618.9h0.7M284.1 622.2h0.7M283.8 621.9h0.7M283.5 620.6h0.7M281.1 626.0h0.7M281.3 620.4h0.7M285.7 622.5h0.7M282.9 620.4h0.7M285.0 621.5h0.7M283.5 621.6h0.7M279.5 623.9h0.7M281.1 626.4h0.7M278.8 624.8h0.7M281.8 622.7h0.7M275.8 627.7h0.7M282.7 626.7h0.7M281.7 620.9h0.7M278.2 625.8h0.7M280.9 622.3h0.7M280.6 621.0h0.7M283.7 624.6h0.7M275.2 630.0h0.7M282.6 623.8h0.7M281.5 623.5h0.7M282.2 623.3h0.7M283.7 625.6h0.7M285.0 622.6h0.7M279.3 624.6h0.7M282.5 620.0h0.7M282.0 619.7h0.7M288.0 620.5h0.7M279.5 624.5h0.7M276.6 628.5h0.7M285.0 621.8h0.7M283.5 627.1h0.7M283.2 623.0h0.7M281.5 625.2h0.7M288.1 618.3h0.7M277.8 628.0h0.7M287.4 620.9h0.7M280.7 625.5h0.7M278.8 628.1h0.7M278.7 625.1h0.7M279.2 624.2h0.7M287.3 621.8h0.7M280.9 624.6h0.7M284.9 619.5h0.7M279.3 623.7h0.7M285.2 620.4h0.7M280.9 623.2h0.7M280.5 627.2h0.7M278.9 624.9h0.7M276.1 626.3h0.7M279.6 624.4h0.7M277.1 626.5h0.7M277.7 620.7h0.7M282.4 622.1h0.7M277.9 626.6h0.7M282.4 622.8h0.7M281.5 623.7h0.7M281.1 620.5h0.7M280.5 625.7h0.7M280.0 622.4h0.7M279.8 623.6h0.7M279.2 621.6h0.7M275.7 625.7h0.7M284.2 627.3h0.7M285.2 623.1h0.7M283.4 625.9h0.7M282.2 623.1h0.7M282.3 619.7h0.7M274.7 627.4h0.7M285.8 621.7h0.7M281.5 623.1h0.7M281.4 624.7h0.7M280.3 626.8h0.7M280.8 627.8h0.7M279.3 623.4h0.7M279.4 623.3h0.7M278.7 621.8h0.7M280.3 625.1h0.7M281.7 622.4h0.7M281.9 618.8h0.7M280.2 623.7h0.7M280.9 623.5h0.7M284.5 620.6h0.7M282.4 629.2h0.7M281.2 623.5h0.7M282.6 621.0h0.7M281.9 625.5h0.7M277.9 626.0h0.7M285.8 624.0h0.7M281.0 623.9h0.7M281.9 619.4h0.7M278.6 624.4h0.7M272.7 624.8h0.7M281.5 626.0h0.7M284.5 623.9h0.7M274.7 630.0h0.7M283.3 619.6h0.7M278.7 627.3h0.7M282.2 624.6h0.7M282.9 625.5h0.7M283.3 622.5h0.7M281.3 625.6h0.7M281.0 626.6h0.7M285.2 622.4h0.7M278.9 627.4h0.7M283.3 624.1h0.7M276.9 626.7h0.7M283.0 625.8h0.7M281.1 626.4h0.7M284.2 626.0h0.7M280.0 620.9h0.7M281.0 624.8h0.7M285.2 621.7h0.7M279.0 622.8h0.7M281.3 623.6h0.7M285.7 621.9h0.7M275.0 624.1h0.7M280.7 625.1h0.7M278.4 625.4h0.7M285.1 622.0h0.7M277.7 628.3h0.7M281.5 623.2h0.7M283.4 623.3h0.7M287.5 618.3h0.7M279.0 624.9h0.7M285.6 624.7h0.7M283.5 623.1h0.7M281.4 622.6h0.7M279.9 622.0h0.7M283.7 622.7h0.7M280.7 622.3h0.7M280.0 623.7h0.7M281.7 622.7h0.7M283.4 624.2h0.7M283.0 619.5h0.7M279.1 623.2h0.7M283.2 619.7h0.7M283.9 620.0h0.7M283.1 620.7h0.7M281.0 624.5h0.7M281.4 623.4h0.7M284.5 623.8h0.7M282.8 621.1h0.7M277.2 628.3h0.7M275.6 631.4h0.7M281.2 620.7h0.7M281.9 621.6h0.7M283.4 619.8h0.7M278.6 624.9h0.7M280.6 621.9h0.7M286.2 618.0h0.7M285.1 619.3h0.7M279.7 623.6h0.7M280.2 626.2h0.7M284.4 621.1h0.7M279.6 626.2h0.7M276.0 622.1h0.7M279.4 621.2h0.7M280.0 625.4h0.7M280.1 624.4h0.7M286.3 621.4h0.7M285.2 620.5h0.7M284.2 625.6h0.7M280.4 625.7h0.7M282.1 623.9h0.7M283.0 622.6h0.7M282.2 620.8h0.7M281.2 621.3h0.7M285.2 622.6h0.7M280.2 623.6h0.7M282.0 624.6h0.7M276.5 626.0h0.7M283.3 621.3h0.7M275.4 623.9h0.7M278.0 622.6h0.7M281.5 623.4h0.7M284.0 617.9h0.7M281.2 620.8h0.7M278.6 626.0h0.7M281.7 628.2h0.7M280.2 623.0h0.7M285.7 617.4h0.7M280.1 624.4h0.7M280.3 626.4h0.7M282.4 619.4h0.7M279.6 624.5h0.7M276.3 625.4h0.7M279.2 623.5h0.7M283.0 624.2h0.7M282.0 623.8h0.7M278.3 625.2h0.7M282.9 623.7h0.7M281.7 624.8h0.7M279.1 622.9h0.7M281.4 622.6h0.7M278.3 628.9h0.7M283.0 623.9h0.7M282.0 626.9h0.7M283.6 624.0h0.7M279.3 625.0h0.7M284.1 620.8h0.7M283.2 625.7h0.7M284.2 621.5h0.7M283.7 617.5h0.7M280.3 623.3h0.7M286.7 622.5h0.7M280.3 625.2h0.7M284.1 622.4h0.7M283.1 624.5h0.7M285.9 619.5h0.7M278.6 626.3h0.7M280.7 623.4h0.7M283.8 623.2h0.7M284.0 622.4h0.7M280.5 621.9h0.7M279.4 623.5h0.7M281.8 622.9h0.7M281.8 624.6h0.7M282.0 625.9h0.7M282.5 620.2h0.7M283.8 620.4h0.7M279.2 625.1h0.7M278.8 627.2h0.7M282.1 619.1h0.7M283.0 623.6h0.7M283.6 623.2h0.7M281.7 622.2h0.7M283.7 622.2h0.7M283.5 622.4h0.7M280.6 624.4h0.7M284.0 623.8h0.7M275.3 626.6h0.7M276.8 626.9h0.7M280.0 625.6h0.7M282.3 626.2h0.7M278.9 624.3h0.7M279.0 625.3h0.7M281.0 622.9h0.7M277.4 624.2h0.7M281.0 622.7h0.7M278.6 625.7h0.7M284.6 625.7h0.7M283.8 619.0h0.7M277.7 622.4h0.7M274.4 626.0h0.7M283.1 621.6h0.7M277.0 626.3h0.7M279.2 624.2h0.7M282.1 618.0h0.7M280.5 625.2h0.7M279.5 620.0h0.7M280.0 621.8h0.7M277.9 623.1h0.7M287.0 626.1h0.7M283.1 621.2h0.7M278.3 629.0h0.7M282.6 619.7h0.7M281.1 619.4h0.7M278.5 627.0h0.7M279.0 628.0h0.7M284.6 620.7h0.7M284.4 624.8h0.7M284.1 624.3h0.7M283.2 619.2h0.7M287.8 620.3h0.7M282.7 624.5h0.7M282.3 623.4h0.7M278.5 625.6h0.7M282.0 626.0h0.7M283.0 623.2h0.7M282.7 625.7h0.7M274.6 628.3h0.7M283.0 621.1h0.7M284.9 624.4h0.7M281.3 620.1h0.7M279.4 622.9h0.7M283.8 624.1h0.7M281.5 625.0h0.7M283.4 626.7h0.7M282.0 623.8h0.7M284.0 623.9h0.7M282.9 622.2h0.7M282.2 624.3h0.7M282.3 622.0h0.7M279.8 624.8h0.7M281.9 622.2h0.7M278.5 625.8h0.7M281.0 625.7h0.7M279.7 624.5h0.7M286.2 620.1h0.7M280.8 627.4h0.7M279.5 623.6h0.7M281.1 620.5h0.7M282.0 624.7h0.7M282.4 621.4h0.7M280.2 624.8h0.7M281.9 618.7h0.7M283.7 622.3h0.7M283.1 619.2h0.7M282.9 620.1h0.7M281.6 622.6h0.7M275.7 629.3h0.7M283.4 624.0h0.7M278.5 623.7h0.7M282.6 621.7h0.7M285.6 623.2h0.7M280.7 624.1h0.7M277.2 622.9h0.7M282.3 624.7h0.7M283.8 621.3h0.7M285.0 618.9h0.7M280.7 623.2h0.7M280.1 624.4h0.7M279.3 624.8h0.7M282.2 623.3h0.7M279.7 626.8h0.7M280.2 626.2h0.7M279.2 621.2h0.7M280.3 627.4h0.7M279.1 624.4h0.7M280.6 624.9h0.7M282.4 622.1h0.7M284.6 619.2h0.7M280.2 624.6h0.7M283.7 625.3h0.7M286.4 618.0h0.7M281.9 625.0h0.7M282.3 625.2h0.7M280.1 627.3h0.7M277.1 629.5h0.7M286.2 625.4h0.7M280.3 626.8h0.7M281.7 621.1h0.7M281.0 622.1h0.7M276.8 624.5h0.7M279.6 622.9h0.7M277.0 628.9h0.7M278.4 628.6h0.7M280.9 622.2h0.7M276.6 626.3h0.7M277.8 626.4h0.7M283.8 627.8h0.7M275.8 627.9h0.7M284.0 623.8h0.7M283.2 619.4h0.7M279.5 618.2h0.7M282.0 625.4h0.7M281.2 620.3h0.7M276.7 622.9h0.7M277.9 623.7h0.7M281.0 622.2h0.7M282.6 622.3h0.7M282.9 626.9h0.7M282.4 619.4h0.7M285.6 621.6h0.7M285.1 621.3h0.7M276.7 627.5h0.7M273.9 627.7h0.7M281.4 627.1h0.7M281.8 624.0h0.7M281.9 620.9h0.7M284.3 621.5h0.7M278.4 625.3h0.7M281.6 625.2h0.7M284.3 620.1h0.7M283.2 626.7h0.7M291.2 618.7h0.7M281.4 622.9h0.7M283.4 622.6h0.7M281.3 627.4h0.7M286.2 616.7h0.7M278.9 625.0h0.7M279.5 627.8h0.7M278.9 628.1h0.7M283.3 623.9h0.7M278.1 627.5h0.7M283.2 624.3h0.7M281.5 622.2h0.7M285.9 622.9h0.7M283.6 619.6h0.7M281.4 621.4h0.7M282.0 625.2h0.7M281.7 630.9h0.7M283.3 619.9h0.7M279.9 625.0h0.7M279.5 622.5h0.7M279.0 622.1h0.7M282.3 627.6h0.7M280.7 623.4h0.7M285.5 620.5h0.7M282.1 621.6h0.7M283.5 620.8h0.7M284.3 622.6h0.7M286.8 621.0h0.7M279.9 622.4h0.7M279.8 623.6h0.7M284.4 619.6h0.7M276.5 629.8h0.7M282.1 620.7h0.7M281.3 620.3h0.7M281.8 623.0h0.7M282.7 623.6h0.7M280.9 626.5h0.7M280.3 625.2h0.7M283.5 619.2h0.7M283.7 625.8h0.7M283.5 619.9h0.7M280.6 626.0h0.7M279.9 625.5h0.7M279.0 627.9h0.7M277.7 627.8h0.7M282.2 621.2h0.7M275.9 625.9h0.7M279.2 630.8h0.7M275.1 626.7h0.7M282.2 623.1h0.7M285.6 623.1h0.7M282.4 622.6h0.7M279.8 624.9h0.7M284.5 622.4h0.7M280.6 620.1h0.7M278.6 624.7h0.7M278.7 623.7h0.7M284.4 623.6h0.7M285.0 618.7h0.7M281.3 624.2h0.7M280.2 622.7h0.7M280.6 619.2h0.7M277.7 622.4h0.7M281.0 620.4h0.7M278.6 626.6h0.7M279.2 626.6h0.7M283.1 627.4h0.7M277.4 625.6h0.7M282.9 622.6h0.7M282.1 622.3h0.7M284.1 622.0h0.7M282.7 618.8h0.7M281.7 622.9h0.7M281.1 621.6h0.7M281.5 620.1h0.7M284.3 622.4h0.7M277.6 628.7h0.7M277.5 629.2h0.7M277.4 627.6h0.7M278.6 622.3h0.7M277.6 628.9h0.7M281.7 626.4h0.7M285.0 627.6h0.7M284.2 625.8h0.7M282.4 623.1h0.7M281.7 621.5h0.7M282.1 627.6h0.7M279.4 622.7h0.7M281.5 621.4h0.7M283.2 625.1h0.7M287.0 623.1h0.7M285.2 621.8h0.7M283.2 622.9h0.7M284.5 626.9h0.7M283.6 626.2h0.7M282.9 625.7h0.7M274.9 630.8h0.7M282.1 627.4h0.7M284.3 619.3h0.7M282.6 625.2h0.7M282.4 623.2h0.7M282.2 619.6h0.7M286.1 620.5h0.7M273.5 629.5h0.7M284.5 627.0h0.7M279.6 621.7h0.7M285.5 621.0h0.7M283.1 625.1h0.7M280.6 624.5h0.7M284.8 621.9h0.7M283.6 620.9h0.7M283.9 617.7h0.7M279.2 627.7h0.7M281.3 624.7h0.7M281.7 623.4h0.7M279.7 626.7h0.7M283.9 619.4h0.7M288.5 621.2h0.7M280.9 626.8h0.7M279.1 626.1h0.7M278.5 625.6h0.7M277.2 627.9h0.7M278.1 625.0h0.7M277.2 628.5h0.7M286.0 618.6h0.7M280.0 622.5h0.7M279.6 623.6h0.7M276.9 626.2h0.7M281.0 625.3h0.7M281.4 624.9h0.7M286.2 621.8h0.7M278.4 622.3h0.7M281.5 624.2h0.7M284.4 621.5h0.7M288.1 616.5h0.7M282.2 620.9h0.7M279.0 625.7h0.7M283.2 624.1h0.7M275.7 632.8h0.7M287.2 621.9h0.7M283.6 621.5h0.7M284.8 624.1h0.7M280.3 626.9h0.7M282.8 622.3h0.7M285.1 618.5h0.7M279.3 626.0h0.7M282.0 627.0h0.7M276.0 625.9h0.7M283.5 624.0h0.7M280.6 628.3h0.7M278.5 629.7h0.7M278.9 625.2h0.7M282.4 633.7h0.7M278.1 635.5h0.7M282.6 634.3h0.7M277.8 635.3h0.7M276.6 631.4h0.7M278.4 637.3h0.7M278.4 636.5h0.7M281.8 641.1h0.7M276.1 634.3h0.7M277.3 637.3h0.7M279.6 634.2h0.7M277.8 630.0h0.7M276.5 638.8h0.7M278.8 634.4h0.7M280.0 637.7h0.7M282.4 633.1h0.7M279.6 626.8h0.7M278.1 631.1h0.7M278.4 639.5h0.7M279.3 634.5h0.7M279.2 633.2h0.7M278.5 631.4h0.7M278.0 632.4h0.7M278.1 625.9h0.7M279.2 634.0h0.7M279.4 629.2h0.7M277.8 637.9h0.7M278.0 636.5h0.7M277.4 629.0h0.7M276.3 631.7h0.7M277.8 628.8h0.7M281.6 634.1h0.7M278.1 641.0h0.7M280.3 630.7h0.7M277.2 633.5h0.7M279.9 627.9h0.7M281.0 632.3h0.7M280.5 633.5h0.7M280.2 637.0h0.7M281.1 630.9h0.7M282.0 628.3h0.7M279.9 637.2h0.7M279.5 638.2h0.7M276.2 634.3h0.7M280.9 634.1h0.7M277.2 635.1h0.7M279.1 629.8h0.7M281.3 631.7h0.7M277.4 634.9h0.7M277.9 633.5h0.7M279.4 632.4h0.7M280.3 635.5h0.7M280.9 629.7h0.7M279.4 635.4h0.7M278.8 624.9h0.7M277.4 635.9h0.7M280.2 634.3h0.7M279.9 639.7h0.7M278.2 631.0h0.7M282.0 636.8h0.7" stroke="#000" stroke-width="0.7" opacity="0.9"/>
<path d="M402.1 600.4h0.7M410.5 601.6h0.7M406.9 601.5h0.7M414.0 606.4h0.7M411.2 601.5h0.7M417.6 605.7h0.7M424.0 601.8h0.7M385.0 596.1h0.7M387.1 596.8h0.7M385.4 593.7h0.7M410.2 605.2h0.7M391.3 599.2h0.7M407.0 602.6h0.7M397.0 603.4h0.7M403.8 601.5h0.7M404.6 604.3h0.7M411.9 596.4h0.7M385.1 600.6h0.7M407.5 601.8h0.7M398.2 598.4h0.7M410.1 603.9h0.7M402.8 600.4h0.7M384.9 596.1h0.7M404.9 596.3h0.7M409.9 605.5h0.7M424.7 597.7h0.7M406.3 601.1h0.7M397.2 603.1h0.7M385.2 599.2h0.7M391.6 597.3h0.7M428.5 603.6h0.7M409.6 600.0h0.7M426.8 604.5h0.7M389.1 598.1h0.7M391.5 595.7h0.7M425.3 600.4h0.7M386.1 600.4h0.7M406.4 598.0h0.7M414.8 599.6h0.7M408.9 606.6h0.7M415.1 600.3h0.7M386.3 594.8h0.7M409.8 599.2h0.7M409.1 603.0h0.7M420.6 601.3h0.7M406.7 600.6h0.7M399.2 594.5h0.7M405.4 599.3h0.7M391.9 598.8h0.7M420.6 603.1h0.7M409.3 604.6h0.7M396.5 600.5h0.7M416.6 595.8h0.7M398.7 596.0h0.7M407.9 599.0h0.7M430.5 603.8h0.7M427.8 604.2h0.7M405.0 602.1h0.7M396.3 595.5h0.7M418.9 597.6h0.7M429.6 606.1h0.7M424.5 601.2h0.7M412.0 596.2h0.7M419.5 600.6h0.7M430.9 603.5h0.7M397.9 596.7h0.7M388.4 595.4h0.7M419.3 605.1h0.7M427.3 601.4h0.7M411.2 602.2h0.7M398.3 600.1h0.7M402.2 599.3h0.7M384.3 602.9h0.7M419.1 599.6h0.7M430.1 610.3h0.7M390.7 596.2h0.7M411.5 600.9h0.7M404.4 601.2h0.7M413.8 604.5h0.7M429.6 605.9h0.7M422.7 602.4h0.7M413.5 601.1h0.7M385.7 600.4h0.7M399.8 603.3h0.7M399.4 598.5h0.7M418.0 605.4h0.7M390.5 599.7h0.7M395.2 599.7h0.7M389.4 595.7h0.7M416.4 599.4h0.7M384.1 598.5h0.7M401.7 593.7h0.7M400.4 598.8h0.7M426.0 604.7h0.7M386.6 594.0h0.7M418.6 606.4h0.7M405.1 604.4h0.7M399.2 597.3h0.7M385.5 597.4h0.7M402.4 599.9h0.7M429.5 603.0h0.7M419.1 601.6h0.7M391.4 599.7h0.7M390.0 602.2h0.7M409.4 601.5h0.7M414.2 602.3h0.7M427.6 604.3h0.7M428.5 602.6h0.7M424.8 605.0h0.7M390.0 597.2h0.7M404.9 598.4h0.7M394.3 600.5h0.7M412.9 597.5h0.7M395.9 598.1h0.7M404.3 599.6h0.7M426.0 603.5h0.7M396.4 595.8h0.7M425.2 601.5h0.7M412.7 601.5h0.7M396.4 600.7h0.7M416.0 602.0h0.7M414.8 601.6h0.7M402.4 598.3h0.7M423.6 603.5h0.7M419.7 596.4h0.7M412.0 603.2h0.7M415.8 604.5h0.7M422.6 603.2h0.7M411.0 599.3h0.7M418.3 605.7h0.7M407.0 599.4h0.7M405.0 603.7h0.7M401.2 599.4h0.7M401.5 598.4h0.7M422.9 602.8h0.7M401.0 598.5h0.7M410.5 601.1h0.7M401.8 601.3h0.7M411.9 601.1h0.7M389.9 597.3h0.7M385.4 597.7h0.7M400.9 600.9h0.7M396.4 599.4h0.7M424.3 604.8h0.7M420.6 604.3h0.7M424.4 604.2h0.7M406.8 602.6h0.7M414.7 602.1h0.7M419.7 605.5h0.7M399.1 600.7h0.7M388.9 600.2h0.7M429.5 603.9h0.7M427.8 600.8h0.7M387.2 597.0h0.7M392.2 598.8h0.7M423.2 604.2h0.7M415.0 602.1h0.7M421.2 606.4h0.7M406.8 598.0h0.7M394.5 595.1h0.7M392.4 598.4h0.7M426.7 602.4h0.7M409.5 601.4h0.7M408.8 602.7h0.7M412.7 608.0h0.7M416.1 599.3h0.7M396.9 597.0h0.7M387.8 597.9h0.7M427.3 600.7h0.7M392.4 597.0h0.7M418.8 605.6h0.7M404.8 600.5h0.7M399.4 599.8h0.7M427.4 606.5h0.7M418.1 598.7h0.7M420.5 603.3h0.7M397.7 599.5h0.7M417.7 603.2h0.7M401.1 597.8h0.7M419.5 601.9h0.7M424.9 603.4h0.7M388.1 599.8h0.7M421.9 601.6h0.7M400.5 601.4h0.7M385.8 593.0h0.7M416.8 603.4h0.7M422.2 605.0h0.7M395.2 597.1h0.7M415.9 601.6h0.7M414.5 602.1h0.7M410.2 602.1h0.7M425.9 606.5h0.7M418.7 603.1h0.7M409.7 600.8h0.7M429.8 603.9h0.7M385.3 598.3h0.7M414.3 603.8h0.7M415.7 602.8h0.7M415.8 601.0h0.7M420.8 602.3h0.7M407.4 599.2h0.7M390.6 596.5h0.7M414.0 600.9h0.7M387.8 596.8h0.7M423.9 605.2h0.7M417.6 599.9h0.7M389.3 598.5h0.7M417.3 599.9h0.7M394.1 600.8h0.7M421.2 603.8h0.7M386.0 600.6h0.7M385.0 598.9h0.7M402.0 597.9h0.7M404.0 600.6h0.7M403.0 598.9h0.7M384.3 596.4h0.7M384.0 595.2h0.7M405.9 600.1h0.7M416.1 602.5h0.7M429.2 604.7h0.7M421.2 608.6h0.7M399.4 599.4h0.7M406.0 601.0h0.7M418.6 602.5h0.7M399.9 599.3h0.7M412.3 601.1h0.7M402.8 600.4h0.7M418.4 602.2h0.7M401.2 601.7h0.7M389.2 599.2h0.7M405.2 598.7h0.7M405.0 600.7h0.7M410.4 602.1h0.7M398.0 599.0h0.7M399.4 599.3h0.7M421.1 602.9h0.7M420.1 604.3h0.7M385.8 598.2h0.7M407.3 599.8h0.7M420.3 602.8h0.7M386.8 600.7h0.7M405.5 598.6h0.7M392.9 600.3h0.7M409.5 600.8h0.7M402.9 608.6h0.7M413.8 603.4h0.7M413.7 602.1h0.7M386.9 597.7h0.7M401.6 596.8h0.7M386.7 596.8h0.7M428.9 608.7h0.7M386.2 598.6h0.7M393.1 598.2h0.7M389.7 598.3h0.7M390.1 598.5h0.7M409.9 599.3h0.7M395.5 599.5h0.7M417.9 603.7h0.7M429.9 601.1h0.7M422.9 602.8h0.7M398.3 593.6h0.7M395.8 595.6h0.7M391.1 600.4h0.7M417.7 605.3h0.7M388.5 602.3h0.7M430.5 601.6h0.7M422.3 603.1h0.7M418.0 601.9h0.7M428.5 606.5h0.7M384.4 598.3h0.7M390.6 598.7h0.7M407.4 602.4h0.7M415.2 601.2h0.7M389.0 600.4h0.7M409.2 600.5h0.7M386.9 600.4h0.7M402.2 600.7h0.7M390.6 599.0h0.7M421.0 600.6h0.7M419.9 599.5h0.7M422.6 599.9h0.7M402.9 601.4h0.7M391.5 593.9h0.7M419.5 605.8h0.7M404.1 599.8h0.7M389.9 595.5h0.7M384.9 598.4h0.7M397.8 596.9h0.7M412.9 601.9h0.7M407.0 600.4h0.7M402.9 603.0h0.7M384.6 599.6h0.7M409.4 603.4h0.7M431.0 603.5h0.7M392.5 601.5h0.7M420.7 602.9h0.7M387.9 598.4h0.7M419.6 603.8h0.7M404.0 601.1h0.7M418.1 599.7h0.7M414.2 603.5h0.7M400.0 596.4h0.7M423.5 604.5h0.7M405.6 600.6h0.7M430.3 604.6h0.7M420.4 600.6h0.7M384.9 599.8h0.7M419.7 602.5h0.7M411.4 603.5h0.7M426.6 602.3h0.7M412.1 600.2h0.7M413.0 602.0h0.7M412.6 604.1h0.7M394.5 596.2h0.7M406.7 599.6h0.7M425.1 602.6h0.7M391.5 598.0h0.7M402.2 599.2h0.7M420.7 605.4h0.7M425.3 605.3h0.7M392.3 598.8h0.7M396.5 601.2h0.7M419.0 605.0h0.7M419.5 601.5h0.7M397.1 597.9h0.7M390.0 599.9h0.7M387.9 602.7h0.7M427.2 598.8h0.7M429.0 602.9h0.7M384.7 599.3h0.7M402.1 598.5h0.7M397.4 601.4h0.7M404.1 601.0h0.7M409.3 598.6h0.7M406.6 599.9h0.7M410.7 602.3h0.7M408.8 599.3h0.7M409.3 602.6h0.7M426.4 604.6h0.7M397.1 598.8h0.7M393.0 599.7h0.7M424.3 602.8h0.7M407.1 601.5h0.7M388.3 596.0h0.7M418.2 605.7h0.7M410.5 600.9h0.7M417.6 605.1h0.7M396.4 604.1h0.7M425.6 607.2h0.7M392.4 598.7h0.7M421.9 603.5h0.7M398.1 599.5h0.7M424.6 604.3h0.7M423.0 601.5h0.7M421.4 599.2h0.7M417.1 603.2h0.7M420.8 603.1h0.7M421.4 606.5h0.7M418.1 606.6h0.7M388.5 595.2h0.7M401.7 598.1h0.7M425.1 605.4h0.7M385.0 600.3h0.7M392.2 599.0h0.7M422.9 603.5h0.7M425.1 599.6h0.7M420.5 608.0h0.7M415.8 600.7h0.7M410.4 602.7h0.7M396.2 600.1h0.7M401.2 598.1h0.7M396.2 601.2h0.7M404.5 603.8h0.7M412.2 601.6h0.7M406.9 601.3h0.7M431.0 606.0h0.7M423.5 605.6h0.7M411.0 603.5h0.7M390.3 596.5h0.7M396.6 597.4h0.7M389.6 597.1h0.7M393.1 593.0h0.7M401.3 597.2h0.7M391.0 598.1h0.7M393.2 597.4h0.7M430.5 602.6h0.7M406.4 602.8h0.7M390.2 599.2h0.7M424.5 605.4h0.7M406.2 600.5h0.7M428.3 603.2h0.7M415.0 600.3h0.7M414.8 602.7h0.7M422.2 599.3h0.7M387.5 596.1h0.7M409.1 602.6h0.7M422.4 605.1h0.7M385.2 597.5h0.7M416.5 599.9h0.7M408.3 602.4h0.7M394.0 597.4h0.7M393.7 598.7h0.7M430.3 602.3h0.7M426.4 607.9h0.7M426.7 607.2h0.7M387.6 596.2h0.7M416.4 599.8h0.7M408.3 601.0h0.7M387.3 599.4h0.7M421.1 605.8h0.7M389.4 598.2h0.7M421.0 600.3h0.7M391.3 599.3h0.7M428.0 604.7h0.7M417.7 599.1h0.7M406.8 600.3h0.7M403.2 599.7h0.7M410.5 599.3h0.7M386.9 598.4h0.7M425.3 606.0h0.7M420.9 605.3h0.7M423.4 601.5h0.7M426.8 602.6h0.7M414.6 603.6h0.7M412.3 601.0h0.7M419.9 602.1h0.7M401.6 605.0h0.7M425.8 598.1h0.7M395.1 597.7h0.7M413.0 600.0h0.7M409.2 601.2h0.7M422.3 607.0h0.7M426.8 603.6h0.7M399.6 599.2h0.7M407.3 601.3h0.7M401.9 599.5h0.7M398.9 600.6h0.7M427.9 609.7h0.7M414.4 600.5h0.7M419.6 602.4h0.7M392.0 598.5h0.7M424.1 598.9h0.7M421.9 604.5h0.7M394.7 599.0h0.7M395.4 594.9h0.7M409.8 600.8h0.7M412.8 602.2h0.7M399.9 597.9h0.7M426.6 606.3h0.7M422.6 602.0h0.7M403.9 597.2h0.7M388.1 599.9h0.7M395.1 598.9h0.7M396.3 599.7h0.7M413.6 598.4h0.7M411.2 598.5h0.7M430.0 602.2h0.7M410.6 601.2h0.7M402.7 600.0h0.7M408.3 604.2h0.7M420.6 606.4h0.7M417.7 602.8h0.7M424.2 603.3h0.7M402.3 604.4h0.7M411.5 601.8h0.7M421.0 605.3h0.7M388.3 597.1h0.7M406.2 600.6h0.7M415.3 601.6h0.7M422.6 601.8h0.7M429.8 605.2h0.7M388.1 596.3h0.7M429.3 604.1h0.7M385.9 598.7h0.7M419.5 607.5h0.7M387.2 593.8h0.7M388.5 598.3h0.7M400.9 601.5h0.7M422.8 602.6h0.7M399.1 601.7h0.7M418.4 615.4h0.7M426.1 607.3h0.7M412.2 616.9h0.7M413.2 618.5h0.7M412.3 616.2h0.7M423.7 608.8h0.7M421.3 610.7h0.7M425.8 607.6h0.7M416.5 614.7h0.7M423.9 607.0h0.7M413.3 618.0h0.7M417.5 614.6h0.7M423.2 609.3h0.7M418.0 612.4h0.7M417.8 612.6h0.7M412.8 616.9h0.7M411.6 617.2h0.7M431.3 603.0h0.7M422.9 608.2h0.7M412.1 617.7h0.7M424.4 609.2h0.7M417.8 615.3h0.7M410.1 620.0h0.7M425.5 607.6h0.7M409.8 619.3h0.7M426.6 609.2h0.7M416.1 612.0h0.7M417.9 612.1h0.7M425.8 608.2h0.7M413.1 615.0h0.7M414.4 619.0h0.7M431.8 609.3h0.7M419.1 612.3h0.7M408.0 617.2h0.7M423.2 609.5h0.7M419.1 610.7h0.7M420.9 610.6h0.7M426.7 608.0h0.7M425.6 605.7h0.7M416.8 614.4h0.7M423.9 608.3h0.7M411.0 620.6h0.7M412.2 619.6h0.7M413.8 614.4h0.7M420.1 612.0h0.7M415.6 616.5h0.7M431.5 602.9h0.7M410.3 617.9h0.7M409.1 619.4h0.7M415.7 611.7h0.7M417.0 613.8h0.7M414.1 616.0h0.7M429.3 604.7h0.7M413.0 616.9h0.7M420.8 609.3h0.7M428.6 606.2h0.7M419.4 611.2h0.7M409.6 620.1h0.7M417.7 612.6h0.7M422.2 610.1h0.7M419.7 613.5h0.7M410.8 618.8h0.7M426.4 610.0h0.7M408.1 616.6h0.7M427.6 607.6h0.7M427.5 605.7h0.7M430.5 607.4h0.7M410.0 620.0h0.7M414.6 613.7h0.7M414.0 615.0h0.7M420.6 613.1h0.7M428.5 607.3h0.7M422.7 610.5h0.7M426.7 605.3h0.7M415.6 612.5h0.7M417.4 616.3h0.7M419.4 610.8h0.7M420.6 611.3h0.7M419.9 609.5h0.7M414.2 615.0h0.7M425.2 609.3h0.7M412.8 617.4h0.7M419.3 614.7h0.7M418.2 612.3h0.7M414.3 619.0h0.7M429.0 606.3h0.7M411.2 618.8h0.7M412.0 617.5h0.7M423.4 613.4h0.7M424.5 606.3h0.7M413.7 615.7h0.7M427.5 608.4h0.7M412.5 617.3h0.7M415.2 615.6h0.7M428.0 607.0h0.7M431.8 603.6h0.7M427.9 606.7h0.7M416.6 616.0h0.7M420.0 613.4h0.7M407.3 620.5h0.7M425.4 609.6h0.7M410.4 619.6h0.7M408.8 617.9h0.7M425.7 609.3h0.7M429.6 608.7h0.7M412.0 617.3h0.7M418.6 616.8h0.7M415.7 613.1h0.7M427.9 607.3h0.7M427.7 605.0h0.7M424.6 609.8h0.7M411.2 616.5h0.7M428.7 603.7h0.7M414.5 616.8h0.7M428.1 604.7h0.7M423.1 608.9h0.7M418.1 614.1h0.7M409.8 616.2h0.7M417.6 613.2h0.7M418.6 612.0h0.7M411.8 615.7h0.7M414.3 615.7h0.7M410.3 618.1h0.7M423.1 610.6h0.7M411.3 617.7h0.7M410.1 621.4h0.7M414.1 616.1h0.7M426.4 605.3h0.7M418.8 613.0h0.7M413.2 616.0h0.7M426.9 611.7h0.7M418.9 613.6h0.7M422.4 609.9h0.7M425.1 607.0h0.7M415.9 612.2h0.7M423.4 609.4h0.7M413.7 616.6h0.7M425.0 608.9h0.7M409.2 618.4h0.7M423.5 610.7h0.7M413.1 616.4h0.7M424.6 608.1h0.7M425.8 604.7h0.7M428.5 603.9h0.7M422.5 611.4h0.7M423.7 608.1h0.7M414.7 616.9h0.7M419.6 617.1h0.7M414.9 618.6h0.7M417.0 615.4h0.7M418.9 612.8h0.7M424.6 609.0h0.7M428.4 606.1h0.7M416.5 614.2h0.7M425.1 610.2h0.7M410.3 619.3h0.7M413.5 616.5h0.7M427.1 606.2h0.7M421.4 612.6h0.7M425.0 609.7h0.7M401.4 632.3h0.7M402.9 628.0h0.7M402.8 626.0h0.7M396.2 624.8h0.7M412.9 621.7h0.7M401.0 623.3h0.7M409.2 627.0h0.7M403.5 621.7h0.7M403.4 627.9h0.7M406.1 628.2h0.7M400.5 627.5h0.7M398.3 634.8h0.7M406.0 623.4h0.7M400.1 632.5h0.7M398.0 627.5h0.7M396.1 628.7h0.7M399.8 626.6h0.7M409.3 624.3h0.7M403.9 624.7h0.7M402.4 623.7h0.7M404.4 623.2h0.7M403.4 628.0h0.7M399.5 625.9h0.7M405.2 620.0h0.7M398.5 627.4h0.7M401.9 627.7h0.7M393.1 634.0h0.7M411.0 624.3h0.7M407.3 623.4h0.7M404.4 624.4h0.7M399.5 631.3h0.7M408.5 623.6h0.7M405.8 627.7h0.7M407.3 627.2h0.7M400.3 623.9h0.7M407.5 626.3h0.7M402.3 628.6h0.7M402.7 618.9h0.7M413.9 620.6h0.7M402.0 624.4h0.7M404.4 636.6h0.7M404.5 628.2h0.7M401.8 627.2h0.7M405.2 622.4h0.7M403.9 625.8h0.7M407.4 626.3h0.7M406.1 629.1h0.7M402.3 626.6h0.7M404.4 625.3h0.7M402.6 618.5h0.7M395.2 626.9h0.7M410.5 623.6h0.7M402.8 628.7h0.7M398.1 630.4h0.7M410.5 623.1h0.7M410.9 619.1h0.7M408.5 623.0h0.7M406.0 625.6h0.7M409.2 626.3h0.7M405.3 626.5h0.7M404.6 626.8h0.7M403.4 630.1h0.7M407.4 624.6h0.7M403.5 624.8h0.7M399.6 626.6h0.7M403.4 629.9h0.7M403.8 622.1h0.7M403.4 631.2h0.7M411.5 622.9h0.7M410.6 618.8h0.7M405.1 623.6h0.7M412.8 620.5h0.7M406.7 625.5h0.7M402.3 627.8h0.7M396.4 631.5h0.7M402.6 630.3h0.7M409.7 622.7h0.7M399.6 626.8h0.7M406.9 623.4h0.7M402.2 624.7h0.7M406.0 625.6h0.7M406.0 621.9h0.7M402.5 623.4h0.7M405.6 625.3h0.7M405.0 628.7h0.7M403.0 632.4h0.7M407.1 625.9h0.7M404.7 623.8h0.7M404.5 629.3h0.7M405.3 626.6h0.7M405.1 628.5h0.7M405.1 621.7h0.7M413.1 622.4h0.7M408.2 624.2h0.7M406.1 627.7h0.7M413.4 618.5h0.7M401.2 628.9h0.7M406.7 627.5h0.7M400.1 628.5h0.7M405.4 628.6h0.7M408.9 623.2h0.7M408.6 623.1h0.7M401.6 621.4h0.7M400.1 626.3h0.7M406.5 624.8h0.7M401.3 629.0h0.7M405.0 627.0h0.7M401.8 626.2h0.7M408.4 622.0h0.7M406.7 621.5h0.7M403.5 626.0h0.7M402.6 630.0h0.7M400.6 630.2h0.7M398.7 633.2h0.7M406.6 627.9h0.7M410.3 619.1h0.7M402.7 623.5h0.7M403.2 627.4h0.7M406.0 627.3h0.7M407.8 626.4h0.7M402.6 628.1h0.7M400.9 628.5h0.7M395.4 633.4h0.7M404.1 625.0h0.7M400.6 623.9h0.7M401.5 626.7h0.7M406.0 626.2h0.7M402.9 626.9h0.7M404.4 623.4h0.7M411.1 626.9h0.7M405.1 624.0h0.7M407.1 627.5h0.7M406.7 620.0h0.7M404.5 623.7h0.7M403.5 627.7h0.7M405.9 624.0h0.7M401.5 628.0h0.7M403.9 632.0h0.7M400.4 631.4h0.7M405.0 625.7h0.7M400.4 628.0h0.7M402.6 625.9h0.7M403.9 626.9h0.7M403.8 628.0h0.7M406.1 623.0h0.7M407.0 624.1h0.7M403.4 628.4h0.7M407.7 622.3h0.7M399.7 632.5h0.7M406.1 621.2h0.7M404.8 627.2h0.7M397.9 634.0h0.7M408.1 625.5h0.7M407.8 620.0h0.7M411.1 627.6h0.7M396.5 631.5h0.7M405.6 622.7h0.7M398.9 631.6h0.7M403.9 624.2h0.7M406.6 627.0h0.7M408.4 624.0h0.7M399.9 628.9h0.7M395.2 630.4h0.7M405.8 626.6h0.7M404.3 626.1h0.7M395.9 629.1h0.7M399.6 628.1h0.7M405.7 631.7h0.7M406.1 621.4h0.7M401.3 626.9h0.7M401.6 626.7h0.7M399.4 633.8h0.7M407.5 625.3h0.7M405.4 626.6h0.7M400.0 623.4h0.7M404.7 625.7h0.7M396.5 625.6h0.7M406.4 621.0h0.7M402.5 625.3h0.7M407.5 618.6h0.7M403.8 618.5h0.7M406.5 622.6h0.7M396.9 632.4h0.7M401.5 623.3h0.7M405.4 625.0h0.7M403.6 622.1h0.7M400.2 626.4h0.7M403.8 624.7h0.7M403.0 631.4h0.7M404.2 629.6h0.7M405.9 622.4h0.7M398.4 631.5h0.7M408.3 626.3h0.7M406.2 625.8h0.7M401.0 626.5h0.7M416.7 619.2h0.7M400.3 630.3h0.7M403.0 621.5h0.7M404.2 627.9h0.7M412.3 624.4h0.7M402.6 626.4h0.7M403.1 627.8h0.7M405.5 621.7h0.7M402.8 625.4h0.7M400.9 627.2h0.7M413.1 624.2h0.7M406.6 618.9h0.7M409.0 629.6h0.7M404.6 623.6h0.7M405.9 623.9h0.7M403.4 627.6h0.7M405.6 624.4h0.7M402.6 624.2h0.7M405.3 627.5h0.7M404.3 625.5h0.7M401.3 632.2h0.7M401.5 630.5h0.7M404.4 628.5h0.7M407.3 622.5h0.7M391.0 630.7h0.7M399.6 627.0h0.7M408.4 628.9h0.7M406.3 623.9h0.7M408.5 621.9h0.7M407.8 624.3h0.7M399.4 633.2h0.7M409.7 620.5h0.7M407.7 624.8h0.7M402.9 626.1h0.7M406.7 622.1h0.7M403.9 629.1h0.7M409.9 626.3h0.7M400.3 625.2h0.7M405.6 620.1h0.7M402.7 626.8h0.7M410.1 621.3h0.7M400.3 629.3h0.7M406.0 619.0h0.7M401.6 631.6h0.7M403.2 623.8h0.7M403.8 626.7h0.7M399.7 628.2h0.7M409.7 622.6h0.7M408.0 622.8h0.7M403.0 628.2h0.7M401.9 629.3h0.7M402.9 626.3h0.7M402.0 625.0h0.7M406.6 619.4h0.7M403.2 623.1h0.7M407.0 623.1h0.7M405.7 626.4h0.7M405.9 625.4h0.7M406.1 625.6h0.7M402.4 626.8h0.7M402.5 625.4h0.7M404.6 630.0h0.7M402.2 633.1h0.7M403.6 628.6h0.7M404.1 625.7h0.7M408.9 627.6h0.7M404.0 626.3h0.7M405.8 631.3h0.7M410.0 624.8h0.7M401.6 622.4h0.7M403.2 621.4h0.7M403.8 629.5h0.7M401.4 626.4h0.7M398.5 633.2h0.7M405.0 624.0h0.7M403.1 622.0h0.7M401.6 629.0h0.7M407.2 623.5h0.7M399.6 628.5h0.7M407.1 621.8h0.7M405.9 626.1h0.7M402.6 627.6h0.7M397.6 629.9h0.7M405.5 627.1h0.7M407.9 621.5h0.7M405.7 624.5h0.7M400.6 626.8h0.7M404.2 626.2h0.7M406.1 633.1h0.7M405.3 627.3h0.7M407.8 631.9h0.7M396.5 631.5h0.7M406.8 627.7h0.7M402.6 624.4h0.7M410.5 622.9h0.7M403.1 626.3h0.7M403.8 627.0h0.7M398.9 631.0h0.7M403.1 628.6h0.7M403.8 623.2h0.7M409.9 623.7h0.7M399.7 626.6h0.7M402.6 628.6h0.7M407.1 620.9h0.7M402.6 629.1h0.7M404.1 626.1h0.7M403.4 625.8h0.7M411.5 623.0h0.7M405.2 629.2h0.7M411.2 621.7h0.7M404.6 624.3h0.7M405.0 626.1h0.7M407.1 620.7h0.7M398.2 629.6h0.7M402.4 621.4h0.7M402.4 625.1h0.7M400.8 629.4h0.7M406.0 620.4h0.7M404.8 625.1h0.7M406.4 624.3h0.7M403.6 629.4h0.7M404.1 623.0h0.7M396.6 630.2h0.7M406.1 626.9h0.7M401.8 626.9h0.7M397.6 630.2h0.7M403.7 624.7h0.7M402.4 624.5h0.7M401.7 629.0h0.7M399.2 630.3h0.7M407.2 621.7h0.7M401.3 625.9h0.7M399.1 628.6h0.7M399.7 629.1h0.7M400.6 625.5h0.7M405.8 627.8h0.7M406.3 623.4h0.7M402.4 624.2h0.7M404.3 627.9h0.7M408.6 626.5h0.7M401.5 633.1h0.7M407.7 627.9h0.7M406.0 628.3h0.7M402.4 624.2h0.7M404.3 624.3h0.7M404.7 627.1h0.7M407.6 625.2h0.7M404.8 620.6h0.7M406.5 621.4h0.7M403.7 625.1h0.7M401.6 630.9h0.7M399.9 627.9h0.7M405.3 618.0h0.7M400.0 632.4h0.7M403.9 628.7h0.7M403.3 625.2h0.7M405.2 622.9h0.7M402.6 628.0h0.7M398.3 626.5h0.7M400.1 632.3h0.7M412.1 623.0h0.7M401.2 626.9h0.7M400.8 628.8h0.7M407.3 623.1h0.7M399.0 620.2h0.7M403.2 623.1h0.7M403.8 627.4h0.7M405.6 627.1h0.7M405.6 617.7h0.7M401.5 633.4h0.7M404.6 623.4h0.7M403.3 626.8h0.7M407.1 622.6h0.7M402.1 623.6h0.7M409.7 622.9h0.7M400.6 624.9h0.7M405.5 627.7h0.7M414.7 623.2h0.7M402.3 626.3h0.7M401.7 629.6h0.7M402.6 629.2h0.7M406.0 625.9h0.7M402.8 630.9h0.7M401.7 624.4h0.7M404.4 626.5h0.7M405.9 627.6h0.7M411.8 626.9h0.7M405.9 628.5h0.7M398.7 636.7h0.7M406.2 628.4h0.7M404.4 627.7h0.7M405.5 623.2h0.7M398.0 622.3h0.7M405.9 624.2h0.7M405.5 628.9h0.7M405.9 625.5h0.7M398.3 631.6h0.7M404.9 628.6h0.7M400.8 625.1h0.7M406.5 630.1h0.7M403.5 630.8h0.7M400.7 622.8h0.7M410.1 628.7h0.7M404.2 622.8h0.7M402.3 625.0h0.7M414.7 619.1h0.7M397.8 634.1h0.7M404.3 622.9h0.7M402.2 627.6h0.7M409.3 620.3h0.7M403.3 629.9h0.7M400.6 625.9h0.7M405.2 627.9h0.7M404.3 624.9h0.7M411.3 624.6h0.7M397.3 628.3h0.7M401.0 628.2h0.7M404.8 625.4h0.7M405.3 626.7h0.7M396.7 625.6h0.7M407.3 627.5h0.7M404.4 624.7h0.7M405.7 623.9h0.7M399.5 628.9h0.7M407.4 624.5h0.7M405.9 623.2h0.7M408.5 627.1h0.7M402.6 626.0h0.7M408.6 622.8h0.7M399.9 628.5h0.7M409.3 623.0h0.7M411.6 622.0h0.7M406.9 627.2h0.7M404.1 629.7h0.7M403.8 625.8h0.7M405.0 624.1h0.7M399.4 627.5h0.7M406.6 625.1h0.7M405.9 627.1h0.7M400.9 627.7h0.7M408.4 619.8h0.7M408.3 622.0h0.7M406.6 625.0h0.7M403.8 626.9h0.7M406.6 622.1h0.7M402.7 630.2h0.7M402.9 626.8h0.7M403.2 625.7h0.7M398.4 630.8h0.7M400.9 624.8h0.7M403.0 628.0h0.7M409.4 620.2h0.7M408.2 621.5h0.7M405.6 624.3h0.7M407.2 624.2h0.7M400.9 624.2h0.7M405.5 620.5h0.7M405.2 630.9h0.7M405.4 625.5h0.7M405.3 626.1h0.7M403.9 627.6h0.7M403.5 625.8h0.7M407.0 625.9h0.7M407.1 626.8h0.7M413.3 624.0h0.7M403.2 623.7h0.7M408.5 623.1h0.7M406.6 623.2h0.7M405.7 621.6h0.7M403.1 623.1h0.7M410.8 620.0h0.7M399.7 634.0h0.7M409.9 625.8h0.7M401.5 629.7h0.7M408.7 622.0h0.7M405.6 624.5h0.7M405.8 629.3h0.7M402.2 628.1h0.7M406.6 624.5h0.7M404.4 620.1h0.7M406.6 620.7h0.7M403.5 625.9h0.7M406.0 624.3h0.7M404.4 628.4h0.7M410.5 619.2h0.7M401.7 626.7h0.7M398.9 627.1h0.7M404.2 628.5h0.7M401.8 625.9h0.7M403.1 624.8h0.7M415.8 621.4h0.7M402.2 622.8h0.7M401.5 625.8h0.7M398.5 624.4h0.7M402.0 626.3h0.7M400.5 625.5h0.7M404.5 623.4h0.7M395.7 630.2h0.7M409.0 626.0h0.7M400.7 628.8h0.7M407.8 626.1h0.7M403.5 627.8h0.7M400.4 623.9h0.7M407.4 623.4h0.7M405.6 624.5h0.7M401.0 627.5h0.7M403.7 622.8h0.7M413.0 625.9h0.7M398.6 633.8h0.7M404.0 628.3h0.7M404.9 625.2h0.7M407.6 623.7h0.7M409.8 622.6h0.7M399.7 629.6h0.7M403.7 625.0h0.7M403.6 632.8h0.7M404.3 626.1h0.7M400.2 631.4h0.7M405.9 628.3h0.7M409.1 620.2h0.7M404.0 630.0h0.7M408.6 623.6h0.7M406.5 623.4h0.7M404.5 626.0h0.7M398.8 633.1h0.7M405.7 622.2h0.7M403.3 628.0h0.7M407.0 624.1h0.7M403.8 628.0h0.7M403.5 623.9h0.7M403.0 626.2h0.7M404.8 621.8h0.7M401.4 627.5h0.7M408.3 630.2h0.7M405.6 628.3h0.7M409.1 626.2h0.7M411.0 622.3h0.7M401.0 627.9h0.7M412.7 625.8h0.7M412.3 626.8h0.7M405.6 622.6h0.7M405.4 626.2h0.7M408.9 625.0h0.7M403.6 630.5h0.7M403.2 628.0h0.7M407.8 625.5h0.7M405.5 623.6h0.7M405.6 628.0h0.7M401.4 625.1h0.7M396.4 632.9h0.7M401.7 628.4h0.7M400.5 628.1h0.7M404.8 628.7h0.7M399.9 626.2h0.7M406.2 627.2h0.7M402.4 629.4h0.7M405.4 626.9h0.7M398.7 631.2h0.7M404.0 627.1h0.7M402.2 627.6h0.7M397.5 631.9h0.7M409.2 622.6h0.7M405.3 626.4h0.7M408.1 620.9h0.7M398.1 628.0h0.7M402.5 628.0h0.7M406.1 622.4h0.7M402.6 630.4h0.7M406.8 621.7h0.7M406.7 623.6h0.7M402.7 627.1h0.7M399.1 625.2h0.7M398.7 628.5h0.7M406.1 625.9h0.7M406.1 622.2h0.7M402.2 623.5h0.7M402.8 630.6h0.7M406.9 629.8h0.7M406.0 623.3h0.7M399.0 624.1h0.7M410.2 624.2h0.7M419.3 619.9h0.7M403.9 623.2h0.7M398.1 630.1h0.7M402.1 623.4h0.7M408.2 625.9h0.7M400.9 628.2h0.7M401.4 631.7h0.7M399.8 626.4h0.7M396.4 629.5h0.7M400.4 632.7h0.7M404.6 622.0h0.7M401.4 628.3h0.7M403.2 623.8h0.7M409.8 623.5h0.7M406.8 615.4h0.7M400.3 631.7h0.7M404.7 624.9h0.7M401.4 630.1h0.7M404.8 629.9h0.7M409.5 624.6h0.7M398.8 631.7h0.7M413.1 624.5h0.7M410.3 624.7h0.7M404.2 630.8h0.7M411.3 621.6h0.7M405.9 624.3h0.7M404.6 624.9h0.7M405.8 624.4h0.7M398.5 629.1h0.7M406.1 625.3h0.7M410.8 623.7h0.7M408.7 622.3h0.7M406.9 621.7h0.7M403.6 629.5h0.7M404.0 623.9h0.7M409.9 626.0h0.7M409.1 626.3h0.7M409.0 625.1h0.7M398.9 624.8h0.7M398.3 621.0h0.7M400.9 625.5h0.7M403.7 624.4h0.7M403.1 624.4h0.7M405.9 629.5h0.7M398.3 625.7h0.7M410.3 623.5h0.7M403.7 625.4h0.7M404.9 624.5h0.7M407.2 622.8h0.7M403.2 628.8h0.7M402.6 629.3h0.7M399.7 628.3h0.7M403.9 624.2h0.7M407.5 623.1h0.7M402.1 621.8h0.7M406.4 624.6h0.7M398.2 632.0h0.7M404.4 623.8h0.7M398.6 626.4h0.7M404.5 626.0h0.7M406.8 630.3h0.7M404.6 626.4h0.7M399.6 631.0h0.7M406.1 621.8h0.7M410.5 619.2h0.7M404.3 624.9h0.7M398.6 621.8h0.7M403.8 619.6h0.7M406.8 620.5h0.7M406.5 632.1h0.7M400.8 628.3h0.7M400.0 629.1h0.7M408.2 627.8h0.7M395.6 633.2h0.7M407.7 626.0h0.7M402.0 628.3h0.7M411.1 621.5h0.7M409.5 617.9h0.7M402.1 628.1h0.7M402.0 630.1h0.7M401.2 629.8h0.7M398.1 628.6h0.7M406.2 626.4h0.7M398.9 625.9h0.7M404.7 622.6h0.7M407.7 627.3h0.7M404.2 621.4h0.7M410.2 624.6h0.7M401.8 626.9h0.7M409.6 622.6h0.7M407.5 626.8h0.7M410.6 629.7h0.7M409.3 622.4h0.7M404.4 625.1h0.7M406.7 620.4h0.7M406.5 622.4h0.7M399.9 632.9h0.7M406.4 625.3h0.7M403.5 626.8h0.7M404.5 630.2h0.7M409.0 622.1h0.7M405.0 626.5h0.7M407.9 623.9h0.7M402.7 626.8h0.7M405.3 624.9h0.7M405.2 629.3h0.7M407.4 626.5h0.7M403.0 630.0h0.7M404.3 625.4h0.7M401.4 626.7h0.7M403.3 627.5h0.7M407.5 629.9h0.7M406.6 625.1h0.7M403.1 624.8h0.7M402.5 628.9h0.7M402.1 633.2h0.7M407.6 618.9h0.7M410.4 624.6h0.7M409.5 624.1h0.7M408.9 619.9h0.7M404.1 628.4h0.7M402.6 623.2h0.7M409.0 625.6h0.7M404.6 627.3h0.7M404.6 619.4h0.7M401.5 625.9h0.7M402.3 624.1h0.7M400.8 629.9h0.7M408.8 618.6h0.7M411.5 623.3h0.7M410.1 625.6h0.7M405.0 629.2h0.7M398.5 628.7h0.7M407.0 626.5h0.7M397.2 626.3h0.7M406.5 625.4h0.7M406.9 623.9h0.7M402.1 631.7h0.7M407.5 624.1h0.7M412.3 620.4h0.7M409.5 621.5h0.7M393.3 631.9h0.7M395.3 633.2h0.7M406.0 619.5h0.7M406.7 623.4h0.7M408.3 624.1h0.7M402.3 629.8h0.7M406.0 627.7h0.7M410.9 620.2h0.7M410.0 621.2h0.7M407.1 624.6h0.7M402.7 628.1h0.7M404.2 628.2h0.7M399.8 627.1h0.7M408.5 624.5h0.7M407.5 625.4h0.7M409.0 623.9h0.7M406.6 622.0h0.7M405.3 623.2h0.7M400.3 629.0h0.7M407.0 624.2h0.7M411.7 622.2h0.7M406.4 625.0h0.7M400.4 629.8h0.7M407.6 629.1h0.7M402.0 627.9h0.7M402.6 628.2h0.7M399.5 631.3h0.7M405.1 626.2h0.7M413.4 618.5h0.7M406.4 624.6h0.7M411.9 627.1h0.7M410.9 621.8h0.7M401.3 630.3h0.7M398.0 628.9h0.7M401.1 625.5h0.7M404.2 625.3h0.7M402.9 628.7h0.7M404.3 630.4h0.7M406.2 623.4h0.7M405.2 623.5h0.7M404.3 629.6h0.7M400.2 631.3h0.7M407.7 616.5h0.7M409.7 615.7h0.7M394.0 628.3h0.7M399.9 628.1h0.7M398.1 630.9h0.7M406.2 622.2h0.7M406.1 626.8h0.7M410.3 620.9h0.7M407.9 624.9h0.7M404.3 625.2h0.7M407.0 626.2h0.7M399.7 629.0h0.7M406.3 625.6h0.7M408.4 628.1h0.7M406.2 620.7h0.7M408.9 620.2h0.7M403.6 630.3h0.7M400.9 623.7h0.7M407.5 625.1h0.7M404.3 621.8h0.7M406.4 622.5h0.7M405.7 621.1h0.7M398.3 625.0h0.7M403.7 630.2h0.7M404.5 624.2h0.7M409.6 622.5h0.7M407.8 624.4h0.7M404.5 626.5h0.7M407.9 626.9h0.7M408.0 625.9h0.7M397.9 625.6h0.7M405.9 625.4h0.7M404.5 622.8h0.7M403.4 623.6h0.7M404.8 625.6h0.7M404.5 627.1h0.7M402.9 627.4h0.7M409.3 626.8h0.7M407.2 626.4h0.7M409.2 627.5h0.7M410.6 618.9h0.7M407.4 624.6h0.7M406.1 616.9h0.7M399.7 624.5h0.7M409.7 622.6h0.7M407.5 624.9h0.7M406.2 626.0h0.7M400.0 623.3h0.7M405.6 624.9h0.7M401.7 626.4h0.7M407.8 620.9h0.7M402.1 630.2h0.7M407.5 619.4h0.7M399.6 626.8h0.7M406.8 626.0h0.7M409.2 621.9h0.7M402.8 625.6h0.7M407.4 621.7h0.7M401.4 627.9h0.7M405.1 626.8h0.7M405.2 631.0h0.7M409.2 618.5h0.7M403.5 623.7h0.7M401.7 624.5h0.7M404.0 627.3h0.7M403.0 623.0h0.7M394.9 628.2h0.7M408.4 622.2h0.7M407.1 628.5h0.7M401.8 629.6h0.7M402.6 628.2h0.7M397.6 630.5h0.7M404.5 626.4h0.7M399.3 629.6h0.7M407.4 623.3h0.7M408.5 624.8h0.7M404.8 624.6h0.7M403.3 624.0h0.7M407.3 624.7h0.7M412.1 626.9h0.7M408.3 624.7h0.7M406.5 627.1h0.7M408.7 621.6h0.7M398.1 627.0h0.7M408.6 624.1h0.7M403.7 621.3h0.7M400.2 624.7h0.7M399.8 628.2h0.7M404.7 630.9h0.7M399.3 628.4h0.7M402.1 628.3h0.7M405.7 622.4h0.7M398.2 629.9h0.7M404.2 622.8h0.7M406.2 621.3h0.7M401.6 627.0h0.7M412.2 622.1h0.7M404.1 623.1h0.7M399.7 627.8h0.7M412.0 623.9h0.7M403.9 624.3h0.7M397.9 630.1h0.7M407.2 625.6h0.7M404.7 623.6h0.7M406.0 624.3h0.7M407.9 624.0h0.7M407.6 624.4h0.7M404.8 629.5h0.7M402.1 630.2h0.7M402.5 626.6h0.7M404.6 624.2h0.7M399.6 627.1h0.7M400.8 629.2h0.7M405.5 624.9h0.7M399.5 630.6h0.7M405.9 621.2h0.7M402.9 630.2h0.7M405.7 628.5h0.7M401.1 624.3h0.7M404.3 626.0h0.7M404.2 623.6h0.7M406.2 631.1h0.7M405.2 630.5h0.7M401.1 629.6h0.7M407.1 626.6h0.7M403.5 624.8h0.7M402.6 622.9h0.7M393.7 630.1h0.7M411.1 623.1h0.7M411.5 621.7h0.7M398.1 628.3h0.7M404.3 623.6h0.7M399.7 626.6h0.7M399.0 624.6h0.7M404.8 623.5h0.7M411.3 625.5h0.7M405.9 628.1h0.7M408.5 623.3h0.7M405.9 628.9h0.7M406.5 623.8h0.7M402.9 627.4h0.7M408.7 624.7h0.7M402.3 627.4h0.7M404.4 624.8h0.7M402.7 624.4h0.7M402.3 628.8h0.7M404.9 624.8h0.7M411.5 619.6h0.7M407.3 624.6h0.7M404.0 628.6h0.7M408.2 623.0h0.7M410.6 629.9h0.7M401.3 628.1h0.7M406.5 624.4h0.7M401.1 627.4h0.7M403.4 626.1h0.7M407.2 628.8h0.7M404.7 624.7h0.7M407.9 625.3h0.7M400.1 627.8h0.7M401.5 629.6h0.7M407.1 623.2h0.7M407.8 621.5h0.7M403.4 626.7h0.7M407.8 628.5h0.7M401.8 630.1h0.7M406.7 627.9h0.7M398.4 627.5h0.7M412.2 623.6h0.7M408.0 622.8h0.7M408.1 623.1h0.7M400.8 628.7h0.7M402.1 624.8h0.7M401.6 626.3h0.7M407.8 626.3h0.7M410.0 624.9h0.7M402.0 630.0h0.7M407.9 624.5h0.7M397.0 623.2h0.7M403.8 624.0h0.7M405.3 620.8h0.7M405.7 623.7h0.7M399.5 628.8h0.7M405.4 627.9h0.7M409.1 626.1h0.7M406.4 623.1h0.7M403.4 627.5h0.7M400.9 623.9h0.7M399.0 633.1h0.7M408.0 629.3h0.7M404.5 629.3h0.7M405.8 626.5h0.7M406.5 627.8h0.7M405.5 623.7h0.7M403.9 625.9h0.7M405.2 626.2h0.7M402.3 626.1h0.7M401.8 622.7h0.7M406.5 625.6h0.7M392.6 632.6h0.7M401.0 621.9h0.7M407.5 626.6h0.7M407.6 626.4h0.7M405.5 627.9h0.7M406.7 623.8h0.7M402.3 622.7h0.7M401.6 631.6h0.7M406.7 621.6h0.7M396.4 626.6h0.7M408.9 623.4h0.7M412.8 623.0h0.7M412.5 621.9h0.7M402.1 626.9h0.7M406.0 620.3h0.7M405.8 623.7h0.7M407.9 621.4h0.7M403.6 629.8h0.7M395.5 636.9h0.7M404.5 624.1h0.7M405.9 623.3h0.7M406.7 624.4h0.7M405.5 622.1h0.7M405.1 631.3h0.7M405.2 624.8h0.7M400.7 627.6h0.7M403.4 623.1h0.7M403.9 625.6h0.7M398.0 631.5h0.7M407.8 621.8h0.7M404.2 627.1h0.7M399.8 624.5h0.7M403.9 625.1h0.7M404.5 630.4h0.7M403.7 624.3h0.7M404.7 630.8h0.7M404.4 620.5h0.7M405.7 623.4h0.7M404.3 629.7h0.7M405.5 622.5h0.7M405.4 627.2h0.7M404.7 627.1h0.7M404.2 630.3h0.7M408.3 620.8h0.7M399.1 629.1h0.7M407.7 624.0h0.7M404.6 626.5h0.7M399.5 630.0h0.7M403.2 625.1h0.7M406.1 622.6h0.7M403.4 629.1h0.7M406.7 624.4h0.7M405.9 626.1h0.7M404.1 623.3h0.7M410.4 627.4h0.7M405.4 624.4h0.7M409.3 623.9h0.7M401.9 627.9h0.7M404.2 629.5h0.7M402.1 632.0h0.7M402.7 628.4h0.7M403.6 627.9h0.7M409.3 623.9h0.7M400.1 628.9h0.7M407.9 629.1h0.7M402.2 626.7h0.7M401.9 628.1h0.7M405.1 622.3h0.7M411.1 624.4h0.7M408.1 624.9h0.7M410.9 617.3h0.7M406.0 631.5h0.7M400.9 630.0h0.7M402.5 624.7h0.7M401.0 628.2h0.7M406.2 626.2h0.7M406.6 624.5h0.7M405.6 627.0h0.7M400.3 625.3h0.7M404.0 619.8h0.7M408.3 626.8h0.7M396.9 625.3h0.7M402.1 628.9h0.7M402.9 630.6h0.7M405.1 622.4h0.7M404.8 621.2h0.7M403.3 627.7h0.7M410.1 623.8h0.7M407.2 619.1h0.7M413.8 615.4h0.7M407.8 628.1h0.7M408.1 626.8h0.7M398.7 627.3h0.7M402.1 626.2h0.7M404.3 625.1h0.7M401.0 629.7h0.7M398.7 628.6h0.7M404.1 623.4h0.7M405.4 627.3h0.7M411.3 624.1h0.7M408.2 624.5h0.7M399.0 627.9h0.7M400.7 627.4h0.7M402.5 624.6h0.7M404.7 629.3h0.7M400.0 623.6h0.7M403.3 626.5h0.7M406.6 631.0h0.7M410.2 626.6h0.7M403.6 629.1h0.7M405.1 625.2h0.7M402.0 628.7h0.7M399.5 633.2h0.7M416.0 621.0h0.7M397.7 632.2h0.7M401.0 627.0h0.7M405.3 629.0h0.7M405.5 622.4h0.7M406.5 624.7h0.7M408.9 617.6h0.7M402.5 624.6h0.7M401.1 622.4h0.7M401.1 628.4h0.7M401.0 626.0h0.7M403.1 625.3h0.7M400.9 628.2h0.7M404.9 626.6h0.7M398.0 630.1h0.7M406.0 620.1h0.7M404.0 624.8h0.7M409.8 625.3h0.7M404.4 624.4h0.7M398.3 629.4h0.7M401.6 628.4h0.7M412.4 625.2h0.7M405.5 625.4h0.7M404.4 626.9h0.7M406.4 629.8h0.7M402.1 628.3h0.7M403.8 629.5h0.7M411.3 622.3h0.7M405.1 625.6h0.7M405.6 623.6h0.7M412.6 624.7h0.7M409.0 624.7h0.7M405.9 630.5h0.7M398.8 628.5h0.7M410.8 619.4h0.7M399.3 625.2h0.7M409.7 625.3h0.7M402.7 622.4h0.7M403.0 624.8h0.7M409.8 626.2h0.7M406.7 625.6h0.7M412.2 624.8h0.7M401.4 630.1h0.7M399.6 627.8h0.7M406.6 620.8h0.7M406.0 628.7h0.7M403.6 621.7h0.7M404.0 625.8h0.7M404.8 632.2h0.7M404.9 625.9h0.7M408.3 623.4h0.7M400.4 629.6h0.7M406.4 625.1h0.7M409.5 624.6h0.7M406.2 624.2h0.7M407.9 629.4h0.7M401.1 632.5h0.7M405.2 623.5h0.7M405.7 627.1h0.7M400.5 630.1h0.7M405.4 622.7h0.7M407.4 628.1h0.7M404.2 623.8h0.7M397.0 627.1h0.7M407.7 622.9h0.7M404.2 625.8h0.7M405.1 631.1h0.7M409.4 626.7h0.7M401.9 630.3h0.7M405.3 622.1h0.7M400.8 626.8h0.7M408.5 623.6h0.7M403.6 629.1h0.7M402.9 628.0h0.7M403.3 624.6h0.7M408.0 623.4h0.7M397.2 631.8h0.7M406.3 617.8h0.7M408.2 623.9h0.7M400.9 629.2h0.7M398.8 626.3h0.7M406.5 625.4h0.7M398.2 629.9h0.7M402.5 623.0h0.7M407.2 621.7h0.7M407.1 626.0h0.7M402.3 629.1h0.7M405.8 626.3h0.7M404.9 628.9h0.7M409.5 626.8h0.7M406.2 620.6h0.7M403.7 628.3h0.7M407.0 622.0h0.7M405.4 626.5h0.7M406.0 628.0h0.7M402.4 629.5h0.7M402.9 628.9h0.7M401.4 627.9h0.7M406.4 621.7h0.7M406.1 626.9h0.7M404.1 625.7h0.7M403.5 624.3h0.7M408.4 625.2h0.7M410.9 621.7h0.7M407.6 622.1h0.7M405.0 623.0h0.7M405.2 624.7h0.7M404.9 619.7h0.7M403.9 625.8h0.7M405.9 622.9h0.7M405.4 629.3h0.7M402.2 626.9h0.7M405.4 619.1h0.7M406.7 625.5h0.7M403.0 622.0h0.7M399.0 628.3h0.7M403.1 629.4h0.7M405.6 629.7h0.7M405.7 627.1h0.7M401.8 626.7h0.7M407.6 626.3h0.7M404.7 630.0h0.7M406.4 629.4h0.7M400.4 628.6h0.7M406.8 624.1h0.7M404.0 628.6h0.7M407.3 622.7h0.7M406.7 623.1h0.7M404.2 630.4h0.7M402.3 626.6h0.7M405.8 622.1h0.7M401.4 628.0h0.7M406.5 627.4h0.7M403.3 625.3h0.7M400.2 628.8h0.7M405.0 629.2h0.7M397.0 627.1h0.7M398.5 630.5h0.7M408.6 627.7h0.7M399.9 630.6h0.7M405.3 630.5h0.7M408.2 627.7h0.7M406.3 627.9h0.7M405.0 623.8h0.7M407.4 622.9h0.7M397.4 631.8h0.7M401.6 630.2h0.7M410.2 622.3h0.7M404.7 622.2h0.7M401.3 627.0h0.7M410.5 619.9h0.7M402.9 621.9h0.7M403.3 627.5h0.7M403.9 625.8h0.7M406.9 625.7h0.7M398.8 626.8h0.7M407.8 625.9h0.7M401.4 630.9h0.7M400.0 629.4h0.7M406.4 619.6h0.7M404.4 625.6h0.7M402.2 630.4h0.7M400.7 627.3h0.7M401.8 629.7h0.7M408.6 626.9h0.7M402.6 625.1h0.7M408.6 620.8h0.7M409.3 627.0h0.7M404.5 620.5h0.7M400.1 627.4h0.7M406.2 622.3h0.7M407.5 624.3h0.7M405.1 625.5h0.7M404.3 630.5h0.7M407.3 628.4h0.7M399.1 625.4h0.7M407.4 620.0h0.7M404.4 625.0h0.7M403.6 625.8h0.7M398.9 628.6h0.7M401.8 630.5h0.7M405.4 633.8h0.7M404.3 631.2h0.7M403.1 630.8h0.7M400.0 633.1h0.7M403.8 646.7h0.7M398.8 631.3h0.7M403.2 632.9h0.7M402.9 637.7h0.7M401.1 630.5h0.7M399.3 634.1h0.7M403.2 634.8h0.7M403.9 631.5h0.7M401.8 629.8h0.7M398.7 637.4h0.7M401.6 637.2h0.7M399.4 626.6h0.7M399.9 632.8h0.7M400.4 632.8h0.7M403.0 633.6h0.7M402.7 633.0h0.7M399.8 629.3h0.7M398.1 637.5h0.7M403.2 628.7h0.7M399.3 630.0h0.7M402.7 634.2h0.7M401.4 633.7h0.7M398.6 633.8h0.7M402.0 636.3h0.7M400.1 631.5h0.7M404.6 646.8h0.7M402.5 644.0h0.7M400.2 634.5h0.7M401.3 640.9h0.7M402.4 634.8h0.7M405.1 639.9h0.7M400.9 635.3h0.7M402.0 639.7h0.7M399.7 645.3h0.7M399.7 623.9h0.7M401.8 629.7h0.7M402.1 634.5h0.7M402.5 624.6h0.7M403.7 639.4h0.7M400.1 638.0h0.7M403.1 631.0h0.7M398.4 635.3h0.7M402.4 641.7h0.7M402.1 637.5h0.7M402.8 634.8h0.7M398.9 630.8h0.7M402.1 633.5h0.7M402.4 637.7h0.7M402.7 637.4h0.7M402.5 635.8h0.7M399.7 626.8h0.7M404.4 637.9h0.7M402.5 629.8h0.7M404.2 634.0h0.7M401.7 630.6h0.7M400.5 631.0h0.7M402.1 630.5h0.7M401.4 631.3h0.7M399.5 634.6h0.7M402.3 634.3h0.7M397.1 640.0h0.7M401.1 629.3h0.7M405.7 633.4h0.7M403.5 634.3h0.7M398.5 640.6h0.7M400.7 639.6h0.7M401.0 629.8h0.7M396.8 632.5h0.7M400.0 634.4h0.7M400.4 637.8h0.7M400.5 631.9h0.7M406.5 637.1h0.7M401.0 635.9h0.7M398.2 630.8h0.7M401.0 630.4h0.7M400.6 637.4h0.7M400.1 630.2h0.7M400.2 630.9h0.7M403.7 635.1h0.7M400.2 640.9h0.7M403.8 632.2h0.7M400.0 634.3h0.7M401.3 636.6h0.7M402.9 640.1h0.7M378.3 610.7h0.7M381.0 602.8h0.7M384.8 614.7h0.7M371.6 613.6h0.7M380.5 615.0h0.7M373.3 608.9h0.7M395.6 608.4h0.7M391.5 604.4h0.7M362.3 598.6h0.7M364.1 612.2h0.7M372.3 609.2h0.7M386.2 603.7h0.7M395.9 608.5h0.7M393.1 614.0h0.7M362.4 601.2h0.7M368.8 599.7h0.7M395.4 605.7h0.7M377.8 602.2h0.7M382.3 614.9h0.7M378.2 613.4h0.7M380.5 600.3h0.7M365.3 604.2h0.7M390.2 611.1h0.7M376.1 606.9h0.7M380.7 615.0h0.7M373.0 614.7h0.7M369.0 598.2h0.7M370.6 615.1h0.7M377.1 600.2h0.7M367.1 601.3h0.7M417.5 597.1h0.7M411.8 616.2h0.7M365.9 641.6h0.7M436.7 597.1h0.7M394.5 600.4h0.7M406.4 613.8h0.7M366.7 625.7h0.7M427.9 589.9h0.7M426.5 611.8h0.7M382.3 602.6h0.7M397.1 601.9h0.7M357.3 602.3h0.7M427.0 625.4h0.7M367.5 628.8h0.7M423.9 599.3h0.7" stroke="#000" stroke-width="0.7" opacity="0.9"/>
<rect x="71.1" y="686.8" width="373.4" height="91.8" fill="none" stroke="#000" stroke-width="2.2"/>
<line x1="203.5" y1="686.8" x2="203.5" y2="778.6" stroke="#000" stroke-width="1.3"/>
<line x1="300.4" y1="686.8" x2="300.4" y2="778.6" stroke="#000" stroke-width="1.3"/>
<line x1="397.8" y1="686.8" x2="397.8" y2="778.6" stroke="#000" stroke-width="1.3"/>
<line x1="71" y1="709.3" x2="444.5" y2="709.3" stroke="#000" stroke-width="1.3"/>
<line x1="71" y1="732.4" x2="444.5" y2="732.4" stroke="#000" stroke-width="1.3"/>
<line x1="71" y1="755.5" x2="444.5" y2="755.5" stroke="#000" stroke-width="1.3"/>
<text x="252" y="698.1" font-size="9" font-weight="bold" text-anchor="middle">ctrl</text>
<text x="348.6" y="698.1" font-size="8.4" font-weight="bold" text-anchor="middle">Musk-L;Agrn<tspan font-size="5.6" baseline-shift="3.4">-/-</tspan></text>
<text x="420.9" y="698.1" font-size="8.4" font-weight="bold" text-anchor="middle">P value</text>
<text x="136.9" y="720.6" font-size="7.6" text-anchor="middle" fill="#222">MONOCYTES (Ly6C<tspan font-size="5" baseline-shift="3.0">high</tspan>/F4/80<tspan font-size="5" baseline-shift="3.0">-</tspan>)</text>
<text x="137.1" y="743.5" font-size="7.6" text-anchor="middle" fill="#222">MONO/MACRO (Ly6C<tspan font-size="5" baseline-shift="3.0">high</tspan>/F4/80<tspan font-size="5" baseline-shift="3.0">+</tspan>)</text>
<text x="136.7" y="766.6" font-size="7.6" text-anchor="middle" fill="#222">MACROPHAGES (Ly6C<tspan font-size="5" baseline-shift="3.0">low</tspan>/F4/80<tspan font-size="5" baseline-shift="3.0">+</tspan></text>
<text x="252" y="721.3" font-size="8.5" text-anchor="middle" fill="#222">42.06±2.9</text>
<text x="349" y="721.3" font-size="8.5" text-anchor="middle" fill="#222">59.2±5.4</text>
<text x="421" y="723.0999999999999" font-size="10.5" text-anchor="middle">**</text>
<text x="252" y="744.5" font-size="8.5" text-anchor="middle" fill="#222">8.5 ±1.2</text>
<text x="349" y="744.5" font-size="8.5" text-anchor="middle" fill="#222">21.8 ±1.0</text>
<text x="421" y="746.3" font-size="10.5" text-anchor="middle">***</text>
<text x="252" y="767.1" font-size="8.5" text-anchor="middle" fill="#222">49.1 ±4.0</text>
<text x="349" y="767.1" font-size="8.5" text-anchor="middle" fill="#222">18.74±14.0</text>
<text x="421" y="768.9" font-size="10.5" text-anchor="middle">***</text>
<line x1="145.4" y1="914.8" x2="148.4" y2="914.8" stroke="#000" stroke-width="1"/>
<text x="144.8" y="917.0999999999999" font-size="7.6" font-weight="bold" text-anchor="end">0</text>
<line x1="145.4" y1="897.4833333333333" x2="148.4" y2="897.4833333333333" stroke="#000" stroke-width="1"/>
<text x="144.8" y="899.7833333333333" font-size="7.6" font-weight="bold" text-anchor="end">10</text>
<line x1="145.4" y1="880.1666666666666" x2="148.4" y2="880.1666666666666" stroke="#000" stroke-width="1"/>
<text x="144.8" y="882.4666666666666" font-size="7.6" font-weight="bold" text-anchor="end">20</text>
<line x1="145.4" y1="862.8499999999999" x2="148.4" y2="862.8499999999999" stroke="#000" stroke-width="1"/>
<text x="144.8" y="865.1499999999999" font-size="7.6" font-weight="bold" text-anchor="end">30</text>
<line x1="145.4" y1="845.5333333333333" x2="148.4" y2="845.5333333333333" stroke="#000" stroke-width="1"/>
<text x="144.8" y="847.8333333333333" font-size="7.6" font-weight="bold" text-anchor="end">40</text>
<line x1="145.4" y1="828.2166666666667" x2="148.4" y2="828.2166666666667" stroke="#000" stroke-width="1"/>
<text x="144.8" y="830.5166666666667" font-size="7.6" font-weight="bold" text-anchor="end">50</text>
<line x1="145.4" y1="810.9" x2="148.4" y2="810.9" stroke="#000" stroke-width="1"/>
<text x="144.8" y="813.1999999999999" font-size="7.6" font-weight="bold" text-anchor="end">60</text>
<line x1="148.4" y1="810.4" x2="148.4" y2="915.4" stroke="#000" stroke-width="1.3"/>
<line x1="148.4" y1="914.8" x2="305.4" y2="914.8" stroke="#000" stroke-width="1.3"/>
<rect x="156.2" y="886.2" width="31.900000000000006" height="28.59999999999991" fill="#000"/>
<line x1="172.14999999999998" y1="884.2" x2="172.14999999999998" y2="886.2" stroke="#000" stroke-width="1"/>
<line x1="162.57999999999998" y1="884.2" x2="181.71999999999997" y2="884.2" stroke="#000" stroke-width="1.1"/>
<rect x="188.7" y="871.4" width="29.500000000000018" height="43.4" fill="#fff" stroke="#000" stroke-width="1.2"/>
<line x1="203.45" y1="865.8" x2="203.45" y2="870.8" stroke="#000" stroke-width="1"/>
<line x1="194.23999999999998" y1="865.8" x2="212.66" y2="865.8" stroke="#000" stroke-width="1.1"/>
<rect x="234.2" y="886.9" width="32.0" height="27.899999999999977" fill="#000"/>
<line x1="250.2" y1="884.2" x2="250.2" y2="886.9" stroke="#000" stroke-width="1"/>
<line x1="240.6" y1="884.2" x2="259.8" y2="884.2" stroke="#000" stroke-width="1.1"/>
<rect x="266.8" y="846.4" width="29.49999999999999" height="68.4" fill="#fff" stroke="#000" stroke-width="1.2"/>
<line x1="281.54999999999995" y1="836.9" x2="281.54999999999995" y2="845.8" stroke="#000" stroke-width="1"/>
<line x1="272.34" y1="836.9" x2="290.75999999999993" y2="836.9" stroke="#000" stroke-width="1.1"/>
<text x="129.6" y="862.3" font-size="8.8" font-weight="bold" text-anchor="middle" transform="rotate(-90 129.6 862.3)">Annexin-V<tspan font-size="5" baseline-shift="3.0">+</tspan> (%)</text>
<text x="202.3" y="830.1" font-size="11" text-anchor="middle">*</text>
<text x="281.5" y="830.8" font-size="11" text-anchor="middle">***</text>
<line x1="159.2" y1="922.7" x2="218.8" y2="922.7" stroke="#000" stroke-width="1.3"/>
<line x1="234.2" y1="922.7" x2="293.8" y2="922.7" stroke="#000" stroke-width="1.3"/>
<text x="194.6" y="936.6" font-size="10.8" text-anchor="middle" fill="#222" letter-spacing="-0.35">CD115<tspan font-size="6" baseline-shift="3.6">+</tspan>(BM)</text>
<text x="270.3" y="936.6" font-size="10.8" text-anchor="middle" fill="#222" letter-spacing="-0.3">F4/80<tspan font-size="6" baseline-shift="3.6">+</tspan>(spleen)</text>
<rect x="351.4" y="816.9" width="15.7" height="5" fill="#000"/>
<text x="368.59999999999997" y="821.8" font-size="7.6" fill="#444">ctrl</text>
<rect x="352.25" y="829.35" width="14.0" height="3.3" fill="#fff" stroke="#000" stroke-width="1.7"/>
<text x="368.59999999999997" y="836.5" font-size="8.9" fill="#444">Musk-L;Agrn<tspan font-size="5.518" baseline-shift="3.3">-/-</tspan></text>
</svg></body></html>
